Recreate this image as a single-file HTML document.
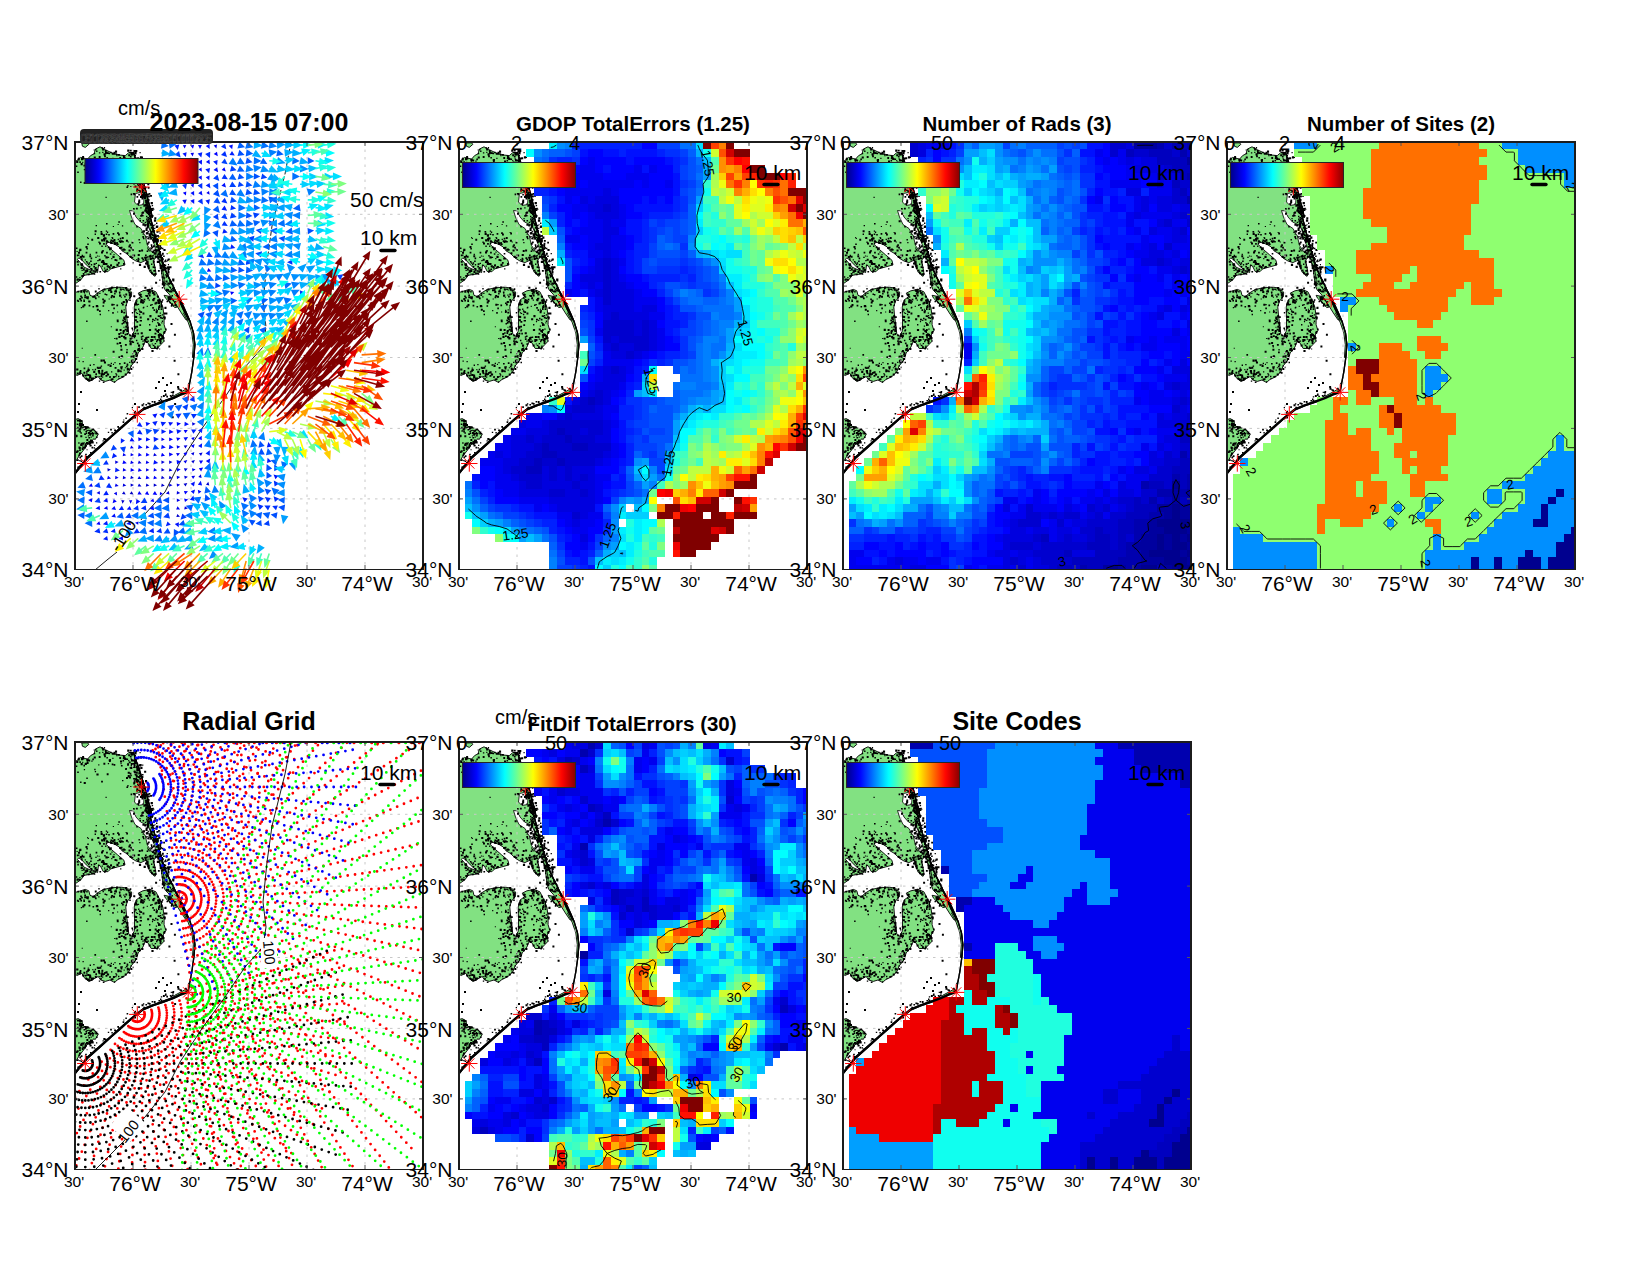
<!DOCTYPE html><html><head><meta charset="utf-8"><title>Totals diagnostics 2023-08-15 07:00</title>
<style>html,body{margin:0;padding:0;background:#fff}svg{display:block}text{font-family:'Liberation Sans',sans-serif;fill:#000}</style></head><body>
<svg width="1650" height="1275" viewBox="0 0 1650 1275">
<rect width="1650" height="1275" fill="#fff"/>
<defs>
<linearGradient id="jetg" x1="0" x2="1" y1="0" y2="0"><stop offset="0.0000" stop-color="#000088"/><stop offset="0.0312" stop-color="#0000a7"/><stop offset="0.0625" stop-color="#0000c6"/><stop offset="0.0938" stop-color="#0000e6"/><stop offset="0.1250" stop-color="#0006ff"/><stop offset="0.1562" stop-color="#0025ff"/><stop offset="0.1875" stop-color="#0045ff"/><stop offset="0.2188" stop-color="#0064ff"/><stop offset="0.2500" stop-color="#0084ff"/><stop offset="0.2812" stop-color="#00a3ff"/><stop offset="0.3125" stop-color="#00c2ff"/><stop offset="0.3438" stop-color="#00e2ff"/><stop offset="0.3750" stop-color="#02fffd"/><stop offset="0.4062" stop-color="#21ffde"/><stop offset="0.4375" stop-color="#41ffbe"/><stop offset="0.4688" stop-color="#60ff9f"/><stop offset="0.5000" stop-color="#80ff80"/><stop offset="0.5312" stop-color="#9fff60"/><stop offset="0.5625" stop-color="#beff41"/><stop offset="0.5938" stop-color="#deff21"/><stop offset="0.6250" stop-color="#fdff02"/><stop offset="0.6562" stop-color="#ffe200"/><stop offset="0.6875" stop-color="#ffc200"/><stop offset="0.7188" stop-color="#ffa300"/><stop offset="0.7500" stop-color="#ff8400"/><stop offset="0.7812" stop-color="#ff6400"/><stop offset="0.8125" stop-color="#ff4500"/><stop offset="0.8438" stop-color="#ff2500"/><stop offset="0.8750" stop-color="#ff0600"/><stop offset="0.9062" stop-color="#e60000"/><stop offset="0.9375" stop-color="#c60000"/><stop offset="0.9688" stop-color="#a70000"/><stop offset="1.0000" stop-color="#880000"/></linearGradient>
<clipPath id="pc"><rect x="0" y="0" width="348" height="427"/></clipPath>
<g id="land"><path d="M-0.3 20.3 L5.6 15.4 L12.6 17.1 L15.6 13.6 L19.1 11.8 L20.3 7.1 L25.0 4.8 L30.3 7.7 L36.2 10.6 L44.4 13.0 L50.3 13.6 L53.8 10.6 L58.5 10.6 L60.4 16.5 L65.6 31.8 L70.3 47.1 L77.4 75.4 L75.3 74.9 L80.0 93.7 L84.7 110.7 L81.8 114.4 L78.6 118.2 L80.0 125.7 L81.1 132.3 L80.0 134.4 L75.3 130.4 L72.4 123.9 L71.0 118.2 L65.9 120.6 L61.1 119.1 L56.4 116.3 L51.7 111.6 L47.0 108.8 L44.2 105.0 L40.5 102.7 L35.7 100.8 L32.5 100.3 L31.0 102.2 L35.7 106.9 L42.3 112.6 L48.9 118.2 L50.0 122.9 L42.3 125.0 L35.7 126.9 L32.9 129.7 L28.2 129.5 L25.4 123.9 L23.5 122.9 L22.6 130.6 L16.9 127.8 L11.3 122.9 L6.6 117.7 L3.8 115.9 L2.4 117.3 L9.4 125.3 L20.7 130.4 L18.8 131.8 L9.4 133.3 L5.6 138.0 L0.0 141.9 L-0.9 141.9Z M84.7 110.7 L89.4 125.7 L94.1 136.1 L98.8 145.5 L103.5 156.8 L108.2 167.1 L113.8 177.9 L111.0 177.9 L106.3 170.9 L101.6 163.4 L97.8 157.7 L94.1 152.1 L90.3 148.3 L88.0 142.7 L87.5 137.0 L85.6 123.9 L83.3 115.4Z M-1.5 150.9 L4.4 149.2 L10.3 147.4 L13.8 148.8 L15.0 153.3 L18.5 154.7 L22.1 151.2 L27.9 147.6 L36.2 145.8 L45.6 145.1 L52.6 146.2 L56.4 149.8 L56.4 154.5 L52.4 159.2 L50.8 165.1 L51.5 173.3 L52.9 183.9 L53.8 192.1 L56.4 194.5 L59.5 188.6 L59.5 176.8 L59.2 165.1 L61.1 158.0 L65.6 154.7 L63.2 151.2 L67.9 148.8 L75.0 147.4 L80.9 149.8 L84.4 156.8 L87.9 165.1 L89.1 174.5 L89.1 182.7 L90.9 188.6 L87.9 193.3 L89.1 199.2 L85.6 202.9 L82.1 206.5 L76.2 206.5 L72.6 200.4 L70.3 199.2 L67.9 205.1 L63.2 210.9 L60.9 218.0 L56.2 223.9 L53.8 229.8 L49.1 234.5 L42.1 238.0 L39.7 240.6 L35.0 238.0 L30.3 239.4 L25.6 238.0 L23.2 234.5 L18.5 237.1 L13.8 239.4 L9.1 235.6 L6.8 231.2 L2.1 233.5 L-1.5 231.2Z M89.1 153.3 L95.0 154.5 L99.1 159.4 L102.1 165.1 L99.7 165.6 L95.0 160.6 L90.5 156.2Z M-1.5 278.0 L3.2 276.6 L6.8 278.6 L8.2 284.1 L12.6 285.3 L18.5 287.4 L23.2 292.4 L20.3 297.4 L18.5 296.8 L15.0 302.7 L12.6 301.8 L9.1 307.4 L4.4 313.3 L0.9 319.2 L-1.5 321.5Z M6.8 1.0 L12.6 0.8 L13.8 2.4 L10.3 5.4 L7.4 4.2Z M85.6 118.0 L92.6 133.3 L100.9 149.8 L97.4 148.6 L93.2 143.3 L89.1 140.4 L89.1 135.6 L87.9 129.8 L84.4 120.4Z M110.9 169.8 L115.0 179.2 L118.5 190.9 L119.9 202.7 L118.8 215.6 L117.4 215.6 L118.3 202.7 L116.8 190.9 L113.2 180.4 L108.5 170.9Z M113.2 249.8 L106.8 252.1 L98.5 255.9 L99.7 253.3 L106.8 249.5 L111.5 246.8Z" fill="#82e182" stroke="#000" stroke-width="0.9" stroke-linejoin="round"/>
<path d="M60.5 51.5 L65.5 50.5 L69.0 56.5 L68.5 62.5 L63.0 63.5 L59.5 60.0Z M54.5 68.5 L58.5 69.0 L61.0 75.0 L65.5 80.0 L72.0 83.0 L75.0 87.0 L76.0 97.0 L72.5 97.0 L69.0 92.0 L66.0 86.5 L60.0 82.5 L56.5 75.0Z M70.3 94.2 L76.2 95.4 L79.7 103.6 L80.9 110.6 L77.4 110.6 L72.6 103.6Z" fill="#fff" stroke="#000" stroke-width="0.8"/>
<path d="M54.4 10.6 L58.5 10.6 L60.4 16.5 L65.6 31.8 L70.3 47.1 L77.4 75.4 L70.6 58.0 L75.3 74.9 L80.0 93.7 L84.7 110.7 L89.4 125.7 L94.1 136.1 L98.8 145.5 L103.5 156.8 L108.2 167.1 L113.8 177.9 L100.9 149.8 L105.6 158.0 L110.9 169.8 L115.0 179.2 L118.5 190.9 L119.9 202.7 L118.8 215.6 L116.8 229.8 L114.4 242.7 L113.2 249.8" fill="none" stroke="#000" stroke-width="1.3"/>
<path d="M113.2 249.8 L106.8 252.1 L98.5 255.9 L89.1 259.4 L77.4 263.5 L67.9 267.4 L56.2 276.8 L46.8 285.1 L36.2 294.5 L24.4 305.1 L12.6 315.6 L-0.3 331.5" fill="none" stroke="#000" stroke-width="2.2"/>
<path d="M50.6 90.0h1.1v1.1h-1.1zM78.6 124.7h1.2v1.2h-1.2zM6.9 113.9h1.3v1.3h-1.3zM59.9 36.3h2.2v2.2h-2.2zM43.3 79.2h1.6v1.6h-1.6zM51.2 90.6h1.8v1.8h-1.8zM38.5 97.0h1.9v1.9h-1.9zM31.1 109.8h1.7v1.7h-1.7zM61.3 46.3h2.0v2.0h-2.0zM58.4 18.0h1.5v1.5h-1.5zM74.3 66.0h1.2v1.2h-1.2zM67.6 51.4h1.4v1.4h-1.4zM66.4 41.2h1.6v1.6h-1.6zM79.1 124.7h1.6v1.6h-1.6zM79.5 131.0h1.9v1.9h-1.9zM75.4 127.6h1.1v1.1h-1.1zM62.2 27.4h1.8v1.8h-1.8zM67.3 116.8h1.8v1.8h-1.8zM9.7 20.8h2.2v2.2h-2.2zM31.4 15.0h1.5v1.5h-1.5zM34.9 99.3h1.4v1.4h-1.4zM44.6 99.3h1.6v1.6h-1.6zM2.7 16.3h2.1v2.1h-2.1zM59.5 18.3h2.1v2.1h-2.1zM34.0 106.3h1.9v1.9h-1.9zM11.6 16.9h2.1v2.1h-2.1zM24.0 100.5h2.0v2.0h-2.0zM69.8 116.6h1.6v1.6h-1.6zM33.1 104.6h1.6v1.6h-1.6zM60.7 15.5h2.0v2.0h-2.0zM22.2 95.0h2.1v2.1h-2.1zM74.3 93.6h2.1v2.1h-2.1zM45.3 105.5h1.4v1.4h-1.4zM31.6 123.6h1.7v1.7h-1.7zM71.9 70.2h1.9v1.9h-1.9zM66.3 89.5h1.5v1.5h-1.5zM18.7 14.4h2.1v2.1h-2.1zM26.7 123.5h1.2v1.2h-1.2zM72.1 63.9h1.6v1.6h-1.6zM41.3 99.9h1.6v1.6h-1.6zM63.1 58.8h2.1v2.1h-2.1zM1.7 136.6h1.2v1.2h-1.2zM28.4 20.8h1.9v1.9h-1.9zM12.2 101.4h1.6v1.6h-1.6zM63.5 97.0h1.4v1.4h-1.4zM6.1 117.4h1.1v1.1h-1.1zM79.5 127.8h1.6v1.6h-1.6zM43.0 91.5h1.9v1.9h-1.9zM29.7 120.9h1.6v1.6h-1.6zM74.4 114.8h1.4v1.4h-1.4zM2.2 29.4h1.6v1.6h-1.6zM67.3 61.5h1.1v1.1h-1.1zM76.6 115.0h1.2v1.2h-1.2zM69.7 79.8h1.3v1.3h-1.3zM77.8 115.6h1.6v1.6h-1.6zM37.4 113.8h2.2v2.2h-2.2zM78.0 87.9h1.7v1.7h-1.7zM11.1 127.9h2.2v2.2h-2.2zM4.0 108.3h1.3v1.3h-1.3zM68.6 123.7h2.2v2.2h-2.2zM23.2 22.2h1.2v1.2h-1.2zM29.2 129.6h1.3v1.3h-1.3zM40.5 100.7h1.1v1.1h-1.1zM21.4 31.4h2.2v2.2h-2.2zM34.1 123.9h1.1v1.1h-1.1zM78.6 122.3h1.4v1.4h-1.4zM27.8 92.2h2.2v2.2h-2.2zM30.8 88.5h1.2v1.2h-1.2zM44.2 104.9h2.0v2.0h-2.0zM82.1 98.8h1.6v1.6h-1.6zM69.1 49.4h1.7v1.7h-1.7zM47.8 15.7h1.6v1.6h-1.6zM71.5 77.6h2.2v2.2h-2.2zM72.0 105.4h1.2v1.2h-1.2zM9.5 129.4h1.3v1.3h-1.3zM61.2 83.9h1.7v1.7h-1.7zM71.0 69.3h2.0v2.0h-2.0zM26.3 103.4h1.5v1.5h-1.5zM13.1 17.5h2.1v2.1h-2.1zM72.9 74.9h1.2v1.2h-1.2zM26.7 108.4h1.8v1.8h-1.8zM32.0 10.3h1.8v1.8h-1.8zM30.6 9.8h1.9v1.9h-1.9zM50.2 26.0h1.8v1.8h-1.8zM7.6 113.8h2.0v2.0h-2.0zM37.0 95.6h1.3v1.3h-1.3zM37.6 113.8h1.4v1.4h-1.4zM34.3 17.1h1.7v1.7h-1.7zM66.2 72.3h2.1v2.1h-2.1zM3.1 136.4h1.2v1.2h-1.2zM42.1 90.3h1.8v1.8h-1.8zM19.8 29.0h1.3v1.3h-1.3zM30.1 103.6h1.3v1.3h-1.3zM53.4 103.6h1.9v1.9h-1.9zM15.5 126.0h1.9v1.9h-1.9zM69.5 61.9h1.6v1.6h-1.6zM0.8 134.2h1.5v1.5h-1.5zM6.6 125.8h1.3v1.3h-1.3zM63.1 116.5h1.4v1.4h-1.4zM76.0 129.5h1.2v1.2h-1.2zM16.1 130.4h1.8v1.8h-1.8zM8.3 127.2h1.5v1.5h-1.5zM36.4 109.5h1.2v1.2h-1.2zM13.7 120.3h1.5v1.5h-1.5zM42.9 120.1h1.5v1.5h-1.5zM66.5 39.6h1.7v1.7h-1.7zM73.1 78.9h2.1v2.1h-2.1zM7.0 15.8h1.4v1.4h-1.4zM64.2 99.9h1.3v1.3h-1.3zM70.8 64.9h1.8v1.8h-1.8zM59.6 31.9h1.2v1.2h-1.2zM46.9 83.2h1.3v1.3h-1.3zM3.1 112.4h1.4v1.4h-1.4zM72.2 75.3h1.2v1.2h-1.2zM28.8 5.1h1.3v1.3h-1.3zM4.2 106.7h2.2v2.2h-2.2zM72.4 116.4h1.3v1.3h-1.3zM35.2 100.0h2.1v2.1h-2.1zM14.3 113.3h1.9v1.9h-1.9zM57.5 120.0h1.4v1.4h-1.4zM62.6 115.8h1.5v1.5h-1.5zM72.8 125.0h2.0v2.0h-2.0zM63.4 57.6h1.8v1.8h-1.8zM68.9 52.6h2.1v2.1h-2.1zM74.3 108.2h1.3v1.3h-1.3zM61.2 116.9h1.3v1.3h-1.3zM1.8 112.6h1.7v1.7h-1.7zM25.5 88.9h1.7v1.7h-1.7zM63.7 108.0h2.0v2.0h-2.0zM29.5 127.2h1.2v1.2h-1.2zM20.6 109.7h1.7v1.7h-1.7zM71.8 84.7h1.9v1.9h-1.9zM29.0 125.5h1.3v1.3h-1.3zM29.1 13.4h1.8v1.8h-1.8zM1.2 18.8h2.1v2.1h-2.1zM71.5 118.6h2.1v2.1h-2.1zM74.5 113.4h1.8v1.8h-1.8zM1.5 136.8h2.0v2.0h-2.0zM38.8 99.6h2.0v2.0h-2.0zM8.6 125.4h1.2v1.2h-1.2zM5.1 39.6h1.4v1.4h-1.4zM66.4 115.2h1.9v1.9h-1.9zM30.8 100.8h1.5v1.5h-1.5zM65.3 24.8h2.2v2.2h-2.2zM33.9 18.2h1.9v1.9h-1.9zM6.4 116.3h1.2v1.2h-1.2zM7.1 13.9h2.0v2.0h-2.0zM73.3 64.8h1.3v1.3h-1.3zM18.3 123.8h1.7v1.7h-1.7zM74.9 81.1h2.1v2.1h-2.1zM69.3 82.2h2.2v2.2h-2.2zM66.1 107.4h2.0v2.0h-2.0zM71.8 100.8h1.9v1.9h-1.9zM42.6 96.8h1.3v1.3h-1.3zM27.1 118.0h2.1v2.1h-2.1zM36.7 21.6h1.7v1.7h-1.7zM8.4 22.8h1.6v1.6h-1.6zM23.6 113.7h1.1v1.1h-1.1zM55.5 16.2h1.3v1.3h-1.3zM21.0 128.2h1.3v1.3h-1.3zM5.6 21.1h2.1v2.1h-2.1zM81.1 109.0h1.5v1.5h-1.5zM50.9 97.7h2.0v2.0h-2.0zM63.3 52.0h1.6v1.6h-1.6zM37.3 15.8h1.2v1.2h-1.2zM54.5 25.3h1.3v1.3h-1.3zM30.7 91.5h1.6v1.6h-1.6zM37.6 91.0h1.7v1.7h-1.7zM69.1 52.0h1.4v1.4h-1.4zM50.1 16.3h1.4v1.4h-1.4zM57.9 51.1h2.1v2.1h-2.1zM72.0 120.3h1.7v1.7h-1.7zM10.1 128.0h1.4v1.4h-1.4zM26.0 109.4h2.0v2.0h-2.0zM23.9 10.2h1.4v1.4h-1.4zM76.7 62.9h1.4v1.4h-1.4zM77.6 124.2h1.9v1.9h-1.9zM31.7 31.3h1.9v1.9h-1.9zM61.1 30.0h1.7v1.7h-1.7zM28.7 121.2h1.7v1.7h-1.7zM79.9 107.0h1.6v1.6h-1.6zM51.4 44.4h1.7v1.7h-1.7zM83.9 109.6h1.3v1.3h-1.3zM77.1 92.1h1.3v1.3h-1.3zM69.1 114.7h1.9v1.9h-1.9zM45.0 18.5h2.1v2.1h-2.1zM57.2 112.4h1.7v1.7h-1.7zM53.2 18.1h1.1v1.1h-1.1zM26.9 119.1h1.7v1.7h-1.7zM6.0 16.0h2.2v2.2h-2.2zM65.8 45.5h1.7v1.7h-1.7zM70.4 51.9h1.5v1.5h-1.5zM52.1 22.0h1.8v1.8h-1.8zM78.0 131.6h1.9v1.9h-1.9zM28.8 95.2h2.0v2.0h-2.0zM41.3 101.4h1.8v1.8h-1.8zM63.9 121.8h2.2v2.2h-2.2zM68.7 44.1h1.7v1.7h-1.7zM4.3 134.9h1.2v1.2h-1.2zM77.1 104.5h1.4v1.4h-1.4zM67.3 94.1h1.7v1.7h-1.7zM49.2 16.0h2.0v2.0h-2.0zM64.7 21.9h2.0v2.0h-2.0zM68.8 63.7h1.1v1.1h-1.1zM56.4 114.6h1.9v1.9h-1.9zM33.5 10.8h1.5v1.5h-1.5zM26.1 97.2h2.1v2.1h-2.1zM5.3 121.6h1.6v1.6h-1.6zM55.6 78.2h2.1v2.1h-2.1zM59.3 20.2h1.9v1.9h-1.9zM74.2 78.5h1.5v1.5h-1.5zM72.7 106.8h1.6v1.6h-1.6zM70.5 53.0h1.3v1.3h-1.3zM68.8 49.5h2.0v2.0h-2.0zM77.3 113.0h1.5v1.5h-1.5zM1.5 108.9h1.2v1.2h-1.2zM44.3 15.1h1.8v1.8h-1.8zM47.2 98.9h1.6v1.6h-1.6zM68.3 45.2h2.2v2.2h-2.2zM11.4 127.2h1.9v1.9h-1.9zM19.6 88.2h2.0v2.0h-2.0zM36.2 116.1h1.2v1.2h-1.2zM9.2 130.0h1.2v1.2h-1.2zM64.4 35.7h2.1v2.1h-2.1zM72.5 122.8h2.2v2.2h-2.2zM10.5 129.5h1.3v1.3h-1.3zM34.8 111.2h1.6v1.6h-1.6zM58.5 28.8h2.2v2.2h-2.2zM23.7 14.0h1.9v1.9h-1.9zM5.4 121.9h1.7v1.7h-1.7zM70.5 117.4h1.6v1.6h-1.6zM72.4 60.1h1.7v1.7h-1.7zM74.9 112.7h1.6v1.6h-1.6zM18.9 131.4h1.4v1.4h-1.4zM39.0 101.6h1.2v1.2h-1.2zM9.7 117.2h1.2v1.2h-1.2zM15.1 118.5h1.6v1.6h-1.6zM45.1 126.3h1.3v1.3h-1.3zM33.2 92.0h1.6v1.6h-1.6zM47.6 13.1h1.2v1.2h-1.2zM64.3 44.1h1.9v1.9h-1.9zM20.3 114.7h1.4v1.4h-1.4zM43.0 11.9h1.9v1.9h-1.9zM11.6 20.1h2.0v2.0h-2.0zM11.8 120.4h1.4v1.4h-1.4zM26.1 38.8h1.8v1.8h-1.8zM58.0 70.8h1.9v1.9h-1.9zM3.0 109.8h2.0v2.0h-2.0zM74.6 115.9h2.1v2.1h-2.1zM31.2 127.2h1.2v1.2h-1.2zM18.6 121.2h1.9v1.9h-1.9zM52.7 99.5h1.1v1.1h-1.1zM5.6 124.9h2.2v2.2h-2.2zM71.0 62.7h1.5v1.5h-1.5zM19.4 128.2h1.6v1.6h-1.6zM62.3 61.0h1.9v1.9h-1.9zM8.2 132.6h1.5v1.5h-1.5zM7.2 19.8h1.1v1.1h-1.1zM74.8 127.8h1.7v1.7h-1.7zM58.9 28.5h1.6v1.6h-1.6zM45.5 21.1h1.1v1.1h-1.1zM72.1 114.3h1.5v1.5h-1.5zM1.7 118.8h2.0v2.0h-2.0zM75.5 89.1h1.6v1.6h-1.6zM18.6 7.4h1.1v1.1h-1.1zM10.6 109.8h1.8v1.8h-1.8zM23.4 99.6h1.4v1.4h-1.4zM53.1 32.9h1.6v1.6h-1.6zM48.4 122.0h1.2v1.2h-1.2zM72.6 88.7h1.3v1.3h-1.3zM46.8 95.0h1.9v1.9h-1.9zM76.1 90.5h1.3v1.3h-1.3zM6.1 122.4h2.1v2.1h-2.1zM21.9 113.4h1.2v1.2h-1.2zM30.4 114.3h2.1v2.1h-2.1zM51.4 110.3h2.0v2.0h-2.0zM70.8 90.5h2.1v2.1h-2.1zM20.1 6.9h1.4v1.4h-1.4zM42.6 81.9h1.1v1.1h-1.1zM46.7 107.2h1.2v1.2h-1.2zM45.4 115.9h1.5v1.5h-1.5zM42.2 101.6h1.5v1.5h-1.5zM76.1 130.2h2.0v2.0h-2.0zM28.5 11.3h2.1v2.1h-2.1zM44.2 115.5h2.0v2.0h-2.0zM24.4 128.9h1.7v1.7h-1.7zM27.8 120.9h2.0v2.0h-2.0zM59.8 32.0h1.4v1.4h-1.4zM11.3 16.8h1.9v1.9h-1.9zM38.1 124.1h1.8v1.8h-1.8zM66.8 47.8h1.7v1.7h-1.7zM17.3 16.6h1.6v1.6h-1.6zM10.5 103.9h2.0v2.0h-2.0zM51.0 34.9h2.0v2.0h-2.0zM69.3 54.4h1.4v1.4h-1.4zM41.4 121.8h2.2v2.2h-2.2zM5.9 123.3h1.3v1.3h-1.3zM78.5 103.4h1.4v1.4h-1.4zM58.3 112.5h1.9v1.9h-1.9zM12.1 95.1h1.1v1.1h-1.1zM73.5 62.7h1.4v1.4h-1.4zM40.0 8.6h2.1v2.1h-2.1zM25.6 90.8h2.1v2.1h-2.1zM61.0 23.8h1.9v1.9h-1.9zM33.7 17.3h1.8v1.8h-1.8zM20.7 120.8h1.3v1.3h-1.3zM66.5 55.3h2.1v2.1h-2.1zM54.2 102.3h1.7v1.7h-1.7zM70.0 53.7h1.3v1.3h-1.3zM35.1 9.7h1.6v1.6h-1.6zM21.1 8.5h1.4v1.4h-1.4zM12.9 131.4h1.9v1.9h-1.9zM19.2 26.8h1.4v1.4h-1.4zM62.8 48.0h1.1v1.1h-1.1zM31.1 114.8h1.7v1.7h-1.7zM15.8 122.0h1.4v1.4h-1.4zM55.6 51.6h1.6v1.6h-1.6zM72.2 57.1h2.1v2.1h-2.1zM44.7 110.9h1.6v1.6h-1.6zM56.2 12.2h1.6v1.6h-1.6zM13.0 121.8h1.5v1.5h-1.5zM23.1 122.7h1.5v1.5h-1.5zM37.8 83.9h1.2v1.2h-1.2zM54.7 30.8h1.6v1.6h-1.6zM75.3 95.7h1.7v1.7h-1.7zM34.0 125.1h1.7v1.7h-1.7zM32.7 104.8h1.5v1.5h-1.5zM32.7 124.9h1.1v1.1h-1.1zM14.6 111.7h1.3v1.3h-1.3zM36.8 10.9h1.8v1.8h-1.8zM58.8 40.8h1.2v1.2h-1.2zM66.3 44.1h2.2v2.2h-2.2zM78.6 93.9h1.2v1.2h-1.2zM56.5 99.7h1.9v1.9h-1.9zM32.8 20.9h1.3v1.3h-1.3zM78.3 128.0h1.8v1.8h-1.8zM76.5 113.7h1.2v1.2h-1.2zM78.8 94.9h2.0v2.0h-2.0zM10.9 119.0h1.6v1.6h-1.6zM75.7 102.2h1.6v1.6h-1.6zM38.2 11.0h1.2v1.2h-1.2zM47.8 106.6h2.1v2.1h-2.1zM44.7 95.8h1.6v1.6h-1.6zM52.3 43.1h1.3v1.3h-1.3zM4.3 19.3h1.6v1.6h-1.6zM55.3 32.7h1.5v1.5h-1.5zM81.0 100.2h1.2v1.2h-1.2zM58.1 20.9h1.5v1.5h-1.5zM28.1 96.1h2.2v2.2h-2.2zM38.5 9.7h1.9v1.9h-1.9zM38.0 11.1h1.7v1.7h-1.7zM8.8 26.9h1.3v1.3h-1.3zM10.5 127.5h1.6v1.6h-1.6zM30.0 9.7h1.8v1.8h-1.8zM47.6 18.1h1.5v1.5h-1.5zM17.8 130.5h1.8v1.8h-1.8zM67.0 72.7h1.6v1.6h-1.6zM18.8 10.9h1.4v1.4h-1.4zM27.7 119.7h2.2v2.2h-2.2zM27.2 9.7h1.2v1.2h-1.2zM11.7 18.8h1.1v1.1h-1.1zM77.8 118.5h1.9v1.9h-1.9zM60.9 33.6h2.0v2.0h-2.0zM3.7 136.7h2.1v2.1h-2.1zM35.1 105.2h1.7v1.7h-1.7zM70.1 65.9h1.9v1.9h-1.9zM67.9 88.2h2.2v2.2h-2.2zM28.1 92.9h1.8v1.8h-1.8zM35.4 97.6h1.9v1.9h-1.9zM64.1 39.2h2.1v2.1h-2.1zM73.3 70.5h1.2v1.2h-1.2zM32.8 114.7h1.3v1.3h-1.3zM43.7 98.3h1.7v1.7h-1.7zM31.5 126.6h1.5v1.5h-1.5zM4.8 113.9h2.1v2.1h-2.1zM72.6 95.3h1.7v1.7h-1.7zM71.8 121.3h1.9v1.9h-1.9zM27.1 6.5h2.1v2.1h-2.1zM20.1 125.1h1.6v1.6h-1.6zM45.5 98.3h2.1v2.1h-2.1zM79.6 110.4h2.0v2.0h-2.0zM26.5 97.3h2.1v2.1h-2.1zM67.5 77.9h1.6v1.6h-1.6zM31.9 89.6h1.3v1.3h-1.3zM45.9 22.9h1.7v1.7h-1.7zM30.8 98.3h2.1v2.1h-2.1zM72.9 99.5h1.8v1.8h-1.8zM38.5 112.0h1.1v1.1h-1.1zM80.1 115.1h1.2v1.2h-1.2zM37.4 124.2h1.5v1.5h-1.5zM68.1 50.3h2.0v2.0h-2.0zM80.7 113.7h1.6v1.6h-1.6zM38.6 22.1h1.7v1.7h-1.7zM66.6 53.4h1.8v1.8h-1.8zM79.8 113.6h1.6v1.6h-1.6zM78.0 95.2h2.2v2.2h-2.2zM30.1 10.8h1.5v1.5h-1.5zM66.6 49.4h1.7v1.7h-1.7zM52.1 21.3h1.9v1.9h-1.9zM44.5 15.0h1.1v1.1h-1.1zM29.5 128.0h1.9v1.9h-1.9zM74.5 92.4h1.4v1.4h-1.4zM80.6 103.7h2.0v2.0h-2.0zM58.1 17.7h1.2v1.2h-1.2zM73.8 92.5h1.6v1.6h-1.6zM11.3 106.0h1.6v1.6h-1.6zM5.9 116.3h1.7v1.7h-1.7zM45.7 104.8h1.8v1.8h-1.8zM48.9 14.7h1.7v1.7h-1.7zM70.0 112.4h1.7v1.7h-1.7zM63.5 47.7h1.2v1.2h-1.2zM31.9 123.2h2.0v2.0h-2.0zM60.6 32.3h1.9v1.9h-1.9zM72.0 82.1h1.6v1.6h-1.6zM40.9 117.6h1.6v1.6h-1.6zM39.5 117.1h1.8v1.8h-1.8zM70.6 85.5h2.0v2.0h-2.0zM55.2 104.7h1.7v1.7h-1.7zM23.7 116.8h2.0v2.0h-2.0zM59.3 15.6h1.2v1.2h-1.2zM49.6 107.2h1.2v1.2h-1.2zM78.6 110.8h2.0v2.0h-2.0zM32.4 99.2h1.4v1.4h-1.4zM3.3 15.5h1.2v1.2h-1.2zM27.4 108.1h1.4v1.4h-1.4zM6.0 121.2h2.1v2.1h-2.1zM14.4 128.8h2.1v2.1h-2.1zM42.9 119.9h1.8v1.8h-1.8zM38.5 11.1h1.6v1.6h-1.6zM36.9 125.2h1.2v1.2h-1.2zM7.5 15.8h1.8v1.8h-1.8zM8.7 39.9h2.1v2.1h-2.1zM28.9 98.3h1.2v1.2h-1.2zM76.2 82.5h1.5v1.5h-1.5zM6.6 112.7h1.4v1.4h-1.4zM31.0 81.0h1.6v1.6h-1.6zM19.4 125.8h2.0v2.0h-2.0zM6.3 133.0h2.0v2.0h-2.0zM62.1 41.7h1.9v1.9h-1.9zM56.6 106.4h1.3v1.3h-1.3zM29.2 113.0h1.5v1.5h-1.5zM53.8 19.4h1.9v1.9h-1.9zM48.0 121.0h1.8v1.8h-1.8zM74.3 86.7h1.3v1.3h-1.3zM15.6 115.6h1.6v1.6h-1.6zM0.8 105.4h1.7v1.7h-1.7zM30.5 121.0h2.0v2.0h-2.0zM26.7 118.1h2.0v2.0h-2.0zM41.3 13.0h1.3v1.3h-1.3zM29.8 7.9h1.9v1.9h-1.9zM70.0 62.7h2.1v2.1h-2.1zM73.9 73.4h1.7v1.7h-1.7zM76.0 121.6h1.4v1.4h-1.4zM40.5 11.4h1.7v1.7h-1.7zM30.5 54.7h1.2v1.2h-1.2zM47.0 37.9h1.4v1.4h-1.4zM70.5 86.8h2.1v2.1h-2.1zM51.5 16.5h1.6v1.6h-1.6zM8.0 126.4h1.6v1.6h-1.6zM60.5 24.7h1.3v1.3h-1.3zM11.5 131.5h1.1v1.1h-1.1zM28.1 101.0h1.7v1.7h-1.7zM71.0 73.8h1.4v1.4h-1.4zM58.0 66.0h1.7v1.7h-1.7zM7.7 131.0h1.6v1.6h-1.6zM11.3 35.6h1.5v1.5h-1.5zM48.0 14.1h1.9v1.9h-1.9zM16.3 18.5h1.3v1.3h-1.3zM25.9 119.3h1.8v1.8h-1.8zM53.5 107.5h2.1v2.1h-2.1zM76.8 95.1h1.2v1.2h-1.2zM78.8 95.0h2.1v2.1h-2.1zM6.5 117.3h1.1v1.1h-1.1zM70.0 120.6h1.8v1.8h-1.8zM70.0 114.4h2.1v2.1h-2.1zM13.8 123.9h1.6v1.6h-1.6zM57.2 107.0h1.8v1.8h-1.8zM61.6 36.9h2.0v2.0h-2.0zM2.3 121.8h1.6v1.6h-1.6zM53.2 12.2h2.0v2.0h-2.0zM62.7 111.9h2.1v2.1h-2.1zM62.3 118.0h1.9v1.9h-1.9zM16.3 96.8h1.9v1.9h-1.9zM67.4 81.8h2.0v2.0h-2.0zM12.8 95.9h1.1v1.1h-1.1zM6.5 127.7h1.3v1.3h-1.3zM55.0 113.8h1.6v1.6h-1.6zM63.7 35.1h1.1v1.1h-1.1zM62.2 15.2h2.0v2.0h-2.0zM58.2 40.9h1.7v1.7h-1.7zM67.1 51.6h2.0v2.0h-2.0zM65.2 65.2h1.4v1.4h-1.4zM78.9 98.8h1.8v1.8h-1.8zM67.9 95.7h1.6v1.6h-1.6zM75.2 81.5h1.7v1.7h-1.7zM54.7 114.0h1.9v1.9h-1.9zM67.5 54.0h1.4v1.4h-1.4zM70.4 60.0h1.8v1.8h-1.8zM19.6 91.6h1.4v1.4h-1.4zM29.6 95.4h2.0v2.0h-2.0zM35.0 122.5h2.0v2.0h-2.0zM37.1 98.3h2.2v2.2h-2.2zM77.0 86.8h1.6v1.6h-1.6zM26.5 5.2h1.5v1.5h-1.5zM36.5 94.9h1.3v1.3h-1.3zM65.2 72.9h1.8v1.8h-1.8zM22.3 117.9h1.3v1.3h-1.3zM0.9 23.5h1.4v1.4h-1.4zM6.5 15.9h1.5v1.5h-1.5zM20.6 82.9h1.4v1.4h-1.4zM78.1 97.6h1.9v1.9h-1.9zM39.7 101.6h1.3v1.3h-1.3zM67.2 54.5h1.4v1.4h-1.4zM73.8 113.3h1.7v1.7h-1.7zM35.6 122.3h1.2v1.2h-1.2zM70.7 57.8h1.5v1.5h-1.5zM21.1 126.9h1.9v1.9h-1.9zM51.8 191.0h1.3v1.3h-1.3zM61.3 188.0h1.5v1.5h-1.5zM31.8 232.3h1.1v1.1h-1.1zM54.2 198.2h1.7v1.7h-1.7zM84.7 170.5h1.2v1.2h-1.2zM60.2 211.8h1.6v1.6h-1.6zM24.3 231.0h1.2v1.2h-1.2zM81.7 176.7h1.8v1.8h-1.8zM71.7 147.2h2.1v2.1h-2.1zM21.9 152.4h1.3v1.3h-1.3zM45.6 225.6h1.8v1.8h-1.8zM36.3 161.7h2.1v2.1h-2.1zM39.0 239.3h1.1v1.1h-1.1zM78.1 202.8h1.4v1.4h-1.4zM90.0 186.5h1.7v1.7h-1.7zM77.2 165.0h1.7v1.7h-1.7zM47.3 177.7h1.6v1.6h-1.6zM68.8 198.0h1.6v1.6h-1.6zM14.5 232.4h1.6v1.6h-1.6zM51.3 180.1h2.1v2.1h-2.1zM47.8 180.3h1.4v1.4h-1.4zM83.4 156.9h1.9v1.9h-1.9zM73.3 149.5h2.1v2.1h-2.1zM87.5 195.1h2.0v2.0h-2.0zM73.9 186.9h2.2v2.2h-2.2zM8.7 147.7h2.1v2.1h-2.1zM50.9 223.5h1.7v1.7h-1.7zM83.0 166.5h1.6v1.6h-1.6zM37.4 145.5h1.1v1.1h-1.1zM54.2 150.2h2.1v2.1h-2.1zM64.4 207.5h1.6v1.6h-1.6zM14.6 222.6h1.4v1.4h-1.4zM55.5 213.8h1.8v1.8h-1.8zM76.3 148.3h1.7v1.7h-1.7zM10.7 154.2h1.1v1.1h-1.1zM64.6 178.1h1.5v1.5h-1.5zM59.8 184.2h1.3v1.3h-1.3zM76.1 145.5h1.8v1.8h-1.8zM21.8 166.7h2.0v2.0h-2.0zM76.6 197.1h1.9v1.9h-1.9zM65.5 177.9h1.5v1.5h-1.5zM67.0 158.0h1.7v1.7h-1.7zM49.3 195.0h2.2v2.2h-2.2zM32.5 222.3h1.5v1.5h-1.5zM34.2 222.2h1.1v1.1h-1.1zM11.1 230.2h1.5v1.5h-1.5zM48.6 167.3h1.2v1.2h-1.2zM50.4 162.7h1.3v1.3h-1.3zM8.8 162.0h1.7v1.7h-1.7zM68.8 196.9h2.1v2.1h-2.1zM82.9 158.9h2.0v2.0h-2.0zM57.5 193.2h1.6v1.6h-1.6zM86.8 172.2h1.2v1.2h-1.2zM55.1 154.0h1.2v1.2h-1.2zM60.1 212.1h1.5v1.5h-1.5zM82.1 157.6h1.9v1.9h-1.9zM70.8 198.9h2.0v2.0h-2.0zM54.2 154.8h1.8v1.8h-1.8zM64.3 182.2h1.8v1.8h-1.8zM86.1 192.9h1.5v1.5h-1.5zM61.1 161.7h1.8v1.8h-1.8zM37.9 234.1h2.0v2.0h-2.0zM56.6 194.8h1.5v1.5h-1.5zM49.7 231.4h2.1v2.1h-2.1zM58.0 209.4h1.4v1.4h-1.4zM83.2 192.1h1.7v1.7h-1.7zM5.2 153.6h1.7v1.7h-1.7zM35.0 147.3h1.6v1.6h-1.6zM59.8 159.9h1.6v1.6h-1.6zM83.8 162.7h1.2v1.2h-1.2zM6.7 205.7h1.1v1.1h-1.1zM19.8 233.9h2.0v2.0h-2.0zM27.1 147.7h1.1v1.1h-1.1zM60.9 210.4h1.5v1.5h-1.5zM60.0 215.8h2.2v2.2h-2.2zM9.8 232.7h1.7v1.7h-1.7zM88.8 189.1h1.6v1.6h-1.6zM60.3 209.7h1.9v1.9h-1.9zM65.8 154.3h1.5v1.5h-1.5zM73.7 157.6h1.2v1.2h-1.2zM61.7 187.3h1.5v1.5h-1.5zM64.1 208.0h1.5v1.5h-1.5zM52.1 174.3h1.7v1.7h-1.7zM56.0 218.8h1.4v1.4h-1.4zM20.8 163.0h2.2v2.2h-2.2zM13.6 162.7h1.7v1.7h-1.7zM23.0 225.5h1.5v1.5h-1.5zM79.5 160.5h2.1v2.1h-2.1zM18.2 228.8h2.1v2.1h-2.1zM48.8 220.3h1.7v1.7h-1.7zM58.8 183.7h1.8v1.8h-1.8zM85.2 198.2h1.2v1.2h-1.2zM84.8 192.0h2.2v2.2h-2.2zM30.9 152.1h1.5v1.5h-1.5zM55.9 218.1h2.2v2.2h-2.2zM41.7 177.4h1.9v1.9h-1.9zM49.1 153.9h1.6v1.6h-1.6zM11.8 236.4h1.2v1.2h-1.2zM62.0 170.9h1.2v1.2h-1.2zM50.3 151.5h1.9v1.9h-1.9zM74.5 148.5h1.4v1.4h-1.4zM64.7 174.6h2.0v2.0h-2.0zM67.7 165.3h1.3v1.3h-1.3zM74.4 173.1h2.1v2.1h-2.1zM48.6 227.6h1.1v1.1h-1.1zM8.3 158.3h1.7v1.7h-1.7zM64.7 152.9h1.8v1.8h-1.8zM88.4 198.4h1.1v1.1h-1.1zM82.7 173.2h1.9v1.9h-1.9zM59.1 161.5h2.0v2.0h-2.0zM52.1 222.5h1.3v1.3h-1.3zM50.6 159.6h1.1v1.1h-1.1zM79.7 160.7h1.9v1.9h-1.9zM59.7 185.2h1.6v1.6h-1.6zM51.1 158.6h1.8v1.8h-1.8zM65.5 157.0h2.1v2.1h-2.1zM34.4 234.0h1.4v1.4h-1.4zM58.2 213.1h1.4v1.4h-1.4zM36.0 229.2h1.3v1.3h-1.3zM82.8 159.9h2.2v2.2h-2.2zM29.5 151.4h1.5v1.5h-1.5zM83.0 165.4h1.5v1.5h-1.5zM40.8 232.2h1.5v1.5h-1.5zM21.6 163.5h1.8v1.8h-1.8zM13.4 158.4h2.1v2.1h-2.1zM56.4 185.5h1.7v1.7h-1.7zM80.9 159.8h1.2v1.2h-1.2zM23.6 233.9h1.2v1.2h-1.2zM63.1 166.6h1.3v1.3h-1.3zM45.8 154.7h1.1v1.1h-1.1zM64.5 169.4h1.3v1.3h-1.3zM27.1 234.6h1.2v1.2h-1.2zM74.9 150.2h1.3v1.3h-1.3zM25.4 233.4h1.8v1.8h-1.8zM73.7 146.8h1.8v1.8h-1.8zM63.0 202.6h2.1v2.1h-2.1zM68.6 156.7h1.8v1.8h-1.8zM83.8 173.5h1.5v1.5h-1.5zM11.4 232.3h1.5v1.5h-1.5zM85.6 166.2h1.7v1.7h-1.7zM86.9 157.2h1.5v1.5h-1.5zM39.4 220.1h1.2v1.2h-1.2zM27.5 148.8h1.4v1.4h-1.4zM11.9 237.1h1.5v1.5h-1.5zM73.7 152.5h1.9v1.9h-1.9zM53.8 152.0h2.1v2.1h-2.1zM57.3 191.2h2.0v2.0h-2.0zM70.2 152.9h1.7v1.7h-1.7zM14.1 233.7h2.2v2.2h-2.2zM33.8 145.8h1.3v1.3h-1.3zM23.8 238.4h1.4v1.4h-1.4zM65.2 159.0h2.2v2.2h-2.2zM35.6 236.5h2.0v2.0h-2.0zM34.2 234.4h1.6v1.6h-1.6zM81.5 197.1h2.0v2.0h-2.0zM58.5 153.4h1.8v1.8h-1.8zM62.3 190.8h1.6v1.6h-1.6zM50.8 146.8h2.0v2.0h-2.0zM35.5 145.2h1.8v1.8h-1.8zM45.9 168.8h2.0v2.0h-2.0zM81.3 188.1h1.8v1.8h-1.8zM59.9 160.4h2.1v2.1h-2.1zM12.5 226.8h2.0v2.0h-2.0zM48.6 147.4h1.2v1.2h-1.2zM57.5 199.5h1.6v1.6h-1.6zM69.9 198.9h1.4v1.4h-1.4zM28.9 219.5h2.1v2.1h-2.1zM79.4 194.4h1.2v1.2h-1.2zM35.2 149.0h2.1v2.1h-2.1zM4.1 230.8h1.7v1.7h-1.7zM27.8 239.4h1.7v1.7h-1.7zM71.1 152.9h2.0v2.0h-2.0zM48.4 184.7h1.1v1.1h-1.1zM84.1 156.7h1.5v1.5h-1.5zM61.4 212.5h1.6v1.6h-1.6zM68.5 159.1h1.3v1.3h-1.3zM48.2 175.4h1.7v1.7h-1.7zM62.7 205.9h2.1v2.1h-2.1zM11.1 236.2h1.6v1.6h-1.6zM39.2 148.6h1.9v1.9h-1.9zM46.3 234.1h1.6v1.6h-1.6zM60.7 213.8h1.7v1.7h-1.7zM75.9 194.0h2.0v2.0h-2.0zM3.5 218.5h1.3v1.3h-1.3zM30.5 232.9h1.9v1.9h-1.9zM45.2 228.6h1.6v1.6h-1.6zM78.3 193.9h2.2v2.2h-2.2zM21.4 152.5h1.6v1.6h-1.6zM74.0 182.1h1.4v1.4h-1.4zM52.1 188.2h1.2v1.2h-1.2zM17.1 235.6h1.9v1.9h-1.9zM43.3 191.0h1.9v1.9h-1.9zM81.0 166.7h1.1v1.1h-1.1zM51.5 191.3h1.6v1.6h-1.6zM56.1 198.7h2.0v2.0h-2.0zM54.9 201.1h1.5v1.5h-1.5zM44.0 152.6h2.2v2.2h-2.2zM8.4 162.3h1.9v1.9h-1.9zM61.4 178.9h1.9v1.9h-1.9zM52.8 226.4h1.9v1.9h-1.9zM60.2 166.9h1.5v1.5h-1.5zM47.8 188.1h2.0v2.0h-2.0zM47.7 158.9h2.2v2.2h-2.2zM11.1 178.4h1.5v1.5h-1.5zM51.6 186.5h1.7v1.7h-1.7zM23.2 228.9h1.8v1.8h-1.8zM35.6 154.6h1.7v1.7h-1.7zM5.3 157.7h1.7v1.7h-1.7zM24.2 150.8h1.3v1.3h-1.3zM1.9 157.8h1.6v1.6h-1.6zM4.3 156.0h1.9v1.9h-1.9zM28.5 146.6h2.0v2.0h-2.0zM73.9 187.5h1.5v1.5h-1.5zM86.2 194.0h1.8v1.8h-1.8zM82.9 187.1h1.8v1.8h-1.8zM12.2 227.9h1.8v1.8h-1.8zM71.7 163.8h1.1v1.1h-1.1zM71.6 197.3h1.1v1.1h-1.1zM58.9 193.1h2.0v2.0h-2.0zM44.5 145.1h1.2v1.2h-1.2zM24.0 168.3h1.7v1.7h-1.7zM49.8 145.0h2.2v2.2h-2.2zM19.9 155.4h1.8v1.8h-1.8zM26.4 227.8h1.9v1.9h-1.9zM86.8 178.6h1.3v1.3h-1.3zM40.2 234.0h1.3v1.3h-1.3zM88.7 174.4h2.1v2.1h-2.1zM49.4 195.3h2.1v2.1h-2.1zM18.6 153.6h2.1v2.1h-2.1zM50.3 183.7h2.0v2.0h-2.0zM22.8 228.1h2.2v2.2h-2.2zM59.6 190.8h1.8v1.8h-1.8zM55.5 223.2h1.3v1.3h-1.3zM41.6 200.7h1.9v1.9h-1.9zM47.5 188.8h1.9v1.9h-1.9zM83.2 194.3h1.7v1.7h-1.7zM54.6 195.8h2.0v2.0h-2.0zM58.9 207.9h2.0v2.0h-2.0zM57.5 224.7h1.4v1.4h-1.4zM80.6 168.9h1.5v1.5h-1.5zM58.9 169.1h1.5v1.5h-1.5zM7.9 148.3h2.1v2.1h-2.1zM12.9 236.4h1.4v1.4h-1.4zM10.7 236.1h1.6v1.6h-1.6zM49.9 201.9h1.9v1.9h-1.9zM56.8 170.1h1.4v1.4h-1.4zM88.8 170.4h2.0v2.0h-2.0zM11.2 149.0h1.5v1.5h-1.5zM56.6 213.4h1.3v1.3h-1.3zM51.5 182.3h1.7v1.7h-1.7zM34.5 222.8h2.1v2.1h-2.1zM84.9 191.5h1.4v1.4h-1.4zM48.3 174.4h2.0v2.0h-2.0zM33.0 147.3h1.9v1.9h-1.9zM76.9 179.0h1.2v1.2h-1.2zM23.3 146.0h1.4v1.4h-1.4zM42.1 169.4h1.1v1.1h-1.1zM56.4 219.6h1.8v1.8h-1.8zM70.9 194.7h1.9v1.9h-1.9zM83.2 164.0h1.9v1.9h-1.9zM54.6 146.2h1.7v1.7h-1.7zM26.5 228.9h1.1v1.1h-1.1zM54.1 219.7h1.3v1.3h-1.3zM46.6 224.2h1.3v1.3h-1.3zM82.2 180.1h1.4v1.4h-1.4zM80.0 175.7h1.5v1.5h-1.5zM57.0 210.9h1.4v1.4h-1.4zM4.9 228.0h1.1v1.1h-1.1zM84.6 195.9h2.1v2.1h-2.1zM77.6 157.4h1.9v1.9h-1.9zM46.5 181.0h1.5v1.5h-1.5zM85.6 160.8h1.4v1.4h-1.4zM2.4 148.7h1.7v1.7h-1.7zM57.5 193.8h1.8v1.8h-1.8zM85.5 162.1h1.6v1.6h-1.6zM61.0 170.2h1.2v1.2h-1.2zM60.2 173.9h2.0v2.0h-2.0zM39.1 151.0h1.5v1.5h-1.5zM86.6 194.8h2.1v2.1h-2.1zM82.1 188.6h1.9v1.9h-1.9zM44.3 228.2h1.6v1.6h-1.6zM86.3 180.3h1.1v1.1h-1.1zM63.9 205.6h1.3v1.3h-1.3zM21.8 224.8h1.9v1.9h-1.9zM38.3 165.6h1.6v1.6h-1.6zM79.7 196.5h1.2v1.2h-1.2zM53.9 230.0h1.7v1.7h-1.7zM12.6 237.8h1.1v1.1h-1.1zM65.7 190.2h2.1v2.1h-2.1zM67.5 170.5h1.9v1.9h-1.9zM79.7 186.5h2.0v2.0h-2.0zM37.9 221.8h1.1v1.1h-1.1zM76.4 161.9h1.4v1.4h-1.4zM37.6 208.7h2.0v2.0h-2.0zM17.5 163.9h1.6v1.6h-1.6zM80.5 159.7h2.0v2.0h-2.0zM79.0 204.2h1.9v1.9h-1.9zM10.3 235.6h1.7v1.7h-1.7zM43.4 193.7h2.2v2.2h-2.2zM13.8 237.8h1.7v1.7h-1.7zM53.4 149.9h1.5v1.5h-1.5zM66.3 190.4h1.2v1.2h-1.2zM18.4 153.4h1.5v1.5h-1.5zM23.2 154.2h1.3v1.3h-1.3zM54.4 153.6h1.6v1.6h-1.6zM11.1 228.7h1.4v1.4h-1.4zM86.1 196.2h1.6v1.6h-1.6zM87.2 193.3h1.7v1.7h-1.7zM5.8 165.0h1.3v1.3h-1.3zM7.5 218.9h1.3v1.3h-1.3zM86.8 175.6h1.3v1.3h-1.3zM47.8 180.0h1.7v1.7h-1.7zM47.5 190.5h1.6v1.6h-1.6zM51.8 226.9h1.6v1.6h-1.6zM63.7 151.6h1.9v1.9h-1.9zM4.1 229.4h2.1v2.1h-2.1zM78.7 155.7h1.6v1.6h-1.6zM60.9 197.8h1.5v1.5h-1.5zM18.2 221.9h1.4v1.4h-1.4zM50.3 173.0h1.9v1.9h-1.9zM72.9 198.6h1.2v1.2h-1.2zM7.2 232.4h2.2v2.2h-2.2zM82.9 189.8h1.2v1.2h-1.2zM41.4 162.6h1.7v1.7h-1.7zM1.2 226.4h2.2v2.2h-2.2zM67.3 198.5h1.3v1.3h-1.3zM48.6 179.0h1.4v1.4h-1.4zM83.0 182.4h1.5v1.5h-1.5zM49.6 186.8h1.8v1.8h-1.8zM27.5 163.2h1.6v1.6h-1.6zM77.2 156.9h1.9v1.9h-1.9zM55.3 152.2h1.1v1.1h-1.1zM45.9 169.8h1.1v1.1h-1.1zM51.7 225.7h1.9v1.9h-1.9zM61.1 183.7h1.9v1.9h-1.9zM48.3 174.5h1.2v1.2h-1.2zM49.6 191.7h1.7v1.7h-1.7zM23.3 229.8h1.9v1.9h-1.9zM75.3 198.3h1.8v1.8h-1.8zM85.0 172.9h1.2v1.2h-1.2zM64.6 151.5h1.6v1.6h-1.6zM79.5 190.7h1.9v1.9h-1.9zM73.5 147.7h2.0v2.0h-2.0zM77.1 150.1h1.9v1.9h-1.9zM48.3 169.7h1.9v1.9h-1.9zM4.7 228.1h1.7v1.7h-1.7zM15.6 235.4h2.0v2.0h-2.0zM33.6 156.4h1.2v1.2h-1.2zM20.3 231.6h1.7v1.7h-1.7zM66.3 205.9h2.1v2.1h-2.1zM79.1 177.8h1.3v1.3h-1.3zM24.6 171.8h1.4v1.4h-1.4zM9.3 152.4h1.7v1.7h-1.7zM46.9 161.5h1.9v1.9h-1.9zM49.7 177.3h1.2v1.2h-1.2zM61.5 219.8h1.5v1.5h-1.5zM8.4 229.8h1.9v1.9h-1.9zM26.1 232.8h1.1v1.1h-1.1zM8.6 225.5h1.7v1.7h-1.7zM72.1 176.2h2.1v2.1h-2.1zM82.0 153.7h2.0v2.0h-2.0zM81.0 198.7h1.5v1.5h-1.5zM59.7 214.7h1.1v1.1h-1.1zM47.6 177.4h1.5v1.5h-1.5zM85.3 186.4h1.3v1.3h-1.3zM80.8 183.5h1.3v1.3h-1.3zM62.7 161.7h1.4v1.4h-1.4zM42.3 227.3h2.1v2.1h-2.1zM77.0 176.7h1.9v1.9h-1.9zM52.3 229.4h1.8v1.8h-1.8zM51.6 221.4h1.6v1.6h-1.6zM40.7 186.8h2.1v2.1h-2.1zM5.3 148.7h2.0v2.0h-2.0zM48.3 152.4h1.3v1.3h-1.3zM84.6 198.3h2.0v2.0h-2.0zM60.3 174.3h1.1v1.1h-1.1zM25.5 217.6h2.1v2.1h-2.1zM56.9 192.8h2.0v2.0h-2.0zM1.8 230.4h2.0v2.0h-2.0zM17.2 154.1h1.6v1.6h-1.6zM51.8 184.6h1.9v1.9h-1.9zM28.5 157.8h2.1v2.1h-2.1zM25.7 223.4h1.4v1.4h-1.4zM44.8 147.0h1.4v1.4h-1.4zM61.1 157.7h1.2v1.2h-1.2zM25.2 236.1h1.6v1.6h-1.6zM43.5 235.9h1.2v1.2h-1.2zM67.2 160.0h1.7v1.7h-1.7zM51.7 174.6h1.2v1.2h-1.2zM84.6 200.2h1.8v1.8h-1.8zM65.1 158.5h2.0v2.0h-2.0zM75.6 198.3h1.7v1.7h-1.7zM39.1 195.9h1.2v1.2h-1.2zM39.6 224.9h1.9v1.9h-1.9zM83.3 196.5h1.3v1.3h-1.3zM40.3 147.6h1.4v1.4h-1.4zM51.3 187.7h2.2v2.2h-2.2zM56.6 217.2h2.1v2.1h-2.1zM36.2 144.6h2.0v2.0h-2.0zM59.9 177.2h2.0v2.0h-2.0zM63.9 171.8h1.4v1.4h-1.4zM84.8 174.7h1.9v1.9h-1.9zM11.8 154.3h2.1v2.1h-2.1zM62.2 207.1h1.9v1.9h-1.9zM34.3 145.9h1.1v1.1h-1.1zM76.4 207.9h2.2v2.2h-2.2zM83.0 181.2h2.0v2.0h-2.0zM35.8 184.2h1.1v1.1h-1.1zM43.4 214.2h1.9v1.9h-1.9zM44.1 150.5h1.2v1.2h-1.2zM60.8 161.8h1.4v1.4h-1.4zM42.3 228.3h2.0v2.0h-2.0zM34.8 147.2h1.7v1.7h-1.7zM43.9 149.6h1.6v1.6h-1.6zM72.3 148.0h1.9v1.9h-1.9zM31.9 231.4h2.2v2.2h-2.2zM45.7 204.5h1.1v1.1h-1.1zM88.2 174.3h1.8v1.8h-1.8zM80.7 169.4h1.9v1.9h-1.9zM58.3 218.7h2.0v2.0h-2.0zM61.9 200.5h1.7v1.7h-1.7zM22.0 150.8h1.5v1.5h-1.5zM33.1 168.0h1.2v1.2h-1.2zM36.6 236.2h1.9v1.9h-1.9zM81.8 153.6h1.3v1.3h-1.3zM44.0 220.9h1.7v1.7h-1.7zM59.7 161.3h1.2v1.2h-1.2zM89.6 164.8h1.9v1.9h-1.9zM65.9 196.3h1.7v1.7h-1.7zM47.7 233.7h1.5v1.5h-1.5zM65.8 194.3h1.5v1.5h-1.5zM29.1 230.0h1.7v1.7h-1.7zM66.9 193.4h1.7v1.7h-1.7zM51.4 207.1h1.3v1.3h-1.3zM84.1 206.4h1.1v1.1h-1.1zM63.9 168.2h1.5v1.5h-1.5zM72.2 155.3h1.9v1.9h-1.9zM40.2 148.7h1.8v1.8h-1.8zM47.2 146.4h1.7v1.7h-1.7zM8.5 157.3h1.1v1.1h-1.1zM45.3 224.3h1.9v1.9h-1.9zM15.7 237.1h1.9v1.9h-1.9zM54.2 192.4h1.9v1.9h-1.9zM37.9 153.7h2.1v2.1h-2.1zM81.2 168.1h1.7v1.7h-1.7zM27.7 159.4h2.0v2.0h-2.0zM78.3 151.3h2.2v2.2h-2.2zM78.7 149.6h1.2v1.2h-1.2zM11.3 155.3h1.7v1.7h-1.7zM82.3 203.6h1.3v1.3h-1.3zM24.3 224.7h2.0v2.0h-2.0zM82.8 192.2h2.0v2.0h-2.0zM26.2 230.2h2.0v2.0h-2.0zM19.4 212.1h1.7v1.7h-1.7zM40.4 231.1h1.2v1.2h-1.2zM28.1 231.3h1.8v1.8h-1.8zM62.3 206.7h2.1v2.1h-2.1zM41.0 144.9h1.8v1.8h-1.8zM36.2 152.9h1.9v1.9h-1.9zM59.7 215.8h1.7v1.7h-1.7zM72.8 150.9h1.7v1.7h-1.7zM50.7 180.5h1.2v1.2h-1.2zM81.7 204.8h1.9v1.9h-1.9zM55.4 152.4h1.2v1.2h-1.2zM9.2 154.2h2.0v2.0h-2.0zM84.0 198.0h1.2v1.2h-1.2zM41.2 145.1h1.5v1.5h-1.5zM49.1 176.2h1.7v1.7h-1.7zM35.7 220.7h1.3v1.3h-1.3zM88.2 189.8h2.0v2.0h-2.0zM45.4 206.7h2.0v2.0h-2.0zM46.0 167.8h1.4v1.4h-1.4zM41.0 144.6h2.2v2.2h-2.2zM61.2 159.1h1.2v1.2h-1.2zM46.0 193.3h1.8v1.8h-1.8zM69.3 144.7h2.1v2.1h-2.1zM19.8 148.5h1.9v1.9h-1.9zM46.0 160.5h1.6v1.6h-1.6zM7.2 163.5h2.1v2.1h-2.1zM78.5 167.3h1.7v1.7h-1.7zM54.2 157.5h1.6v1.6h-1.6zM41.8 178.4h1.9v1.9h-1.9zM57.7 214.2h1.5v1.5h-1.5zM85.4 163.6h2.2v2.2h-2.2zM83.9 157.5h1.8v1.8h-1.8zM37.2 170.1h1.6v1.6h-1.6zM72.8 194.5h1.4v1.4h-1.4zM75.0 162.4h1.5v1.5h-1.5zM49.8 225.2h1.1v1.1h-1.1zM59.0 195.0h1.2v1.2h-1.2zM44.6 186.9h2.0v2.0h-2.0zM58.2 153.2h1.9v1.9h-1.9zM10.6 154.3h1.2v1.2h-1.2zM13.0 227.3h1.8v1.8h-1.8zM65.4 169.3h1.7v1.7h-1.7zM45.8 213.2h2.1v2.1h-2.1zM64.2 155.5h1.5v1.5h-1.5zM50.3 156.9h1.8v1.8h-1.8zM79.7 200.9h1.4v1.4h-1.4zM65.7 151.9h1.1v1.1h-1.1zM55.4 226.0h2.0v2.0h-2.0zM89.0 175.8h1.6v1.6h-1.6zM48.1 194.1h2.1v2.1h-2.1zM12.7 225.5h1.1v1.1h-1.1zM40.7 195.7h1.9v1.9h-1.9zM25.8 231.4h1.8v1.8h-1.8zM17.7 153.6h2.1v2.1h-2.1zM27.8 217.5h2.1v2.1h-2.1zM84.7 197.2h1.6v1.6h-1.6zM14.0 236.2h1.2v1.2h-1.2zM17.3 227.1h1.1v1.1h-1.1zM34.9 146.7h1.6v1.6h-1.6zM49.5 178.7h1.8v1.8h-1.8zM27.1 231.8h1.7v1.7h-1.7zM50.1 173.8h1.9v1.9h-1.9zM2.7 158.4h1.5v1.5h-1.5zM44.8 146.5h2.1v2.1h-2.1zM47.0 214.2h1.2v1.2h-1.2zM19.7 226.8h1.4v1.4h-1.4zM83.9 191.2h1.6v1.6h-1.6zM69.9 195.3h2.1v2.1h-2.1zM30.5 229.3h2.1v2.1h-2.1zM75.3 197.0h1.9v1.9h-1.9zM73.6 202.5h2.0v2.0h-2.0zM76.7 201.4h1.2v1.2h-1.2zM12.5 156.5h1.1v1.1h-1.1zM86.5 175.8h1.2v1.2h-1.2zM59.3 166.8h2.0v2.0h-2.0zM59.2 173.7h2.1v2.1h-2.1zM44.1 200.1h2.0v2.0h-2.0zM69.8 197.5h1.4v1.4h-1.4zM57.0 187.3h1.4v1.4h-1.4zM20.7 231.3h1.3v1.3h-1.3zM12.7 232.1h1.8v1.8h-1.8zM45.4 215.4h1.2v1.2h-1.2zM67.5 201.3h1.7v1.7h-1.7zM81.4 205.9h1.5v1.5h-1.5zM54.7 199.7h1.2v1.2h-1.2zM77.9 156.0h1.8v1.8h-1.8zM9.0 150.4h1.2v1.2h-1.2zM27.2 156.5h1.7v1.7h-1.7zM56.8 195.4h1.5v1.5h-1.5zM6.1 154.7h1.7v1.7h-1.7zM43.0 233.8h1.4v1.4h-1.4zM77.7 202.9h1.1v1.1h-1.1zM41.1 146.2h1.1v1.1h-1.1zM54.5 201.1h2.2v2.2h-2.2zM51.0 209.5h1.8v1.8h-1.8zM84.4 182.3h1.4v1.4h-1.4zM22.5 167.4h1.2v1.2h-1.2zM38.5 162.0h1.2v1.2h-1.2zM67.9 164.8h1.5v1.5h-1.5zM45.2 190.3h1.4v1.4h-1.4zM52.7 147.8h2.0v2.0h-2.0zM45.2 202.9h1.7v1.7h-1.7zM13.2 158.6h1.5v1.5h-1.5zM11.4 297.0h1.9v1.9h-1.9zM15.6 288.0h1.3v1.3h-1.3zM10.6 285.9h1.2v1.2h-1.2zM3.5 304.6h1.8v1.8h-1.8zM7.3 285.1h1.9v1.9h-1.9zM17.2 286.5h1.9v1.9h-1.9zM5.4 290.2h1.5v1.5h-1.5zM5.6 300.7h1.7v1.7h-1.7zM5.2 301.9h2.2v2.2h-2.2zM15.2 302.7h1.5v1.5h-1.5zM5.2 283.6h2.1v2.1h-2.1zM3.8 282.5h2.1v2.1h-2.1zM4.6 305.2h1.6v1.6h-1.6zM7.3 304.9h1.7v1.7h-1.7zM16.5 290.7h2.0v2.0h-2.0zM14.9 297.4h2.0v2.0h-2.0zM7.0 300.5h2.2v2.2h-2.2zM10.8 290.6h1.5v1.5h-1.5zM15.8 288.4h1.3v1.3h-1.3zM17.1 292.9h1.6v1.6h-1.6zM6.9 306.8h1.2v1.2h-1.2zM13.0 290.1h2.1v2.1h-2.1zM2.2 284.7h1.4v1.4h-1.4zM9.8 301.3h1.4v1.4h-1.4zM14.2 291.8h2.0v2.0h-2.0zM3.3 312.5h1.6v1.6h-1.6zM4.4 285.5h2.1v2.1h-2.1zM11.9 284.6h1.9v1.9h-1.9zM5.3 293.3h2.0v2.0h-2.0zM19.3 290.4h1.2v1.2h-1.2zM11.5 307.2h1.1v1.1h-1.1zM3.5 277.5h1.5v1.5h-1.5zM9.0 304.4h2.1v2.1h-2.1zM17.5 286.9h1.2v1.2h-1.2zM17.4 291.0h1.7v1.7h-1.7zM19.5 288.6h1.2v1.2h-1.2zM11.5 287.9h1.4v1.4h-1.4zM12.0 301.0h1.2v1.2h-1.2zM16.7 287.1h1.3v1.3h-1.3zM6.1 278.2h1.6v1.6h-1.6zM21.6 290.9h1.7v1.7h-1.7zM14.1 300.8h1.7v1.7h-1.7zM0.5 292.8h2.1v2.1h-2.1zM8.5 287.2h1.4v1.4h-1.4zM4.0 280.6h2.1v2.1h-2.1zM1.6 308.2h2.1v2.1h-2.1zM11.3 284.3h2.1v2.1h-2.1zM14.4 288.3h1.6v1.6h-1.6zM18.0 287.0h1.4v1.4h-1.4zM4.3 281.7h1.7v1.7h-1.7zM6.8 306.1h1.8v1.8h-1.8zM12.8 293.2h1.2v1.2h-1.2zM6.1 284.3h1.4v1.4h-1.4zM6.0 280.9h1.1v1.1h-1.1zM9.9 284.3h1.5v1.5h-1.5zM15.2 299.4h2.1v2.1h-2.1zM3.8 278.3h1.4v1.4h-1.4zM13.2 300.6h1.3v1.3h-1.3zM13.2 287.7h1.2v1.2h-1.2zM10.4 288.7h1.6v1.6h-1.6zM9.5 302.7h2.2v2.2h-2.2zM5.4 282.0h1.7v1.7h-1.7zM6.3 282.4h1.3v1.3h-1.3zM16.5 299.3h2.2v2.2h-2.2zM3.2 300.3h1.4v1.4h-1.4zM2.4 288.3h1.5v1.5h-1.5zM8.6 285.8h1.9v1.9h-1.9zM3.6 286.4h2.2v2.2h-2.2zM20.6 289.6h1.7v1.7h-1.7zM8.7 300.2h1.1v1.1h-1.1zM21.0 294.5h1.6v1.6h-1.6zM7.3 303.4h1.3v1.3h-1.3zM11.8 301.6h1.1v1.1h-1.1zM13.4 299.0h1.8v1.8h-1.8zM20.4 290.5h2.0v2.0h-2.0zM10.2 285.1h2.1v2.1h-2.1zM15.6 294.5h1.2v1.2h-1.2zM4.1 278.0h1.5v1.5h-1.5zM17.0 289.9h1.2v1.2h-1.2zM0.6 293.5h1.7v1.7h-1.7zM4.1 307.3h1.8v1.8h-1.8zM4.5 277.8h1.6v1.6h-1.6zM5.4 283.7h1.8v1.8h-1.8zM4.9 285.7h1.3v1.3h-1.3zM4.0 310.5h2.0v2.0h-2.0zM4.4 278.3h1.8v1.8h-1.8zM9.2 291.2h1.9v1.9h-1.9zM13.4 294.9h1.7v1.7h-1.7zM10.0 286.3h1.4v1.4h-1.4zM9.4 284.1h1.4v1.4h-1.4zM13.6 298.9h1.6v1.6h-1.6zM5.3 278.9h1.4v1.4h-1.4zM16.0 298.3h1.9v1.9h-1.9zM0.8 309.2h1.9v1.9h-1.9zM10.4 294.7h1.3v1.3h-1.3zM11.0 300.0h2.1v2.1h-2.1zM3.8 305.5h1.4v1.4h-1.4zM1.7 281.4h1.7v1.7h-1.7zM1.9 277.8h1.8v1.8h-1.8zM15.5 287.7h1.6v1.6h-1.6zM4.2 288.8h1.7v1.7h-1.7zM15.1 290.5h1.4v1.4h-1.4zM99.5 159.1h1.4v1.4h-1.4zM93.9 159.0h1.3v1.3h-1.3zM93.4 154.2h1.7v1.7h-1.7zM99.6 162.1h1.6v1.6h-1.6zM95.8 163.1h1.7v1.7h-1.7zM93.0 156.6h1.7v1.7h-1.7zM96.8 153.1h1.2v1.2h-1.2zM94.8 155.5h1.9v1.9h-1.9zM98.2 162.7h1.2v1.2h-1.2zM92.8 157.8h1.2v1.2h-1.2zM94.1 155.6h1.4v1.4h-1.4zM96.2 153.4h1.4v1.4h-1.4zM96.1 161.3h1.9v1.9h-1.9zM97.7 157.5h1.4v1.4h-1.4zM96.0 161.2h1.7v1.7h-1.7zM99.8 162.5h1.8v1.8h-1.8zM92.5 154.5h1.7v1.7h-1.7zM94.5 160.0h1.6v1.6h-1.6zM93.9 156.7h1.7v1.7h-1.7zM94.2 154.3h1.1v1.1h-1.1zM95.2 156.0h2.0v2.0h-2.0zM91.6 158.9h1.4v1.4h-1.4zM92.4 155.2h1.6v1.6h-1.6zM94.0 154.7h1.8v1.8h-1.8zM91.5 158.7h1.6v1.6h-1.6zM72.6 53.6h1.9v1.9h-1.9zM85.6 116.3h2.2v2.2h-2.2zM92.8 140.5h2.2v2.2h-2.2zM83.1 87.9h1.8v1.8h-1.8zM66.3 37.9h1.9v1.9h-1.9zM89.0 124.4h2.3v2.3h-2.3zM79.5 82.2h1.1v1.1h-1.1zM58.1 36.0h1.8v1.8h-1.8zM60.9 15.8h1.3v1.3h-1.3zM68.3 63.3h1.4v1.4h-1.4zM83.2 110.6h2.2v2.2h-2.2zM58.6 38.0h1.2v1.2h-1.2zM84.4 103.3h1.8v1.8h-1.8zM86.8 140.9h2.3v2.3h-2.3zM83.6 119.1h1.2v1.2h-1.2zM68.4 53.6h2.0v2.0h-2.0zM71.5 79.2h1.2v1.2h-1.2zM86.8 145.0h1.5v1.5h-1.5zM56.8 11.2h1.8v1.8h-1.8zM95.1 139.1h1.8v1.8h-1.8zM60.4 8.0h1.9v1.9h-1.9zM73.2 63.8h1.3v1.3h-1.3zM72.0 51.5h1.8v1.8h-1.8zM89.8 132.2h1.4v1.4h-1.4zM92.4 128.4h2.0v2.0h-2.0zM64.9 14.2h2.3v2.3h-2.3zM92.3 140.8h1.6v1.6h-1.6zM58.1 21.9h2.3v2.3h-2.3zM97.5 137.7h1.8v1.8h-1.8zM87.5 139.4h2.0v2.0h-2.0zM59.5 10.5h2.0v2.0h-2.0zM91.6 110.9h1.3v1.3h-1.3zM59.6 9.3h2.1v2.1h-2.1zM61.5 54.0h1.7v1.7h-1.7zM83.3 94.6h2.1v2.1h-2.1zM86.1 130.8h1.1v1.1h-1.1zM80.7 114.1h1.6v1.6h-1.6zM80.9 96.8h1.3v1.3h-1.3zM64.7 78.1h1.3v1.3h-1.3zM86.9 127.4h1.9v1.9h-1.9zM84.2 109.1h1.8v1.8h-1.8zM80.2 97.7h2.2v2.2h-2.2zM69.3 67.6h2.2v2.2h-2.2zM72.1 80.8h1.5v1.5h-1.5zM76.4 89.2h1.2v1.2h-1.2zM67.0 44.0h1.4v1.4h-1.4zM78.4 107.4h1.9v1.9h-1.9zM84.4 90.5h1.2v1.2h-1.2zM62.9 34.4h1.4v1.4h-1.4zM86.8 118.3h1.5v1.5h-1.5zM81.4 88.9h1.8v1.8h-1.8zM75.3 105.3h2.2v2.2h-2.2zM92.0 124.6h1.1v1.1h-1.1zM84.4 102.5h1.8v1.8h-1.8zM64.2 41.6h1.8v1.8h-1.8zM79.7 98.0h1.5v1.5h-1.5zM61.3 27.7h1.9v1.9h-1.9zM90.6 125.6h1.8v1.8h-1.8zM93.4 148.6h1.5v1.5h-1.5zM81.1 83.6h2.2v2.2h-2.2zM52.6 33.2h2.2v2.2h-2.2zM88.2 99.8h1.8v1.8h-1.8zM84.7 124.8h2.1v2.1h-2.1zM64.4 75.9h1.3v1.3h-1.3zM59.4 29.5h1.9v1.9h-1.9zM78.3 83.0h1.2v1.2h-1.2zM80.2 92.4h1.5v1.5h-1.5zM84.2 137.4h1.3v1.3h-1.3zM62.0 37.9h2.3v2.3h-2.3zM58.9 19.5h1.2v1.2h-1.2zM58.5 17.6h1.9v1.9h-1.9zM94.6 140.9h1.3v1.3h-1.3zM74.8 82.4h1.4v1.4h-1.4zM83.2 104.7h1.5v1.5h-1.5zM75.9 84.4h2.0v2.0h-2.0zM54.9 13.9h1.7v1.7h-1.7zM66.6 32.2h1.2v1.2h-1.2zM52.2 7.5h2.3v2.3h-2.3zM88.6 135.2h1.6v1.6h-1.6zM63.1 34.0h1.9v1.9h-1.9zM88.4 106.9h2.2v2.2h-2.2zM67.6 46.9h1.6v1.6h-1.6zM86.0 127.7h1.8v1.8h-1.8zM79.3 75.3h2.0v2.0h-2.0zM67.2 69.6h1.9v1.9h-1.9zM73.7 65.0h1.7v1.7h-1.7zM90.9 132.9h1.5v1.5h-1.5zM71.9 63.9h1.7v1.7h-1.7zM69.0 54.6h2.3v2.3h-2.3zM69.9 45.0h1.6v1.6h-1.6zM95.5 148.7h1.9v1.9h-1.9zM86.8 110.7h2.0v2.0h-2.0zM77.9 120.3h1.2v1.2h-1.2zM78.3 66.7h1.1v1.1h-1.1zM79.8 107.5h2.1v2.1h-2.1zM83.4 111.9h1.3v1.3h-1.3zM60.9 65.7h1.9v1.9h-1.9zM70.6 68.4h2.2v2.2h-2.2zM84.6 100.7h1.8v1.8h-1.8zM67.6 48.1h1.3v1.3h-1.3zM61.3 25.8h1.9v1.9h-1.9zM59.2 16.1h1.8v1.8h-1.8zM90.9 146.8h2.2v2.2h-2.2zM59.1 21.6h1.3v1.3h-1.3zM79.8 92.5h2.0v2.0h-2.0zM76.6 115.4h1.9v1.9h-1.9zM81.0 101.1h2.0v2.0h-2.0zM77.4 97.1h2.0v2.0h-2.0zM92.9 122.1h1.1v1.1h-1.1zM81.7 114.0h1.7v1.7h-1.7zM84.4 122.4h2.1v2.1h-2.1zM54.0 34.6h2.0v2.0h-2.0zM50.1 26.6h1.4v1.4h-1.4zM85.9 125.2h1.7v1.7h-1.7zM67.4 41.4h2.1v2.1h-2.1zM71.3 90.0h2.2v2.2h-2.2zM74.0 74.0h1.3v1.3h-1.3zM67.5 44.9h1.9v1.9h-1.9zM61.7 15.4h1.5v1.5h-1.5zM72.0 83.0h2.2v2.2h-2.2zM87.8 122.1h2.2v2.2h-2.2zM61.1 38.9h2.1v2.1h-2.1zM72.9 72.0h1.3v1.3h-1.3zM56.8 21.2h1.6v1.6h-1.6zM64.8 22.7h1.4v1.4h-1.4zM67.6 91.6h1.2v1.2h-1.2zM83.7 113.4h2.1v2.1h-2.1zM84.2 118.2h1.2v1.2h-1.2zM75.0 64.5h1.2v1.2h-1.2zM70.0 65.3h1.3v1.3h-1.3zM82.1 92.9h1.8v1.8h-1.8zM69.6 55.3h1.6v1.6h-1.6zM79.1 85.8h1.3v1.3h-1.3zM85.8 122.8h1.9v1.9h-1.9zM86.7 134.3h1.9v1.9h-1.9zM68.1 50.5h2.2v2.2h-2.2zM89.7 122.5h1.5v1.5h-1.5zM81.8 118.7h2.2v2.2h-2.2zM73.2 68.8h2.0v2.0h-2.0zM76.7 67.3h1.7v1.7h-1.7zM68.3 52.4h1.8v1.8h-1.8zM55.8 21.1h2.0v2.0h-2.0zM92.1 147.1h2.0v2.0h-2.0zM60.9 23.6h1.9v1.9h-1.9zM94.5 148.7h1.5v1.5h-1.5zM55.3 25.0h2.0v2.0h-2.0zM59.3 18.0h1.5v1.5h-1.5zM86.9 105.8h1.5v1.5h-1.5zM58.0 8.2h2.1v2.1h-2.1zM80.8 107.3h2.0v2.0h-2.0zM91.3 118.9h1.1v1.1h-1.1zM88.2 135.4h1.4v1.4h-1.4zM79.2 97.6h1.1v1.1h-1.1zM63.5 22.2h2.3v2.3h-2.3zM97.4 147.3h1.9v1.9h-1.9zM87.0 126.6h1.5v1.5h-1.5zM60.7 37.6h2.2v2.2h-2.2zM84.0 106.4h1.5v1.5h-1.5zM59.8 9.9h1.1v1.1h-1.1zM71.8 59.0h2.1v2.1h-2.1zM82.7 106.9h2.1v2.1h-2.1zM81.8 97.7h2.1v2.1h-2.1zM94.3 149.1h1.5v1.5h-1.5zM63.2 59.8h1.8v1.8h-1.8zM89.2 118.6h1.7v1.7h-1.7zM72.3 41.3h2.0v2.0h-2.0zM87.1 116.3h1.7v1.7h-1.7zM71.7 66.3h1.3v1.3h-1.3zM87.1 139.2h1.2v1.2h-1.2zM82.1 89.1h1.5v1.5h-1.5zM94.2 138.1h2.1v2.1h-2.1zM90.5 138.5h2.1v2.1h-2.1zM67.1 46.3h1.4v1.4h-1.4zM71.4 79.4h1.1v1.1h-1.1zM61.3 47.5h1.9v1.9h-1.9zM81.0 80.5h1.4v1.4h-1.4zM65.0 33.4h1.8v1.8h-1.8zM52.7 29.7h2.1v2.1h-2.1zM95.4 147.6h1.2v1.2h-1.2zM67.1 22.4h1.3v1.3h-1.3zM75.1 52.9h1.9v1.9h-1.9zM63.2 26.7h2.1v2.1h-2.1zM75.1 68.5h1.9v1.9h-1.9zM78.9 77.4h2.3v2.3h-2.3zM75.3 94.0h1.2v1.2h-1.2zM96.9 145.5h1.8v1.8h-1.8zM88.1 113.5h1.6v1.6h-1.6zM73.7 63.4h2.1v2.1h-2.1zM58.1 23.9h2.1v2.1h-2.1zM54.9 7.7h1.8v1.8h-1.8zM78.8 97.2h2.0v2.0h-2.0zM94.6 144.7h1.4v1.4h-1.4zM78.3 92.9h1.9v1.9h-1.9zM55.2 43.9h1.2v1.2h-1.2zM74.6 72.0h1.8v1.8h-1.8zM91.5 132.8h1.7v1.7h-1.7zM79.8 111.1h1.7v1.7h-1.7zM84.2 117.2h1.1v1.1h-1.1zM90.0 117.5h1.4v1.4h-1.4zM77.5 88.9h1.6v1.6h-1.6zM86.6 123.5h1.5v1.5h-1.5zM86.0 112.4h1.5v1.5h-1.5zM86.4 115.0h1.6v1.6h-1.6zM91.7 147.6h2.0v2.0h-2.0zM73.9 53.4h1.3v1.3h-1.3zM71.0 61.4h1.6v1.6h-1.6zM84.9 97.9h1.9v1.9h-1.9zM64.1 27.0h1.2v1.2h-1.2zM58.3 39.2h2.2v2.2h-2.2zM87.5 124.8h1.3v1.3h-1.3zM59.9 13.1h1.1v1.1h-1.1zM70.2 56.2h1.2v1.2h-1.2zM88.4 142.1h2.1v2.1h-2.1zM70.0 38.0h2.1v2.1h-2.1zM64.1 33.0h1.2v1.2h-1.2zM89.1 125.0h1.6v1.6h-1.6zM88.3 125.6h1.4v1.4h-1.4zM77.5 65.8h1.3v1.3h-1.3zM55.5 11.1h2.3v2.3h-2.3zM60.6 35.8h1.6v1.6h-1.6zM63.1 42.1h2.1v2.1h-2.1zM97.6 142.4h1.3v1.3h-1.3zM59.0 22.4h1.5v1.5h-1.5zM80.8 84.2h1.8v1.8h-1.8zM80.1 139.7h2.0v2.0h-2.0zM77.2 87.3h1.9v1.9h-1.9zM82.3 115.4h2.0v2.0h-2.0zM66.0 43.4h1.7v1.7h-1.7zM59.5 43.4h2.0v2.0h-2.0zM64.3 48.2h1.7v1.7h-1.7zM71.6 108.4h1.7v1.7h-1.7zM94.5 140.6h1.5v1.5h-1.5zM63.3 30.2h2.2v2.2h-2.2zM77.9 103.2h1.7v1.7h-1.7zM55.5 24.7h1.4v1.4h-1.4zM78.0 82.8h1.2v1.2h-1.2zM92.6 129.4h1.9v1.9h-1.9zM94.4 124.2h2.1v2.1h-2.1zM77.0 109.3h1.7v1.7h-1.7zM61.8 20.9h1.4v1.4h-1.4zM82.3 102.2h2.0v2.0h-2.0zM72.9 76.7h1.8v1.8h-1.8zM84.4 105.6h1.4v1.4h-1.4zM66.2 38.4h2.3v2.3h-2.3zM92.6 125.8h2.2v2.2h-2.2zM65.8 52.5h2.0v2.0h-2.0zM66.3 14.4h1.7v1.7h-1.7zM64.5 10.0h1.2v1.2h-1.2zM55.7 23.0h1.2v1.2h-1.2zM73.5 75.7h1.5v1.5h-1.5zM82.2 114.6h1.9v1.9h-1.9zM66.4 33.9h2.0v2.0h-2.0zM93.2 131.7h1.1v1.1h-1.1zM56.0 17.1h2.3v2.3h-2.3zM86.8 117.9h1.5v1.5h-1.5zM64.6 40.1h1.4v1.4h-1.4zM69.1 28.7h2.1v2.1h-2.1zM70.9 68.8h2.1v2.1h-2.1zM92.6 127.1h1.3v1.3h-1.3zM84.7 122.6h1.1v1.1h-1.1zM66.5 70.1h2.2v2.2h-2.2zM78.0 99.2h1.7v1.7h-1.7zM70.9 68.1h1.8v1.8h-1.8zM71.3 65.5h2.0v2.0h-2.0zM72.8 82.4h1.4v1.4h-1.4zM82.3 111.4h1.8v1.8h-1.8zM75.8 85.0h1.8v1.8h-1.8zM87.9 123.3h1.6v1.6h-1.6zM65.5 54.2h1.4v1.4h-1.4zM92.4 124.3h2.3v2.3h-2.3zM74.0 80.2h1.5v1.5h-1.5zM85.5 113.0h1.3v1.3h-1.3zM68.6 62.6h1.8v1.8h-1.8zM82.9 127.9h1.9v1.9h-1.9zM67.1 32.1h1.4v1.4h-1.4zM93.0 130.2h1.2v1.2h-1.2zM64.1 44.0h1.6v1.6h-1.6zM65.0 53.9h2.1v2.1h-2.1zM88.8 135.5h1.3v1.3h-1.3zM73.6 91.3h2.2v2.2h-2.2zM84.4 114.1h2.0v2.0h-2.0zM73.7 51.0h1.7v1.7h-1.7zM77.0 92.4h1.9v1.9h-1.9zM82.0 96.7h1.8v1.8h-1.8zM72.5 56.9h2.0v2.0h-2.0zM97.1 136.4h2.3v2.3h-2.3zM75.6 91.2h2.1v2.1h-2.1zM81.5 95.9h2.1v2.1h-2.1zM76.0 103.6h1.3v1.3h-1.3zM76.9 73.1h1.6v1.6h-1.6zM74.8 88.0h1.4v1.4h-1.4zM87.0 122.5h2.1v2.1h-2.1zM60.2 37.2h1.3v1.3h-1.3zM75.2 71.6h1.9v1.9h-1.9zM72.7 45.0h1.8v1.8h-1.8zM88.0 126.7h2.1v2.1h-2.1zM58.2 8.1h2.3v2.3h-2.3zM75.6 59.9h2.3v2.3h-2.3zM90.8 134.2h1.5v1.5h-1.5zM83.3 119.2h1.1v1.1h-1.1zM63.5 58.9h1.5v1.5h-1.5zM88.8 141.2h1.6v1.6h-1.6zM91.0 133.4h1.7v1.7h-1.7zM84.2 109.3h1.4v1.4h-1.4zM65.2 43.7h1.6v1.6h-1.6zM80.1 99.0h1.4v1.4h-1.4zM85.2 105.1h1.7v1.7h-1.7zM87.3 120.4h1.6v1.6h-1.6zM92.1 117.5h1.4v1.4h-1.4zM71.9 80.6h2.3v2.3h-2.3zM77.4 108.5h2.0v2.0h-2.0zM80.6 93.7h1.7v1.7h-1.7zM75.4 66.1h2.3v2.3h-2.3zM84.5 105.9h1.7v1.7h-1.7zM63.1 25.3h1.8v1.8h-1.8zM71.0 76.4h1.4v1.4h-1.4zM75.8 73.6h1.6v1.6h-1.6zM92.7 116.4h2.1v2.1h-2.1zM93.4 203.5h2.0v2.0h-2.0zM98.6 217.8h2.0v2.0h-2.0zM102.4 231.3h2.0v2.0h-2.0zM102.5 245.7h2.0v2.0h-2.0zM99.1 261.0h2.0v2.0h-2.0zM96.7 274.3h2.0v2.0h-2.0zM90.4 170.6h2.0v2.0h-2.0zM95.5 180.9h2.0v2.0h-2.0zM89.4 165.1h2.0v2.0h-2.0zM85.7 158.8h2.0v2.0h-2.0zM98.9 191.7h2.0v2.0h-2.0zM16.5 304.8h1.7v1.7h-1.7zM83.4 257.9h1.6v1.6h-1.6zM1.9 317.2h1.8v1.8h-1.8zM67.9 261.2h1.4v1.4h-1.4zM90.2 252.7h1.3v1.3h-1.3zM96.9 252.6h1.9v1.9h-1.9zM56.7 264.9h1.3v1.3h-1.3zM85.8 254.2h1.4v1.4h-1.4zM5.7 313.3h1.8v1.8h-1.8zM91.3 253.7h1.7v1.7h-1.7zM110.1 245.8h1.5v1.5h-1.5zM66.5 262.3h2.0v2.0h-2.0zM85.0 256.6h1.4v1.4h-1.4zM19.8 306.5h1.8v1.8h-1.8zM35.1 286.7h1.8v1.8h-1.8zM4.4 314.4h1.8v1.8h-1.8zM97.0 249.5h2.0v2.0h-2.0zM110.6 247.4h1.8v1.8h-1.8zM28.3 296.0h1.8v1.8h-1.8zM51.6 271.0h1.6v1.6h-1.6zM76.6 258.9h1.6v1.6h-1.6zM94.8 252.9h1.4v1.4h-1.4zM104.4 247.2h1.6v1.6h-1.6zM47.6 279.3h1.7v1.7h-1.7zM78.8 259.1h1.8v1.8h-1.8zM14.5 302.9h1.7v1.7h-1.7zM5.6 318.6h1.4v1.4h-1.4zM10.3 311.7h1.5v1.5h-1.5zM32.8 289.7h1.4v1.4h-1.4zM113.2 240.7h1.3v1.3h-1.3zM59.0 274.5h2.0v2.0h-2.0zM90.0 251.4h1.6v1.6h-1.6zM95.3 253.5h1.8v1.8h-1.8zM58.7 270.0h1.8v1.8h-1.8zM72.4 260.4h1.8v1.8h-1.8zM48.2 277.4h1.2v1.2h-1.2zM19.1 302.7h1.2v1.2h-1.2zM97.8 249.0h1.4v1.4h-1.4zM43.4 285.5h1.7v1.7h-1.7zM3.0 324.2h1.3v1.3h-1.3zM73.3 260.6h1.2v1.2h-1.2zM78.0 261.9h1.6v1.6h-1.6zM74.0 261.0h1.7v1.7h-1.7zM10.6 313.9h1.8v1.8h-1.8zM29.5 296.6h1.9v1.9h-1.9zM2.3 324.4h1.9v1.9h-1.9zM68.3 264.8h1.9v1.9h-1.9zM95.7 249.8h1.2v1.2h-1.2zM59.6 268.8h1.4v1.4h-1.4zM18.6 305.2h1.4v1.4h-1.4zM10.1 312.2h1.3v1.3h-1.3zM63.2 264.3h1.7v1.7h-1.7zM60.0 270.0h1.5v1.5h-1.5zM21.0 300.3h1.3v1.3h-1.3zM27.5 298.3h1.3v1.3h-1.3zM39.1 287.4h1.9v1.9h-1.9zM70.4 261.9h1.6v1.6h-1.6zM4.2 318.0h1.3v1.3h-1.3zM4.1 323.4h1.7v1.7h-1.7zM105.2 247.4h1.8v1.8h-1.8zM102.1 244.1h2.0v2.0h-2.0zM85.5 257.7h1.9v1.9h-1.9zM42.3 284.1h1.7v1.7h-1.7zM87.9 253.1h1.9v1.9h-1.9zM50.3 275.5h1.6v1.6h-1.6zM89.9 251.9h1.5v1.5h-1.5zM111.3 247.6h1.4v1.4h-1.4zM15.0 309.9h1.6v1.6h-1.6zM28.4 296.5h1.5v1.5h-1.5zM36.4 290.0h1.4v1.4h-1.4zM83.0 239.0h2.0v2.0h-2.0zM87.0 235.0h2.0v2.0h-2.0zM91.0 242.0h2.0v2.0h-2.0zM80.0 245.0h2.0v2.0h-2.0zM95.0 240.0h2.0v2.0h-2.0zM89.0 248.0h2.0v2.0h-2.0zM59.0 261.0h2.0v2.0h-2.0zM21.0 267.0h2.0v2.0h-2.0zM5.0 249.0h2.0v2.0h-2.0zM3.0 261.0h2.0v2.0h-2.0zM2.0 269.0h2.0v2.0h-2.0zM7.0 282.0h2.0v2.0h-2.0z" fill="#000"/></g>
<g id="coastl"><path d="M54.4 10.6 L58.5 10.6 L60.4 16.5 L65.6 31.8 L70.3 47.1 L77.4 75.4 L70.6 58.0 L75.3 74.9 L80.0 93.7 L84.7 110.7 L89.4 125.7 L94.1 136.1 L98.8 145.5 L103.5 156.8 L108.2 167.1 L113.8 177.9 L100.9 149.8 L105.6 158.0 L110.9 169.8 L115.0 179.2 L118.5 190.9 L119.9 202.7 L118.8 215.6 L116.8 229.8 L114.4 242.7 L113.2 249.8" fill="none" stroke="#000" stroke-width="1.3"/><path d="M113.2 249.8 L106.8 252.1 L98.5 255.9 L89.1 259.4 L77.4 263.5 L67.9 267.4 L56.2 276.8 L46.8 285.1 L36.2 294.5 L24.4 305.1 L12.6 315.6 L-0.3 331.5" fill="none" stroke="#000" stroke-width="2.2"/></g>
<g id="grid"><path d="M58.0 0V427M116.0 0V427M174.0 0V427M232.0 0V427M290.0 0V427M0 72.3H348M0 144.1H348M0 215.5H348M0 286.4H348M0 356.9H348" stroke="#c8c8c8" stroke-width="1" stroke-dasharray="2.5 5" fill="none"/></g>
<g id="frame"><path d="M58.0 0v4M58.0 427v-4M116.0 0v4M116.0 427v-4M174.0 0v4M174.0 427v-4M232.0 0v4M232.0 427v-4M290.0 0v4M290.0 427v-4M0 72.3h4M348 72.3h-4M0 144.1h4M348 144.1h-4M0 215.5h4M348 215.5h-4M0 286.4h4M348 286.4h-4M0 356.9h4M348 356.9h-4" stroke="#555" stroke-width="1" fill="none"/><rect x="0" y="0" width="348" height="427.5" fill="none" stroke="#1c1c1c" stroke-width="1.2" shape-rendering="crispEdges"/></g>
<g id="stars"><path d="M66.3 36.8L66.3 53.2M71.4 39.9L61.2 50.1M74.5 45.0L58.1 45.0M71.4 50.1L61.2 39.9" stroke="#f00" stroke-width="1" fill="none"/><path d="M104.2 149.0L104.2 165.4M109.3 152.1L99.1 162.3M112.4 157.2L96.0 157.2M109.3 162.3L99.1 152.1" stroke="#f00" stroke-width="1" fill="none"/><path d="M113.2 242.2L113.2 258.6M118.3 245.3L108.1 255.5M121.4 250.4L105.0 250.4M118.3 255.5L108.1 245.3" stroke="#f00" stroke-width="1" fill="none"/><path d="M62.3 264.2L62.3 280.6M67.4 267.3L57.2 277.5M70.5 272.4L54.1 272.4M67.4 277.5L57.2 267.3" stroke="#f00" stroke-width="1" fill="none"/><path d="M10.3 313.3L10.3 329.7M15.4 316.4L5.2 326.6M18.5 321.5L2.1 321.5M15.4 326.6L5.2 316.4" stroke="#f00" stroke-width="1" fill="none"/></g>
</defs>
<g transform="translate(75,142)">
<g clip-path="url(#pc)">
<use href="#land"/>
<use href="#grid"/>
<use href="#coastl"/>
</g>
<g clip-path="url(#pc)"><path d="M216 0 L210 32 L203 60 L197 84 L192 120 L188 160 L191 185 L188 205" stroke="#000" stroke-width="0.9" fill="none" stroke-dasharray="5 2"/><path d="M188 205 L170 225 L150 255 L128 285 L105 320 L90 350 L70 372 L66 378 M42 410 L32 418 L20 428" stroke="#000" stroke-width="0.9" fill="none"/></g><path fill="#0000bf" d="M56.6 349.3L58.5 352.5L54.7 352.1z"/><path fill="#0000cf" d="M78.8 341.4L82.1 343.2L78.7 344.8zM55.6 341.4L59.0 343.0L55.7 344.8zM71.3 341.4L74.4 343.6L70.8 344.8zM131.0 342.8L133.3 339.7L134.3 343.4zM32.4 326.2L35.9 327.6L32.7 329.5zM86.8 341.4L89.8 343.8L86.1 344.7zM102.4 371.9L105.0 374.7L101.3 375.1zM116.2 318.9L119.9 318.1L118.3 321.5zM86.8 333.8L89.8 336.2L86.1 337.1zM86.5 326.1L89.8 328.0L86.4 329.5zM56.0 333.8L59.0 336.1L55.3 337.1zM48.9 349.3L50.7 352.6L47.0 352.1zM108.5 341.7L112.3 341.1L110.6 344.5zM49.6 358.6L47.5 361.7L46.3 358.1z"/><path fill="#0000df" d="M86.4 318.5L89.8 320.1L86.5 321.9zM64.1 333.9L66.4 337.0L62.6 337.0zM48.1 333.8L51.3 335.9L47.8 337.2zM102.0 349.0L105.2 351.1L101.7 352.4zM79.2 311.0L82.0 313.5L78.3 314.2zM117.1 280.3L120.6 281.7L117.4 283.7zM94.5 333.8L97.5 336.3L93.8 337.1zM63.9 318.6L66.6 321.2L62.8 321.8zM94.2 341.4L97.5 343.3L94.1 344.8zM123.3 335.0L125.9 332.2L126.6 335.9zM40.2 318.5L43.6 320.1L40.3 321.9zM108.7 303.5L112.5 303.2L110.4 306.4zM109.2 333.8L112.9 334.8L109.9 337.1zM94.1 318.5L97.5 320.1L94.2 321.9zM48.2 341.4L51.3 343.6L47.7 344.8zM94.5 352.4L90.8 351.4L93.8 349.0zM123.9 311.3L127.6 310.5L126.0 313.9zM108.9 326.3L112.7 326.6L110.2 329.4zM109.9 364.2L112.9 366.5L109.2 367.6zM94.5 326.2L97.5 328.5L93.8 329.5zM115.9 311.6L119.3 309.9L118.6 313.6zM64.0 341.5L66.5 344.4L62.7 344.6z"/><path fill="#0000ef" d="M116.4 334.0L120.2 333.7L118.1 336.9zM101.7 341.4L105.2 342.8L102.0 344.8zM56.0 318.6L59.0 321.0L55.3 321.9zM55.8 310.9L59.0 313.0L55.5 314.3zM116.9 326.2L120.6 327.2L117.6 329.5zM25.0 352.4L21.5 351.0L24.7 349.0zM101.7 333.8L105.2 335.1L102.0 337.2zM87.9 351.5L84.8 353.6L85.0 349.9zM116.1 296.1L119.7 294.9L118.4 298.5zM71.3 318.5L74.4 320.7L70.8 321.9zM71.2 326.2L74.4 328.1L70.9 329.5zM40.4 333.8L43.6 335.8L40.1 337.2zM48.2 310.9L51.3 313.2L47.7 314.3zM134.0 49.0L134.7 52.7L131.3 51.1zM86.5 295.6L89.8 297.5L86.4 299.0zM57.3 358.3L55.6 361.7L54.0 358.3zM56.3 303.4L58.8 306.3L55.0 306.5zM63.2 382.8L60.0 380.8L63.5 379.4zM41.7 349.7L42.1 353.5L38.8 351.6zM142.0 2.6L141.4 6.4L138.7 3.6zM101.7 303.2L105.3 304.7L102.0 306.7zM71.3 303.2L74.5 305.4L70.8 306.7zM119.0 10.8L117.6 14.4L115.5 11.1zM101.1 311.0L105.0 311.2L102.6 314.2zM108.5 318.9L112.3 318.0L110.6 321.6zM101.8 356.6L105.3 358.2L101.9 360.1zM79.0 326.1L82.2 328.3L78.5 329.6zM111.3 3.0L109.7 6.6L107.8 3.2zM40.7 341.4L43.7 343.9L39.8 344.8zM48.1 326.1L51.5 328.2L47.8 329.6zM102.6 364.3L105.1 367.4L101.1 367.5z"/><path fill="#0000ff" d="M123.5 351.8L122.8 347.8L126.4 349.6zM119.0 41.7L118.4 45.7L115.5 42.8zM79.1 333.7L82.3 336.2L78.4 337.3zM33.0 333.7L36.1 336.4L32.1 337.2zM71.3 310.8L74.7 313.0L70.8 314.4zM126.5 25.6L126.9 29.7L123.4 27.6zM108.4 311.1L112.5 310.3L110.7 314.1zM63.8 326.0L67.0 328.7L62.9 329.7zM119.1 18.3L118.1 22.4L115.4 19.2zM119.1 2.7L118.0 6.7L115.4 3.4zM108.7 288.0L112.8 287.9L110.4 291.3zM155.1 149.4L159.3 149.9L156.4 152.9zM108.9 349.0L113.0 349.3L110.2 352.4zM17.8 344.8L13.6 344.4L16.5 341.3zM111.3 49.4L110.9 53.5L107.8 50.7zM87.0 310.8L90.0 313.7L85.9 314.4zM63.7 310.7L67.0 313.2L63.0 314.4zM124.0 318.6L128.2 318.4L125.9 321.9zM109.1 356.5L113.2 357.4L110.0 360.1zM115.8 303.8L119.6 302.0L118.7 306.1zM94.1 295.4L98.0 297.2L94.2 299.2zM126.9 3.0L125.0 6.9L123.0 3.1zM71.4 333.6L74.8 336.2L70.7 337.3zM79.2 360.1L75.1 359.3L78.3 356.5zM101.2 295.5L105.5 296.0L102.5 299.1zM72.2 349.1L74.2 353.0L69.9 352.3zM64.2 349.0L66.8 352.4L62.5 352.4zM25.4 382.9L21.2 382.2L24.3 379.2zM101.6 325.9L105.7 327.3L102.1 329.8zM149.4 25.2L150.8 29.4L146.7 28.0zM32.9 367.8L28.7 366.6L32.2 364.0zM40.7 398.2L36.4 397.2L39.8 394.3zM133.4 126.1L136.3 129.5L131.9 129.7zM126.7 33.5L126.8 37.9L123.2 35.3zM55.8 325.9L59.6 328.2L55.5 329.8zM48.5 318.3L51.8 321.3L47.4 322.1zM63.2 295.3L67.4 297.0L63.5 299.3zM123.8 326.2L128.2 325.5L126.1 329.5zM94.0 310.6L98.2 312.3L94.3 314.6zM41.8 359.6L37.6 361.3L38.7 357.0zM123.1 296.5L126.7 293.7L126.8 298.2zM79.9 349.0L82.2 352.9L77.6 352.4zM142.0 9.7L142.8 14.2L138.7 12.1zM16.9 360.3L13.1 357.9L17.4 356.3zM101.7 280.0L106.0 281.6L102.0 284.1z"/><path fill="#0010ff" d="M134.6 33.6L134.3 38.2L130.7 35.2zM108.5 295.6L113.1 295.1L110.6 299.1zM119.3 34.0L118.1 38.5L115.2 34.8zM41.0 367.9L36.3 367.3L39.5 363.9zM119.1 49.1L119.2 53.8L115.4 51.0zM40.9 375.5L36.3 374.8L39.6 371.5zM126.6 48.8L127.5 53.4L123.3 51.3zM134.4 17.6L134.9 22.3L130.9 19.9zM56.5 367.9L51.7 367.6L54.8 363.9zM115.7 349.3L120.1 347.5L118.8 352.1zM71.2 295.2L75.3 297.6L70.9 299.5zM123.1 303.9L127.1 301.2L126.8 306.0zM111.6 10.2L110.9 15.1L107.5 11.6zM63.7 302.8L67.6 305.7L63.0 307.1zM93.3 280.0L98.2 280.4L95.0 284.0zM70.7 279.9L75.3 281.2L71.4 284.2zM122.8 342.7L125.8 338.8L127.1 343.5zM86.8 302.8L90.8 305.6L86.1 307.1zM115.5 341.8L119.9 339.6L119.0 344.4zM149.7 40.7L151.0 45.5L146.4 43.7zM134.6 2.1L134.7 7.0L130.7 4.1zM33.0 360.5L28.2 359.2L32.1 356.1zM157.8 2.4L157.2 7.3L153.7 3.8zM111.7 34.2L110.1 38.8L107.4 34.7zM111.8 57.6L110.0 62.3L107.3 58.1zM127.0 17.8L126.9 22.8L122.9 19.7zM130.8 319.0L135.2 316.6L134.5 321.5zM56.7 295.3L59.6 299.4L54.6 299.3zM109.7 279.8L114.0 282.3L109.4 284.2zM48.1 398.5L43.5 396.6L47.8 394.0zM25.1 368.1L20.4 366.4L24.6 363.7zM94.3 287.4L98.7 289.9L94.0 291.9zM56.1 383.3L51.2 382.0L55.2 378.9zM119.3 56.9L119.2 61.9L115.2 58.8zM101.6 318.0L106.4 319.6L102.1 322.5zM79.2 318.0L83.2 321.1L78.3 322.5zM103.9 380.2L103.7 385.3L99.8 382.0zM142.2 25.2L143.1 30.3L138.5 27.9zM94.5 302.7L98.7 305.6L93.8 307.2zM200.5 337.2L198.5 332.5L203.4 333.7zM65.3 359.6L60.9 362.2L61.4 357.1zM77.3 272.5L82.4 271.5L80.2 276.2zM79.1 368.2L74.2 366.7L78.4 363.6z"/><path fill="#0020ff" d="M33.0 398.5L28.0 397.3L32.1 394.0zM95.8 382.8L90.8 384.3L92.5 379.4zM40.5 325.5L44.9 328.4L40.0 330.2zM123.0 288.4L127.6 285.8L126.9 291.0zM40.7 391.0L35.6 389.7L39.8 386.4zM49.0 368.0L43.7 368.0L46.9 363.8zM50.0 298.4L45.8 301.5L45.9 296.2zM156.4 102.3L160.3 105.9L155.1 106.9zM192.0 321.1L192.6 315.8L196.5 319.4zM86.4 287.3L91.2 289.5L86.5 292.0zM134.9 57.2L133.9 62.5L130.4 58.5zM33.1 383.4L27.9 382.2L32.0 378.8zM127.3 10.3L126.3 15.5L122.6 11.6zM134.6 40.9L135.4 46.2L130.7 43.6zM130.5 311.5L134.8 308.3L134.8 313.7zM157.0 8.9L159.8 13.5L154.5 12.9zM142.6 17.9L142.1 23.2L138.1 19.6zM116.1 287.5L121.5 287.4L118.4 291.8zM148.8 86.7L152.7 90.5L147.3 91.4zM87.5 32.2L90.9 36.5L85.4 36.6zM169.6 360.2L167.3 355.3L172.7 356.4zM77.2 280.1L82.6 279.0L80.3 284.0zM114.9 357.7L118.4 353.5L119.6 358.9zM191.8 305.5L193.3 300.1L196.7 304.5zM101.4 287.2L106.7 288.8L102.3 292.1zM135.0 25.9L134.1 31.3L130.3 27.3zM85.6 279.7L91.2 280.3L87.3 284.4zM112.1 18.8L109.5 23.8L107.0 18.7zM64.8 279.9L67.5 284.9L61.9 284.1zM149.6 63.6L152.1 68.7L146.5 67.7zM33.8 352.9L28.2 353.3L31.3 348.5zM104.3 2.6L102.8 8.1L99.4 3.6zM64.8 287.6L67.6 292.5L61.9 291.8zM78.6 294.8L83.9 297.0L78.9 299.9zM42.2 314.3L36.8 316.4L38.3 310.9zM79.0 391.2L73.6 389.2L78.5 386.1z"/><path fill="#0030ff" d="M201.0 368.3L197.2 364.0L202.9 363.5zM112.0 41.5L110.9 47.2L107.1 42.9zM33.3 391.2L27.6 390.2L31.8 386.2zM71.4 368.5L65.9 366.6L70.7 363.3zM127.3 41.1L127.3 46.9L122.6 43.4zM33.8 322.5L28.0 322.8L31.3 317.9zM119.5 25.2L120.0 31.1L115.0 28.0zM87.0 391.3L81.3 389.7L85.9 386.1zM150.1 1.4L151.3 7.2L146.0 4.7zM63.8 368.5L58.1 366.9L62.9 363.3zM199.9 360.0L198.6 354.2L204.0 356.6zM26.0 333.1L29.7 337.8L23.7 337.9zM116.0 272.0L122.1 271.9L118.5 276.8zM217.4 122.8L212.0 120.3L217.3 117.4zM156.2 63.0L161.1 66.6L155.3 68.3zM192.7 360.5L189.8 355.1L195.8 356.1zM149.4 78.9L152.8 84.0L146.7 83.6zM127.3 56.4L127.9 62.5L122.6 59.3zM193.0 368.4L189.3 363.4L195.5 363.4zM100.4 272.0L106.6 271.5L103.3 276.7zM114.6 258.1L119.2 253.8L119.9 260.0zM135.2 9.8L135.0 16.0L130.1 12.1zM34.1 340.8L37.2 346.2L31.0 345.4zM184.6 367.9L182.6 362.0L188.5 363.9zM25.4 391.4L19.3 389.7L24.3 385.9zM149.8 55.7L152.4 61.4L146.3 60.0zM126.8 110.3L129.1 116.2L123.1 114.5zM199.6 344.6L198.8 338.4L204.3 341.5zM64.8 391.1L58.5 391.5L61.9 386.2zM224.8 148.3L230.7 150.7L225.3 154.0zM150.1 9.0L152.0 15.0L146.0 12.9zM149.5 32.0L152.9 37.3L146.6 36.8z"/><path fill="#0040ff" d="M25.7 361.0L19.4 359.9L24.0 355.6zM164.1 39.5L169.0 43.6L162.8 45.0zM112.3 26.0L110.7 32.2L106.8 27.1zM149.8 16.5L152.6 22.2L146.3 21.0zM140.6 140.6L146.0 143.9L140.1 146.3zM134.0 109.8L137.7 115.0L131.3 114.9zM42.1 307.2L35.7 308.6L38.4 302.7zM171.5 117.3L176.9 120.9L170.8 123.0zM149.9 71.2L152.5 77.2L146.2 75.7zM111.7 375.5L105.5 377.7L107.4 371.5zM84.3 272.4L90.3 270.0L88.6 276.3zM104.1 9.1L105.6 15.4L99.6 12.8zM79.8 302.2L84.2 307.1L77.7 307.7zM194.8 384.0L188.5 382.2L193.7 378.2zM25.5 345.9L19.1 344.3L24.2 340.2zM142.8 71.8L143.7 78.3L137.9 75.1zM184.2 360.1L183.0 353.7L188.9 356.5zM194.1 78.3L200.1 80.9L194.4 84.2zM186.0 91.9L180.7 88.0L187.1 86.1zM187.2 31.5L192.3 35.7L185.9 37.3zM142.6 32.4L144.3 38.9L138.1 36.4zM261.8 133.2L268.4 132.2L265.3 138.1zM107.2 264.8L113.3 262.0L111.9 268.5zM72.4 361.0L65.6 361.0L69.7 355.6zM77.8 286.8L84.5 287.7L79.7 292.5zM56.8 376.3L50.1 375.8L54.5 370.7zM104.9 18.8L101.8 24.8L98.8 18.7zM178.3 99.8L172.8 95.8L179.4 93.8zM156.6 23.6L161.6 28.2L154.9 29.5zM95.0 376.5L88.2 375.2L93.3 370.5zM51.0 304.4L49.1 311.0L44.9 305.5zM178.0 70.5L184.8 71.8L179.7 76.4zM156.6 70.5L161.7 75.1L154.9 76.4zM157.2 39.5L161.2 45.1L154.3 45.0z"/><path fill="#0050ff" d="M164.3 31.4L169.4 36.0L162.6 37.4zM143.1 40.8L143.3 47.7L137.6 43.7zM209.2 99.9L203.5 95.9L210.1 93.8zM168.5 188.1L174.5 184.6L173.8 191.5zM199.2 329.2L199.2 322.3L204.7 326.5zM95.6 391.4L88.6 391.6L92.7 385.9zM186.9 384.2L180.4 381.7L186.2 378.0zM110.6 384.0L103.6 383.1L108.5 378.1zM79.2 376.6L72.5 374.3L78.3 370.4zM177.1 383.7L173.6 377.6L180.6 378.4zM191.4 336.8L191.6 329.7L197.1 334.1zM87.3 361.4L80.3 359.9L85.6 355.2zM192.1 353.1L189.5 346.5L196.4 348.3zM171.4 70.3L177.5 74.0L170.9 76.6zM70.4 286.6L77.3 288.3L71.7 292.8zM163.7 124.7L169.8 128.5L163.2 131.1zM157.3 47.3L161.3 53.2L154.2 52.8zM232.5 85.9L239.1 88.6L233.0 92.2zM183.4 305.8L184.9 298.7L189.7 304.1zM179.0 31.2L185.3 34.6L178.7 37.6zM201.4 376.7L195.6 372.4L202.5 370.3zM186.0 115.6L180.2 111.2L187.1 109.2zM156.6 54.7L162.0 59.6L154.9 61.0zM142.3 55.3L145.5 61.8L138.4 60.4zM92.2 264.1L99.3 262.8L96.1 269.3zM164.4 7.8L169.6 12.9L162.5 14.0zM171.7 39.0L177.5 43.4L170.6 45.4zM143.4 87.9L142.6 95.2L137.3 90.2zM183.3 312.7L186.3 306.1L189.8 312.5zM129.6 359.5L130.3 352.2L135.7 357.1zM94.1 361.6L87.6 358.2L94.2 355.0zM191.3 329.2L191.6 321.9L197.2 326.5zM171.9 46.8L177.6 51.5L170.4 53.3zM209.2 369.2L203.1 365.1L210.1 362.6zM104.8 390.3L98.7 394.5L98.9 387.1zM142.8 47.8L144.9 54.9L137.9 52.3zM171.9 15.5L177.6 20.3L170.4 22.0zM17.0 354.0L10.5 350.3L17.3 347.4zM179.5 46.8L185.4 51.4L178.2 53.3zM122.6 172.0L129.7 169.6L127.3 176.7z"/><path fill="#0060ff" d="M129.4 351.6L130.8 344.3L135.9 349.8zM58.7 288.3L58.5 295.8L52.6 291.1zM155.5 155.5L162.5 158.4L156.0 162.2zM48.8 376.7L41.5 375.3L47.1 370.3zM156.7 93.6L162.2 98.7L154.8 100.1zM188.2 15.8L192.4 22.1L184.9 21.7zM179.0 62.3L185.6 65.9L178.7 69.0zM201.0 323.5L195.5 318.3L202.9 317.0zM184.0 187.5L191.1 184.7L189.1 192.1zM157.6 31.5L161.5 38.0L153.9 37.3zM130.2 172.0L137.4 169.5L135.1 176.7zM178.1 77.9L185.5 79.8L179.6 84.6zM78.6 384.5L71.9 380.7L78.9 377.7zM194.5 108.0L187.4 105.1L194.0 101.2zM190.9 313.3L192.8 305.9L197.6 311.9zM232.8 15.3L239.6 18.9L232.7 22.2zM209.4 361.7L202.8 357.8L209.9 354.9zM116.2 369.2L110.7 363.8L118.3 362.6zM143.0 63.5L144.8 71.0L137.7 67.9zM156.1 124.5L162.6 128.6L155.4 131.3zM87.4 15.4L93.1 20.6L85.5 22.1zM164.9 23.5L169.7 29.6L162.0 29.7zM202.7 7.5L208.7 12.4L201.2 14.3zM186.0 376.9L179.7 372.3L187.1 370.1zM99.8 263.9L107.4 262.6L103.9 269.5zM164.5 -0.3L170.1 5.2L162.4 6.4zM87.6 23.3L93.1 28.8L85.3 29.9zM185.7 155.5L193.4 157.2L187.4 162.3zM107.7 271.3L115.6 270.6L111.4 277.4zM171.4 124.4L178.2 128.4L170.9 131.4zM148.5 132.1L155.1 136.5L147.6 139.2zM193.4 54.4L201.1 56.1L195.1 61.3zM193.2 376.9L187.5 371.3L195.3 370.1zM9.2 377.1L2.3 373.0L9.7 369.9zM157.0 77.9L162.5 83.7L154.5 84.6zM106.9 256.6L114.3 253.7L112.2 261.4zM164.7 116.8L170.2 122.7L162.2 123.5zM201.6 92.6L194.8 88.3L202.3 85.5zM217.9 92.6L210.2 90.1L216.8 85.5zM110.6 392.1L102.7 390.7L108.5 385.2zM171.6 7.3L178.3 11.7L170.7 14.5zM225.6 69.2L217.9 66.7L224.5 62.1z"/><path fill="#0070ff" d="M17.9 339.0L10.1 337.0L16.4 331.9zM191.7 130.4L189.2 122.7L196.8 125.4zM187.0 54.2L193.8 58.7L186.1 61.5zM201.9 61.5L194.7 57.8L202.0 54.2zM150.7 47.5L153.1 55.3L145.4 52.6zM213.2 321.2L207.8 327.3L206.1 319.3zM165.2 15.6L169.9 22.3L161.7 22.0zM63.4 377.2L56.0 373.7L63.3 369.8zM160.8 171.8L168.6 169.1L166.1 176.9zM168.3 195.2L175.8 191.8L174.0 199.8zM140.9 132.0L147.6 136.7L139.8 139.3zM114.7 264.1L122.5 261.6L119.8 269.3zM168.1 375.7L166.8 367.5L174.2 371.3zM208.8 139.8L216.8 141.6L210.5 147.0zM141.7 108.9L147.2 115.2L139.0 115.8zM86.9 -0.6L93.8 3.9L86.0 6.8zM117.3 377.2L109.8 373.6L117.2 369.8zM184.5 163.5L192.8 162.6L188.6 169.8zM9.3 362.0L2.0 358.1L9.6 354.6zM160.7 179.5L168.5 176.6L166.2 184.6zM162.8 139.7L170.8 142.1L164.1 147.1zM146.9 147.6L155.2 148.9L149.2 154.7zM134.2 132.3L139.4 138.8L131.1 139.1zM164.8 77.8L170.4 83.9L162.1 84.7zM123.6 361.8L118.0 355.5L126.3 354.8zM125.7 132.0L132.3 137.1L124.2 139.3zM210.0 85.0L202.2 82.0L209.3 77.5zM133.6 116.5L140.0 122.0L131.7 123.8zM217.5 15.0L224.9 19.1L217.2 22.5zM168.4 368.5L165.9 360.5L173.9 363.3zM17.3 384.9L9.6 381.3L17.0 377.3zM126.3 116.6L132.0 122.9L123.6 123.6zM10.8 346.6L2.4 345.7L8.1 339.5zM208.5 155.3L216.9 156.7L210.8 162.5zM93.6 -0.7L101.6 2.0L94.7 6.8zM171.5 77.5L178.7 82.0L170.8 85.0zM175.1 305.6L177.6 297.5L182.6 304.3zM172.2 -0.6L178.5 5.2L170.1 6.7zM86.6 369.7L78.8 366.3L86.3 362.1zM163.6 61.9L171.1 66.0L163.3 69.5zM199.3 353.5L196.4 345.4L204.6 347.9zM72.1 392.3L63.7 390.8L70.0 385.0zM217.4 30.6L225.0 34.5L217.3 38.2zM135.8 91.2L128.4 95.4L129.5 86.9zM187.2 -0.7L194.2 4.4L185.9 6.8zM129.1 326.6L135.3 320.6L136.2 329.1zM179.0 15.0L186.6 19.1L178.7 22.6zM86.0 377.3L78.8 372.5L86.9 369.7zM94.5 369.7L86.5 366.6L93.8 362.1z"/><path fill="#0080ff" d="M200.0 132.4L208.6 131.7L203.9 138.9zM194.2 69.7L202.0 73.3L194.3 77.3zM169.6 155.4L178.2 155.8L172.7 162.4zM140.7 147.4L148.1 151.8L140.0 154.9zM180.0 38.6L186.2 44.6L177.7 45.9zM91.3 271.9L99.2 268.5L97.0 276.8zM175.9 375.9L173.9 367.5L181.8 371.1zM186.2 46.3L194.3 49.3L186.9 53.8zM26.6 331.2L17.9 331.3L23.1 324.5zM128.9 304.2L134.3 297.3L136.4 305.8zM192.9 147.6L201.6 148.5L195.6 154.7zM86.9 384.9L78.7 382.0L86.0 377.3zM182.9 296.2L188.8 289.8L190.2 298.4zM104.2 37.4L95.7 39.3L99.5 31.4zM178.0 123.8L171.2 118.3L179.7 116.4zM70.8 384.9L63.2 380.6L71.3 377.3zM143.0 78.6L145.9 86.8L137.7 83.9zM136.6 351.1L139.5 342.9L144.1 350.3zM121.9 279.7L129.7 275.7L128.0 284.3zM96.3 15.6L100.6 23.3L92.0 21.9zM202.0 108.4L194.0 104.7L201.9 100.8zM131.0 163.2L139.8 163.1L134.3 170.0zM217.9 85.0L209.5 82.5L216.8 77.5zM193.2 139.8L201.9 141.2L195.3 147.1zM171.8 22.8L179.0 27.9L170.5 30.3zM87.8 399.8L79.0 399.1L85.1 392.7zM141.3 116.5L148.1 122.2L139.4 123.8zM231.7 46.4L240.5 47.9L233.8 53.7zM224.9 77.3L217.0 73.2L225.2 69.7zM140.8 392.5L132.4 389.7L139.9 384.9zM136.8 180.7L143.4 174.6L143.9 183.5zM202.6 100.6L194.0 98.2L201.3 93.1zM171.9 116.1L163.2 113.9L170.4 108.6zM168.6 171.6L177.1 168.9L173.7 177.2zM217.8 116.1L209.3 113.4L216.9 108.6zM178.2 22.8L186.8 25.3L179.5 30.3zM193.0 170.8L201.9 171.8L195.5 178.0zM128.9 212.8L133.0 204.8L136.4 213.1zM194.9 -0.7L202.2 4.5L193.6 6.8zM183.1 352.4L183.0 343.4L190.0 349.0zM171.3 30.6L179.3 34.8L171.0 38.2zM191.3 345.5L189.0 336.9L197.2 340.6zM215.8 147.7L224.8 147.8L218.9 154.6zM171.9 108.3L163.2 106.3L170.4 100.9zM150.0 109.1L155.0 116.6L146.1 115.6zM17.3 377.3L9.0 373.8L17.0 369.7zM216.1 139.8L225.0 140.7L218.6 147.0zM121.3 211.8L127.5 205.2L128.6 214.1zM138.6 163.3L147.6 162.9L142.1 170.0zM175.8 360.6L173.9 351.8L181.9 356.0zM121.6 264.8L129.0 259.6L128.3 268.6zM178.9 54.1L187.0 58.0L178.8 61.7zM157.9 15.6L162.5 23.4L153.6 21.9zM237.1 149.3L244.4 144.0L243.8 153.0zM163.6 69.7L171.7 73.7L163.3 77.3zM193.7 7.2L202.4 9.8L194.8 14.7zM165.6 46.9L170.2 54.8L161.3 53.2z"/><path fill="#008fff" d="M140.7 400.0L132.1 396.9L140.0 392.5zM134.1 139.9L140.3 146.5L131.2 146.9zM168.1 391.0L166.1 382.1L174.2 386.4zM155.7 139.6L164.0 143.4L155.8 147.2zM185.4 77.6L194.5 78.7L187.7 84.9zM177.6 170.8L186.7 171.6L180.1 177.9zM103.3 399.8L94.1 399.3L100.4 392.7zM178.0 92.8L170.7 87.2L179.7 85.3zM224.1 108.3L217.0 102.5L226.0 100.9zM185.7 123.8L178.4 118.2L187.4 116.4zM34.4 315.9L25.2 316.6L30.7 309.3zM95.1 7.2L102.3 12.9L93.2 14.6zM144.7 367.7L144.0 358.6L151.4 364.1zM8.9 354.5L1.1 349.5L10.0 346.9zM58.4 391.3L49.8 394.7L52.9 386.0zM202.2 53.8L193.5 50.6L201.7 46.3zM178.4 147.4L187.3 150.1L179.3 154.9zM97.3 36.6L89.3 41.4L91.0 32.2zM10.0 369.7L1.1 367.2L8.9 362.1zM185.2 170.8L194.5 171.3L187.9 177.9zM170.7 131.9L179.6 134.6L171.6 139.4zM214.5 130.5L211.6 121.6L220.2 125.3zM205.7 313.0L201.1 321.1L198.2 312.2zM178.5 139.6L187.4 142.6L179.2 147.2zM142.9 414.3L133.9 417.1L137.8 408.6zM83.1 265.0L90.4 259.1L89.8 268.4zM208.8 346.8L201.3 341.2L210.5 339.4zM171.8 54.1L179.6 59.3L170.5 61.6zM149.0 100.9L156.4 106.9L147.1 108.3zM187.9 23.0L194.6 29.6L185.2 30.2zM194.5 46.3L202.9 50.5L194.0 53.8zM215.9 132.1L225.4 132.4L218.8 139.2zM225.2 22.8L233.7 26.9L224.9 30.4zM136.1 67.2L129.2 73.6L129.2 64.2zM157.0 85.5L163.9 92.0L154.5 92.6zM175.8 368.1L173.8 358.8L181.9 363.7zM209.7 354.5L201.0 350.9L209.6 346.9zM193.8 155.1L202.9 157.8L194.7 162.7zM200.1 155.6L209.6 154.7L203.8 162.2zM208.8 339.2L201.1 333.5L210.5 331.8zM216.7 77.2L208.7 72.0L218.0 69.7zM201.6 116.2L193.2 111.5L202.3 108.6z"/><path fill="#009fff" d="M184.8 132.3L194.3 131.5L188.3 139.0zM178.7 116.2L170.1 111.9L179.0 108.6zM205.7 304.6L202.8 313.7L198.2 305.3zM201.6 -0.7L210.7 2.2L202.3 6.9zM155.4 131.9L164.5 134.9L156.1 139.4zM139.4 155.2L148.9 156.8L141.3 162.6zM213.4 374.2L208.0 382.2L205.9 372.8zM78.9 400.1L69.9 396.5L78.6 392.5zM183.4 345.2L181.5 335.8L189.7 340.9zM177.3 178.6L187.0 178.5L180.4 185.6zM129.0 181.2L134.7 173.4L136.3 183.0zM246.5 132.2L256.1 131.7L249.8 139.1zM179.1 108.4L170.0 105.2L178.6 100.8zM105.3 28.2L98.1 34.7L98.4 25.0zM216.5 108.3L208.7 102.6L218.2 100.9zM171.3 85.2L180.1 89.4L171.0 92.8zM118.8 407.3L109.1 407.5L115.7 400.4zM152.4 180.3L159.9 174.1L159.1 183.8zM196.4 31.3L201.6 39.6L192.1 37.5zM149.5 116.6L156.3 123.6L146.6 123.6zM200.6 170.8L210.4 171.2L203.3 177.9zM240.2 131.9L249.5 135.0L240.7 139.4zM164.0 407.6L154.5 405.1L162.9 400.1zM201.9 85.1L192.9 81.2L202.0 77.5zM169.5 163.2L179.3 162.8L172.8 170.1zM220.9 318.9L220.4 328.7L213.8 321.5zM192.7 123.6L186.0 116.4L195.8 116.7zM157.7 109.1L163.5 117.1L153.8 115.6zM252.4 145.1L251.8 135.3L259.3 141.7zM145.0 172.1L153.4 167.0L151.1 176.6zM225.2 92.8L216.0 89.4L224.9 85.2zM17.9 331.6L8.2 329.6L16.4 324.1zM217.3 100.6L208.2 96.7L217.4 93.0zM225.1 116.2L215.9 112.6L225.0 108.6zM230.8 124.6L240.7 123.3L234.7 131.2zM121.7 249.4L129.7 243.5L128.2 253.3zM163.9 85.3L172.6 90.1L163.0 92.8zM161.3 399.4L155.9 391.0L165.6 393.1zM187.2 38.5L195.6 43.9L185.9 46.0zM186.7 100.6L177.3 97.2L186.4 93.0zM209.7 69.5L200.4 65.8L209.6 61.9zM34.1 377.0L24.1 377.2L31.0 370.0zM185.1 139.9L195.1 140.0L188.0 146.9zM128.9 335.1L133.5 326.3L136.4 335.8zM207.1 132.8L216.5 129.4L212.2 138.5zM203.0 15.1L210.9 21.3L200.9 22.4zM136.2 82.5L129.5 90.0L129.1 80.0zM130.1 368.8L125.7 359.8L135.2 363.0zM185.4 147.5L195.4 148.4L187.7 154.8zM193.1 132.0L203.1 132.8L195.4 139.3zM222.4 125.2L231.7 121.4L227.7 130.6z"/><path fill="#00afff" d="M180.8 7.7L186.7 15.8L176.9 14.2zM169.8 147.6L179.8 147.8L172.5 154.7zM152.2 188.4L159.1 181.1L159.3 191.2zM209.3 7.1L218.9 10.1L210.0 14.7zM72.4 399.8L62.3 399.5L69.7 392.7zM179.0 -0.7L188.1 3.5L178.7 6.9zM118.0 400.0L108.1 398.0L116.5 392.5zM49.4 384.6L39.3 384.6L46.5 377.6zM173.6 93.9L178.3 102.9L168.7 99.7zM121.4 273.1L128.1 265.5L128.5 275.6zM223.8 132.1L233.9 132.5L226.3 139.2zM102.5 53.8L92.6 51.7L101.2 46.3zM140.6 124.1L149.7 128.6L140.1 131.7zM225.9 15.1L234.2 20.9L224.2 22.5zM163.5 131.9L172.8 135.9L163.4 139.5zM121.2 189.1L126.8 180.6L128.7 190.5zM128.9 189.5L133.3 180.4L136.4 190.1zM121.2 197.5L124.9 188.1L128.7 197.5zM165.3 101.3L171.7 109.1L161.6 107.9zM148.7 124.2L157.3 129.6L147.4 131.6zM241.4 100.9L249.6 106.9L239.5 108.3zM224.1 139.7L234.2 141.2L226.0 147.1zM213.4 305.1L209.2 314.4L205.9 304.8zM155.5 392.5L146.3 388.0L156.0 384.9zM175.1 312.1L180.0 303.2L182.6 313.1zM183.9 130.6L179.8 121.2L189.2 125.2zM201.4 162.9L211.3 165.2L202.5 170.4zM144.1 104.0L141.8 114.0L136.6 105.2zM103.1 45.8L92.9 45.4L100.6 38.7zM144.6 180.5L151.9 173.4L151.5 183.6zM167.5 351.7L168.7 341.5L174.8 349.7zM136.6 189.0L142.3 180.5L144.1 190.6zM215.1 163.6L225.0 160.9L219.6 169.7zM177.1 132.3L187.3 131.2L180.6 139.0zM199.6 186.8L209.5 183.9L204.3 192.8zM207.2 179.2L217.0 176.0L212.1 185.0zM136.2 74.9L129.1 82.4L129.1 72.1zM193.4 162.9L203.6 164.4L195.1 170.3zM209.4 61.7L200.1 57.2L209.9 54.1zM183.2 180.3L191.1 173.7L189.9 183.9zM125.8 147.4L134.3 153.2L124.1 154.9zM156.5 116.4L165.1 122.1L155.0 123.9zM202.6 69.4L192.5 67.3L201.3 61.9zM125.4 139.6L134.5 144.4L124.5 147.2zM72.1 377.2L61.8 376.1L70.0 369.8zM147.8 155.1L157.6 158.2L148.3 162.7zM164.7 54.3L172.6 60.9L162.2 61.5zM111.3 399.6L101.0 400.6L107.8 392.9zM204.8 37.0L195.4 41.5L199.1 31.8zM149.1 93.2L157.4 99.4L147.0 100.5zM217.6 7.1L227.0 11.6L217.1 14.7zM232.0 131.9L242.3 133.9L233.5 139.4zM189.8 405.8L181.5 412.1L183.3 401.9zM125.3 127.2L125.8 127.4L127.2 124.8L133.5 132.6L123.6 131.5L125.0 128.8L124.6 128.6zM87.2 50.0L87.3 50.5L90.3 50.3L87.1 59.7L82.7 50.8L85.7 50.6L85.7 50.1zM209.7 2.3L210.2 2.3L210.2 -0.7L219.4 3.1L210.2 6.9L210.2 3.9L209.6 3.9zM125.0 158.1L125.5 158.1L125.7 155.1L134.7 159.5L125.3 162.7L125.4 159.7L124.9 159.7zM217.2 66.4L216.6 66.3L216.0 69.2L207.8 63.5L217.7 61.8L217.0 64.8L217.5 64.9zM86.6 10.1L87.1 10.2L87.5 7.2L96.1 12.3L86.5 14.8L86.9 11.8L86.3 11.7z"/><path fill="#00bfff" d="M194.6 25.9L195.1 26.1L196.3 23.3L203.3 30.4L193.3 30.3L194.5 27.6L193.9 27.3zM124.6 366.6L124.0 366.3L122.6 368.9L116.3 361.1L126.2 362.3L124.8 364.9L125.3 365.2zM185.8 320.5L185.6 319.8L182.7 320.7L183.7 310.8L190.0 318.5L187.1 319.4L187.3 320.0zM25.1 321.0L24.5 321.2L25.4 324.0L15.5 323.3L23.0 316.8L24.0 319.7L24.6 319.5zM124.2 181.7L124.6 181.1L121.9 179.7L129.6 173.4L128.6 183.3L126.0 181.9L125.7 182.5zM185.8 335.6L185.6 335.0L182.7 335.5L184.8 325.8L190.2 334.1L187.2 334.7L187.3 335.3zM131.9 297.0L132.1 296.4L129.3 295.4L136.0 288.1L136.4 298.0L133.6 297.0L133.4 297.6zM202.1 25.8L202.7 25.9L203.1 22.9L211.7 27.9L202.1 30.4L202.5 27.5L201.8 27.4zM209.4 105.4L208.8 105.2L208.0 108.1L200.1 102.0L210.0 100.8L209.2 103.7L209.9 103.8zM117.5 389.4L116.9 389.7L117.8 392.5L107.9 391.8L115.4 385.3L116.4 388.1L117.0 387.9zM139.8 173.8L140.3 173.3L138.2 171.2L147.4 167.4L143.5 176.6L141.4 174.5L140.9 174.9zM102.2 404.5L101.6 404.9L103.0 407.5L93.1 408.4L99.5 400.8L100.9 403.4L101.5 403.1zM147.3 189.6L147.5 188.9L144.6 188.1L150.6 180.2L151.9 190.1L149.0 189.3L148.8 190.0zM170.6 181.5L171.2 181.0L169.2 178.7L178.7 175.6L174.2 184.5L172.2 182.2L171.7 182.7zM232.5 142.6L233.2 142.4L232.4 139.6L242.3 140.6L234.5 146.9L233.7 144.0L233.0 144.2zM240.5 119.3L241.2 119.4L241.2 116.4L250.4 120.3L241.1 124.0L241.2 121.0L240.4 120.9zM170.5 381.5L170.1 380.9L167.6 382.6L165.6 372.8L173.9 378.4L171.4 380.0L171.8 380.6zM232.9 96.0L233.7 96.2L234.2 93.2L242.5 98.7L232.8 100.7L233.4 97.8L232.6 97.6zM209.7 120.9L208.9 121.0L209.2 124.0L199.7 121.1L208.5 116.4L208.8 119.4L209.6 119.3zM148.2 142.6L148.9 142.7L149.4 139.8L157.9 144.9L148.3 147.3L148.7 144.3L147.9 144.2zM124.2 235.8L124.4 235.0L121.5 234.1L127.8 226.4L128.8 236.3L126.0 235.4L125.7 236.2zM124.2 258.7L124.5 257.9L121.8 256.8L128.8 249.8L128.8 259.7L126.0 258.6L125.7 259.3zM178.4 166.0L179.1 165.5L177.5 163.0L187.3 161.1L181.6 169.3L180.0 166.8L179.3 167.3zM155.6 165.8L156.4 165.6L155.7 162.7L165.5 164.3L157.5 170.1L156.8 167.2L155.9 167.4zM232.7 25.8L233.6 25.7L233.4 22.7L242.8 25.9L233.9 30.3L233.7 27.3L232.8 27.4zM155.2 173.8L155.8 173.1L153.6 171.1L162.8 167.1L159.1 176.3L157.0 174.3L156.3 174.9zM148.2 397.0L147.3 397.2L147.9 400.2L138.1 398.3L146.4 392.7L147.0 395.7L147.9 395.5zM94.5 397.0L93.7 397.4L95.2 400.0L85.3 401.3L91.5 393.4L92.9 396.0L93.8 395.6zM132.2 374.2L131.4 373.6L129.7 376.1L124.2 367.8L134.0 369.8L132.3 372.3L133.1 372.8zM110.1 66.2L109.4 66.9L111.5 69.1L102.2 72.6L106.2 63.6L108.3 65.7L109.0 65.1zM163.5 96.0L164.5 96.1L164.7 93.1L173.6 97.5L164.2 100.7L164.4 97.7L163.4 97.6zM94.5 42.9L93.7 43.4L95.1 46.1L85.1 47.0L91.5 39.3L92.9 42.0L93.8 41.5zM178.1 128.2L177.8 127.2L174.9 128.3L175.3 118.3L182.1 125.7L179.3 126.7L179.6 127.6zM194.1 64.9L195.1 64.7L194.5 61.7L204.2 63.6L196.0 69.2L195.4 66.2L194.4 66.4zM209.1 166.0L209.9 165.4L208.0 163.0L217.6 160.2L212.8 168.9L210.9 166.6L210.2 167.2zM132.6 158.1L133.7 158.1L133.7 155.1L142.9 158.8L133.7 162.7L133.7 159.7L132.7 159.7zM133.1 404.5L132.2 405.1L133.7 407.6L123.9 409.2L129.8 401.1L131.3 403.7L132.2 403.2zM171.4 64.9L172.4 65.2L173.1 62.3L181.1 68.2L171.2 69.6L172.0 66.7L170.9 66.4zM124.3 243.3L124.8 242.3L122.2 240.8L130.1 234.8L128.8 244.6L126.2 243.1L125.6 244.1zM139.6 327.9L139.5 326.8L136.5 326.8L140.2 317.6L144.1 326.7L141.1 326.8L141.1 327.8zM225.1 97.6L224.0 97.7L224.1 100.7L214.8 97.2L223.8 93.1L223.9 96.1L225.0 96.0z"/><path fill="#00cfff" d="M94.4 82.0L93.3 82.4L94.2 85.2L84.3 84.3L92.0 78.0L92.8 80.8L93.9 80.5zM217.4 2.3L218.5 2.3L218.5 -0.7L227.7 3.1L218.5 6.9L218.5 3.9L217.3 3.9zM186.5 105.4L185.4 105.4L185.4 108.4L176.2 104.6L185.4 100.8L185.4 103.8L186.6 103.8zM209.7 25.8L210.9 25.9L211.2 22.9L220.0 27.7L210.4 30.5L210.7 27.5L209.6 27.4zM139.7 358.8L139.0 357.9L136.7 359.8L133.8 350.3L142.6 355.0L140.2 356.9L141.0 357.8zM209.2 150.5L210.1 149.8L208.3 147.4L217.8 144.7L213.0 153.4L211.1 151.0L210.1 151.8zM139.6 197.3L139.9 196.1L137.0 195.3L143.2 187.5L144.3 197.4L141.5 196.6L141.1 197.7zM124.8 374.3L123.6 374.1L123.1 377.0L114.7 371.7L124.4 369.5L123.9 372.5L125.1 372.7zM240.4 88.2L241.6 88.1L241.3 85.1L250.8 87.9L242.1 92.7L241.8 89.7L240.5 89.8zM194.6 41.5L195.7 42.1L197.0 39.3L203.7 46.7L193.8 46.2L195.1 43.5L193.9 43.0zM248.2 33.6L249.5 33.7L249.7 30.7L258.6 35.1L249.2 38.3L249.4 35.3L248.1 35.2zM263.0 143.9L262.1 143.0L259.9 145.0L256.5 135.6L265.5 139.9L263.3 141.9L264.1 142.9zM186.5 64.9L187.8 64.8L187.8 61.8L197.0 65.5L187.9 69.4L187.9 66.4L186.6 66.5zM171.3 142.6L172.6 142.8L173.0 139.9L181.5 145.1L171.8 147.4L172.3 144.4L171.0 144.2zM124.7 165.9L125.9 165.4L124.8 162.6L134.8 162.9L127.5 169.7L126.5 166.9L125.2 167.4zM94.5 58.6L93.3 59.1L94.6 61.9L84.7 62.4L91.3 55.0L92.6 57.7L93.8 57.1zM147.6 166.0L148.6 165.2L146.8 162.8L156.4 160.2L151.4 168.8L149.6 166.5L148.5 167.3zM240.4 41.4L241.7 41.3L241.4 38.3L250.9 41.2L242.1 45.9L241.8 42.9L240.5 43.0zM232.4 119.4L233.6 118.8L232.2 116.2L242.1 115.3L235.7 122.9L234.3 120.2L233.1 120.8zM132.8 389.5L131.6 389.8L132.3 392.7L122.4 391.3L130.4 385.3L131.2 388.2L132.5 387.9zM117.5 381.9L116.2 382.3L117.2 385.1L107.2 384.4L114.8 377.9L115.7 380.7L117.0 380.3zM178.1 297.3L178.0 296.0L175.0 296.1L178.5 286.7L182.6 295.8L179.6 295.9L179.6 297.3zM209.8 74.3L208.4 74.5L208.8 77.4L199.2 75.0L207.7 69.9L208.1 72.9L209.5 72.7zM163.4 150.4L164.8 150.3L164.8 147.3L174.1 150.8L165.0 154.9L164.9 151.9L163.5 152.0zM240.5 111.6L241.9 111.6L242.0 108.6L251.1 112.7L241.7 116.2L241.8 113.2L240.4 113.2zM202.6 296.9L203.4 298.1L205.9 296.6L207.5 306.4L199.4 300.5L202.0 298.9L201.3 297.7zM193.8 181.4L195.0 180.6L193.4 178.1L203.2 176.3L197.5 184.5L195.9 182.0L194.7 182.7zM193.9 189.1L195.1 188.4L193.7 185.8L203.6 184.8L197.3 192.5L195.9 189.8L194.6 190.5zM232.8 33.6L234.2 33.7L234.3 30.7L243.4 34.8L234.1 38.3L234.2 35.3L232.7 35.2zM124.2 228.3L124.3 226.8L121.3 226.5L125.7 217.6L128.9 227.1L125.9 226.9L125.7 228.4zM209.5 18.0L211.0 17.7L210.5 14.8L220.2 17.0L211.7 22.3L211.3 19.3L209.8 19.5zM201.9 74.3L200.4 74.2L200.3 77.2L191.2 73.0L200.6 69.6L200.5 72.6L202.0 72.7zM201.6 128.6L200.2 128.0L199.1 130.8L192.0 123.8L202.0 123.8L200.8 126.6L202.3 127.2zM124.2 205.1L124.4 203.6L121.4 203.1L126.5 194.6L128.9 204.2L126.0 203.8L125.7 205.3zM233.1 103.9L234.5 104.6L235.9 101.9L242.4 109.4L232.4 108.7L233.8 106.0L232.4 105.3zM225.1 41.4L226.6 41.5L226.7 38.5L235.8 42.4L226.6 46.1L226.6 43.1L225.0 43.0zM202.1 43.0L200.5 43.3L201.1 46.3L191.3 44.2L199.7 38.8L200.2 41.7L201.8 41.4zM209.5 328.6L207.9 328.3L207.2 331.2L199.1 325.5L208.9 323.8L208.3 326.7L209.8 327.1z"/><path fill="#00dfff" d="M155.0 220.3L155.7 218.8L153.0 217.5L160.4 210.8L159.9 220.8L157.2 219.5L156.5 221.0zM248.1 18.0L249.8 17.9L249.7 14.9L259.0 18.4L249.9 22.5L249.8 19.5L248.2 19.6zM117.8 113.0L116.5 114.0L118.5 116.3L109.0 119.4L113.5 110.5L115.5 112.8L116.7 111.8zM209.8 43.0L208.1 43.3L208.6 46.2L198.9 43.9L207.4 38.7L207.9 41.7L209.5 41.4zM94.4 66.4L92.8 66.9L93.8 69.8L83.8 69.0L91.4 62.6L92.3 65.4L93.9 64.9zM201.5 181.4L202.9 180.5L201.3 178.0L211.1 176.3L205.4 184.4L203.8 181.9L202.4 182.8zM209.1 173.8L210.3 172.6L208.3 170.4L217.6 167.0L213.4 176.0L211.4 173.8L210.2 174.9zM194.2 89.8L192.6 89.8L192.4 92.8L183.4 88.5L192.8 85.2L192.6 88.2L194.3 88.2zM240.4 127.1L242.0 126.9L241.7 123.9L251.2 126.7L242.5 131.5L242.2 128.5L240.5 128.7zM178.3 189.2L179.4 188.0L177.3 186.0L186.4 181.9L182.8 191.2L180.6 189.1L179.4 190.3zM178.1 327.9L177.8 326.3L174.9 326.6L177.5 317.0L182.4 325.7L179.4 326.0L179.6 327.7zM225.5 289.0L226.9 290.1L228.8 287.8L233.6 296.5L224.0 293.7L225.9 291.4L224.6 290.3zM186.9 10.2L188.5 10.8L189.6 8.1L196.7 15.0L186.7 15.1L187.9 12.3L186.2 11.7zM201.9 120.9L200.1 120.8L199.9 123.8L191.1 119.2L200.5 116.2L200.3 119.2L202.0 119.3zM131.9 197.3L132.3 195.6L129.4 194.9L135.4 186.9L136.8 196.8L133.9 196.0L133.4 197.7zM240.6 80.5L242.3 80.7L242.7 77.8L251.3 82.9L241.6 85.3L242.1 82.3L240.3 82.0zM139.6 205.0L140.1 203.3L137.2 202.5L143.4 194.7L144.5 204.6L141.6 203.8L141.1 205.4zM248.0 64.9L249.7 64.5L249.0 61.6L258.8 63.1L250.7 69.0L250.0 66.0L248.3 66.4zM171.3 404.6L169.6 405.0L170.2 407.9L160.4 406.0L168.7 400.5L169.3 403.4L171.0 403.1zM125.4 74.1L123.9 75.1L125.6 77.6L115.8 79.6L121.4 71.3L123.0 73.8L124.5 72.8zM232.6 41.4L234.4 41.2L234.0 38.2L243.6 40.7L235.0 45.8L234.6 42.8L232.9 43.0zM87.0 41.7L88.3 43.0L90.4 40.9L94.2 50.1L85.0 46.2L87.2 44.1L85.9 42.8zM217.4 50.8L215.5 50.9L215.6 53.9L206.3 50.4L215.4 46.3L215.5 49.3L217.3 49.3zM217.4 25.8L219.2 25.9L219.4 22.9L228.4 27.1L219.0 30.5L219.2 27.5L217.3 27.4zM179.6 404.2L178.8 405.9L181.5 407.2L174.2 413.9L174.6 404.0L177.3 405.2L178.1 403.5zM209.3 128.6L207.6 127.7L206.2 130.4L199.8 122.8L209.7 123.6L208.3 126.3L210.0 127.2zM209.6 113.2L207.7 113.0L207.4 116.0L198.6 111.5L208.0 108.4L207.8 111.4L209.7 111.6zM186.5 72.7L188.4 72.5L188.1 69.5L197.6 72.5L188.8 77.1L188.5 74.1L186.6 74.3zM148.2 389.5L146.2 389.7L146.6 392.7L137.0 390.1L145.6 385.2L146.0 388.1L147.9 387.9zM201.7 150.4L203.5 149.7L202.5 146.9L212.4 147.3L205.1 154.0L204.1 151.2L202.2 151.9zM162.9 197.0L164.2 195.5L161.9 193.5L170.9 189.2L167.6 198.6L165.4 196.6L164.0 198.0zM210.4 312.4L210.9 314.3L213.8 313.5L212.5 323.4L206.5 315.5L209.4 314.7L208.9 312.8zM248.2 72.7L250.3 72.9L250.6 69.9L259.3 74.8L249.7 77.5L250.1 74.5L248.1 74.3zM248.1 127.1L250.1 126.9L249.8 123.9L259.3 126.9L250.5 131.5L250.2 128.5L248.2 128.7zM255.9 33.6L257.9 33.6L258.0 30.6L267.1 34.5L257.9 38.2L257.9 35.2L255.8 35.2z"/><path fill="#00efff" d="M256.2 273.6L258.2 274.6L259.5 271.9L266.1 279.3L256.2 278.7L257.5 276.0L255.5 275.1zM209.6 89.8L207.5 89.8L207.5 92.8L198.3 89.0L207.5 85.2L207.5 88.2L209.7 88.2zM248.2 88.2L250.4 88.3L250.4 85.3L259.6 89.3L250.3 92.9L250.3 89.9L248.1 89.8zM194.3 113.2L192.1 113.4L192.3 116.3L182.9 113.3L191.7 108.8L192.0 111.8L194.2 111.6zM225.2 82.0L222.9 82.3L223.3 85.3L213.7 82.8L222.3 77.8L222.7 80.8L224.9 80.5zM164.0 111.8L165.7 113.2L167.6 110.9L172.3 119.6L162.8 116.7L164.7 114.4L162.9 113.0zM240.4 2.3L242.7 2.2L242.5 -0.8L251.9 2.5L242.9 6.8L242.7 3.8L240.5 3.9zM224.8 10.2L227.0 9.5L226.1 6.6L236.0 7.6L228.3 13.9L227.5 11.0L225.3 11.7zM178.4 196.9L180.2 195.5L178.4 193.1L188.1 190.7L182.9 199.2L181.2 196.8L179.3 198.2zM94.5 50.8L92.5 51.9L93.9 54.5L84.0 55.6L90.3 47.8L91.7 50.5L93.8 49.3zM40.6 381.8L38.5 382.8L39.8 385.5L29.8 386.0L36.5 378.7L37.8 381.4L39.9 380.4zM232.5 64.9L234.8 64.2L233.9 61.3L243.8 62.2L236.2 68.6L235.3 65.7L233.0 66.4zM224.8 120.9L222.5 120.3L221.7 123.1L213.9 117.0L223.8 115.8L223.0 118.7L225.3 119.4zM255.9 127.1L258.3 127.2L258.4 124.2L267.4 128.4L258.1 131.8L258.2 128.8L255.8 128.7zM194.2 97.6L191.8 97.5L191.7 100.5L182.7 96.4L192.0 92.9L191.9 95.9L194.3 96.0zM139.6 366.2L138.8 363.9L136.0 364.9L136.4 355.0L143.1 362.4L140.3 363.4L141.1 365.6zM86.9 404.5L84.9 405.8L86.5 408.3L76.7 410.2L82.4 402.0L84.0 404.5L86.0 403.2zM247.4 143.5L246.9 141.2L244.0 141.7L246.1 132.0L251.5 140.4L248.5 140.9L248.9 143.3zM178.1 320.3L177.9 317.8L174.9 317.9L178.3 308.6L182.5 317.6L179.5 317.7L179.6 320.2zM163.0 166.0L164.9 164.5L163.1 162.1L172.7 159.5L167.7 168.1L165.9 165.7L163.9 167.3zM131.9 205.2L131.9 202.7L128.9 202.6L133.0 193.6L136.5 202.9L133.5 202.8L133.4 205.2zM162.7 373.8L161.8 371.5L159.0 372.6L159.0 362.7L166.0 369.8L163.3 370.9L164.2 373.2zM178.1 351.0L177.2 348.6L174.4 349.7L174.8 339.7L181.6 347.0L178.7 348.1L179.6 350.4zM225.8 304.7L226.5 307.2L229.4 306.3L228.3 316.2L222.1 308.4L225.0 307.6L224.3 305.2zM240.5 64.9L243.1 65.1L243.4 62.1L252.2 66.9L242.6 69.7L242.9 66.7L240.4 66.5zM255.4 135.0L257.5 133.5L255.7 131.1L265.4 128.7L260.2 137.2L258.4 134.8L256.3 136.3zM155.8 404.6L153.3 404.9L153.6 407.9L144.0 405.2L152.7 400.4L153.1 403.3L155.7 403.0zM141.1 96.5L142.1 98.9L144.9 97.8L145.0 107.7L137.9 100.8L140.7 99.6L139.6 97.1z"/><path fill="#00ffff" d="M225.1 33.6L227.8 33.8L227.9 30.8L236.9 35.1L227.5 38.4L227.7 35.4L225.0 35.2zM163.3 158.1L165.9 157.5L165.2 154.6L175.1 156.1L167.0 162.0L166.3 159.0L163.6 159.7zM131.9 289.5L132.3 286.8L129.3 286.3L134.6 277.9L136.8 287.5L133.9 287.1L133.4 289.8zM194.6 296.6L197.1 297.8L198.4 295.1L205.1 302.5L195.1 301.9L196.4 299.2L193.9 298.0zM125.4 89.7L123.3 91.4L125.1 93.8L115.6 96.5L120.4 87.8L122.3 90.2L124.5 88.4zM162.8 389.2L161.1 386.9L158.7 388.8L156.0 379.2L164.7 384.1L162.3 385.9L164.1 388.2zM162.8 189.3L164.4 187.0L161.9 185.3L170.3 179.9L168.2 189.6L165.7 187.9L164.1 190.2zM248.2 10.1L251.0 10.1L251.0 7.1L260.2 11.0L251.0 14.7L251.0 11.7L248.1 11.7zM132.9 397.0L130.3 398.1L131.4 400.9L121.4 400.8L128.6 393.8L129.7 396.6L132.4 395.5zM117.8 66.3L115.6 68.2L117.6 70.4L108.1 73.6L112.6 64.7L114.5 67.0L116.7 65.1zM233.0 111.6L235.8 112.6L236.7 109.7L244.2 116.3L234.3 116.9L235.2 114.1L232.5 113.1zM217.0 158.2L219.6 156.9L218.2 154.2L228.2 153.5L221.7 161.0L220.3 158.3L217.7 159.6zM139.7 374.0L137.9 371.7L135.5 373.6L132.6 364.1L141.4 368.8L139.1 370.7L141.0 373.0zM217.2 58.6L214.3 57.9L213.5 60.8L205.5 54.8L215.4 53.4L214.7 56.3L217.5 57.1zM148.4 404.6L145.7 405.9L147.1 408.6L137.1 409.4L143.6 401.8L145.0 404.5L147.7 403.1zM248.2 119.3L251.2 119.6L251.5 116.6L260.4 121.0L250.9 124.1L251.1 121.2L248.1 120.9zM131.9 274.3L132.2 271.2L129.2 270.9L134.1 262.2L136.8 271.8L133.8 271.4L133.4 274.5zM224.3 158.6L225.6 155.8L222.8 154.5L230.1 147.7L229.8 157.6L227.0 156.4L225.8 159.2zM225.0 2.3L228.1 2.2L228.0 -0.8L237.3 2.8L228.2 6.8L228.1 3.8L225.1 3.9zM170.4 335.5L170.1 332.4L167.1 332.7L170.0 323.2L174.6 332.0L171.7 332.3L171.9 335.4zM131.9 228.2L132.2 225.1L129.2 224.8L133.8 216.0L136.7 225.6L133.7 225.3L133.4 228.4zM240.2 57.1L243.2 56.1L242.3 53.3L252.2 54.0L244.6 60.5L243.7 57.6L240.7 58.6zM132.7 150.4L135.9 150.6L136.1 147.6L145.0 152.0L135.5 155.2L135.7 152.2L132.6 151.9zM155.8 397.1L152.7 397.4L153.1 400.4L143.5 397.7L152.2 392.9L152.5 395.8L155.7 395.5zM178.6 158.1L181.5 157.0L180.4 154.2L190.3 154.3L183.2 161.2L182.1 158.5L179.1 159.6z"/><path fill="#10ffef" d="M124.2 220.6L124.1 217.4L121.1 217.4L124.9 208.2L128.7 217.4L125.7 217.4L125.7 220.6zM94.9 26.6L94.7 29.9L97.7 30.1L93.3 39.0L90.1 29.6L93.1 29.8L93.4 26.5zM94.5 404.6L91.5 405.9L92.8 408.7L82.8 409.1L89.6 401.8L90.9 404.5L93.8 403.1zM194.3 18.0L197.6 18.2L197.9 15.3L206.7 19.8L197.2 22.8L197.5 19.8L194.2 19.6zM217.2 43.0L213.9 42.6L213.5 45.5L204.9 40.5L214.5 38.0L214.1 41.0L217.5 41.4zM147.7 381.8L144.6 380.3L143.3 383.0L136.8 375.4L146.7 376.2L145.4 378.9L148.4 380.4zM155.0 373.8L153.6 370.7L150.8 372.0L150.4 362.1L157.7 368.8L155.0 370.1L156.5 373.2zM147.3 205.0L148.0 201.7L145.1 201.0L150.9 192.9L152.5 202.7L149.6 202.0L148.8 205.4zM193.7 196.9L196.2 194.6L194.1 192.4L203.4 188.8L199.4 197.9L197.3 195.7L194.8 198.1zM201.7 142.7L204.9 141.4L203.9 138.6L213.8 138.9L206.6 145.7L205.5 142.9L202.2 144.2zM162.7 212.6L164.3 209.3L161.7 208.0L169.1 201.4L168.5 211.4L165.8 210.0L164.2 213.3zM224.9 50.8L221.3 50.1L220.8 53.1L212.5 47.5L222.2 45.6L221.7 48.6L225.2 49.3zM131.9 251.3L132.3 247.6L129.4 247.3L134.3 238.6L136.9 248.2L133.9 247.8L133.4 251.5zM155.0 343.2L154.6 339.5L151.6 339.8L154.6 330.3L159.2 339.1L156.2 339.4L156.5 343.0zM248.1 80.5L251.8 80.4L251.7 77.4L261.0 80.9L251.9 85.0L251.8 82.0L248.2 82.1zM239.8 143.0L241.8 139.9L239.4 138.2L247.7 132.7L245.7 142.5L243.2 140.8L241.1 143.9zM240.6 18.0L244.2 18.6L244.8 15.7L253.1 21.1L243.4 23.2L243.9 20.2L240.3 19.5zM117.9 136.1L116.1 139.3L118.7 140.7L110.9 146.9L112.1 137.0L114.7 138.5L116.6 135.3z"/><path fill="#20ffdf" d="M102.3 58.5L99.2 60.6L100.9 63.1L91.2 65.1L96.7 56.8L98.3 59.3L101.4 57.2zM248.4 111.6L251.9 112.7L252.8 109.8L260.5 116.0L250.7 117.1L251.5 114.2L247.9 113.1zM131.9 282.0L131.9 278.3L128.9 278.3L132.7 269.1L136.5 278.3L133.5 278.3L133.4 282.0zM241.2 296.9L242.9 300.3L245.6 298.9L246.4 308.8L238.8 302.4L241.5 301.0L239.7 297.7zM248.1 49.3L251.9 49.0L251.8 46.0L261.2 49.3L252.2 53.6L252.0 50.6L248.2 50.8zM133.2 97.4L130.6 100.2L132.8 102.2L123.7 106.3L127.2 97.0L129.4 99.1L132.1 96.3zM225.0 58.7L221.1 58.3L220.8 61.3L212.0 56.6L221.6 53.7L221.3 56.7L225.1 57.1zM232.6 10.1L236.5 9.6L236.1 6.6L245.7 9.1L237.1 14.1L236.7 11.2L232.9 11.7zM164.2 419.3L162.8 422.9L165.6 424.0L158.7 431.2L158.5 421.3L161.3 422.4L162.7 418.7zM248.3 96.0L252.2 96.7L252.7 93.7L261.1 99.0L251.4 101.2L251.9 98.3L248.0 97.6zM248.1 25.8L252.0 25.4L251.7 22.4L261.2 25.3L252.5 30.0L252.1 27.0L248.2 27.4zM232.8 57.1L236.7 57.1L236.8 54.1L245.9 58.0L236.7 61.7L236.7 58.7L232.7 58.7zM162.8 381.5L160.6 378.2L158.1 379.8L156.3 370.0L164.5 375.7L162.0 377.3L164.1 380.7zM139.9 381.8L136.5 379.7L135.0 382.3L129.1 374.3L138.9 375.8L137.4 378.3L140.8 380.4zM117.8 128.4L115.1 131.4L117.3 133.4L108.3 137.6L111.7 128.3L113.9 130.3L116.7 127.4zM240.3 25.8L244.3 25.0L243.6 22.1L253.4 23.9L245.2 29.5L244.6 26.6L240.6 27.4zM209.9 288.9L213.8 290.4L214.8 287.6L222.1 294.4L212.1 294.7L213.2 291.9L209.4 290.4zM210.3 34.9L207.7 38.1L210.0 40.0L201.3 44.8L204.1 35.2L206.4 37.1L209.0 33.9zM248.1 2.3L252.2 1.9L251.9 -1.1L261.4 1.7L252.7 6.4L252.4 3.5L248.2 3.9zM117.8 105.2L114.7 108.0L116.7 110.2L107.3 113.5L111.6 104.6L113.6 106.8L116.7 104.0z"/><path fill="#30ffcf" d="M147.3 220.5L147.8 216.3L144.9 215.9L149.9 207.3L152.4 216.9L149.4 216.5L148.8 220.7zM131.9 259.0L132.1 254.7L129.1 254.5L133.5 245.6L136.7 255.0L133.7 254.8L133.4 259.1zM147.3 212.8L148.0 208.6L145.1 208.0L150.5 199.7L152.6 209.4L149.6 208.9L148.8 213.1zM185.8 328.0L185.1 323.7L182.1 324.2L184.5 314.5L189.6 323.0L186.7 323.5L187.3 327.7zM247.5 150.8L249.6 147.0L247.0 145.5L254.8 139.4L253.6 149.2L251.0 147.8L248.8 151.5zM248.2 57.1L252.5 57.4L252.8 54.4L261.6 59.0L252.2 62.0L252.4 59.0L248.1 58.7zM147.4 374.0L144.9 370.3L142.4 372.0L140.4 362.3L148.7 367.7L146.3 369.4L148.7 373.1zM201.3 197.1L203.8 193.4L201.3 191.7L209.6 186.2L207.6 195.9L205.1 194.2L202.6 198.0zM162.7 366.2L161.0 362.0L158.2 363.2L158.3 353.2L165.3 360.3L162.5 361.4L164.2 365.6zM178.2 204.7L181.1 201.2L178.8 199.3L187.6 194.7L184.6 204.2L182.3 202.3L179.5 205.7zM117.8 120.8L114.3 123.6L116.2 125.9L106.7 128.9L111.4 120.1L113.3 122.4L116.7 119.5zM131.9 220.6L131.9 216.1L128.9 216.0L132.9 206.9L136.5 216.2L133.5 216.1L133.4 220.6zM140.7 404.6L136.6 406.6L137.9 409.3L128.0 409.9L134.6 402.4L135.9 405.1L140.0 403.1zM240.5 72.7L245.1 73.2L245.4 70.2L254.1 75.1L244.5 77.8L244.9 74.8L240.4 74.3zM147.3 197.3L148.3 192.9L145.4 192.2L151.1 184.1L152.8 193.9L149.8 193.2L148.8 197.7zM240.7 96.1L245.1 97.4L246.0 94.6L253.6 100.9L243.7 101.8L244.6 99.0L240.2 97.6zM186.0 197.0L189.1 193.6L186.9 191.5L195.9 187.3L192.5 196.7L190.3 194.7L187.1 198.1zM155.0 212.7L156.4 208.3L153.6 207.3L160.0 199.8L160.8 209.7L157.9 208.7L156.5 213.2z"/><path fill="#40ffbf" d="M162.7 358.4L161.9 353.7L158.9 354.2L161.1 344.5L166.4 353.0L163.4 353.5L164.2 358.2zM94.4 74.2L90.0 75.9L91.1 78.7L81.1 78.5L88.3 71.6L89.4 74.4L93.9 72.7zM147.3 358.4L146.4 353.7L143.5 354.2L145.6 344.5L151.0 352.9L148.0 353.4L148.8 358.2zM109.9 404.6L105.5 406.5L106.7 409.3L96.7 409.6L103.6 402.3L104.8 405.1L109.2 403.1zM262.9 158.4L265.7 154.5L263.2 152.7L271.6 147.4L269.4 157.1L267.0 155.4L264.2 159.3zM162.7 220.3L164.5 215.8L161.7 214.7L168.6 207.5L168.8 217.5L166.0 216.4L164.2 220.9zM193.7 204.6L197.2 201.2L195.1 199.0L204.3 195.3L200.4 204.4L198.3 202.3L194.8 205.8zM209.7 50.8L204.7 51.1L204.9 54.1L195.5 50.7L204.5 46.5L204.7 49.5L209.6 49.3zM218.1 304.6L220.3 309.1L223.0 307.8L223.6 317.7L216.1 311.1L218.8 309.8L216.6 305.3zM170.4 204.8L172.8 200.4L170.1 199.0L177.7 192.6L176.8 202.6L174.2 201.2L171.9 205.6zM155.0 350.8L154.4 345.8L151.4 346.1L154.2 336.6L159.0 345.3L156.0 345.6L156.5 350.6zM170.4 320.4L169.4 315.4L166.5 316.0L168.5 306.2L173.9 314.6L171.0 315.1L171.9 320.1zM133.2 105.2L129.6 108.7L131.7 110.8L122.5 114.6L126.4 105.4L128.5 107.6L132.1 104.0zM248.2 41.4L253.3 41.8L253.5 38.8L262.4 43.2L252.9 46.4L253.1 43.4L248.1 43.0zM132.4 381.9L127.5 380.3L126.6 383.2L119.0 376.7L128.9 375.9L128.0 378.8L132.9 380.3zM139.6 335.5L139.3 330.4L136.3 330.5L139.6 321.1L143.9 330.1L140.9 330.3L141.1 335.4zM187.3 411.7L185.5 416.5L188.3 417.6L181.5 424.8L181.2 414.9L184.0 416.0L185.8 411.1zM218.1 312.3L219.8 317.2L222.6 316.3L222.0 326.2L215.4 318.7L218.2 317.7L216.6 312.8zM178.1 289.5L179.4 284.5L176.5 283.7L182.6 275.8L183.9 285.7L181.0 284.9L179.6 289.9z"/><path fill="#50ffaf" d="M270.9 150.4L275.7 148.2L274.5 145.5L284.4 145.1L277.6 152.4L276.4 149.7L271.6 151.9zM179.6 411.7L177.4 416.5L180.1 417.8L172.8 424.6L173.2 414.6L175.9 415.9L178.1 411.1zM240.3 10.1L245.5 9.1L244.9 6.2L254.7 8.1L246.4 13.6L245.8 10.7L240.6 11.7zM170.4 304.9L170.6 299.6L167.6 299.5L171.9 290.5L175.2 299.8L172.2 299.7L171.9 305.0zM264.1 273.8L267.8 277.7L270.0 275.6L273.5 284.9L264.4 280.8L266.6 278.8L263.0 274.9zM17.2 366.7L11.9 367.3L12.3 370.3L2.7 367.6L11.4 362.8L11.7 365.7L17.1 365.1zM178.1 343.3L176.9 337.9L173.9 338.6L175.6 328.8L181.3 336.9L178.4 337.6L179.6 342.9zM139.6 212.8L140.4 207.3L137.5 206.8L142.7 198.3L145.0 208.0L142.0 207.5L141.1 213.0zM25.2 374.2L20.0 376.4L21.2 379.2L11.2 379.3L18.2 372.2L19.4 375.0L24.5 372.8zM133.2 412.0L129.0 415.8L131.0 418.0L121.6 421.4L125.9 412.4L127.9 414.6L132.1 410.8zM162.7 335.5L162.3 329.8L159.3 330.0L162.4 320.6L166.8 329.5L163.8 329.7L164.2 335.4zM156.3 412.0L152.4 416.1L154.6 418.2L145.6 422.3L149.1 413.0L151.3 415.0L155.2 410.9zM170.5 212.5L173.6 207.6L171.0 206.0L179.2 200.3L177.4 210.1L174.9 208.5L171.8 213.3z"/><path fill="#60ff9f" d="M178.1 335.6L177.1 329.9L174.1 330.4L176.2 320.7L181.6 329.1L178.6 329.6L179.6 335.3zM125.1 389.5L119.4 390.6L120.0 393.6L110.2 391.7L118.5 386.1L119.1 389.1L124.8 387.9zM263.9 151.8L258.8 154.7L260.3 157.3L250.5 158.6L256.6 150.7L258.1 153.3L263.2 150.5zM232.8 80.5L238.6 80.6L238.7 77.6L247.8 81.6L238.5 85.2L238.6 82.2L232.7 82.1zM102.4 412.0L98.2 416.1L100.3 418.2L91.1 421.9L95.0 412.8L97.1 414.9L101.3 410.8zM125.0 381.9L119.1 382.0L119.2 385.0L109.9 381.5L119.0 377.4L119.0 380.4L124.9 380.3zM155.0 197.2L157.5 191.8L154.7 190.6L162.0 183.8L161.6 193.7L158.9 192.5L156.5 197.8zM248.4 103.8L254.1 105.4L254.9 102.5L262.8 108.5L252.9 109.8L253.7 106.9L247.9 105.4zM139.6 343.2L139.0 337.2L136.0 337.4L139.0 327.9L143.6 336.8L140.6 337.0L141.1 343.0zM148.5 412.0L143.8 415.8L145.7 418.1L136.1 420.9L141.0 412.2L142.8 414.5L147.6 410.8zM170.4 343.2L169.2 337.3L166.3 337.9L168.2 328.1L173.7 336.4L170.8 337.0L171.9 342.9zM232.7 72.7L238.7 72.1L238.4 69.1L248.0 72.0L239.2 76.7L238.9 73.7L232.8 74.3zM255.6 151.9L249.8 150.3L249.0 153.2L241.1 147.1L251.0 145.9L250.2 148.8L256.1 150.4zM131.9 266.6L132.6 260.5L129.7 260.2L134.6 251.5L137.2 261.1L134.2 260.7L133.4 266.8zM195.0 411.7L193.1 417.5L195.9 418.4L189.4 425.9L188.7 416.0L191.5 417.0L193.5 411.2zM71.5 404.5L66.7 408.3L68.6 410.7L59.0 413.4L63.9 404.7L65.7 407.0L70.6 403.2zM87.0 419.6L82.5 423.9L84.5 426.0L75.2 429.6L79.3 420.5L81.4 422.7L85.9 418.4zM139.6 220.4L141.1 214.4L138.2 213.6L144.0 205.6L145.5 215.5L142.6 214.7L141.1 220.8zM147.3 335.5L147.3 329.2L144.3 329.2L148.1 320.0L151.9 329.2L148.9 329.2L148.8 335.5z"/><path fill="#70ff8f" d="M102.1 66.4L96.1 68.4L97.0 71.3L87.1 70.6L94.6 64.1L95.6 66.9L101.6 64.9zM48.4 389.3L43.5 393.3L45.3 395.6L35.8 398.4L40.6 389.7L42.5 392.0L47.5 388.1zM240.6 33.6L246.9 34.5L247.3 31.6L255.8 36.7L246.2 39.1L246.6 36.1L240.3 35.2zM155.0 335.6L154.0 329.2L151.1 329.6L153.5 320.0L158.6 328.5L155.6 329.0L156.5 335.4zM279.5 273.8L283.9 278.7L286.1 276.7L289.4 286.1L280.4 281.7L282.7 279.7L278.4 274.9zM125.4 396.9L120.2 400.9L122.1 403.3L112.5 405.9L117.4 397.3L119.3 399.6L124.5 395.6zM131.9 236.0L131.6 229.4L128.6 229.5L132.1 220.2L136.2 229.3L133.2 229.4L133.4 236.0zM255.8 49.3L262.4 49.0L262.3 46.0L271.6 49.4L262.6 53.6L262.5 50.6L255.9 50.8zM233.4 296.9L236.9 302.5L239.5 300.9L241.0 310.8L233.0 304.9L235.5 303.4L232.1 297.7zM164.1 411.9L159.8 417.0L162.1 418.9L153.3 423.6L156.3 414.1L158.6 416.0L162.8 410.9zM217.7 288.9L223.7 291.7L225.0 288.9L231.8 296.2L221.8 295.9L223.1 293.1L217.0 290.4zM162.8 204.8L166.1 199.0L163.5 197.5L171.4 191.4L170.1 201.3L167.5 199.8L164.1 205.6zM162.8 235.6L166.1 229.7L163.5 228.2L171.3 222.1L170.1 232.0L167.5 230.5L164.1 236.4z"/><path fill="#80ff80" d="M125.4 81.9L120.0 86.1L121.9 88.4L112.3 91.0L117.2 82.4L119.1 84.8L124.5 80.6zM186.0 212.4L190.7 207.4L188.5 205.3L197.6 201.2L194.0 210.5L191.8 208.5L187.1 213.5zM255.8 41.4L262.6 41.1L262.5 38.1L271.9 41.4L262.9 45.7L262.7 42.7L255.9 43.0zM232.7 2.3L239.5 1.8L239.3 -1.2L248.8 1.9L239.9 6.3L239.7 3.4L232.8 3.9zM79.2 404.5L73.3 408.1L74.9 410.7L65.0 412.2L70.9 404.2L72.5 406.7L78.3 403.2zM125.6 66.2L121.2 71.5L123.5 73.4L114.7 78.0L117.6 68.5L119.9 70.4L124.3 65.2zM287.2 250.7L292.5 255.1L294.4 252.8L299.1 261.5L289.6 258.7L291.5 256.3L286.1 252.0zM216.6 174.0L219.9 167.9L217.2 166.5L224.9 160.1L223.9 170.0L221.3 168.6L218.1 174.7zM139.6 320.2L139.7 313.2L136.7 313.1L140.6 304.0L144.3 313.3L141.3 313.2L141.1 320.2zM162.7 305.0L162.2 298.0L159.2 298.2L162.5 288.7L166.8 297.7L163.8 297.9L164.2 304.9zM156.4 419.4L152.7 425.6L155.3 427.1L147.3 433.0L148.8 423.2L151.4 424.7L155.1 418.6zM147.3 343.0L147.8 335.8L144.8 335.6L149.4 326.7L152.4 336.2L149.4 336.0L148.8 343.1zM79.3 412.0L73.8 416.7L75.7 419.0L66.2 422.1L70.8 413.2L72.7 415.5L78.2 410.8zM139.6 297.3L139.9 290.0L136.9 289.9L141.1 280.9L144.5 290.2L141.5 290.1L141.1 297.3zM162.7 350.9L160.8 343.9L157.9 344.6L159.2 334.8L165.2 342.7L162.3 343.5L164.2 350.5z"/><path fill="#8fff70" d="M232.0 150.8L235.0 144.0L232.2 142.8L239.4 135.9L239.2 145.8L236.5 144.6L233.5 151.5zM147.3 350.8L146.6 343.3L143.6 343.6L146.5 334.1L151.2 342.9L148.2 343.2L148.8 350.6zM109.9 97.6L102.9 100.4L104.1 103.2L94.1 103.2L101.2 96.2L102.3 98.9L109.2 96.1zM125.4 404.5L119.1 408.6L120.7 411.1L110.9 412.8L116.6 404.7L118.2 407.2L124.5 403.2zM240.6 49.3L248.0 50.5L248.5 47.5L257.0 52.8L247.3 55.0L247.8 52.1L240.3 50.8zM256.5 296.9L260.7 303.1L263.2 301.4L265.2 311.2L256.9 305.7L259.4 304.0L255.2 297.8zM170.4 297.3L170.1 289.8L167.1 289.9L170.6 280.6L174.7 289.6L171.7 289.7L171.9 297.3zM185.8 227.9L189.5 221.2L186.9 219.8L194.6 213.5L193.5 223.4L190.9 222.0L187.3 228.7zM63.9 396.9L58.1 402.0L60.1 404.2L50.7 407.5L55.1 398.6L57.1 400.8L62.8 395.7z"/><path fill="#9fff60" d="M109.9 74.2L102.8 77.5L104.1 80.2L94.1 80.7L100.8 73.4L102.1 76.1L109.2 72.7zM117.6 89.8L110.4 92.9L111.6 95.7L101.6 95.8L108.5 88.7L109.7 91.4L116.9 88.3zM117.6 74.2L110.6 77.8L112.0 80.5L102.1 81.4L108.5 73.7L109.9 76.4L116.9 72.8zM155.2 381.7L149.6 376.1L147.5 378.3L143.6 369.1L152.8 372.9L150.7 375.0L156.3 380.5zM162.7 327.9L162.2 319.9L159.2 320.1L162.5 310.7L166.8 319.7L163.8 319.8L164.2 327.8zM178.1 281.7L181.7 274.4L179.0 273.1L186.5 266.6L185.8 276.5L183.1 275.2L179.6 282.4zM155.0 358.4L153.9 350.3L150.9 350.7L153.5 341.1L158.5 349.7L155.5 350.1L156.5 358.2zM193.5 212.5L197.5 205.3L194.9 203.9L202.7 197.6L201.5 207.5L198.9 206.1L195.0 213.3zM155.0 366.1L153.4 357.9L150.5 358.5L152.5 348.7L158.0 357.1L155.0 357.6L156.5 365.8zM185.9 289.3L190.0 282.1L187.3 280.6L195.2 274.5L194.0 284.3L191.3 282.9L187.2 290.1zM162.7 297.2L163.7 289.0L160.7 288.6L165.7 279.9L168.3 289.6L165.3 289.2L164.2 297.4z"/><path fill="#afff50" d="M178.2 220.1L183.6 213.7L181.3 211.8L190.1 207.1L187.1 216.6L184.8 214.7L179.5 221.1zM139.6 228.3L139.9 219.9L136.9 219.8L141.1 210.7L144.5 220.1L141.5 220.0L141.1 228.3zM162.7 312.7L161.6 304.3L158.6 304.7L161.3 295.1L166.2 303.8L163.2 304.1L164.2 312.5zM131.9 243.7L132.1 235.2L129.1 235.1L133.2 226.0L136.7 235.3L133.7 235.2L133.4 243.7zM109.9 113.1L102.1 116.6L103.4 119.3L93.4 119.7L100.2 112.4L101.5 115.1L109.2 111.6zM147.3 228.2L148.6 219.8L145.6 219.3L150.8 210.8L153.1 220.5L150.2 220.0L148.8 228.4zM240.6 258.2L249.0 259.7L249.5 256.8L257.9 262.2L248.1 264.3L248.7 261.3L240.3 259.8zM224.4 166.2L228.5 158.8L225.9 157.3L233.8 151.2L232.6 161.1L229.9 159.6L225.7 167.0zM117.6 97.5L110.1 101.6L111.5 104.2L101.6 105.2L107.9 97.5L109.3 100.2L116.9 96.1zM139.6 312.6L139.2 304.1L136.2 304.2L139.7 294.8L143.8 303.9L140.8 304.0L141.1 312.6zM117.6 82.0L109.7 85.3L110.8 88.1L100.9 88.1L107.9 81.1L109.0 83.8L116.9 80.5zM218.1 297.0L221.5 304.8L224.3 303.6L224.5 313.6L217.3 306.7L220.1 305.5L216.6 297.6zM162.7 343.3L160.5 335.0L157.6 335.7L159.0 325.9L165.0 333.8L162.1 334.6L164.2 342.9zM225.2 281.2L233.6 283.3L234.4 280.4L242.4 286.2L232.6 287.7L233.3 284.8L224.9 282.8zM170.5 220.2L174.8 212.6L172.2 211.1L180.0 205.0L178.8 214.9L176.2 213.4L171.8 221.0z"/><path fill="#bfff40" d="M248.9 289.3L252.4 297.5L255.2 296.3L255.4 306.3L248.2 299.4L251.0 298.2L247.4 290.0zM202.3 289.0L210.3 293.0L211.6 290.3L218.2 297.8L208.2 297.1L209.6 294.4L201.6 290.4zM170.5 227.8L176.3 221.0L174.0 219.0L182.9 214.5L179.8 223.9L177.5 222.0L171.8 228.8zM148.6 419.5L142.5 426.2L144.7 428.2L135.7 432.4L139.1 423.1L141.3 425.1L147.5 418.4zM155.0 204.9L159.1 196.7L156.4 195.4L163.9 188.8L163.2 198.8L160.5 197.4L156.5 205.6zM263.8 250.6L272.4 253.5L273.4 250.7L280.9 257.3L271.0 257.9L271.9 255.1L263.3 252.1zM147.3 282.1L146.7 272.9L143.7 273.1L147.0 263.7L151.3 272.7L148.3 272.8L148.8 282.0zM170.4 327.9L169.3 318.8L166.3 319.1L169.0 309.6L173.8 318.2L170.9 318.6L171.9 327.8zM195.0 419.2L191.9 428.0L194.7 429.0L188.1 436.4L187.6 426.4L190.4 427.4L193.5 418.7zM170.4 281.7L173.7 273.0L170.9 271.9L177.7 264.7L178.0 274.6L175.2 273.6L171.9 282.3zM139.6 274.2L141.1 265.0L138.1 264.5L143.4 256.1L145.6 265.8L142.7 265.3L141.1 274.5z"/><path fill="#cfff30" d="M147.3 266.7L147.0 257.3L144.0 257.4L147.5 248.1L151.6 257.2L148.6 257.3L148.8 266.7zM162.7 320.4L161.1 311.1L158.2 311.5L160.4 301.8L165.6 310.3L162.7 310.8L164.2 320.1zM278.4 212.3L285.3 205.8L283.3 203.6L292.6 200.1L288.5 209.2L286.4 207.0L279.5 213.5zM94.7 412.0L87.5 418.3L89.5 420.6L80.1 423.8L84.5 414.9L86.5 417.1L93.6 410.8zM178.2 227.8L184.4 220.5L182.1 218.6L191.0 214.0L187.9 223.5L185.6 221.5L179.5 228.8zM125.4 97.5L117.0 102.4L118.6 105.0L108.7 106.3L114.7 98.4L116.2 101.0L124.5 96.1zM210.4 297.0L214.7 305.6L217.4 304.3L218.1 314.2L210.6 307.7L213.3 306.3L208.9 297.7zM287.0 258.3L295.5 263.0L297.0 260.3L303.2 268.1L293.3 267.0L294.8 264.4L286.3 259.7zM109.9 105.3L100.9 109.1L102.0 111.8L92.0 111.8L99.1 104.8L100.2 107.6L109.2 103.9zM185.9 281.6L191.3 273.4L188.8 271.7L197.0 266.2L195.1 275.9L192.6 274.3L187.2 282.5z"/><path fill="#dfff20" d="M139.6 258.9L140.5 249.1L137.6 248.8L142.3 240.0L145.1 249.6L142.1 249.3L141.1 259.1zM140.9 419.6L133.1 425.8L135.0 428.2L125.4 430.9L130.2 422.2L132.1 424.6L139.8 418.4zM194.2 288.9L204.0 287.8L203.7 284.8L213.3 287.5L204.5 292.3L204.2 289.4L194.3 290.5zM139.6 282.1L138.8 272.1L135.9 272.3L139.0 262.9L143.4 271.8L140.4 272.0L141.1 282.0zM147.3 327.9L146.8 317.8L143.8 318.0L147.2 308.6L151.4 317.6L148.4 317.8L148.8 327.8zM170.5 235.5L176.3 227.2L173.8 225.5L182.2 220.1L180.0 229.9L177.6 228.2L171.8 236.5zM185.9 204.7L192.6 197.0L190.3 195.1L199.2 190.6L196.1 200.1L193.8 198.1L187.2 205.7zM208.9 189.5L213.1 180.2L210.4 179.0L217.7 172.2L217.3 182.1L214.6 180.9L210.4 190.1zM271.8 266.1L278.9 273.5L281.0 271.4L284.6 280.7L275.5 276.7L277.7 274.6L270.7 267.2zM187.3 419.2L184.1 428.9L187.0 429.9L180.5 437.4L179.7 427.5L182.6 428.4L185.8 418.7zM109.9 89.8L100.6 94.2L101.9 96.9L91.9 97.4L98.6 90.0L99.9 92.7L109.2 88.3zM147.3 251.2L149.1 241.0L146.1 240.5L151.4 232.1L153.6 241.8L150.6 241.3L148.8 251.5zM139.6 289.6L140.5 279.3L137.5 279.0L142.1 270.2L145.1 279.7L142.1 279.4L141.1 289.7zM155.0 235.7L158.4 225.9L155.6 224.9L162.2 217.5L162.8 227.5L159.9 226.5L156.5 236.3z"/><path fill="#efff10" d="M256.1 242.9L266.1 245.8L266.9 242.9L274.7 249.1L264.8 250.2L265.6 247.3L255.6 244.4zM155.0 312.6L154.4 302.1L151.4 302.2L154.7 292.8L159.0 301.8L156.0 302.0L156.5 312.5zM102.1 97.6L92.0 100.9L92.9 103.7L83.0 102.9L90.5 96.5L91.5 99.3L101.6 96.1zM147.3 236.0L147.2 225.2L144.2 225.2L148.0 216.0L151.8 225.1L148.8 225.2L148.8 236.0z"/><path fill="#ffff00" d="M279.4 258.4L288.4 264.8L290.2 262.4L295.4 270.8L285.7 268.6L287.5 266.1L278.5 259.7zM224.5 273.8L231.9 265.5L229.7 263.5L238.7 259.2L235.3 268.6L233.1 266.6L225.6 274.9zM147.3 297.3L147.2 286.1L144.2 286.1L148.0 276.9L151.8 286.1L148.8 286.1L148.8 297.3zM271.5 235.2L282.2 238.2L283.0 235.3L290.9 241.4L281.0 242.6L281.8 239.8L271.0 236.8zM225.8 297.1L229.1 307.8L231.9 307.0L231.0 316.9L224.7 309.2L227.5 308.3L224.3 297.5zM195.0 426.7L193.0 437.8L195.9 438.4L190.5 446.7L188.4 437.0L191.4 437.5L193.5 426.4z"/><path fill="#ffef00" d="M94.7 419.6L86.0 427.1L88.0 429.4L78.6 432.6L83.0 423.6L85.0 425.9L93.6 418.4zM139.6 251.3L140.9 239.8L137.9 239.5L142.7 230.8L145.4 240.4L142.4 240.0L141.1 251.4zM125.3 105.3L115.0 110.4L116.3 113.1L106.3 113.8L112.9 106.3L114.2 109.0L124.6 103.9zM216.6 181.8L221.3 171.2L218.6 170.0L225.8 163.1L225.5 173.0L222.8 171.8L218.1 182.4zM270.9 158.2L281.6 153.7L280.5 150.9L290.5 150.9L283.4 158.0L282.3 155.2L271.6 159.6zM248.2 250.6L259.8 251.9L260.1 248.9L268.8 253.8L259.2 256.5L259.6 253.5L248.1 252.2zM256.6 289.4L260.8 300.3L263.6 299.2L263.4 309.1L256.5 301.9L259.3 300.8L255.1 290.0zM187.3 426.9L181.9 437.3L184.5 438.7L176.9 445.1L177.8 435.2L180.5 436.6L185.8 426.2zM170.5 243.2L177.0 233.5L174.5 231.8L182.8 226.3L180.8 236.0L178.3 234.4L171.8 244.1zM264.2 289.2L271.5 298.4L273.9 296.5L276.6 306.1L267.9 301.3L270.3 299.4L262.9 290.2zM56.2 396.9L47.2 404.5L49.1 406.8L39.7 409.9L44.2 401.0L46.2 403.3L55.1 395.7zM248.7 281.5L256.7 290.3L258.9 288.3L262.3 297.6L253.3 293.4L255.5 291.4L247.6 282.6zM155.0 228.0L158.9 216.8L156.1 215.8L162.7 208.4L163.2 218.3L160.4 217.3L156.5 228.6z"/><path fill="#ffdf00" d="M271.8 273.8L279.9 282.6L282.1 280.6L285.6 289.9L276.6 285.7L278.8 283.7L270.7 274.9zM102.2 89.8L91.1 94.3L92.2 97.1L82.3 97.1L89.3 90.1L90.5 92.8L101.5 88.3zM139.6 304.9L140.0 292.9L137.0 292.8L141.1 283.7L144.6 293.0L141.6 292.9L141.1 305.0zM170.5 251.0L176.4 240.3L173.8 238.9L181.6 232.7L180.4 242.6L177.8 241.1L171.8 251.7zM232.1 158.4L239.0 148.2L236.5 146.6L244.8 141.0L242.8 150.8L240.3 149.1L233.4 159.3zM170.4 289.5L173.3 277.5L170.4 276.8L176.2 268.7L177.7 278.5L174.8 277.8L171.9 289.9zM271.6 250.6L282.9 255.7L284.1 252.9L291.0 260.1L281.0 259.9L282.2 257.1L270.9 252.1zM233.3 289.1L241.9 298.1L244.0 296.0L247.6 305.3L238.5 301.3L240.7 299.2L232.2 290.2zM102.1 74.2L90.2 77.8L91.0 80.6L81.1 79.6L88.9 73.3L89.7 76.2L101.6 72.7zM162.8 227.9L169.6 217.4L167.1 215.8L175.3 210.2L173.4 220.0L170.9 218.3L164.1 228.7z"/><path fill="#ffcf00" d="M139.6 243.5L141.7 231.2L138.7 230.7L144.0 222.2L146.2 231.9L143.2 231.4L141.1 243.8zM170.4 312.8L167.6 300.5L164.6 301.1L166.3 291.3L172.1 299.5L169.1 300.1L171.9 312.4zM171.7 412.0L163.0 421.3L165.2 423.4L156.2 427.5L159.7 418.2L161.9 420.2L170.6 410.9zM155.0 327.9L154.8 315.1L151.8 315.1L155.5 305.9L159.4 315.0L156.4 315.1L156.5 327.8zM263.8 258.3L276.0 262.2L276.9 259.4L284.5 265.8L274.6 266.6L275.5 263.8L263.3 259.8zM193.5 220.2L199.7 208.9L197.1 207.5L204.8 201.2L203.7 211.1L201.1 209.7L195.0 221.0zM248.9 297.1L253.1 309.3L255.9 308.3L255.3 318.2L248.7 310.7L251.6 309.8L247.4 297.6z"/><path fill="#ffbf00" d="M109.9 82.0L98.1 87.6L99.4 90.3L89.5 90.9L96.1 83.5L97.5 86.2L109.2 80.5zM178.2 212.4L186.0 201.9L183.6 200.1L192.1 195.0L189.7 204.6L187.3 202.8L179.5 213.4zM248.4 258.3L260.9 262.6L261.9 259.8L269.3 266.4L259.4 267.0L260.4 264.1L247.9 259.8zM279.1 242.9L292.1 245.6L292.7 242.6L300.9 248.2L291.2 250.1L291.8 247.1L278.8 244.5zM185.9 220.1L193.9 209.6L191.5 207.8L200.1 202.7L197.6 212.4L195.2 210.5L187.2 221.1zM271.4 227.5L284.6 229.7L285.1 226.7L293.5 231.9L283.9 234.2L284.3 231.2L271.1 229.1zM256.4 281.5L265.8 291.1L267.9 289.0L271.6 298.3L262.5 294.3L264.6 292.2L255.3 282.6zM139.6 235.9L141.3 222.5L138.3 222.2L143.2 213.5L145.8 223.1L142.8 222.7L141.1 236.1zM201.3 204.8L208.4 193.3L205.8 191.8L213.9 185.9L212.3 195.8L209.7 194.2L202.6 205.6z"/><path fill="#ffaf00" d="M263.9 266.0L276.0 271.9L277.4 269.2L284.0 276.7L274.0 276.0L275.3 273.3L263.2 267.4zM148.6 427.1L139.4 437.1L141.6 439.2L132.5 443.3L136.0 434.0L138.2 436.0L147.5 426.0zM125.5 419.5L115.9 429.3L118.0 431.4L108.8 435.2L112.6 426.0L114.8 428.1L124.4 418.4zM232.7 265.9L246.4 265.1L246.2 262.1L255.6 265.3L246.7 269.7L246.5 266.7L232.8 267.5zM233.1 281.3L245.5 287.2L246.8 284.5L253.4 291.9L243.5 291.4L244.8 288.7L232.4 282.7zM147.3 289.6L147.8 275.9L144.8 275.8L149.0 266.7L152.4 276.1L149.4 276.0L148.8 289.7zM156.4 427.0L148.8 438.6L151.3 440.2L143.1 445.8L145.0 436.1L147.5 437.7L155.1 426.1zM179.6 426.8L174.5 439.8L177.3 440.9L170.4 448.1L170.2 438.1L173.0 439.2L178.1 426.3z"/><path fill="#ff9f00" d="M102.1 82.0L88.9 86.9L90.0 89.7L80.0 89.3L87.3 82.5L88.4 85.4L101.6 80.5zM125.5 412.0L115.5 421.9L117.6 424.0L108.4 427.8L112.2 418.6L114.4 420.7L124.4 410.8zM216.8 281.4L227.1 271.8L225.0 269.6L234.3 266.1L230.2 275.1L228.2 272.9L217.9 282.6zM162.7 243.4L168.2 230.4L165.4 229.2L172.5 222.2L172.4 232.1L169.7 231.0L164.2 244.0zM241.2 289.3L247.9 301.7L250.6 300.3L251.6 310.2L243.9 303.9L246.5 302.5L239.7 290.0zM224.4 173.9L232.7 162.1L230.2 160.3L238.6 155.0L236.4 164.7L234.0 163.0L225.7 174.8zM147.3 243.6L148.3 229.2L145.3 229.0L149.7 220.1L152.9 229.5L149.9 229.3L148.8 243.7z"/><path fill="#ff8f00" d="M171.9 419.2L168.1 433.2L171.0 434.0L164.9 441.9L163.7 432.0L166.6 432.8L170.4 418.8zM147.3 312.8L144.1 298.2L141.2 298.9L142.9 289.1L148.6 297.3L145.7 297.9L148.8 312.4zM147.3 320.2L147.0 305.4L144.0 305.4L147.6 296.2L151.6 305.3L148.6 305.3L148.8 320.2zM240.6 265.9L255.4 268.4L255.9 265.5L264.3 270.7L254.6 272.9L255.1 270.0L240.3 267.5zM248.5 273.6L261.9 280.3L263.3 277.6L269.8 285.1L259.9 284.4L261.2 281.7L247.8 275.1z"/><path fill="#ff8000" d="M286.5 219.8L301.5 217.6L301.0 214.7L310.7 217.1L302.1 222.2L301.7 219.2L286.8 221.4zM264.2 281.5L273.6 293.3L275.9 291.5L278.7 301.0L270.0 296.2L272.3 294.3L262.9 282.5zM263.8 242.9L278.3 246.9L279.1 244.0L287.0 250.0L277.1 251.3L277.9 248.4L263.3 244.5zM162.7 274.1L167.6 259.6L164.7 258.7L171.3 251.2L171.9 261.1L169.1 260.1L164.2 274.6zM170.4 274.0L177.4 260.3L174.7 259.0L182.2 252.5L181.5 262.4L178.8 261.1L171.9 274.7zM117.7 412.1L104.8 420.4L106.4 422.9L96.6 424.6L102.3 416.5L103.9 419.0L116.8 410.7zM139.6 266.7L140.2 251.3L137.2 251.2L141.3 242.1L144.8 251.5L141.8 251.3L141.1 266.7zM155.0 274.2L157.8 259.1L154.9 258.5L160.4 250.2L162.4 259.9L159.4 259.4L156.5 274.5zM155.0 281.8L158.5 266.8L155.6 266.1L161.4 258.1L163.0 267.9L160.0 267.2L156.5 282.2zM232.0 166.2L239.5 152.7L236.8 151.3L244.6 145.0L243.5 154.9L240.9 153.5L233.5 167.0zM270.6 166.1L279.9 153.7L277.5 151.9L286.0 146.8L283.6 156.4L281.2 154.6L271.9 167.1z"/><path fill="#ff7000" d="M87.0 412.0L76.2 423.1L78.3 425.2L69.2 429.2L72.9 419.9L75.0 422.0L85.9 410.9zM286.6 212.1L302.3 211.1L302.1 208.1L311.5 211.4L302.5 215.7L302.4 212.7L286.7 213.7zM178.1 274.0L185.9 259.9L183.2 258.5L191.0 252.3L189.9 262.2L187.3 260.7L179.6 274.7zM279.6 266.2L289.9 278.5L292.2 276.5L295.2 286.0L286.4 281.4L288.7 279.5L278.3 267.2z"/><path fill="#ff6000" d="M263.7 235.2L279.6 237.4L280.0 234.4L288.6 239.4L279.0 241.9L279.4 238.9L263.4 236.8zM248.3 265.9L264.1 269.8L264.8 266.9L272.8 272.8L263.0 274.2L263.7 271.3L248.0 267.5zM208.9 197.2L215.4 182.3L212.7 181.1L219.8 174.2L219.6 184.2L216.9 183.0L210.4 197.8zM209.1 281.5L220.0 269.4L217.8 267.4L226.8 263.2L223.4 272.5L221.2 270.5L210.2 282.6zM233.0 273.6L248.3 279.4L249.4 276.6L256.7 283.4L246.7 283.7L247.8 280.9L232.5 275.1zM271.6 258.3L286.3 265.4L287.6 262.7L294.3 270.2L284.3 269.6L285.6 266.9L270.9 259.7z"/><path fill="#ff5000" d="M240.9 281.4L254.2 291.4L256.0 289.0L261.0 297.5L251.4 295.0L253.2 292.6L240.0 282.7zM178.2 243.3L186.4 228.8L183.8 227.3L191.7 221.2L190.4 231.1L187.8 229.6L179.5 244.1zM171.9 426.8L166.7 442.7L169.5 443.6L163.1 451.1L162.3 441.2L165.2 442.2L170.4 426.3zM155.0 289.6L156.6 272.9L153.6 272.6L158.2 263.8L161.1 273.3L158.2 273.0L156.5 289.7zM287.1 243.0L301.0 252.4L302.7 250.0L308.2 258.3L298.4 256.2L300.1 253.8L286.2 244.3zM256.1 258.3L272.0 263.8L273.0 260.9L280.4 267.6L270.5 268.1L271.5 265.3L255.6 259.8zM270.7 220.1L282.4 207.8L280.2 205.7L289.3 201.7L285.7 210.9L283.6 208.9L271.8 221.2zM162.7 281.8L167.9 265.5L165.1 264.6L171.5 257.0L172.3 267.0L169.5 266.0L164.2 282.3zM155.0 251.2L157.2 234.3L154.3 233.9L159.3 225.3L161.8 235.0L158.8 234.5L156.5 251.5z"/><path fill="#ff4000" d="M193.7 273.8L205.4 261.3L203.2 259.3L212.2 255.2L208.7 264.5L206.5 262.4L194.8 274.9zM239.8 166.1L250.4 152.5L248.1 150.7L256.7 145.8L254.1 155.4L251.7 153.5L241.1 167.1zM155.0 304.9L156.7 287.7L153.7 287.4L158.4 278.6L161.2 288.1L158.3 287.8L156.5 305.0zM110.1 412.0L96.9 423.2L98.8 425.5L89.3 428.5L93.9 419.7L95.8 422.0L109.0 410.8zM279.6 281.5L290.2 295.4L292.6 293.6L295.1 303.2L286.5 298.2L288.9 296.4L278.3 282.5z"/><path fill="#ff3000" d="M256.2 266.0L272.0 274.2L273.4 271.5L279.8 279.1L269.9 278.3L271.3 275.6L255.5 267.4zM147.3 274.3L148.3 256.6L145.3 256.4L149.6 247.4L152.9 256.8L149.9 256.7L148.8 274.4zM279.1 219.8L296.7 222.3L297.2 219.4L305.7 224.4L296.1 226.9L296.5 223.9L278.8 221.4zM193.9 281.3L209.9 273.2L208.6 270.6L218.5 269.8L212.0 277.4L210.6 274.7L194.6 282.7zM271.4 242.9L288.9 246.8L289.6 243.9L297.7 249.6L287.9 251.3L288.6 248.4L271.1 244.5zM162.7 289.5L165.8 271.8L162.9 271.3L168.2 262.9L170.3 272.6L167.4 272.1L164.2 289.8zM179.6 419.4L170.9 435.1L173.5 436.6L165.8 442.8L166.9 432.9L169.5 434.4L178.1 418.6zM164.1 427.0L152.9 441.2L155.2 443.0L146.5 447.9L149.3 438.3L151.6 440.2L162.8 426.0z"/><path fill="#ff2000" d="M209.0 212.4L220.2 198.0L217.8 196.2L226.4 191.3L223.8 200.9L221.4 199.0L210.3 213.4zM155.0 320.3L154.1 301.9L151.1 302.0L154.5 292.6L158.7 301.7L155.7 301.8L156.5 320.2zM178.2 266.2L188.7 251.1L186.3 249.4L194.7 244.0L192.5 253.7L190.1 252.0L179.5 267.2zM271.9 281.6L282.6 296.7L285.1 295.0L287.3 304.7L278.9 299.4L281.3 297.7L270.6 282.5z"/><path fill="#ff1000" d="M162.7 251.0L171.5 234.5L168.9 233.1L176.5 226.7L175.6 236.6L172.9 235.2L164.2 251.7zM178.2 250.9L190.0 236.3L187.6 234.4L196.4 229.6L193.6 239.2L191.2 237.3L179.5 251.9zM186.0 273.8L198.7 259.9L196.5 257.9L205.5 253.7L202.1 263.0L199.9 261.0L187.1 274.9zM147.3 304.9L149.3 286.1L146.3 285.8L151.1 277.1L153.9 286.6L150.9 286.3L148.8 305.0zM287.1 266.1L302.2 277.4L304.0 275.0L309.1 283.6L299.4 281.1L301.2 278.7L286.2 267.3zM155.0 266.6L157.5 247.8L154.5 247.4L159.5 238.8L162.1 248.4L159.1 248.0L156.5 266.8zM286.8 235.2L305.7 237.9L306.1 234.9L314.7 239.9L305.1 242.4L305.5 239.4L286.5 236.8z"/><path fill="#ff0000" d="M162.7 258.9L166.8 240.0L163.9 239.3L169.5 231.2L171.3 241.0L168.4 240.3L164.2 259.2zM155.0 297.3L156.0 277.9L153.0 277.8L157.3 268.8L160.6 278.2L157.6 278.0L156.5 297.4zM178.2 258.5L190.2 243.1L187.8 241.3L196.4 236.3L193.8 245.9L191.4 244.1L179.5 259.5zM147.3 258.9L151.0 239.7L148.1 239.1L153.6 230.8L155.5 240.6L152.6 240.0L148.8 259.2zM286.7 227.5L306.2 228.9L306.4 225.9L315.3 230.4L305.9 233.5L306.1 230.5L286.6 229.1zM255.3 235.4L269.9 222.3L267.9 220.1L277.3 216.8L273.0 225.8L271.0 223.5L256.4 236.6zM155.0 243.4L161.8 225.0L159.0 224.0L165.8 216.7L166.2 226.6L163.3 225.6L156.5 244.0zM255.2 158.5L265.5 141.8L262.9 140.2L271.0 134.4L269.4 144.2L266.8 142.6L256.5 159.3z"/><path fill="#ef0000" d="M185.9 235.6L195.6 218.4L193.0 217.0L200.8 210.8L199.6 220.7L197.0 219.2L187.2 236.4zM110.1 419.5L95.9 433.5L98.0 435.6L88.8 439.4L92.7 430.2L94.8 432.4L109.0 418.4zM208.9 204.9L217.0 186.6L214.3 185.3L221.5 178.5L221.2 188.4L218.5 187.2L210.4 205.5z"/><path fill="#df0000" d="M256.2 250.6L274.9 258.4L276.0 255.6L283.1 262.6L273.1 262.6L274.3 259.8L255.5 252.1zM162.7 266.5L168.4 247.0L165.5 246.2L171.8 238.4L172.8 248.3L169.9 247.5L164.2 266.9zM170.5 258.6L181.2 241.4L178.7 239.8L186.8 234.0L185.1 243.8L182.6 242.2L171.8 259.5zM262.9 227.8L276.4 212.4L274.1 210.5L283.0 206.0L279.8 215.5L277.6 213.5L264.2 228.8zM247.4 158.5L256.8 140.2L254.2 138.9L261.8 132.4L260.9 142.3L258.3 141.0L248.9 159.3z"/><path fill="#cf0000" d="M278.3 204.7L291.4 188.6L289.1 186.7L297.8 182.0L295.0 191.5L292.7 189.6L279.6 205.7zM178.2 235.5L191.4 218.9L189.1 217.1L197.8 212.3L195.0 221.8L192.7 219.9L179.5 236.5z"/><path fill="#bf0000" d="M102.5 434.6L89.0 451.4L91.3 453.3L82.6 458.0L85.4 448.5L87.7 450.4L101.2 433.6zM141.0 427.1L126.9 443.5L129.2 445.5L120.3 450.0L123.4 440.5L125.7 442.5L139.7 426.0z"/><path fill="#af0000" d="M94.7 427.1L79.3 442.5L81.4 444.6L72.2 448.5L76.0 439.3L78.2 441.4L93.6 426.0zM216.6 189.4L226.9 170.0L224.3 168.6L231.9 162.2L231.0 172.1L228.3 170.7L218.1 190.2zM133.2 419.6L116.3 433.7L118.3 436.0L108.8 439.1L113.4 430.2L115.3 432.5L132.1 418.4zM279.1 227.5L301.0 230.4L301.4 227.4L310.0 232.4L300.4 235.0L300.8 232.0L278.8 229.1z"/><path fill="#9f0000" d="M255.2 227.8L269.5 210.3L267.1 208.4L275.9 203.7L273.0 213.2L270.7 211.3L256.5 228.8zM201.3 212.4L215.7 195.0L213.4 193.1L222.2 188.4L219.3 197.9L216.9 196.0L202.6 213.4z"/><path fill="#8f0000" d="M279.3 250.7L299.2 261.8L300.7 259.1L306.9 266.9L297.0 265.8L298.5 263.1L278.6 252.1zM278.3 173.9L292.6 156.1L290.2 154.2L299.0 149.4L296.2 158.9L293.8 157.1L279.6 174.9zM240.7 273.6L262.6 280.5L263.5 277.7L271.2 284.1L261.2 284.9L262.1 282.1L240.2 275.1zM279.2 235.2L301.4 241.5L302.3 238.6L310.1 244.7L300.2 245.9L301.0 243.0L278.7 236.8zM155.0 258.8L161.4 236.5L158.5 235.7L164.7 227.9L165.8 237.8L162.9 236.9L156.5 259.2z"/><path fill="#800000" d="M170.4 266.3L180.9 245.2L178.2 243.9L185.7 237.3L185.0 247.3L182.3 245.9L171.9 267.1zM224.3 181.7L234.6 160.5L231.9 159.2L239.3 152.5L238.7 162.5L236.0 161.2L225.8 182.4zM270.6 173.8L285.7 155.6L283.3 153.7L292.1 149.0L289.2 158.5L286.9 156.6L271.9 174.9zM232.2 258.4L250.5 242.4L248.5 240.1L257.9 236.9L253.5 245.8L251.5 243.6L233.3 259.6zM125.5 427.1L107.7 444.2L109.7 446.4L100.5 450.0L104.5 440.9L106.6 443.1L124.4 426.0zM125.5 434.7L109.0 453.2L111.2 455.2L102.2 459.5L105.5 450.1L107.8 452.1L124.4 433.6zM201.4 281.4L220.3 264.7L218.4 262.5L227.8 259.2L223.4 268.2L221.4 265.9L202.5 282.6zM239.8 243.2L254.8 221.8L252.4 220.1L260.8 214.7L258.6 224.4L256.1 222.7L241.1 244.1zM216.7 273.8L234.3 253.7L232.0 251.8L240.9 247.3L237.7 256.8L235.5 254.8L218.0 274.9zM247.6 243.1L265.7 223.5L263.5 221.5L272.5 217.3L269.0 226.7L266.8 224.6L248.7 244.2zM133.3 427.1L116.0 447.6L118.3 449.5L109.5 454.1L112.5 444.7L114.8 446.6L132.0 426.0zM247.5 235.5L263.9 213.8L261.5 212.0L270.0 207.0L267.5 216.6L265.1 214.8L248.8 236.5zM262.9 166.1L279.2 144.1L276.8 142.3L285.3 137.1L282.9 146.8L280.5 145.0L264.2 167.1zM239.7 158.5L253.0 134.2L250.4 132.8L258.1 126.5L257.0 136.4L254.4 135.0L241.2 159.3zM224.4 250.9L241.5 228.5L239.1 226.7L247.7 221.7L245.1 231.3L242.7 229.5L225.7 251.8zM270.6 204.7L289.1 183.2L286.8 181.2L295.6 176.7L292.5 186.2L290.3 184.2L271.9 205.7zM216.7 197.1L232.6 173.6L230.1 171.9L238.5 166.4L236.4 176.2L234.0 174.5L218.0 198.0zM117.8 419.5L98.1 440.2L100.2 442.3L91.1 446.3L94.7 437.0L96.9 439.1L116.7 418.4zM102.4 419.6L80.7 438.5L82.7 440.8L73.2 443.9L77.7 435.0L79.7 437.3L101.3 418.4zM232.0 174.0L245.1 147.6L242.4 146.3L249.9 139.7L249.2 149.7L246.5 148.3L233.5 174.7zM209.1 273.8L228.9 251.8L226.7 249.8L235.7 245.5L232.3 254.9L230.1 252.9L210.2 274.9zM240.0 250.7L263.3 232.4L261.5 230.1L271.1 227.4L266.2 236.1L264.3 233.7L240.9 252.0zM102.4 427.1L82.5 449.2L84.7 451.2L75.8 455.5L79.1 446.1L81.3 448.1L101.3 426.0zM262.9 212.4L281.8 189.4L279.5 187.5L288.3 182.8L285.4 192.3L283.1 190.4L264.2 213.4zM224.4 189.3L242.5 165.0L240.0 163.2L248.6 158.1L246.1 167.7L243.7 165.9L225.7 190.3zM193.5 228.0L206.5 200.2L203.8 198.9L211.1 192.2L210.7 202.2L208.0 200.9L195.0 228.6zM110.1 427.1L89.4 450.3L91.7 452.3L82.7 456.6L86.0 447.2L88.2 449.2L109.0 426.0zM224.5 266.1L245.8 243.3L243.6 241.2L252.6 237.1L249.1 246.4L247.0 244.4L225.6 267.2zM239.7 174.0L254.6 146.1L251.9 144.7L259.6 138.4L258.7 148.3L256.0 146.9L241.2 174.7zM133.2 434.7L110.0 456.5L112.1 458.7L102.8 462.2L106.9 453.1L108.9 455.3L132.1 433.6zM270.7 212.4L292.4 188.5L290.2 186.5L299.2 182.2L295.8 191.6L293.6 189.6L271.8 213.5zM255.2 166.1L274.6 140.3L272.2 138.5L280.8 133.4L278.3 143.0L275.9 141.2L256.5 167.1zM201.2 220.3L216.0 190.2L213.3 188.9L220.8 182.3L220.2 192.3L217.5 190.9L202.7 221.0zM247.5 166.1L267.9 138.9L265.5 137.1L274.0 132.0L271.6 141.7L269.2 139.9L248.8 167.1zM278.4 181.5L302.9 157.6L300.8 155.4L310.0 151.7L306.1 160.8L304.0 158.7L279.5 182.6zM209.0 227.8L229.9 199.5L227.5 197.7L236.0 192.5L233.6 202.2L231.2 200.4L210.3 228.8zM185.8 243.3L202.2 211.9L199.6 210.5L207.2 204.1L206.3 214.0L203.7 212.7L187.3 244.1zM140.9 434.7L117.4 461.2L119.7 463.2L110.7 467.5L114.0 458.1L116.2 460.1L139.8 433.6zM216.7 212.5L236.5 182.4L234.0 180.8L242.3 175.2L240.4 185.0L237.9 183.3L218.0 213.4zM117.9 434.7L94.6 462.4L96.9 464.3L88.0 468.9L91.1 459.4L93.4 461.3L116.6 433.6zM216.8 266.2L241.7 238.6L239.4 236.6L248.4 232.3L245.1 241.7L242.8 239.7L217.9 267.2zM232.0 181.7L249.2 148.7L246.5 147.3L254.2 140.9L253.3 150.8L250.6 149.4L233.5 182.4zM117.8 427.1L92.7 455.1L95.0 457.1L86.0 461.4L89.3 452.0L91.5 454.0L116.7 426.0zM110.1 434.7L84.3 462.7L86.5 464.8L77.4 469.0L80.9 459.6L83.1 461.7L109.0 433.6zM201.4 273.8L228.8 246.5L226.7 244.4L235.9 240.6L232.0 249.8L229.9 247.7L202.5 274.9zM263.0 220.0L291.2 193.3L289.1 191.1L298.4 187.6L294.4 196.7L292.3 194.5L264.1 221.2zM193.6 235.6L214.3 202.6L211.8 201.0L219.9 195.2L218.2 205.0L215.7 203.4L194.9 236.4zM239.9 227.8L266.9 198.8L264.7 196.8L273.8 192.6L270.3 201.9L268.1 199.9L241.0 228.9zM216.6 204.9L234.7 168.1L232.0 166.7L239.5 160.2L238.8 170.1L236.2 168.8L218.1 205.6zM255.2 212.5L279.3 178.8L276.9 177.1L285.3 171.8L283.1 181.5L280.6 179.8L256.5 213.4zM185.9 266.2L212.4 232.8L210.1 231.0L218.8 226.1L216.0 235.7L213.7 233.8L187.2 267.2zM216.7 250.9L243.3 215.3L240.9 213.5L249.4 208.4L247.0 218.1L244.6 216.3L218.0 251.8zM232.2 250.8L264.1 219.6L262.1 217.5L271.3 213.8L267.4 222.9L265.3 220.8L233.3 251.9zM247.5 174.0L269.8 134.5L267.2 133.0L275.0 126.9L273.8 136.7L271.2 135.3L248.8 174.7zM201.3 227.9L225.2 188.3L222.7 186.8L230.7 180.9L229.2 190.7L226.6 189.1L202.6 228.7zM239.8 220.1L268.7 183.1L266.3 181.2L275.0 176.3L272.3 185.9L270.0 184.1L241.1 221.1zM185.9 258.5L215.5 221.8L213.2 219.9L221.9 215.2L219.1 224.7L216.8 222.8L187.2 259.5zM216.8 258.4L253.1 227.2L251.1 225.0L260.6 221.8L256.1 230.7L254.1 228.5L217.9 259.6zM239.8 235.5L271.7 198.9L269.5 196.9L278.4 192.4L275.2 201.9L272.9 199.9L241.1 236.5zM262.9 173.9L290.0 133.2L287.5 131.6L295.8 126.0L293.8 135.8L291.3 134.1L264.2 174.8zM209.0 220.2L236.0 178.8L233.5 177.1L241.7 171.5L239.9 181.3L237.3 179.7L210.3 221.1zM247.6 227.8L281.4 191.3L279.2 189.3L288.2 185.1L284.7 194.5L282.5 192.4L248.7 228.9zM278.4 196.9L317.4 165.2L315.5 162.9L325.1 160.0L320.3 168.8L318.4 166.5L279.5 198.1zM232.1 235.5L261.1 194.3L258.7 192.6L267.1 187.3L264.9 197.0L262.4 195.3L233.4 236.5zM224.4 204.8L252.6 162.8L250.1 161.1L258.4 155.6L256.4 165.4L253.9 163.7L225.7 205.7zM193.6 243.2L223.7 202.3L221.2 200.5L229.7 195.4L227.4 205.0L224.9 203.3L194.9 244.2zM270.6 197.0L300.6 155.8L298.2 154.0L306.7 148.8L304.3 158.5L301.9 156.7L271.9 198.0zM209.0 235.6L236.5 192.2L234.0 190.6L242.1 184.8L240.4 194.6L237.9 193.0L210.3 236.4zM239.8 204.8L267.3 160.8L264.8 159.2L272.9 153.5L271.2 163.3L268.7 161.7L241.1 205.6zM224.5 258.5L260.0 220.1L257.8 218.1L266.8 213.9L263.4 223.2L261.2 221.2L225.6 259.6zM270.7 189.2L307.6 151.2L305.4 149.1L314.6 145.1L310.9 154.4L308.8 152.3L271.8 190.4zM255.2 189.3L285.2 145.3L282.8 143.6L291.1 138.1L289.0 147.8L286.6 146.2L256.5 190.2zM270.7 181.5L306.0 141.5L303.8 139.5L312.7 135.1L309.5 144.5L307.2 142.5L271.8 182.6zM224.4 197.1L252.2 151.2L249.7 149.6L257.7 143.7L256.2 153.6L253.6 152.0L225.7 197.9zM201.2 235.6L226.9 188.3L224.3 186.9L232.0 180.6L231.0 190.5L228.3 189.1L202.7 236.4zM232.1 243.2L265.8 200.5L263.4 198.6L272.1 193.8L269.4 203.3L267.0 201.5L233.4 244.2zM255.2 220.1L288.5 176.7L286.1 174.9L294.7 169.9L292.1 179.5L289.8 177.7L256.5 221.1zM278.3 189.3L312.3 145.7L309.9 143.8L318.6 138.9L315.9 148.5L313.5 146.6L279.6 190.3zM232.2 189.3L269.7 148.6L267.5 146.6L276.6 142.4L273.1 151.7L270.9 149.7L233.3 190.3zM232.1 227.8L265.9 184.0L263.5 182.2L272.2 177.2L269.6 186.8L267.2 185.0L233.4 228.8zM201.3 243.3L230.0 195.6L227.4 194.1L235.4 188.2L233.9 198.0L231.4 196.5L202.6 244.1zM232.1 212.4L265.5 167.8L263.1 166.0L271.7 160.9L269.2 170.6L266.8 168.8L233.4 213.4zM201.3 266.2L235.2 220.9L232.8 219.1L241.3 214.0L238.9 223.7L236.5 221.9L202.6 267.2zM193.6 258.5L230.5 215.4L228.2 213.5L237.1 208.9L234.0 218.4L231.7 216.4L194.9 259.5zM185.9 250.9L220.6 205.8L218.2 203.9L226.8 199.0L224.2 208.6L221.9 206.7L187.2 251.8zM224.4 235.5L257.5 188.5L255.0 186.8L263.4 181.4L261.2 191.1L258.8 189.4L225.7 236.5zM255.3 204.7L296.3 163.0L294.2 160.9L303.3 157.0L299.6 166.2L297.4 164.1L256.4 205.8zM232.1 204.7L268.7 158.1L266.4 156.3L275.0 151.4L272.3 161.0L270.0 159.1L233.4 205.7zM263.0 204.6L307.3 163.6L305.3 161.4L314.6 157.9L310.4 166.9L308.4 164.7L264.1 205.8zM263.0 196.9L306.1 154.2L304.0 152.1L313.2 148.3L309.4 157.5L307.3 155.4L264.1 198.1zM232.1 197.0L269.2 147.1L266.8 145.4L275.3 140.2L272.9 149.9L270.5 148.1L233.4 198.0zM247.5 220.1L287.5 172.3L285.2 170.4L294.0 165.7L291.0 175.2L288.7 173.3L248.8 221.1zM239.8 197.1L274.7 144.8L272.2 143.1L280.5 137.6L278.5 147.4L276.0 145.7L241.1 198.0zM247.5 181.7L278.3 126.8L275.7 125.4L283.5 119.2L282.3 129.1L279.7 127.6L248.8 182.5zM239.7 181.8L262.5 122.6L259.7 121.5L266.5 114.3L266.8 124.2L264.0 123.1L241.2 182.4zM239.8 189.4L272.0 134.6L269.4 133.1L277.4 127.1L276.0 137.0L273.4 135.5L241.1 190.2zM224.4 220.1L264.3 168.5L262.0 166.6L270.6 161.7L268.0 171.3L265.6 169.4L225.7 221.1zM216.7 243.2L255.6 190.2L253.1 188.4L261.6 183.3L259.3 192.9L256.8 191.2L218.0 244.2zM247.5 197.0L287.9 145.1L285.5 143.3L294.2 138.4L291.5 147.9L289.1 146.1L248.8 198.0zM193.7 266.1L239.3 217.8L237.1 215.7L246.2 211.7L242.6 221.0L240.4 218.9L194.8 267.2zM255.3 181.5L300.5 131.9L298.2 129.9L307.2 125.6L303.9 135.0L301.6 133.0L256.4 182.6zM193.6 250.9L235.2 198.1L232.9 196.2L241.6 191.4L238.9 201.0L236.5 199.1L194.9 251.9zM255.2 173.9L290.0 116.1L287.4 114.6L295.4 108.7L293.9 118.5L291.4 117.0L256.5 174.8zM216.7 220.1L258.6 166.8L256.2 164.9L264.9 160.0L262.2 169.6L259.9 167.8L218.0 221.1zM247.5 189.3L291.9 137.4L289.6 135.5L298.4 131.0L295.4 140.4L293.1 138.5L248.8 190.3zM216.7 235.5L262.0 183.5L259.7 181.5L268.7 177.1L265.5 186.5L263.2 184.5L218.0 236.5zM201.3 258.6L241.9 202.0L239.5 200.2L248.0 195.0L245.7 204.7L243.2 202.9L202.6 259.5zM247.5 204.7L293.3 150.6L291.0 148.7L299.8 144.1L296.8 153.6L294.5 151.7L248.8 205.7zM201.3 250.9L239.7 189.3L237.2 187.7L245.3 181.9L243.6 191.7L241.1 190.1L202.6 251.8zM232.2 220.1L281.6 166.6L279.4 164.5L288.5 160.3L285.0 169.7L282.8 167.6L233.3 221.2zM216.8 227.8L266.1 173.8L263.8 171.8L272.9 167.6L269.5 176.9L267.2 174.9L217.9 228.8zM255.2 197.0L301.4 139.5L299.0 137.7L307.7 132.9L304.9 142.4L302.6 140.5L256.5 198.0zM262.9 181.6L306.9 120.2L304.4 118.5L312.9 113.2L310.6 122.9L308.2 121.2L264.2 182.5zM224.4 212.5L267.3 149.9L264.9 148.2L273.2 142.8L271.1 152.5L268.6 150.8L225.7 213.4zM224.4 243.2L271.4 181.2L269.0 179.4L277.6 174.3L275.1 183.9L272.7 182.1L225.7 244.2zM262.9 189.3L311.6 128.5L309.3 126.6L318.0 121.8L315.2 131.4L312.9 129.5L264.2 190.3zM209.0 266.2L263.1 199.3L260.8 197.4L269.5 192.6L266.7 202.2L264.4 200.3L210.3 267.2zM209.0 258.5L264.1 190.3L261.8 188.4L270.5 183.6L267.7 193.2L265.3 191.3L210.3 259.5zM209.0 243.2L262.0 172.4L259.6 170.6L268.2 165.5L265.7 175.2L263.3 173.4L210.3 244.2zM247.5 212.4L304.5 143.8L302.2 141.9L311.0 137.2L308.0 146.7L305.7 144.8L248.8 213.4zM209.0 250.9L262.9 179.8L260.5 178.0L269.1 172.9L266.5 182.5L264.1 180.7L210.3 251.8zM224.5 227.7L294.3 165.3L292.3 163.1L301.7 159.8L297.4 168.8L295.4 166.5L225.6 228.9zM239.8 212.4L301.6 133.4L299.3 131.6L307.9 126.7L305.3 136.3L302.9 134.4L241.1 213.4z"/><text transform="translate(44,411) rotate(-58)" font-size="17">-100</text>
<use href="#stars"/>
<use href="#frame"/>
<rect x="10.0" y="16.5" width="113.0" height="25.0" fill="url(#jetg)" stroke="#262626" stroke-width="1"/><rect x="5" y="-13" width="133" height="15" rx="4" fill="#222"/><g opacity="0.4" fill="#fff"><text x="5.0" y="0.5" font-size="13.5" fill="#ddd" stroke="#999" stroke-width="0.5">0</text><text x="9.4" y="0.5" font-size="13.5" fill="#ddd" stroke="#999" stroke-width="0.5">5</text><text x="13.8" y="0.5" font-size="13.5" fill="#ddd" stroke="#999" stroke-width="0.5">10</text><text x="18.2" y="0.5" font-size="13.5" fill="#ddd" stroke="#999" stroke-width="0.5">15</text><text x="22.6" y="0.5" font-size="13.5" fill="#ddd" stroke="#999" stroke-width="0.5">20</text><text x="27.0" y="0.5" font-size="13.5" fill="#ddd" stroke="#999" stroke-width="0.5">25</text><text x="31.4" y="0.5" font-size="13.5" fill="#ddd" stroke="#999" stroke-width="0.5">30</text><text x="35.8" y="0.5" font-size="13.5" fill="#ddd" stroke="#999" stroke-width="0.5">35</text><text x="40.2" y="0.5" font-size="13.5" fill="#ddd" stroke="#999" stroke-width="0.5">40</text><text x="44.6" y="0.5" font-size="13.5" fill="#ddd" stroke="#999" stroke-width="0.5">45</text><text x="49.0" y="0.5" font-size="13.5" fill="#ddd" stroke="#999" stroke-width="0.5">50</text><text x="53.4" y="0.5" font-size="13.5" fill="#ddd" stroke="#999" stroke-width="0.5">55</text><text x="57.8" y="0.5" font-size="13.5" fill="#ddd" stroke="#999" stroke-width="0.5">60</text><text x="62.2" y="0.5" font-size="13.5" fill="#ddd" stroke="#999" stroke-width="0.5">65</text><text x="66.6" y="0.5" font-size="13.5" fill="#ddd" stroke="#999" stroke-width="0.5">70</text><text x="71.0" y="0.5" font-size="13.5" fill="#ddd" stroke="#999" stroke-width="0.5">75</text><text x="75.4" y="0.5" font-size="13.5" fill="#ddd" stroke="#999" stroke-width="0.5">80</text><text x="79.8" y="0.5" font-size="13.5" fill="#ddd" stroke="#999" stroke-width="0.5">85</text><text x="84.2" y="0.5" font-size="13.5" fill="#ddd" stroke="#999" stroke-width="0.5">90</text><text x="88.6" y="0.5" font-size="13.5" fill="#ddd" stroke="#999" stroke-width="0.5">95</text><text x="93.0" y="0.5" font-size="13.5" fill="#ddd" stroke="#999" stroke-width="0.5">100</text><text x="97.4" y="0.5" font-size="13.5" fill="#ddd" stroke="#999" stroke-width="0.5">105</text><text x="101.8" y="0.5" font-size="13.5" fill="#ddd" stroke="#999" stroke-width="0.5">110</text><text x="106.2" y="0.5" font-size="13.5" fill="#ddd" stroke="#999" stroke-width="0.5">115</text><text x="110.6" y="0.5" font-size="13.5" fill="#ddd" stroke="#999" stroke-width="0.5">120</text><text x="115.0" y="0.5" font-size="13.5" fill="#ddd" stroke="#999" stroke-width="0.5">125</text></g><text x="43" y="-27" font-size="20" fill="#262626">cm/s</text><text x="174" y="-11.5" text-anchor="middle" font-size="25" font-weight="bold">2023-08-15 07:00</text><text x="275" y="64.5" font-size="21">50 cm/s</text><text x="285" y="102.5" font-size="21">10 km</text><path d="M306 108.5h14" stroke="#000" stroke-width="3.4" stroke-linecap="round"/>
</g>
<text x="68.5" y="150.3" text-anchor="end" font-size="21">37°N</text>
<text x="68.5" y="294.4" text-anchor="end" font-size="21">36°N</text>
<text x="68.5" y="436.7" text-anchor="end" font-size="21">35°N</text>
<text x="68.5" y="577.3" text-anchor="end" font-size="21">34°N</text>
<text x="68.5" y="219.8" text-anchor="end" font-size="15.5">30'</text>
<text x="68.5" y="363.0" text-anchor="end" font-size="15.5">30'</text>
<text x="68.5" y="504.4" text-anchor="end" font-size="15.5">30'</text>
<text x="135.0" y="590.5" text-anchor="middle" font-size="21">76°W</text>
<text x="251.0" y="590.5" text-anchor="middle" font-size="21">75°W</text>
<text x="367.0" y="590.5" text-anchor="middle" font-size="21">74°W</text>
<text x="74.0" y="586.5" text-anchor="middle" font-size="15.5">30'</text>
<text x="190.0" y="586.5" text-anchor="middle" font-size="15.5">30'</text>
<text x="306.0" y="586.5" text-anchor="middle" font-size="15.5">30'</text>
<text x="422.0" y="586.5" text-anchor="middle" font-size="15.5">30'</text>
<g transform="translate(459,142)">
<g clip-path="url(#pc)">
<use href="#land"/>
<use href="#grid"/>
<g shape-rendering="crispEdges"><path fill="#00efff" d="M90 -1H98V7H90zM83 77H90V85H83zM237 77H244V85H237zM267 101H275V108H267zM260 108H267V116H260zM98 116H106V124H98zM267 132H283V140H267zM275 140H283V147H275zM283 147H291V155H283zM283 194H291V201H283zM275 209H298V217H275zM275 217H283V224H275zM275 224H283V232H275zM267 240H275V248H267zM190 248H198V255H190zM275 255H283V263H275zM237 271H244V278H237zM252 271H260V278H252zM229 278H237V286H229zM160 370H167V377H160zM175 377H183V385H175zM160 385H167V392H160zM175 385H183V392H175zM175 392H183V400H175zM167 400H175V408H167zM167 408H175V415H167zM144 415H152V423H144zM160 415H167V423H160z"/><path fill="#008fff" d="M98 -1H106V7H98zM75 7H83V15H75zM229 101H237V108H229zM252 116H260V124H252zM260 209H267V217H260zM252 224H260V232H252zM252 232H260V240H252zM237 255H252V263H237zM90 263H98V271H90zM175 316H183V324H175zM175 355H183V362H175zM13 362H21V370H13zM152 362H160V370H152zM152 377H160V385H152zM144 400H152V408H144z"/><path fill="#0080ff" d="M106 -1H113V7H106zM83 70H90V77H83zM229 93H237V101H229zM98 101H106V108H98zM260 132H267V140H260zM221 147H229V155H221zM267 147H275V155H267zM267 155H275V163H267zM252 170H260V178H252zM275 170H283V178H275zM260 178H275V186H260zM260 186H267V194H260zM244 194H260V201H244zM244 201H252V209H244zM244 209H252V217H244zM244 217H252V224H244zM244 224H252V232H244zM244 232H252V240H244zM221 240H237V248H221zM252 240H260V248H252zM244 248H252V255H244zM229 255H237V263H229zM83 263H90V271H83zM221 263H229V271H221zM214 271H221V278H214zM190 324H198V332H190zM190 339H198V347H190zM6 347H13V355H6zM160 355H167V362H160zM152 370H160V377H152zM44 377H52V385H44zM60 385H67V392H60zM152 392H160V400H152zM90 415H98V423H90zM90 423H98V430H90z"/><path fill="#0020ff" d="M113 -1H183V7H113zM160 7H167V15H160zM198 7H206V15H198zM98 15H113V23H98zM214 15H221V23H214zM214 23H221V31H214zM90 31H98V38H90zM75 46H90V54H75zM214 54H221V62H214zM90 62H98V70H90zM214 62H221V70H214zM98 70H106V77H98zM190 70H214V77H190zM98 77H106V85H98zM183 77H190V85H183zM183 85H190V93H183zM183 93H190V101H183zM175 101H190V108H175zM106 108H113V116H106zM175 108H190V116H175zM113 116H121V124H113zM175 116H183V124H175zM175 124H183V132H175zM221 124H229V132H221zM190 132H221V140H190zM229 132H237V140H229zM106 140H113V147H106zM190 140H198V147H190zM198 147H206V155H198zM206 155H214V163H206zM121 163H129V170H121zM214 163H221V170H214zM129 170H136V178H129zM214 170H229V178H214zM221 178H229V186H221zM214 186H221V194H214zM136 201H144V209H136zM206 209H221V217H206zM136 217H144V224H136zM198 217H206V224H198zM183 224H190V232H183zM175 240H183V248H175zM167 248H175V255H167zM160 263H175V271H160zM160 271H175V278H160zM167 286H175V293H167zM167 301H175V309H167zM167 309H175V316H167zM167 316H175V324H167zM160 324H167V332H160zM152 332H160V339H152zM13 339H21V347H13zM21 347H29V355H21zM152 347H160V355H152zM29 355H36V362H29zM52 362H60V370H52zM67 370H75V377H67zM83 377H98V385H83zM144 377H152V385H144zM90 385H98V392H90zM98 392H106V400H98zM129 408H136V415H129zM106 415H121V423H106zM121 423H129V430H121z"/><path fill="#0000ff" d="M183 -1H198V7H183zM129 7H144V15H129zM121 15H129V23H121zM136 15H167V23H136zM175 15H206V23H175zM113 23H121V31H113zM136 23H144V31H136zM152 23H175V31H152zM198 23H214V31H198zM98 31H113V38H98zM144 31H167V38H144zM190 31H214V38H190zM98 38H106V46H98zM121 38H129V46H121zM175 38H183V46H175zM190 38H206V46H190zM98 46H106V54H98zM160 46H214V54H160zM113 54H121V62H113zM160 54H183V62H160zM190 54H198V62H190zM206 54H214V62H206zM98 62H113V70H98zM167 62H175V70H167zM106 70H113V77H106zM121 70H129V77H121zM167 70H183V77H167zM106 77H113V85H106zM121 77H129V85H121zM113 85H121V93H113zM160 85H167V93H160zM121 93H129V101H121zM167 93H175V101H167zM113 101H129V108H113zM167 101H175V108H167zM160 108H167V116H160zM129 116H136V124H129zM121 124H129V132H121zM160 124H167V132H160zM113 132H121V140H113zM167 132H183V140H167zM113 140H121V147H113zM175 140H190V147H175zM113 147H121V155H113zM183 147H198V155H183zM198 155H206V163H198zM198 163H206V170H198zM136 170H144V178H136zM136 178H144V186H136zM198 178H206V186H198zM206 194H214V201H206zM206 201H221V209H206zM190 209H198V217H190zM175 217H183V224H175zM129 232H136V240H129zM167 232H175V240H167zM121 240H129V248H121zM160 248H167V255H160zM152 255H160V263H152zM83 271H98V278H83zM152 271H160V278H152zM152 286H160V293H152zM152 293H160V301H152zM160 301H167V309H160zM160 309H167V316H160zM152 316H160V324H152zM21 324H36V332H21zM136 324H160V332H136zM21 332H36V339H21zM21 339H29V347H21zM144 339H152V347H144zM36 347H44V355H36zM36 355H60V362H36zM144 355H152V362H144zM83 362H90V370H83zM98 377H106V385H98zM136 377H144V385H136zM106 385H113V392H106zM129 385H144V392H129zM113 392H121V400H113zM129 392H136V400H129zM106 400H121V408H106zM113 408H121V415H113z"/><path fill="#0040ff" d="M198 -1H221V7H198zM113 7H121V15H113zM221 7H229V15H221zM221 23H229V31H221zM221 31H229V38H221zM75 38H83V46H75zM229 38H237V46H229zM221 46H229V54H221zM83 54H90V62H83zM90 70H98V77H90zM221 70H229V77H221zM190 77H198V85H190zM206 77H221V85H206zM198 85H206V93H198zM214 85H221V93H214zM214 93H229V101H214zM190 101H198V108H190zM190 108H198V116H190zM221 108H229V116H221zM183 116H190V124H183zM198 116H221V124H198zM229 116H237V124H229zM183 124H198V132H183zM237 124H244V132H237zM237 132H244V140H237zM221 140H229V147H221zM237 140H252V147H237zM206 147H214V155H206zM252 147H260V155H252zM214 155H221V163H214zM121 178H129V186H121zM229 178H237V186H229zM221 186H237V194H221zM129 194H136V201H129zM229 209H237V217H229zM129 217H136V224H129zM183 255H198V263H183zM183 263H190V271H183zM183 271H190V278H183zM175 278H190V286H175zM190 286H206V293H190zM175 293H183V301H175zM175 301H198V309H175zM183 309H190V316H183zM190 316H206V324H190zM198 324H206V332H198zM167 339H175V347H167zM167 347H175V355H167zM21 355H29V362H21zM152 355H160V362H152zM29 362H36V370H29zM44 370H60V377H44zM144 370H152V377H144zM67 377H75V385H67zM136 400H144V408H136zM98 408H106V415H98zM98 423H113V430H98z"/><path fill="#0070ff" d="M221 -1H237V7H221zM83 7H90V15H83zM75 15H83V23H75zM237 15H244V23H237zM237 31H244V38H237zM237 46H244V54H237zM206 101H214V108H206zM244 116H252V124H244zM260 140H267V147H260zM229 147H237V155H229zM229 155H244V163H229zM260 155H267V163H260zM244 163H275V170H244zM260 170H275V178H260zM252 178H260V186H252zM252 186H260V194H252zM260 194H267V201H260zM237 201H244V209H237zM252 201H267V209H252zM237 209H244V217H237zM252 209H260V217H252zM237 217H244V224H237zM221 224H229V232H221zM237 224H244V232H237zM221 232H244V240H221zM214 240H221V248H214zM237 240H252V248H237zM221 248H244V255H221zM221 255H229V263H221zM206 301H214V309H206zM198 332H206V339H198zM6 339H13V347H6zM183 347H190V355H183zM13 355H21V362H13zM29 370H36V377H29zM67 385H75V392H67zM83 392H90V400H83zM90 408H98V415H90z"/><path fill="#00dfff" d="M237 -1H244V7H237zM252 108H260V116H252zM267 108H283V116H267zM260 116H267V124H260zM275 147H283V155H275zM283 163H291V170H283zM283 170H291V178H283zM283 186H291V194H283zM275 201H283V209H275zM267 217H275V224H267zM121 224H129V232H121zM267 232H275V240H267zM252 263H267V271H252zM229 271H237V278H229zM214 301H221V309H214zM206 324H214V332H206zM183 332H190V339H183zM44 385H52V392H44zM160 392H167V400H160zM152 415H160V423H152z"/><path fill="#800000" d="M244 -1H252V7H244zM267 -1H275V7H267zM275 7H291V15H275zM291 23H306V31H291zM298 31H321V38H298zM329 46H352V54H329zM344 54H352V62H344zM337 62H344V70H337zM344 70H352V77H344zM344 293H352V301H344zM337 301H352V309H337zM291 332H298V339H291zM275 339H298V347H275zM267 347H275V355H267zM252 355H260V362H252zM275 355H283V362H275zM206 362H221V370H206zM237 362H260V370H237zM198 370H214V377H198zM221 370H244V377H221zM252 370H267V377H252zM275 370H298V377H275zM214 377H275V385H214zM221 385H252V392H221zM267 385H275V392H267zM214 392H260V400H214zM221 400H252V408H221zM221 408H237V415H221z"/><path fill="#ff4000" d="M252 -1H260V7H252zM267 31H275V38H267zM283 31H291V38H283zM344 232H352V240H344zM337 271H344V278H337zM267 332H275V339H267z"/><path fill="#ff8000" d="M260 -1H267V7H260zM275 23H283V31H275zM283 38H291V46H283zM275 46H283V54H275zM306 46H314V54H306zM314 62H321V70H314zM321 293H329V301H321zM298 309H306V316H298zM298 316H306V324H298zM229 347H237V355H229zM198 362H206V370H198z"/><path fill="#00ffff" d="M67 7H75V15H67zM237 70H244V77H237zM260 93H267V101H260zM252 101H260V108H252zM291 147H298V155H291zM283 155H291V163H283zM291 170H298V178H291zM298 186H306V194H298zM275 194H283V201H275zM283 201H306V209H283zM298 209H306V217H298zM283 217H291V224H283zM190 224H198V232H190zM275 232H291V240H275zM267 248H275V255H267zM283 248H291V255H283zM267 255H275V263H267zM98 263H106V271H98zM267 263H275V271H267zM283 263H291V271H283zM244 271H252V278H244zM221 286H237V293H221zM221 293H229V301H221zM183 324H190V332H183zM183 362H190V370H183zM13 377H21V385H13zM183 377H198V385H183zM36 385H44V392H36zM183 385H190V392H183zM52 392H60V400H52zM160 400H167V408H160zM136 423H144V430H136zM160 423H167V430H160z"/><path fill="#0060ff" d="M90 7H106V15H90zM229 7H237V15H229zM83 15H90V23H83zM75 23H83V31H75zM237 23H244V31H237zM237 38H244V46H237zM229 62H237V70H229zM229 70H237V77H229zM229 77H237V85H229zM229 85H237V93H229zM98 93H106V101H98zM198 93H206V101H198zM198 101H206V108H198zM214 101H221V108H214zM229 108H237V116H229zM252 124H260V132H252zM252 132H260V140H252zM214 147H221V155H214zM237 147H244V155H237zM260 147H267V155H260zM221 155H229V163H221zM244 155H260V163H244zM237 163H244V170H237zM244 178H252V186H244zM244 186H252V194H244zM237 194H244V201H237zM129 201H136V209H129zM229 217H237V224H229zM229 224H237V232H229zM214 248H221V255H214zM206 255H221V263H206zM190 263H198V271H190zM214 263H221V271H214zM175 309H183V316H175zM167 324H175V332H167zM175 339H183V347H175zM21 362H29V370H21zM144 362H152V370H144zM36 370H44V377H36zM52 377H60V385H52zM75 385H83V392H75zM144 392H152V400H144zM90 400H98V408H90zM136 408H144V415H136z"/><path fill="#0050ff" d="M106 7H113V15H106zM229 15H237V23H229zM83 23H90V31H83zM229 23H237V31H229zM75 31H83V38H75zM229 31H237V38H229zM229 46H237V54H229zM229 54H237V62H229zM83 62H90V70H83zM221 77H229V85H221zM98 85H106V93H98zM206 85H214V93H206zM221 85H229V93H221zM206 93H214V101H206zM198 108H221V116H198zM106 116H113V124H106zM190 116H198V124H190zM237 116H244V124H237zM106 124H113V132H106zM244 124H252V132H244zM106 132H113V140H106zM244 132H252V140H244zM206 140H221V147H206zM252 140H260V147H252zM221 163H237V170H221zM237 170H252V178H237zM237 178H244V186H237zM121 186H129V194H121zM237 186H244V194H237zM229 194H237V201H229zM229 201H237V209H229zM129 209H136V217H129zM214 217H229V224H214zM214 224H221V232H214zM121 232H129V240H121zM198 255H206V263H198zM198 263H214V271H198zM190 271H214V278H190zM190 278H214V286H190zM183 286H190V293H183zM206 286H214V293H206zM190 293H214V301H190zM198 301H206V309H198zM198 309H206V316H198zM167 332H175V339H167zM13 347H21V355H13zM175 347H183V355H175zM60 377H67V385H60zM83 385H90V392H83zM90 392H98V400H90zM98 415H106V423H98zM129 415H136V423H129z"/><path fill="#0010ff" d="M121 7H129V15H121zM144 7H160V15H144zM167 7H198V15H167zM167 15H175V23H167zM206 15H214V23H206zM98 23H113V31H98zM144 23H152V31H144zM183 23H190V31H183zM214 31H221V38H214zM83 38H98V46H83zM214 38H221V46H214zM90 46H98V54H90zM214 46H221V54H214zM98 54H106V62H98zM183 54H190V62H183zM198 54H206V62H198zM175 62H214V70H175zM183 70H190V77H183zM113 77H121V85H113zM167 77H183V85H167zM106 85H113V93H106zM167 85H183V93H167zM175 93H183V101H175zM106 101H113V108H106zM113 108H129V116H113zM167 108H175V116H167zM121 116H129V124H121zM167 116H175V124H167zM113 124H121V132H113zM167 124H175V132H167zM183 132H190V140H183zM121 147H129V155H121zM129 155H136V163H129zM129 163H136V170H129zM206 163H214V170H206zM206 170H214V178H206zM206 178H221V186H206zM206 186H214V194H206zM136 194H144V201H136zM214 194H221V201H214zM198 209H206V217H198zM183 217H190V224H183zM129 224H136V232H129zM175 224H183V232H175zM175 232H183V240H175zM167 240H175V248H167zM106 255H113V263H106zM160 255H167V263H160zM160 278H167V286H160zM160 286H167V293H160zM160 293H167V301H160zM160 316H167V324H160zM13 332H21V339H13zM160 332H167V339H160zM29 339H36V347H29zM152 339H167V347H152zM29 347H36V355H29zM144 347H152V355H144zM60 362H75V370H60zM136 362H144V370H136zM75 370H98V377H75zM98 385H106V392H98zM106 392H113V400H106zM129 400H136V408H129zM106 408H113V415H106zM121 408H129V415H121zM121 415H129V423H121zM129 423H136V430H129z"/><path fill="#0030ff" d="M206 7H221V15H206zM90 15H98V23H90zM113 15H121V23H113zM221 15H229V23H221zM90 23H98V31H90zM83 31H90V38H83zM221 38H229V46H221zM90 54H98V62H90zM221 54H229V62H221zM221 62H229V70H221zM214 70H221V77H214zM198 77H206V85H198zM190 85H198V93H190zM190 93H198V101H190zM221 101H229V108H221zM221 116H229V124H221zM198 124H221V132H198zM229 124H237V132H229zM221 132H229V140H221zM198 140H206V147H198zM229 140H237V147H229zM244 147H252V155H244zM121 170H129V178H121zM229 170H237V178H229zM129 178H136V186H129zM129 186H136V194H129zM221 194H229V201H221zM221 201H229V209H221zM136 209H144V217H136zM221 209H229V217H221zM190 217H198V224H190zM206 217H214V224H206zM167 255H183V263H167zM175 263H183V271H175zM175 271H183V278H175zM167 278H175V286H167zM175 286H183V293H175zM167 293H175V301H167zM183 293H190V301H183zM190 309H198V316H190zM160 347H167V355H160zM36 362H52V370H36zM60 370H67V377H60zM75 377H83V385H75zM144 385H152V392H144zM136 392H144V400H136zM98 400H106V408H98zM113 423H121V430H113z"/><path fill="#00afff" d="M237 7H244V15H237zM244 23H252V31H244zM98 108H106V116H98zM237 108H244V116H237zM275 178H283V186H275zM267 201H275V209H267zM252 217H260V224H252zM183 232H190V240H183zM260 248H267V255H260zM229 263H237V271H229zM244 263H252V271H244zM221 271H229V278H221zM206 309H214V316H206zM183 355H190V362H183zM29 377H36V385H29zM144 408H152V415H144z"/><path fill="#10ffef" d="M244 7H252V15H244zM244 46H252V54H244zM244 85H252V93H244zM252 93H260V101H252zM237 101H244V108H237zM260 101H267V108H260zM267 116H275V124H267zM267 124H283V132H267zM283 132H291V140H283zM291 155H298V163H291zM291 163H298V170H291zM298 170H306V178H298zM291 178H298V186H291zM291 186H298V194H291zM291 194H298V201H291zM306 194H314V201H306zM291 217H306V224H291zM267 224H275V232H267zM275 248H283V255H275zM291 248H298V255H291zM275 263H283V271H275zM237 278H244V286H237zM221 301H229V309H221zM206 332H214V339H206zM6 370H13V377H6zM29 385H36V392H29zM167 385H175V392H167zM44 392H52V400H44zM175 400H183V408H175zM167 415H175V423H167z"/><path fill="#cfff30" d="M252 7H260V15H252zM267 46H275V54H267zM298 70H314V77H298zM291 77H298V85H291zM306 85H314V93H306zM314 108H321V116H314zM329 108H337V116H329zM344 124H352V132H344zM337 132H344V140H337zM337 140H344V147H337zM337 170H344V178H337zM337 186H344V194H337zM306 286H314V293H306zM275 293H283V301H275zM267 324H275V332H267z"/><path fill="#ff5000" d="M260 7H267V15H260zM314 46H321V54H314zM321 54H329V62H321zM344 85H352V93H344zM344 278H352V286H344zM329 286H337V293H329zM329 293H337V301H329zM214 355H221V362H214z"/><path fill="#cf0000" d="M267 7H275V15H267zM329 62H337V70H329zM337 286H344V293H337zM329 301H337V309H329zM298 324H306V332H298zM260 347H267V355H260zM237 355H252V362H237zM283 362H291V370H283zM260 385H267V392H260z"/><path fill="#0000ef" d="M129 15H136V23H129zM121 23H136V31H121zM175 23H183V31H175zM190 23H198V31H190zM113 31H144V38H113zM167 31H190V38H167zM106 38H121V46H106zM129 38H175V46H129zM183 38H190V46H183zM206 38H214V46H206zM106 46H144V54H106zM152 46H160V54H152zM106 54H113V62H106zM129 54H136V62H129zM113 62H129V70H113zM160 62H167V70H160zM113 70H121V77H113zM129 70H136V77H129zM160 70H167V77H160zM129 77H144V85H129zM152 77H167V85H152zM121 85H144V93H121zM106 93H121V101H106zM129 93H144V101H129zM152 93H167V101H152zM129 101H136V108H129zM152 101H167V108H152zM129 108H144V116H129zM152 108H160V116H152zM160 116H167V124H160zM129 124H136V132H129zM160 132H167V140H160zM121 140H129V147H121zM136 140H144V147H136zM167 140H175V147H167zM106 147H113V155H106zM129 147H136V155H129zM175 147H183V155H175zM136 155H144V163H136zM175 155H198V163H175zM136 163H144V170H136zM175 163H183V170H175zM190 170H206V178H190zM136 186H144V194H136zM198 186H206V194H198zM198 194H206V201H198zM198 201H206V209H198zM144 209H152V217H144zM183 209H190V217H183zM144 217H175V224H144zM136 224H144V232H136zM167 224H175V232H167zM136 232H144V240H136zM129 240H136V248H129zM160 240H167V248H160zM121 248H129V255H121zM152 248H160V255H152zM144 263H160V271H144zM67 271H83V278H67zM144 271H152V278H144zM67 278H83V286H67zM152 278H160V286H152zM52 286H67V293H52zM44 293H52V301H44zM36 301H52V309H36zM152 301H160V309H152zM29 309H36V316H29zM44 309H52V316H44zM152 309H160V316H152zM21 316H44V324H21zM144 316H152V324H144zM36 324H44V332H36zM36 332H52V339H36zM136 332H152V339H136zM36 339H60V347H36zM136 339H144V347H136zM44 347H60V355H44zM136 347H144V355H136zM60 355H90V362H60zM136 355H144V362H136zM75 362H83V370H75zM90 362H98V370H90zM98 370H113V377H98zM129 370H144V377H129zM106 377H113V385H106zM121 377H136V385H121zM113 385H129V392H113zM121 400H129V408H121z"/><path fill="#00bfff" d="M244 15H252V23H244zM244 108H252V116H244zM267 140H275V147H267zM267 209H275V217H267zM260 240H267V248H260zM183 248H190V255H183zM260 255H267V263H260zM214 293H221V301H214zM206 316H214V324H206zM175 324H183V332H175zM6 362H13V370H6zM175 362H183V370H175zM13 370H21V377H13zM67 392H75V400H67zM160 408H167V415H160zM136 415H144V423H136z"/><path fill="#50ffaf" d="M252 15H260V23H252zM252 62H260V70H252zM283 85H291V93H283zM314 132H321V140H314zM306 147H321V155H306zM314 155H329V163H314zM321 163H337V170H321zM321 170H329V178H321zM321 178H329V186H321zM321 201H329V209H321zM321 209H329V217H321zM321 217H329V224H321zM291 240H298V248H291zM291 255H298V263H291zM298 263H306V271H298zM275 271H283V278H275zM267 278H275V286H267zM229 293H244V301H229zM221 316H229V324H221zM190 408H206V415H190zM183 415H190V423H183zM167 423H175V430H167zM190 423H198V430H190z"/><path fill="#ff8f00" d="M260 15H267V23H260zM260 23H267V31H260zM321 62H329V70H321zM344 224H352V232H344zM344 248H352V255H344zM314 293H321V301H314zM298 301H306V309H298zM229 339H237V347H229zM267 339H275V347H267z"/><path fill="#ff3000" d="M267 15H275V23H267zM275 38H283V46H275zM298 38H306V46H298zM314 38H321V46H314zM314 54H321V62H314zM344 263H352V271H344zM337 278H344V286H337zM321 301H329V309H321zM291 355H298V362H291z"/><path fill="#ff0000" d="M275 15H283V23H275zM283 23H291V31H283zM321 31H329V38H321zM314 301H321V309H314zM198 347H206V355H198zM229 362H237V370H229z"/><path fill="#ff1000" d="M283 15H291V23H283zM306 309H314V316H306zM275 332H291V339H275zM283 355H291V362H283zM214 408H221V415H214z"/><path fill="#70ff8f" d="M252 23H260V31H252zM260 62H267V70H260zM291 93H298V101H291zM314 101H321V108H314zM291 108H298V116H291zM291 116H298V124H291zM306 124H314V132H306zM329 155H337V163H329zM314 170H321V178H314zM329 178H337V186H329zM314 209H321V217H314zM121 217H129V224H121zM306 224H321V232H306zM306 255H314V263H306zM283 271H291V278H283zM275 278H291V286H275zM244 286H252V293H244zM283 286H291V293H283zM260 301H267V309H260zM229 316H237V324H229zM221 324H229V332H221zM190 347H198V355H190zM198 385H206V392H198z"/><path fill="#ff9f00" d="M267 23H275V31H267zM275 31H283V38H275zM321 70H329V77H321zM306 293H314V301H306zM283 324H291V332H283zM260 332H267V339H260zM260 339H267V347H260zM291 362H298V370H291z"/><path fill="#009fff" d="M244 31H252V38H244zM237 54H244V62H237zM90 77H98V85H90zM275 155H283V163H275zM275 163H283V170H275zM267 186H275V194H267zM121 194H129V201H121zM267 194H275V201H267zM175 248H183V255H175zM252 248H260V255H252zM252 255H260V263H252zM214 278H221V286H214zM214 286H221V293H214zM183 316H190V324H183zM175 332H183V339H175zM190 332H198V339H190zM183 339H190V347H183zM6 355H13V362H6zM167 355H175V362H167zM21 370H29V377H21zM36 377H44V385H36zM52 385H60V392H52zM152 385H160V392H152zM60 392H67V400H60zM75 392H83V400H75zM152 400H160V408H152z"/><path fill="#9fff60" d="M252 31H260V38H252zM283 77H291V85H283zM298 77H306V85H298zM275 85H283V93H275zM298 93H306V101H298zM298 101H306V108H298zM321 147H329V155H321zM337 155H344V163H337zM329 170H337V178H329zM337 178H344V186H337zM337 201H344V209H337zM329 217H337V224H329zM314 248H321V255H314zM252 309H260V316H252zM260 316H267V324H260zM221 339H229V347H221z"/><path fill="#ffcf00" d="M260 31H267V38H260zM314 70H321V77H314zM314 85H321V93H314zM329 85H337V93H329zM344 93H352V101H344zM214 347H221V355H214z"/><path fill="#ff2000" d="M291 31H298V38H291zM329 31H337V38H329zM306 38H314V46H306zM329 38H337V46H329zM214 370H221V377H214zM267 370H275V377H267z"/><path fill="#30ffcf" d="M244 38H252V46H244zM252 77H267V85H252zM275 93H283V101H275zM275 116H283V124H275zM291 132H298V140H291zM298 147H306V155H298zM306 170H314V178H306zM306 201H314V209H306zM275 240H283V248H275zM298 240H306V248H298zM298 248H306V255H298zM90 255H98V263H90zM291 263H298V271H291zM260 271H275V278H260zM252 293H260V301H252zM214 309H221V316H214zM21 385H29V392H21zM190 392H198V400H190zM175 415H183V423H175zM175 423H183V430H175z"/><path fill="#afff50" d="M252 38H260V46H252zM260 46H267V54H260zM291 70H298V77H291zM344 101H352V108H344zM306 108H314V116H306zM337 116H352V124H337zM344 155H352V163H344zM344 163H352V170H344zM344 170H352V178H344zM337 217H344V224H337zM321 232H329V240H321zM321 248H329V255H321zM321 263H329V271H321zM306 271H314V278H306zM291 278H306V286H291zM298 293H306V301H298zM244 301H252V309H244zM283 301H291V309H283zM267 309H275V316H267zM252 316H260V324H252zM206 339H214V347H206zM198 377H206V385H198z"/><path fill="#efff10" d="M260 38H267V46H260zM267 54H275V62H267zM291 54H298V62H291zM306 54H314V62H306zM298 85H306V93H298zM321 108H329V116H321zM344 108H352V116H344zM306 116H314V124H306zM314 124H321V132H314zM337 124H344V132H337zM329 132H337V140H329zM344 140H352V147H344zM337 248H344V255H337zM321 255H337V263H321zM321 271H329V278H321zM260 324H267V332H260zM244 339H252V347H244z"/><path fill="#ff7000" d="M267 38H275V46H267zM321 38H329V46H321zM321 46H329V54H321zM329 54H337V62H329zM329 70H337V77H329zM329 77H344V85H329zM291 324H298V332H291z"/><path fill="#ffff00" d="M291 38H298V46H291zM298 46H306V54H298zM283 70H291V77H283zM306 77H314V85H306zM329 116H337V124H329zM321 124H329V132H321zM337 224H344V232H337zM337 255H344V263H337zM314 271H321V278H314zM221 332H229V339H221zM190 355H198V362H190z"/><path fill="#0000df" d="M144 46H152V54H144zM121 54H129V62H121zM136 54H160V62H136zM129 62H144V70H129zM152 62H160V70H152zM136 70H160V77H136zM144 77H152V85H144zM144 85H160V93H144zM144 93H152V101H144zM136 101H152V108H136zM144 108H152V116H144zM136 116H144V124H136zM152 116H160V124H152zM136 124H144V132H136zM152 124H160V132H152zM121 132H144V140H121zM152 132H160V140H152zM129 140H136V147H129zM152 140H167V147H152zM136 147H144V155H136zM152 147H175V155H152zM152 155H175V163H152zM144 163H175V170H144zM183 163H198V170H183zM144 170H152V178H144zM160 170H190V178H160zM175 178H183V186H175zM190 178H198V186H190zM175 186H183V194H175zM190 186H198V194H190zM152 194H160V201H152zM190 194H198V201H190zM144 201H152V209H144zM160 201H175V209H160zM190 201H198V209H190zM152 209H167V217H152zM175 209H183V217H175zM144 224H152V232H144zM160 224H167V232H160zM144 232H167V240H144zM136 240H160V248H136zM129 248H136V255H129zM144 248H152V255H144zM113 255H121V263H113zM144 255H152V263H144zM106 263H113V271H106zM136 263H144V271H136zM98 271H106V278H98zM113 271H144V278H113zM60 278H67V286H60zM83 278H90V286H83zM144 278H152V286H144zM67 286H90V293H67zM121 286H129V293H121zM144 286H152V293H144zM52 293H67V301H52zM75 293H83V301H75zM136 293H152V301H136zM52 301H75V309H52zM36 309H44V316H36zM52 309H67V316H52zM144 309H152V316H144zM44 316H60V324H44zM136 316H144V324H136zM44 324H52V332H44zM83 324H90V332H83zM98 324H106V332H98zM113 324H136V332H113zM52 332H60V339H52zM83 332H90V339H83zM98 332H106V339H98zM113 332H121V339H113zM129 332H136V339H129zM60 339H67V347H60zM83 339H113V347H83zM121 339H136V347H121zM60 347H90V355H60zM106 347H121V355H106zM129 347H136V355H129zM90 355H136V362H90zM98 362H136V370H98zM121 370H129V377H121zM113 377H121V385H113zM121 392H129V400H121z"/><path fill="#bfff40" d="M252 46H260V54H252zM260 54H267V62H260zM275 54H283V62H275zM83 85H90V93H83zM291 85H298V93H291zM314 93H321V101H314zM337 93H344V101H337zM329 101H337V108H329zM337 108H344V116H337zM344 194H352V201H344zM337 209H352V217H337zM190 240H198V248H190zM314 240H321V248H314zM329 240H337V248H329zM314 278H321V286H314zM291 293H298V301H291zM244 309H252V316H244zM275 309H283V316H275zM244 316H252V324H244zM229 324H252V332H229zM229 332H237V339H229z"/><path fill="#ffaf00" d="M283 46H291V54H283zM344 77H352V85H344zM337 240H344V248H337zM337 263H344V271H337zM329 271H337V278H329zM329 278H337V286H329zM306 301H314V309H306zM252 324H260V332H252zM252 332H260V339H252zM221 347H229V355H221z"/><path fill="#ffdf00" d="M291 46H298V54H291zM283 54H291V62H283zM321 85H329V93H321zM321 93H329V101H321zM337 101H344V108H337zM314 116H329V124H314zM329 124H337V132H329zM190 232H198V240H190zM337 232H344V240H337zM329 263H337V271H329zM314 286H321V293H314zM291 316H298V324H291zM244 332H252V339H244zM221 355H229V362H221z"/><path fill="#40ffbf" d="M244 54H260V62H244zM244 70H252V77H244zM244 77H252V85H244zM267 85H275V93H267zM244 101H252V108H244zM283 101H291V108H283zM283 108H291V116H283zM283 116H291V124H283zM306 140H314V147H306zM314 163H321V170H314zM298 178H321V186H298zM314 194H321V201H314zM314 201H321V209H314zM121 209H129V217H121zM306 217H321V224H306zM291 232H306V240H291zM298 255H306V263H298zM260 278H267V286H260zM237 286H244V293H237zM252 286H260V293H252zM267 286H275V293H267zM221 309H229V316H221zM237 316H244V324H237zM198 339H206V347H198zM183 392H190V400H183zM198 392H206V400H198zM183 408H190V415H183z"/><path fill="#dfff20" d="M298 54H306V62H298zM275 62H283V70H275zM291 62H306V70H291zM275 70H283V77H275zM314 77H321V85H314zM344 132H352V140H344zM337 147H344V155H337zM344 186H352V194H344zM337 194H344V201H337zM329 224H337V232H329zM344 240H352V248H344zM98 255H106V263H98zM314 263H321V271H314zM306 278H314V286H306zM291 301H298V309H291zM283 316H291V324H283z"/><path fill="#df0000" d="M337 54H344V62H337zM344 62H352V70H344zM344 271H352V278H344zM314 309H321V316H314zM252 385H260V392H252z"/><path fill="#0000cf" d="M144 62H152V70H144zM144 116H152V124H144zM144 124H152V132H144zM144 132H152V140H144zM144 140H152V147H144zM144 147H152V155H144zM144 155H152V163H144zM152 170H160V178H152zM144 178H175V186H144zM183 178H190V186H183zM144 186H175V194H144zM183 186H190V194H183zM144 194H152V201H144zM160 194H190V201H160zM152 201H160V209H152zM175 201H190V209H175zM167 209H175V217H167zM152 224H160V232H152zM136 248H144V255H136zM121 255H129V263H121zM136 255H144V263H136zM113 263H136V271H113zM106 271H113V278H106zM90 278H144V286H90zM90 286H98V293H90zM106 286H121V293H106zM129 286H144V293H129zM67 293H75V301H67zM83 293H106V301H83zM113 293H136V301H113zM75 301H83V309H75zM90 301H113V309H90zM129 301H152V309H129zM67 309H83V316H67zM98 309H144V316H98zM60 316H75V324H60zM83 316H98V324H83zM106 316H136V324H106zM52 324H67V332H52zM90 324H98V332H90zM106 324H113V332H106zM60 332H83V339H60zM90 332H98V339H90zM106 332H113V339H106zM121 332H129V339H121zM67 339H83V347H67zM113 339H121V347H113zM90 347H106V355H90zM121 347H129V355H121zM113 370H121V377H113z"/><path fill="#00cfff" d="M237 62H244V70H237zM90 85H98V93H90zM237 85H244V93H237zM260 124H267V132H260zM283 178H291V186H283zM275 186H283V194H275zM260 217H267V224H260zM260 224H267V232H260zM260 232H267V240H260zM183 240H190V248H183zM237 263H244V271H237zM221 278H229V286H221zM160 362H167V370H160zM167 370H190V377H167zM21 377H29V385H21zM152 408H160V415H152zM144 423H152V430H144z"/><path fill="#20ffdf" d="M244 62H252V70H244zM252 70H260V77H252zM252 85H260V93H252zM237 93H252V101H237zM267 93H275V101H267zM283 93H291V101H283zM283 124H298V132H283zM283 140H306V147H283zM298 155H314V163H298zM298 163H314V170H298zM306 186H321V194H306zM298 194H306V201H298zM329 201H337V209H329zM306 209H314V217H306zM283 224H306V232H283zM283 240H291V248H283zM283 255H291V263H283zM244 278H260V286H244zM214 316H221V324H214zM167 377H175V385H167zM167 392H175V400H167zM190 400H198V408H190zM175 408H183V415H175zM190 415H198V423H190zM152 423H160V430H152z"/><path fill="#60ff9f" d="M267 62H275V70H267zM267 70H275V77H267zM267 77H283V85H267zM260 85H267V93H260zM275 101H283V108H275zM306 101H314V108H306zM298 108H306V116H298zM298 116H306V124H298zM298 124H306V132H298zM321 186H329V194H321zM306 232H314V240H306zM306 248H314V255H306zM291 271H298V278H291zM275 286H283V293H275zM291 286H298V293H291zM237 301H244V309H237zM214 324H221V332H214zM190 385H198V392H190zM183 400H190V408H183z"/><path fill="#ffef00" d="M283 62H291V70H283zM306 62H314V70H306zM321 77H329V85H321zM321 278H329V286H321zM298 286H306V293H298zM283 293H291V301H283zM260 309H267V316H260zM283 309H291V316H283zM267 316H283V324H267zM237 332H244V339H237zM237 347H244V355H237z"/><path fill="#8fff70" d="M260 70H267V77H260zM306 93H314V101H306zM306 132H314V140H306zM329 147H337V155H329zM344 178H352V186H344zM329 186H337V194H329zM321 194H337V201H321zM344 201H352V209H344zM329 209H337V217H329zM344 217H352V224H344zM321 224H329V232H321zM329 232H337V240H329zM306 240H314V248H306zM329 248H337V255H329zM314 255H321V263H314zM267 293H275V301H267zM252 301H260V309H252zM237 309H244V316H237zM214 332H221V339H214zM36 392H44V400H36zM183 423H190V430H183z"/><path fill="#ef0000" d="M337 70H344V77H337zM344 286H352V293H344zM337 293H344V301H337zM206 347H214V355H206zM221 362H229V370H221zM214 400H221V408H214z"/><path fill="#ffbf00" d="M337 85H344V93H337zM329 93H337V101H329zM344 255H352V263H344zM321 286H329V293H321zM291 309H298V316H291zM237 339H244V347H237zM252 339H260V347H252zM229 355H237V362H229z"/><path fill="#80ff80" d="M291 101H298V108H291zM321 101H329V108H321zM298 132H306V140H298zM321 132H329V140H321zM314 140H337V147H314zM344 147H352V155H344zM337 163H344V170H337zM314 232H321V240H314zM321 240H329V248H321zM306 263H314V271H306zM298 271H306V278H298zM260 286H267V293H260zM244 293H252V301H244zM260 293H267V301H260zM229 301H237V309H229zM267 301H283V309H267zM229 309H237V316H229zM214 339H221V347H214zM190 362H198V370H190zM13 385H21V392H13zM198 400H206V408H198z"/><path fill="#0000bf" d="M129 255H136V263H129zM98 286H106V293H98zM106 293H113V301H106zM83 301H90V309H83zM113 301H129V309H113zM83 309H98V316H83zM75 316H83V324H75zM98 316H106V324H98zM67 324H83V332H67z"/><path fill="#bf0000" d="M306 316H314V324H306zM275 362H283V370H275zM214 385H221V392H214z"/><path fill="#ff6000" d="M275 324H283V332H275zM244 347H260V355H244z"/></g>
<use href="#coastl"/>
<path d="M97.4 3.1L94.2 5.0L91.8 5.4M86.4 78.3L90.3 81.3L94.2 87.6L94.8 89.0L94.9 89.8M101.8 115.3L103.9 120.1L103.8 122.1M129.2 208.7L129.0 212.9L129.3 220.6L125.7 228.3L124.9 229.5M196.1 253.2L194.2 253.0L188.8 251.4L186.6 244.2L186.5 243.7L186.6 243.3L187.1 236.0L192.4 228.3L194.2 226.3L196.2 226.4M106.5 259.0L103.4 266.7L101.8 268.3L97.9 266.7L94.2 264.0L89.4 263.7M179.3 327.8L186.6 323.4L189.8 327.8L190.0 335.5L186.6 338.8L183.5 335.5L179.3 327.8M9.4 367.0L16.6 373.5L17.1 374.1L24.9 379.1L27.5 381.1L32.5 382.9L40.2 384.5L48.0 386.9L50.5 388.7L55.7 392.4L60.2 396.3M176.3 368.4L178.9 369.1L179.8 365.9L186.6 361.1L187.2 358.3L189.3 350.7L194.2 345.2L197.0 343.1L201.9 338.7L206.3 335.5L208.6 327.8L209.7 323.3L210.7 320.2L211.5 312.6L215.3 305.0L217.3 299.2L218.4 297.3L220.6 289.7L224.6 282.0L225.1 281.3L229.4 274.4L232.8 270.9L238.5 266.7L240.4 265.7L242.8 266.7L248.2 268.8L251.5 266.7L255.9 263.4L263.6 260.0L264.1 259.0L265.6 251.4L264.4 243.7L263.6 240.5L262.5 236.0L263.2 228.3L262.3 220.6L263.6 219.9L271.2 214.9L272.5 212.9L275.7 205.2L274.6 197.5L276.7 189.8L279.0 186.3L284.6 182.1L285.0 174.4L283.5 166.6L282.0 158.9L279.0 154.3L277.2 151.2L272.1 143.4L271.2 142.4L268.5 135.7L263.6 128.4L263.2 127.9L260.9 120.1L255.8 114.6L249.5 112.4L248.2 112.1L240.4 110.8L236.1 104.6L236.3 96.8L240.2 89.0L238.2 81.3L237.9 73.5L239.8 65.7L240.4 64.1L242.3 57.9L244.8 50.1L244.1 42.2L248.2 36.4L249.3 34.4L249.2 26.6L248.5 18.8L248.2 18.0L242.7 10.9L240.4 6.9L238.8 3.1M160.5 376.4L160.7 373.5L162.5 365.9L163.4 365.2L164.5 364.8M163.4 411.0L161.4 411.4L163.4 411.9L164.1 411.4L163.4 411.0M138.4 426.5L140.3 419.8L141.4 419.0L148.1 414.5L154.1 411.4L155.8 410.2L159.1 403.8L161.9 396.3L159.1 388.7L160.2 385.5" fill="none" stroke="#000" stroke-width="0.9" stroke-linejoin="round"/><text transform="translate(244.0,22.0) rotate(80)" font-size="13.5" text-anchor="middle" fill="#111">1.25</text><text transform="translate(282.0,192.0) rotate(75)" font-size="13.5" text-anchor="middle" fill="#111">1.25</text><text transform="translate(214.0,322.0) rotate(-80)" font-size="13.5" text-anchor="middle" fill="#111">1.25</text><text transform="translate(57.0,397.0) rotate(-8)" font-size="13.5" text-anchor="middle" fill="#111">1.25</text><text transform="translate(188.0,240.0) rotate(75)" font-size="13.5" text-anchor="middle" fill="#111">1.25</text><text transform="translate(153.0,395.0) rotate(-70)" font-size="13.5" text-anchor="middle" fill="#111">1.25</text>
</g>
<use href="#stars"/>
<use href="#frame"/>
<rect x="3.5" y="20.5" width="113.0" height="25.0" fill="url(#jetg)" stroke="#262626" stroke-width="1"/><text x="285.0" y="38.0" font-size="21">10 km</text><path d="M305.0 42.5h14" stroke="#000" stroke-width="3.4" stroke-linecap="round"/><text x="174" y="-11" text-anchor="middle" font-size="20.5" font-weight="bold">GDOP TotalErrors (1.25)</text><text x="-3" y="8" font-size="20" fill="#262626">0</text><text x="52" y="8" font-size="20" fill="#262626">2</text><text x="110" y="8" font-size="20" fill="#262626">4</text>
</g>
<text x="452.5" y="150.3" text-anchor="end" font-size="21">37°N</text>
<text x="452.5" y="294.4" text-anchor="end" font-size="21">36°N</text>
<text x="452.5" y="436.7" text-anchor="end" font-size="21">35°N</text>
<text x="452.5" y="577.3" text-anchor="end" font-size="21">34°N</text>
<text x="452.5" y="219.8" text-anchor="end" font-size="15.5">30'</text>
<text x="452.5" y="363.0" text-anchor="end" font-size="15.5">30'</text>
<text x="452.5" y="504.4" text-anchor="end" font-size="15.5">30'</text>
<text x="519.0" y="590.5" text-anchor="middle" font-size="21">76°W</text>
<text x="635.0" y="590.5" text-anchor="middle" font-size="21">75°W</text>
<text x="751.0" y="590.5" text-anchor="middle" font-size="21">74°W</text>
<text x="458.0" y="586.5" text-anchor="middle" font-size="15.5">30'</text>
<text x="574.0" y="586.5" text-anchor="middle" font-size="15.5">30'</text>
<text x="690.0" y="586.5" text-anchor="middle" font-size="15.5">30'</text>
<text x="806.0" y="586.5" text-anchor="middle" font-size="15.5">30'</text>
<g transform="translate(843,142)">
<g clip-path="url(#pc)">
<use href="#land"/>
<use href="#grid"/>
<g shape-rendering="crispEdges"><path fill="#0000cf" d="M67 -1H75V7H67zM267 -1H283V7H267zM321 -1H329V7H321zM67 7H75V15H67zM267 7H275V15H267zM291 7H306V15H291zM329 7H337V15H329zM344 7H352V15H344zM321 23H329V31H321zM337 38H352V46H337zM329 46H337V54H329zM329 54H344V62H329zM337 70H344V77H337zM321 77H329V85H321zM344 77H352V85H344zM337 85H344V93H337zM321 101H329V108H321zM314 116H321V124H314zM337 124H344V132H337zM329 240H337V248H329zM337 255H344V263H337zM329 263H337V271H329zM344 271H352V278H344zM337 278H352V286H337zM344 286H352V293H344zM337 301H352V309H337zM321 309H329V316H321zM344 309H352V316H344zM321 316H337V324H321zM314 324H329V332H314zM306 332H329V339H306zM321 339H329V347H321zM298 347H314V355H298zM275 355H291V362H275zM298 355H306V362H298zM314 355H321V362H314zM183 362H190V370H183zM244 362H252V370H244zM260 362H267V370H260zM283 362H291V370H283zM183 370H198V377H183zM206 370H214V377H206zM221 370H237V377H221zM252 370H260V377H252zM267 370H283V377H267zM175 377H198V385H175zM214 377H221V385H214zM244 377H275V385H244zM237 385H252V392H237zM260 385H275V392H260zM190 392H198V400H190zM221 392H229V400H221zM244 392H252V400H244zM267 392H275V400H267zM283 392H291V400H283zM167 400H190V408H167zM198 400H244V408H198zM267 400H275V408H267zM190 408H221V415H190zM167 415H175V423H167zM198 415H229V423H198zM175 423H183V430H175zM206 423H214V430H206zM229 423H237V430H229z"/><path fill="#0000df" d="M75 -1H83V7H75zM98 -1H106V7H98zM283 -1H291V7H283zM75 7H83V15H75zM283 15H291V23H283zM298 15H314V23H298zM291 23H321V31H291zM321 31H337V38H321zM314 38H321V46H314zM283 46H298V54H283zM344 46H352V54H344zM298 54H306V62H298zM314 54H329V62H314zM298 62H306V70H298zM314 62H329V70H314zM337 62H352V70H337zM291 70H298V77H291zM329 70H337V77H329zM344 70H352V77H344zM314 77H321V85H314zM306 85H314V93H306zM329 85H337V93H329zM329 93H344V101H329zM306 101H314V108H306zM306 108H321V116H306zM329 108H337V116H329zM298 116H314V124H298zM321 116H329V124H321zM337 116H352V124H337zM329 124H337V132H329zM344 124H352V132H344zM344 155H352V163H344zM321 163H329V170H321zM337 163H344V170H337zM314 170H321V178H314zM344 178H352V186H344zM329 186H337V194H329zM337 217H344V224H337zM329 224H352V232H329zM344 232H352V240H344zM321 240H329V248H321zM337 240H352V248H337zM337 248H344V255H337zM329 255H337V263H329zM344 255H352V263H344zM337 263H344V271H337zM314 271H321V278H314zM329 271H344V278H329zM314 278H337V286H314zM321 293H337V301H321zM314 301H321V309H314zM329 301H337V309H329zM306 309H314V316H306zM329 309H337V316H329zM306 316H321V324H306zM291 324H306V332H291zM275 339H283V347H275zM260 347H267V355H260zM275 347H291V355H275zM252 355H260V362H252zM267 355H275V362H267zM160 362H167V370H160zM221 362H229V370H221zM252 362H260V370H252zM275 362H283V370H275zM198 370H206V377H198zM214 370H221V377H214zM244 370H252V377H244zM167 377H175V385H167zM229 377H244V385H229zM167 385H183V392H167zM190 385H206V392H190zM214 385H229V392H214zM160 392H190V400H160zM214 392H221V400H214zM229 392H244V400H229zM160 400H167V408H160zM190 400H198V408H190zM152 408H167V415H152zM175 408H190V415H175zM229 408H252V415H229zM52 415H60V423H52zM160 415H167V423H160zM175 415H183V423H175zM190 415H198V423H190zM67 423H83V430H67zM160 423H167V430H160zM190 423H206V430H190z"/><path fill="#0000ef" d="M83 -1H98V7H83zM252 7H260V15H252zM275 7H283V15H275zM260 15H267V23H260zM275 15H283V23H275zM291 15H298V23H291zM283 23H291V31H283zM283 31H298V38H283zM306 31H314V38H306zM267 38H298V46H267zM321 38H329V46H321zM306 46H329V54H306zM252 54H260V62H252zM291 54H298V62H291zM306 54H314V62H306zM291 62H298V70H291zM329 62H337V70H329zM283 70H291V77H283zM298 70H329V77H298zM283 77H291V85H283zM329 77H344V85H329zM291 85H298V93H291zM314 85H329V93H314zM298 93H306V101H298zM321 93H329V101H321zM344 93H352V101H344zM283 101H291V108H283zM298 101H306V108H298zM329 101H352V108H329zM291 108H306V116H291zM321 108H329V116H321zM344 108H352V116H344zM329 116H337V124H329zM314 124H329V132H314zM291 132H298V140H291zM314 132H321V140H314zM329 132H337V140H329zM344 132H352V140H344zM329 140H352V147H329zM321 147H329V155H321zM337 147H344V155H337zM314 163H321V170H314zM344 163H352V170H344zM306 170H314V178H306zM337 170H344V178H337zM344 186H352V194H344zM283 194H291V201H283zM306 194H314V201H306zM321 194H344V201H321zM121 201H129V209H121zM298 201H314V209H298zM337 201H344V209H337zM121 209H129V217H121zM337 209H352V217H337zM321 217H329V224H321zM314 224H321V232H314zM321 232H344V240H321zM298 240H306V248H298zM306 248H321V255H306zM329 248H337V255H329zM344 248H352V255H344zM291 255H298V263H291zM306 255H329V263H306zM344 263H352V271H344zM321 271H329V278H321zM291 286H298V293H291zM314 286H337V293H314zM314 293H321V301H314zM298 301H306V309H298zM321 301H329V309H321zM314 309H321V316H314zM275 324H283V332H275zM306 324H314V332H306zM283 332H306V339H283zM252 339H260V347H252zM283 339H298V347H283zM190 347H198V355H190zM244 347H252V355H244zM291 347H298V355H291zM160 355H175V362H160zM190 355H198V362H190zM221 355H229V362H221zM237 355H252V362H237zM260 355H267V362H260zM175 362H183V370H175zM190 362H214V370H190zM229 362H237V370H229zM267 362H275V370H267zM167 370H183V377H167zM237 370H244V377H237zM260 370H267V377H260zM160 377H167V385H160zM206 377H214V385H206zM221 377H229V385H221zM183 385H190V392H183zM206 385H214V392H206zM229 385H237V392H229zM152 392H160V400H152zM206 392H214V400H206zM6 408H21V415H6zM144 408H152V415H144zM167 408H175V415H167zM6 415H13V423H6zM44 415H52V423H44zM60 415H75V423H60zM83 415H98V423H83zM183 415H190V423H183zM6 423H67V430H6zM121 423H129V430H121zM144 423H160V430H144zM167 423H175V430H167zM183 423H190V430H183z"/><path fill="#0010ff" d="M106 -1H113V7H106zM244 -1H260V7H244zM98 7H106V15H98zM237 7H252V15H237zM252 23H260V31H252zM260 31H267V38H260zM252 38H267V46H252zM260 46H275V54H260zM275 54H291V62H275zM244 62H260V70H244zM283 62H291V70H283zM260 70H275V77H260zM260 77H283V85H260zM291 77H306V85H291zM252 85H260V93H252zM267 85H275V93H267zM298 85H306V93H298zM260 93H298V101H260zM252 101H260V108H252zM267 101H283V108H267zM275 108H283V116H275zM267 116H275V124H267zM283 124H291V132H283zM306 124H314V132H306zM321 132H329V140H321zM260 140H267V147H260zM321 140H329V147H321zM275 147H283V155H275zM275 155H291V163H275zM306 155H321V163H306zM337 155H344V163H337zM260 163H267V170H260zM283 163H291V170H283zM298 163H314V170H298zM252 170H260V178H252zM275 170H283V178H275zM291 170H298V178H291zM321 170H337V178H321zM260 178H275V186H260zM283 178H298V186H283zM314 178H329V186H314zM337 178H344V186H337zM260 186H267V194H260zM283 186H298V194H283zM244 194H252V201H244zM267 194H275V201H267zM260 201H267V209H260zM275 201H283V209H275zM291 201H298V209H291zM260 209H267V217H260zM298 209H306V217H298zM321 209H329V217H321zM314 217H321V224H314zM321 224H329V232H321zM283 232H291V240H283zM298 232H314V240H298zM260 240H267V248H260zM275 240H291V248H275zM314 240H321V248H314zM90 255H98V263H90zM275 263H306V271H275zM275 271H283V278H275zM306 271H314V278H306zM260 278H267V286H260zM283 278H314V286H283zM252 286H267V293H252zM298 286H306V293H298zM275 293H283V301H275zM244 301H252V309H244zM267 301H275V309H267zM306 301H314V309H306zM252 309H267V316H252zM275 309H291V316H275zM252 316H267V324H252zM283 316H291V324H283zM237 324H260V332H237zM267 324H275V332H267zM183 332H190V339H183zM206 332H221V339H206zM252 332H260V339H252zM275 332H283V339H275zM183 339H198V347H183zM229 339H252V347H229zM267 339H275V347H267zM152 347H160V355H152zM175 347H183V355H175zM175 355H183V362H175zM206 355H214V362H206zM229 355H237V362H229zM167 362H175V370H167zM144 370H152V377H144zM144 377H152V385H144zM144 385H160V392H144zM44 392H52V400H44zM75 392H83V400H75zM90 392H98V400H90zM129 392H144V400H129zM36 400H52V408H36zM67 400H75V408H67zM83 400H98V408H83zM136 400H144V408H136zM21 408H36V415H21zM44 408H52V415H44zM90 408H98V415H90zM106 408H113V415H106zM129 408H144V415H129zM36 415H44V423H36zM98 415H106V423H98zM121 415H129V423H121zM136 423H144V430H136z"/><path fill="#0030ff" d="M113 -1H121V7H113zM221 7H229V15H221zM83 15H90V23H83zM98 15H113V23H98zM237 15H244V23H237zM237 31H252V38H237zM237 38H252V46H237zM237 54H244V62H237zM260 54H267V62H260zM237 70H244V77H237zM237 77H244V85H237zM244 85H252V93H244zM244 93H252V101H244zM244 101H252V108H244zM244 108H252V116H244zM260 116H267V124H260zM252 132H267V140H252zM275 132H283V140H275zM267 147H275V155H267zM229 155H237V163H229zM252 155H267V163H252zM267 170H275V178H267zM283 170H291V178H283zM244 186H260V194H244zM121 194H129V201H121zM252 194H260V201H252zM252 201H260V209H252zM267 201H275V209H267zM267 209H275V217H267zM267 217H283V224H267zM260 224H275V232H260zM283 224H291V232H283zM214 232H229V240H214zM244 232H252V240H244zM291 232H298V240H291zM214 240H244V248H214zM206 248H214V255H206zM283 248H291V255H283zM98 255H106V263H98zM221 255H229V263H221zM244 255H260V263H244zM83 263H90V271H83zM237 263H244V271H237zM267 263H275V271H267zM237 271H260V278H237zM267 271H275V278H267zM252 278H260V286H252zM275 286H283V293H275zM252 293H267V301H252zM283 293H291V301H283zM260 301H267V309H260zM275 301H283V309H275zM237 309H252V316H237zM167 324H175V332H167zM206 324H229V332H206zM167 332H175V339H167zM260 332H267V339H260zM160 339H167V347H160zM175 339H183V347H175zM206 339H214V347H206zM144 362H152V370H144zM6 377H13V385H6zM75 377H83V385H75zM129 377H136V385H129zM21 385H29V392H21zM52 385H60V392H52zM75 385H83V392H75zM129 385H136V392H129zM6 392H21V400H6zM67 392H75V400H67zM98 392H113V400H98zM106 400H121V408H106zM106 415H113V423H106zM106 423H113V430H106z"/><path fill="#0080ff" d="M121 -1H129V7H121zM175 -1H183V7H175zM190 15H198V23H190zM206 15H214V23H206zM83 23H98V31H83zM175 23H183V31H175zM198 38H214V46H198zM190 46H198V54H190zM206 46H214V54H206zM206 70H214V77H206zM221 70H229V77H221zM206 77H214V85H206zM206 85H214V93H206zM214 108H229V116H214zM183 124H190V132H183zM237 124H244V132H237zM237 140H244V147H237zM198 147H206V155H198zM221 155H229V163H221zM121 186H129V194H121zM214 194H221V201H214zM198 201H206V209H198zM198 217H221V224H198zM183 263H190V271H183zM198 263H206V271H198zM214 278H221V286H214zM175 293H183V301H175zM160 309H167V316H160zM198 324H206V332H198zM144 332H152V339H144zM90 362H98V370H90zM90 370H106V377H90zM113 370H129V377H113zM21 377H29V385H21zM106 377H113V385H106z"/><path fill="#0060ff" d="M129 -1H136V7H129zM183 -1H214V7H183zM167 7H175V15H167zM229 7H237V15H229zM75 23H83V31H75zM214 31H221V38H214zM229 31H237V38H229zM221 38H229V46H221zM221 46H229V54H221zM206 54H214V62H206zM229 54H237V62H229zM221 62H229V70H221zM214 70H221V77H214zM221 77H237V85H221zM198 85H206V93H198zM214 85H221V93H214zM221 93H229V101H221zM214 101H229V108H214zM237 108H244V116H237zM237 116H244V124H237zM237 147H244V155H237zM214 155H221V163H214zM229 163H237V170H229zM237 170H244V178H237zM237 178H244V186H237zM221 194H229V201H221zM237 194H244V201H237zM206 201H214V209H206zM229 201H237V209H229zM206 209H214V217H206zM237 209H244V217H237zM221 217H237V224H221zM198 224H206V232H198zM221 224H229V232H221zM198 232H206V240H198zM229 232H237V240H229zM190 240H198V248H190zM190 248H198V255H190zM214 263H221V271H214zM214 271H221V278H214zM221 278H229V286H221zM206 286H214V293H206zM167 293H175V301H167zM190 293H198V301H190zM221 293H237V301H221zM167 301H175V309H167zM214 309H221V316H214zM167 316H190V324H167zM206 316H214V324H206zM221 316H229V324H221zM152 324H160V332H152zM190 324H198V332H190zM129 339H136V347H129zM129 347H136V355H129zM136 355H144V362H136zM136 362H144V370H136zM60 370H83V377H60zM60 377H75V385H60zM98 377H106V385H98zM113 377H121V385H113zM6 385H21V392H6zM36 385H52V392H36z"/><path fill="#009fff" d="M136 -1H152V7H136zM121 7H136V15H121zM152 15H160V23H152zM152 23H160V31H152zM183 23H190V31H183zM206 23H214V31H206zM75 31H83V38H75zM175 31H183V38H175zM198 31H206V38H198zM75 38H83V46H75zM175 38H183V46H175zM183 62H190V70H183zM183 70H190V77H183zM83 77H90V85H83zM198 93H214V101H198zM221 124H229V132H221zM198 132H206V140H198zM221 132H229V140H221zM198 140H206V147H198zM206 163H221V170H206zM206 178H214V186H206zM206 186H214V194H206zM190 217H198V224H190zM190 224H198V232H190zM183 248H190V255H183zM190 263H198V271H190zM198 301H206V309H198zM121 332H129V339H121zM67 355H90V362H67zM6 362H13V370H6zM13 370H21V377H13zM36 377H44V385H36z"/><path fill="#008fff" d="M152 -1H160V7H152zM152 7H160V15H152zM190 7H198V15H190zM121 15H129V23H121zM160 15H175V23H160zM183 15H190V23H183zM198 15H206V23H198zM113 23H121V31H113zM190 23H198V31H190zM183 38H190V46H183zM198 46H206V54H198zM198 54H206V62H198zM190 62H198V70H190zM206 62H214V70H206zM198 70H206V77H198zM90 93H98V101H90zM190 108H198V116H190zM206 108H214V116H206zM190 116H214V124H190zM221 116H229V124H221zM190 124H198V132H190zM221 140H229V147H221zM214 147H221V155H214zM206 170H229V178H206zM198 178H206V186H198zM214 178H221V186H214zM198 194H214V201H198zM129 201H136V209H129zM221 201H229V209H221zM198 209H206V217H198zM214 209H221V217H214zM183 232H198V240H183zM190 255H198V263H190zM98 263H106V271H98zM167 263H183V271H167zM175 271H183V278H175zM183 293H190V301H183zM152 301H160V309H152zM206 309H214V316H206zM198 316H206V324H198zM144 324H152V332H144zM129 332H136V339H129zM121 339H129V347H121zM121 347H129V355H121zM129 355H136V362H129zM98 362H106V370H98zM52 377H60V385H52z"/><path fill="#0040ff" d="M160 -1H167V7H160zM214 -1H221V7H214zM229 -1H237V7H229zM113 7H121V15H113zM214 15H221V23H214zM221 23H229V31H221zM244 77H252V85H244zM229 85H237V93H229zM229 108H237V116H229zM244 116H260V124H244zM244 132H252V140H244zM252 140H260V147H252zM252 147H260V155H252zM252 163H260V170H252zM244 170H252V178H244zM260 170H267V178H260zM244 178H252V186H244zM237 201H252V209H237zM244 209H260V217H244zM237 217H244V224H237zM260 217H267V224H260zM206 224H221V232H206zM229 224H244V232H229zM206 232H214V240H206zM260 232H267V240H260zM198 240H206V248H198zM244 240H252V248H244zM267 240H275V248H267zM198 248H206V255H198zM214 248H221V255H214zM237 248H252V255H237zM260 248H267V255H260zM275 248H283V255H275zM206 255H214V263H206zM237 255H244V263H237zM260 255H267V263H260zM260 263H267V271H260zM221 271H229V278H221zM229 278H244V286H229zM229 286H244V293H229zM244 293H252V301H244zM237 301H244V309H237zM252 301H260V309H252zM167 309H190V316H167zM214 316H221V324H214zM229 316H237V324H229zM160 324H167V332H160zM183 324H190V332H183zM152 332H160V339H152zM152 339H160V347H152zM152 355H160V362H152zM83 370H90V377H83zM83 377H90V385H83zM136 377H144V385H136zM29 385H36V392H29zM60 385H75V392H60zM98 385H113V392H98zM121 385H129V392H121zM121 392H129V400H121zM113 423H121V430H113z"/><path fill="#0070ff" d="M167 -1H175V7H167zM160 7H167V15H160zM183 7H190V15H183zM198 7H214V15H198zM113 15H121V23H113zM175 15H183V23H175zM167 23H175V31H167zM198 23H206V31H198zM206 31H214V38H206zM190 38H198V46H190zM214 38H221V46H214zM229 38H237V46H229zM183 46H190V54H183zM229 46H237V54H229zM190 54H198V62H190zM221 54H229V62H221zM198 62H206V70H198zM214 62H221V70H214zM190 70H198V77H190zM198 77H206V85H198zM214 77H221V85H214zM83 85H90V93H83zM221 85H229V93H221zM214 93H221V101H214zM229 93H237V101H229zM206 101H214V108H206zM229 101H237V108H229zM229 116H237V124H229zM229 124H237V132H229zM221 163H229V170H221zM221 178H237V186H221zM214 186H229V194H214zM214 201H221V209H214zM221 209H229V217H221zM244 224H252V232H244zM229 248H237V255H229zM198 255H206V263H198zM221 263H229V271H221zM198 271H214V278H198zM206 278H214V286H206zM221 286H229V293H221zM160 293H167V301H160zM206 293H214V301H206zM160 301H167V309H160zM175 301H183V309H175zM144 309H160V316H144zM198 309H206V316H198zM136 332H144V339H136zM136 339H152V347H136zM136 347H144V355H136zM75 362H83V370H75zM121 362H129V370H121zM13 377H21V385H13zM44 377H52V385H44zM113 385H121V392H113z"/><path fill="#0050ff" d="M221 -1H229V7H221zM237 -1H244V7H237zM175 7H183V15H175zM214 7H221V15H214zM221 15H237V23H221zM98 23H113V31H98zM214 23H221V31H214zM229 23H237V31H229zM221 31H229V38H221zM214 46H221V54H214zM237 46H244V54H237zM214 54H221V62H214zM229 62H244V70H229zM229 70H237V77H229zM237 93H244V101H237zM237 101H244V108H237zM252 108H260V116H252zM244 124H252V132H244zM237 132H244V140H237zM229 140H237V147H229zM244 140H252V147H244zM221 147H229V155H221zM244 147H252V155H244zM260 147H267V155H260zM237 155H252V163H237zM237 163H252V170H237zM229 170H237V178H229zM252 178H260V186H252zM229 186H244V194H229zM229 194H237V201H229zM229 209H237V217H229zM244 217H260V224H244zM237 232H244V240H237zM252 232H260V240H252zM252 240H260V248H252zM221 248H229V255H221zM252 248H260V255H252zM214 255H221V263H214zM229 255H237V263H229zM90 263H98V271H90zM206 263H214V271H206zM229 263H237V271H229zM244 263H252V271H244zM229 271H237V278H229zM214 286H221V293H214zM244 286H252V293H244zM214 293H221V301H214zM237 293H244V301H237zM183 301H198V309H183zM206 301H229V309H206zM190 309H198V316H190zM221 309H229V316H221zM152 316H167V324H152zM190 316H198V324H190zM160 332H167V339H160zM167 339H175V347H167zM144 347H152V355H144zM144 355H152V362H144zM83 362H90V370H83zM129 362H136V370H129zM129 370H144V377H129zM90 377H98V385H90zM121 377H129V385H121zM113 392H121V400H113z"/><path fill="#0000ff" d="M260 -1H267V7H260zM90 7H98V15H90zM260 7H267V15H260zM90 15H98V23H90zM252 15H260V23H252zM267 15H275V23H267zM260 23H283V31H260zM252 31H260V38H252zM267 31H283V38H267zM298 31H306V38H298zM298 38H314V46H298zM252 46H260V54H252zM244 54H252V62H244zM267 54H275V62H267zM267 62H283V70H267zM306 62H314V70H306zM306 77H314V85H306zM283 85H291V93H283zM344 85H352V93H344zM252 93H260V101H252zM306 93H321V101H306zM260 101H267V108H260zM291 101H298V108H291zM314 101H321V108H314zM283 108H291V116H283zM337 108H344V116H337zM275 116H283V124H275zM291 116H298V124H291zM260 124H267V132H260zM291 124H306V132H291zM267 132H275V140H267zM283 132H291V140H283zM298 132H314V140H298zM337 132H344V140H337zM291 140H321V147H291zM291 147H321V155H291zM329 147H337V155H329zM344 147H352V155H344zM291 155H306V163H291zM321 155H337V163H321zM267 163H275V170H267zM329 163H337V170H329zM298 170H306V178H298zM344 170H352V178H344zM298 178H314V186H298zM329 178H337V186H329zM298 186H329V194H298zM337 186H344V194H337zM291 194H306V201H291zM314 194H321V201H314zM344 194H352V201H344zM283 201H291V209H283zM314 201H337V209H314zM344 201H352V209H344zM306 209H321V217H306zM329 209H337V217H329zM298 217H306V224H298zM329 217H337V224H329zM344 217H352V224H344zM291 224H314V232H291zM275 232H283V240H275zM314 232H321V240H314zM291 240H298V248H291zM306 240H314V248H306zM291 248H306V255H291zM321 248H329V255H321zM298 255H306V263H298zM306 263H329V271H306zM298 271H306V278H298zM267 286H275V293H267zM283 286H291V293H283zM306 286H314V293H306zM291 309H306V316H291zM244 316H252V324H244zM298 316H306V324H298zM283 324H291V332H283zM221 332H229V339H221zM267 332H275V339H267zM221 339H229V347H221zM260 339H267V347H260zM198 347H206V355H198zM214 347H244V355H214zM252 347H260V355H252zM267 347H275V355H267zM183 355H190V362H183zM198 355H206V362H198zM214 355H221V362H214zM152 362H160V370H152zM214 362H221V370H214zM237 362H244V370H237zM152 370H167V377H152zM152 377H160V385H152zM198 377H206V385H198zM160 385H167V392H160zM144 392H152V400H144zM21 400H36V408H21zM52 400H60V408H52zM75 400H83V408H75zM98 400H106V408H98zM129 400H136V408H129zM144 400H160V408H144zM36 408H44V415H36zM52 408H83V415H52zM98 408H106V415H98zM13 415H29V423H13zM75 415H83V423H75zM129 415H160V423H129zM83 423H106V430H83zM129 423H136V430H129z"/><path fill="#00009f" d="M291 -1H314V7H291zM344 15H352V23H344zM329 347H337V355H329zM344 347H352V355H344zM329 355H337V362H329zM314 362H329V370H314zM337 362H352V370H337zM321 370H329V377H321zM337 370H352V377H337zM306 377H314V385H306zM306 385H321V392H306zM344 385H352V392H344zM298 392H314V400H298zM321 392H329V400H321zM337 392H344V400H337zM291 400H314V408H291zM321 400H329V408H321zM344 400H352V408H344zM298 408H306V415H298zM337 408H344V415H337zM298 415H321V423H298zM344 415H352V423H344zM260 423H267V430H260zM275 423H283V430H275zM291 423H298V430H291zM321 423H329V430H321z"/><path fill="#0000af" d="M314 -1H321V7H314zM329 -1H337V7H329zM344 -1H352V7H344zM337 7H344V15H337zM344 31H352V38H344zM344 54H352V62H344zM337 309H344V316H337zM329 332H337V339H329zM344 332H352V339H344zM298 339H306V347H298zM344 339H352V347H344zM314 347H329V355H314zM337 347H344V355H337zM306 355H314V362H306zM344 355H352V362H344zM306 370H321V377H306zM291 377H306V385H291zM291 385H306V392H291zM291 392H298V400H291zM283 400H291V408H283zM283 408H298V415H283zM275 415H298V423H275zM237 423H244V430H237zM283 423H291V430H283zM314 423H321V430H314z"/><path fill="#0000bf" d="M337 -1H344V7H337zM283 7H291V15H283zM306 7H329V15H306zM314 15H344V23H314zM329 23H352V31H329zM314 31H321V38H314zM337 31H344V38H337zM329 38H337V46H329zM337 46H344V54H337zM337 286H344V293H337zM337 293H352V301H337zM337 316H352V324H337zM329 324H352V332H329zM337 332H344V339H337zM306 339H321V347H306zM337 339H344V347H337zM291 355H298V362H291zM321 355H329V362H321zM337 355H344V362H337zM291 362H314V370H291zM283 370H306V377H283zM275 377H291V385H275zM252 385H260V392H252zM275 385H291V392H275zM198 392H206V400H198zM252 392H267V400H252zM275 392H283V400H275zM244 400H267V408H244zM275 400H283V408H275zM221 408H229V415H221zM252 408H283V415H252zM229 415H275V423H229zM214 423H229V430H214zM244 423H260V430H244z"/><path fill="#0020ff" d="M83 7H90V15H83zM106 7H113V15H106zM75 15H83V23H75zM244 15H252V23H244zM237 23H252V31H237zM244 46H252V54H244zM275 46H283V54H275zM298 46H306V54H298zM260 62H267V70H260zM244 70H260V77H244zM275 70H283V77H275zM252 77H260V85H252zM237 85H244V93H237zM260 85H267V93H260zM275 85H283V93H275zM260 108H275V116H260zM283 116H291V124H283zM252 124H260V132H252zM267 124H283V132H267zM267 140H291V147H267zM229 147H237V155H229zM283 147H291V155H283zM267 155H275V163H267zM275 163H283V170H275zM291 163H298V170H291zM275 178H283V186H275zM267 186H283V194H267zM260 194H267V201H260zM275 194H283V201H275zM275 209H298V217H275zM121 217H129V224H121zM283 217H298V224H283zM306 217H314V224H306zM252 224H260V232H252zM275 224H283V232H275zM267 232H275V240H267zM206 240H214V248H206zM267 248H275V255H267zM267 255H291V263H267zM252 263H260V271H252zM260 271H267V278H260zM283 271H298V278H283zM244 278H252V286H244zM267 278H283V286H267zM267 293H275V301H267zM291 293H314V301H291zM229 301H237V309H229zM283 301H298V309H283zM229 309H237V316H229zM267 309H275V316H267zM237 316H244V324H237zM267 316H283V324H267zM291 316H298V324H291zM175 324H183V332H175zM229 324H237V332H229zM260 324H267V332H260zM175 332H183V339H175zM190 332H206V339H190zM229 332H252V339H229zM198 339H206V347H198zM214 339H221V347H214zM160 347H175V355H160zM183 347H190V355H183zM206 347H214V355H206zM83 385H98V392H83zM136 385H144V392H136zM21 392H44V400H21zM52 392H67V400H52zM83 392H90V400H83zM6 400H21V408H6zM60 400H67V408H60zM121 400H129V408H121zM83 408H90V415H83zM113 408H129V415H113zM29 415H36V423H29zM113 415H121V423H113z"/><path fill="#00bfff" d="M136 7H144V15H136zM121 23H129V31H121zM98 31H106V38H98zM121 31H129V38H121zM152 31H160V38H152zM144 38H152V46H144zM175 46H183V54H175zM167 54H175V62H167zM83 70H90V77H83zM175 70H183V77H175zM183 77H198V85H183zM190 85H198V93H190zM152 93H160V101H152zM190 93H198V101H190zM198 101H206V108H198zM183 116H190V124H183zM175 124H183V132H175zM206 124H214V132H206zM190 132H198V140H190zM190 140H198V147H190zM214 140H221V147H214zM190 147H198V155H190zM190 178H198V186H190zM183 186H190V194H183zM198 186H206V194H198zM190 209H198V217H190zM183 217H190V224H183zM183 255H190V263H183zM175 286H183V293H175zM144 301H152V309H144zM129 324H144V332H129zM90 355H98V362H90zM106 362H121V370H106zM6 370H13V377H6zM52 370H60V377H52z"/><path fill="#00dfff" d="M144 7H152V15H144zM144 23H152V31H144zM83 31H90V38H83zM113 31H121V38H113zM144 31H152V38H144zM160 31H167V38H160zM152 38H160V46H152zM136 46H144V54H136zM175 54H183V62H175zM144 62H152V70H144zM160 62H167V70H160zM175 62H183V70H175zM90 85H98V93H90zM190 101H198V108H190zM160 124H167V132H160zM183 132H190V140H183zM206 132H214V140H206zM206 140H214V147H206zM167 147H175V155H167zM175 155H183V163H175zM190 155H206V163H190zM190 163H198V170H190zM183 170H190V178H183zM183 201H190V209H183zM121 224H129V232H121zM90 271H98V278H90zM160 271H167V278H160zM175 278H183V286H175zM136 286H144V293H136zM136 316H144V324H136zM90 332H106V339H90zM75 339H90V347H75zM98 339H106V347H98zM75 347H83V355H75zM90 347H98V355H90zM121 355H129V362H121zM13 362H21V370H13zM52 362H60V370H52zM29 370H36V377H29zM44 370H52V377H44z"/><path fill="#10ffef" d="M129 15H136V23H129zM113 46H121V54H113zM160 70H167V77H160zM90 77H98V85H90zM136 77H144V85H136zM98 85H106V93H98zM121 85H129V93H121zM175 85H183V93H175zM98 93H106V101H98zM175 93H183V101H175zM144 101H152V108H144zM160 101H175V108H160zM160 116H175V124H160zM167 124H175V132H167zM106 132H113V140H106zM160 132H167V140H160zM106 140H113V147H106zM160 178H183V186H160zM136 186H144V194H136zM160 186H167V194H160zM175 186H183V194H175zM175 194H183V201H175zM136 201H144V209H136zM175 201H183V209H175zM175 209H183V217H175zM175 232H183V240H175zM160 263H167V271H160zM106 271H113V278H106zM144 278H152V286H144zM160 278H167V286H160zM129 293H136V301H129zM113 324H121V332H113zM83 332H90V339H83zM52 347H60V355H52zM13 355H21V362H13zM113 355H121V362H113z"/><path fill="#00afff" d="M136 15H144V23H136zM160 23H167V31H160zM167 31H175V38H167zM183 31H198V38H183zM152 46H160V54H152zM183 54H190V62H183zM167 77H175V85H167zM90 101H98V108H90zM198 108H206V116H198zM98 116H106V124H98zM175 116H183V124H175zM214 116H221V124H214zM229 132H237V140H229zM183 140H190V147H183zM183 147H190V155H183zM206 147H214V155H206zM206 155H214V163H206zM198 163H206V170H198zM190 170H206V178H190zM190 186H198V194H190zM129 209H136V217H129zM183 224H190V232H183zM183 240H190V248H183zM106 255H113V263H106zM183 271H198V278H183zM198 278H206V286H198zM167 286H175V293H167zM183 286H206V293H183zM152 293H160V301H152zM144 316H152V324H144zM90 339H98V347H90zM83 347H90V355H83zM60 362H75V370H60zM29 377H36V385H29z"/><path fill="#00cfff" d="M144 15H152V23H144zM90 31H98V38H90zM160 38H175V46H160zM121 46H129V54H121zM144 46H152V54H144zM152 54H160V62H152zM136 62H144V70H136zM152 62H160V70H152zM152 85H167V93H152zM144 93H152V101H144zM152 101H160V108H152zM183 108H190V116H183zM198 124H206V132H198zM214 124H221V132H214zM175 132H183V140H175zM121 178H129V186H121zM129 194H136V201H129zM190 194H198V201H190zM190 201H198V209H190zM129 217H136V224H129zM98 271H106V278H98zM167 271H175V278H167zM190 278H198V286H190zM160 286H167V293H160zM144 293H152V301H144zM198 293H206V301H198zM136 309H144V316H136zM90 324H98V332H90zM113 332H121V339H113zM106 355H113V362H106zM106 370H113V377H106z"/><path fill="#00efff" d="M129 23H144V31H129zM106 31H113V38H106zM121 38H136V46H121zM167 46H175V54H167zM144 54H152V62H144zM129 62H136V70H129zM167 62H175V70H167zM121 77H129V85H121zM160 77H167V85H160zM136 85H144V93H136zM167 93H175V101H167zM183 93H190V101H183zM183 101H190V108H183zM98 108H106V116H98zM167 132H175V140H167zM175 140H183V147H175zM175 147H183V155H175zM183 155H190V163H183zM183 209H190V217H183zM175 255H183V263H175zM106 263H113V271H106zM167 278H175V286H167zM183 278H190V286H183zM152 286H160V293H152zM136 301H144V309H136zM90 316H98V324H90zM98 324H106V332H98zM113 339H121V347H113zM67 347H75V355H67zM6 355H13V362H6zM52 355H60V362H52zM98 355H106V362H98zM21 362H29V370H21zM36 362H44V370H36zM36 370H44V377H36z"/><path fill="#00ffff" d="M129 31H136V38H129zM106 38H113V46H106zM136 38H144V46H136zM129 46H136V54H129zM160 46H167V54H160zM136 54H144V62H136zM160 54H167V62H160zM83 62H90V70H83zM167 70H175V77H167zM175 77H183V85H175zM167 85H175V93H167zM183 85H190V93H183zM160 93H167V101H160zM175 108H183V116H175zM98 124H106V132H98zM214 132H221V140H214zM183 163H190V170H183zM183 178H190V186H183zM129 186H136V194H129zM183 194H190V201H183zM175 217H183V224H175zM175 240H183V248H175zM152 271H160V278H152zM152 278H160V286H152zM144 286H152V293H144zM136 293H144V301H136zM13 324H21V332H13zM75 332H83V339H75zM106 332H113V339H106zM106 339H113V347H106zM106 347H121V355H106zM44 362H52V370H44zM21 370H29V377H21z"/><path fill="#20ffdf" d="M136 31H144V38H136zM113 38H121V46H113zM121 54H136V62H121zM106 62H113V70H106zM121 62H129V70H121zM106 70H113V77H106zM129 70H152V77H129zM152 77H160V85H152zM129 93H144V101H129zM98 101H106V108H98zM106 124H113V132H106zM160 140H175V147H160zM152 147H160V155H152zM167 163H175V170H167zM175 170H183V178H175zM136 194H144V201H136zM167 194H175V201H167zM167 217H175V224H167zM167 248H175V255H167zM129 278H136V286H129zM129 286H136V293H129zM98 293H106V301H98zM90 301H98V309H90zM129 301H136V309H129zM90 309H106V316H90zM98 316H106V324H98zM67 332H75V339H67zM29 355H36V362H29zM60 355H67V362H60z"/><path fill="#60ff9f" d="M83 38H90V46H83zM90 70H98V77H90zM113 70H121V77H113zM106 85H121V93H106zM121 108H129V116H121zM144 108H152V116H144zM106 116H113V124H106zM144 124H152V132H144zM113 140H121V147H113zM113 163H121V170H113zM121 170H129V178H121zM144 178H152V186H144zM167 224H175V232H167zM167 232H175V240H167zM106 278H113V286H106zM113 286H121V293H113zM44 293H52V301H44zM106 293H113V301H106zM121 309H129V316H121zM60 324H67V332H60zM75 324H83V332H75zM121 324H129V332H121zM60 332H67V339H60zM6 339H13V347H6zM13 347H21V355H13zM60 347H67V355H60z"/><path fill="#40ffbf" d="M90 38H98V46H90zM106 54H113V62H106zM98 70H106V77H98zM106 77H121V85H106zM129 85H136V93H129zM144 85H152V93H144zM106 93H113V101H106zM121 93H129V101H121zM129 101H136V108H129zM175 101H183V108H175zM160 108H167V116H160zM152 124H160V132H152zM152 132H160V140H152zM152 140H160V147H152zM160 147H167V155H160zM167 155H175V163H167zM175 163H183V170H175zM144 186H152V194H144zM167 186H175V194H167zM144 194H152V201H144zM144 201H152V209H144zM136 209H144V217H136zM136 217H144V224H136zM167 240H175V248H167zM83 271H90V278H83zM121 286H129V293H121zM90 293H98V301H90zM36 301H44V309H36zM106 301H113V309H106zM121 301H129V309H121zM113 316H121V324H113zM106 324H113V332H106zM60 339H67V347H60zM6 347H13V355H6zM21 355H29V362H21zM36 355H44V362H36z"/><path fill="#50ffaf" d="M98 38H106V46H98zM121 70H129V77H121zM98 77H106V85H98zM129 77H136V85H129zM113 93H121V101H113zM106 101H113V108H106zM121 101H129V108H121zM106 108H113V116H106zM136 108H144V116H136zM144 140H152V147H144zM129 178H136V186H129zM152 194H160V201H152zM167 255H175V263H167zM152 263H160V271H152zM113 271H121V278H113zM144 271H152V278H144zM113 278H121V286H113zM136 278H144V286H136zM113 301H121V309H113zM75 309H90V316H75zM75 316H83V324H75zM129 316H136V324H129zM44 347H52V355H44z"/><path fill="#30ffcf" d="M75 46H83V54H75zM113 54H121V62H113zM113 62H121V70H113zM152 70H160V77H152zM144 77H152V85H144zM136 101H144V108H136zM152 108H160V116H152zM167 108H175V116H167zM160 155H167V163H160zM160 170H175V178H160zM160 194H167V201H160zM167 201H175V209H167zM160 217H167V224H160zM175 224H183V232H175zM121 232H129V240H121zM175 248H183V255H175zM160 255H167V263H160zM144 263H152V271H144zM90 278H106V286H90zM121 293H129V301H121zM98 301H106V309H98zM106 309H121V316H106zM129 309H136V316H129zM83 324H90V332H83zM67 339H75V347H67zM98 347H106V355H98zM44 355H52V362H44zM29 362H36V370H29z"/><path fill="#8fff70" d="M83 46H98V54H83zM136 124H144V132H136zM129 170H136V178H129zM144 170H160V178H144zM152 186H160V194H152zM167 209H175V217H167zM144 217H152V224H144zM160 232H167V240H160zM67 324H75V332H67zM21 347H29V355H21z"/><path fill="#afff50" d="M98 46H106V54H98zM113 101H121V108H113zM136 116H144V124H136zM113 155H121V163H113zM136 163H144V170H136zM152 232H160V240H152zM113 263H121V271H113zM136 263H144V271H136zM83 278H90V286H83zM90 286H98V293H90zM83 293H90V301H83zM52 332H60V339H52zM13 339H21V347H13zM36 339H52V347H36z"/><path fill="#70ff8f" d="M106 46H113V54H106zM113 108H121V116H113zM152 178H160V186H152zM160 201H167V209H160zM144 209H167V217H144zM136 271H144V278H136zM98 286H113V293H98zM83 301H90V309H83zM29 309H36V316H29zM21 316H29V324H21zM121 316H129V324H121zM13 332H21V339H13zM52 339H60V347H52z"/><path fill="#80ff80" d="M83 54H90V62H83zM129 108H136V116H129zM144 116H160V124H144zM144 132H152V140H144zM144 155H160V163H144zM152 163H167V170H152zM152 201H160V209H152zM129 224H136V232H129zM152 224H160V232H152zM160 240H167V248H160zM152 248H167V255H152zM152 255H160V263H152zM121 278H129V286H121zM52 286H60V293H52zM113 293H121V301H113zM67 316H75V324H67zM83 316H90V324H83zM106 316H113V324H106z"/><path fill="#bfff40" d="M90 54H98V62H90zM121 116H136V124H121zM113 124H121V132H113zM136 147H152V155H136zM152 217H160V224H152zM67 271H83V278H67z"/><path fill="#cfff30" d="M98 54H106V62H98zM98 62H106V70H98zM121 132H129V140H121zM144 224H152V232H144zM129 271H136V278H129zM83 286H90V293H83zM75 301H83V309H75zM29 339H36V347H29z"/><path fill="#dfff20" d="M90 62H98V70H90zM121 124H129V132H121zM129 132H144V140H129zM136 140H144V147H136zM113 147H121V155H113zM129 147H136V155H129zM136 155H144V163H136zM129 163H136V170H129zM44 301H52V309H44zM36 309H44V316H36zM60 309H67V316H60zM52 324H60V332H52zM44 332H52V339H44z"/><path fill="#ffff00" d="M113 116H121V124H113zM129 124H136V132H129zM129 140H136V147H129zM136 224H144V232H136zM60 278H67V286H60zM52 309H60V316H52zM44 324H52V332H44z"/><path fill="#9fff60" d="M113 132H121V140H113zM144 163H152V170H144zM136 178H144V186H136zM160 224H167V232H160zM152 240H160V248H152zM121 271H129V278H121zM67 309H75V316H67zM29 347H44V355H29z"/><path fill="#efff10" d="M121 140H129V147H121zM121 163H129V170H121zM136 170H144V178H136zM52 316H67V324H52zM21 324H29V332H21zM21 339H29V347H21z"/><path fill="#ffbf00" d="M121 147H129V155H121zM67 293H75V301H67zM52 301H60V309H52zM44 309H52V316H44zM44 316H52V324H44z"/><path fill="#ff7000" d="M121 155H129V163H121z"/><path fill="#ffdf00" d="M129 155H136V163H129zM144 240H152V248H144zM144 255H152V263H144zM75 293H83V301H75z"/><path fill="#ff6000" d="M129 232H136V240H129zM121 263H129V271H121zM67 278H75V286H67zM36 316H44V324H36z"/><path fill="#ff2000" d="M136 232H144V240H136z"/><path fill="#ffef00" d="M144 232H152V240H144zM144 248H152V255H144zM52 293H60V301H52zM67 301H75V309H67z"/><path fill="#ff1000" d="M121 240H129V248H121z"/><path fill="#af0000" d="M129 240H136V248H129zM129 248H136V255H129z"/><path fill="#ff3000" d="M136 240H144V248H136z"/><path fill="#cf0000" d="M121 248H129V255H121zM129 255H136V263H129z"/><path fill="#ff4000" d="M136 248H144V255H136zM75 278H83V286H75z"/><path fill="#ff8000" d="M113 255H121V263H113zM75 286H83V293H75z"/><path fill="#800000" d="M121 255H129V263H121z"/><path fill="#ffaf00" d="M136 255H144V263H136zM60 293H67V301H60zM29 316H36V324H29zM36 324H44V332H36z"/><path fill="#ff8f00" d="M129 263H136V271H129z"/><path fill="#ff9f00" d="M60 286H67V293H60zM21 332H44V339H21z"/><path fill="#df0000" d="M67 286H75V293H67z"/><path fill="#ffcf00" d="M60 301H67V309H60zM29 324H36V332H29z"/><path fill="#00008f" d="M329 339H337V347H329zM329 362H337V370H329zM329 370H337V377H329zM314 377H352V385H314zM321 385H344V392H321zM314 392H321V400H314zM329 392H337V400H329zM344 392H352V400H344zM314 400H321V408H314zM329 400H344V408H329zM306 408H337V415H306zM344 408H352V415H344zM321 415H344V423H321zM267 423H275V430H267zM298 423H314V430H298zM329 423H352V430H329z"/></g>
<use href="#coastl"/>
<path d="M294.1 3.1L294.4 3.4L302.1 3.2L309.8 3.3L310.3 3.1M348.2 18.5L347.9 18.8L348.2 19.1M348.2 347.6L342.9 350.7L348.2 355.8M348.2 361.9L340.6 364.4L333.1 358.3L335.6 350.7L336.3 343.1L332.9 337.6L330.3 343.1L330.0 350.7L332.6 358.3L325.2 364.2L317.5 365.1L316.2 365.9L317.5 370.6L318.9 373.5L317.5 374.6L309.8 376.8L304.8 381.1L305.6 388.7L302.1 390.6L298.7 396.3L294.4 400.4L289.3 403.8L294.4 408.1L296.8 411.4L302.1 418.3L303.8 419.0L302.1 419.4L294.4 421.4L291.1 426.5M282.0 426.5L279.0 423.4L271.2 423.4L263.6 426.2L263.2 426.5M315.6 426.5L317.5 421.3L323.4 426.5" fill="none" stroke="#000" stroke-width="0.9" stroke-linejoin="round"/><text transform="translate(220.0,424.0) rotate(-15)" font-size="13.5" text-anchor="middle" fill="#111">3</text><text transform="translate(338.0,384.0) rotate(80)" font-size="13.5" text-anchor="middle" fill="#111">3</text>
</g>
<use href="#stars"/>
<use href="#frame"/>
<rect x="3.5" y="20.5" width="113.0" height="25.0" fill="url(#jetg)" stroke="#262626" stroke-width="1"/><text x="285.0" y="38.0" font-size="21">10 km</text><path d="M305.0 42.5h14" stroke="#000" stroke-width="3.4" stroke-linecap="round"/><text x="174" y="-11" text-anchor="middle" font-size="20.5" font-weight="bold">Number of Rads (3)</text><text x="-3" y="8" font-size="20" fill="#262626">0</text><text x="88" y="8" font-size="20" fill="#262626">50</text>
</g>
<text x="836.5" y="150.3" text-anchor="end" font-size="21">37°N</text>
<text x="836.5" y="294.4" text-anchor="end" font-size="21">36°N</text>
<text x="836.5" y="436.7" text-anchor="end" font-size="21">35°N</text>
<text x="836.5" y="577.3" text-anchor="end" font-size="21">34°N</text>
<text x="836.5" y="219.8" text-anchor="end" font-size="15.5">30'</text>
<text x="836.5" y="363.0" text-anchor="end" font-size="15.5">30'</text>
<text x="836.5" y="504.4" text-anchor="end" font-size="15.5">30'</text>
<text x="903.0" y="590.5" text-anchor="middle" font-size="21">76°W</text>
<text x="1019.0" y="590.5" text-anchor="middle" font-size="21">75°W</text>
<text x="1135.0" y="590.5" text-anchor="middle" font-size="21">74°W</text>
<text x="842.0" y="586.5" text-anchor="middle" font-size="15.5">30'</text>
<text x="958.0" y="586.5" text-anchor="middle" font-size="15.5">30'</text>
<text x="1074.0" y="586.5" text-anchor="middle" font-size="15.5">30'</text>
<text x="1190.0" y="586.5" text-anchor="middle" font-size="15.5">30'</text>
<g transform="translate(1227,142)">
<g clip-path="url(#pc)">
<use href="#land"/>
<use href="#grid"/>
<g shape-rendering="crispEdges"><path fill="#008fff" d="M67 -1H90V7H67zM275 -1H352V7H275zM291 7H352V15H291zM291 15H352V23H291zM298 23H352V31H298zM337 31H352V38H337zM337 38H352V46H337zM98 124H106V132H98zM113 155H129V163H113zM113 163H121V170H113zM121 201H129V209H121zM198 224H214V232H198zM198 232H221V240H198zM198 240H214V248H198zM198 248H206V255H198zM329 293H337V301H329zM329 301H337V309H329zM321 309H352V316H321zM13 316H21V324H13zM314 316H352V324H314zM306 324H352V332H306zM298 332H352V339H298zM275 339H352V347H275zM260 347H275V355H260zM298 347H329V355H298zM337 347H352V355H337zM198 355H214V362H198zM260 355H275V362H260zM298 355H321V362H298zM329 355H352V362H329zM167 362H175V370H167zM198 362H206V370H198zM291 362H314V370H291zM321 362H352V370H321zM190 370H198V377H190zM244 370H252V377H244zM275 370H314V377H275zM321 370H352V377H321zM160 377H167V385H160zM267 377H306V385H267zM321 377H352V385H321zM6 385H13V392H6zM260 385H344V392H260zM6 392H36V400H6zM206 392H214V400H206zM252 392H337V400H252zM6 400H90V408H6zM206 400H214V408H206zM237 400H329V408H237zM6 408H90V415H6zM198 408H298V415H198zM306 408H329V415H306zM6 415H90V423H6zM198 415H244V423H198zM252 415H267V423H252zM275 415H291V423H275zM314 415H321V423H314zM6 423H90V430H6zM198 423H244V430H198zM252 423H267V430H252zM275 423H291V430H275zM314 423H321V430H314z"/><path fill="#8fff70" d="M90 -1H152V7H90zM252 -1H275V7H252zM67 7H144V15H67zM260 7H291V15H260zM75 15H144V23H75zM252 15H291V23H252zM75 23H144V31H75zM260 23H298V31H260zM75 31H144V38H75zM260 31H337V38H260zM75 38H144V46H75zM252 38H337V46H252zM75 46H136V54H75zM252 46H352V54H252zM83 54H136V62H83zM252 54H352V62H252zM83 62H136V70H83zM244 62H352V70H244zM83 70H136V77H83zM244 70H352V77H244zM83 77H144V85H83zM244 77H352V85H244zM83 85H160V93H83zM244 85H352V93H244zM90 93H160V101H90zM237 93H352V101H237zM90 101H144V108H90zM237 101H352V108H237zM98 108H129V116H98zM252 108H352V116H252zM98 116H129V124H98zM267 116H352V124H267zM106 124H129V132H106zM183 124H190V132H183zM267 124H352V132H267zM106 132H144V140H106zM175 132H190V140H175zM267 132H352V140H267zM106 140H136V147H106zM167 140H183V147H167zM237 140H244V147H237zM267 140H352V147H267zM106 147H129V155H106zM229 147H244V155H229zM275 147H352V155H275zM129 155H152V163H129zM221 155H244V163H221zM267 155H352V163H267zM121 163H160V170H121zM221 163H352V170H221zM121 170H167V178H121zM214 170H352V178H214zM121 178H190V186H121zM206 178H352V186H206zM121 186H352V194H121zM121 194H190V201H121zM214 194H352V201H214zM129 201H152V209H129zM175 201H190V209H175zM221 201H352V209H221zM121 209H152V217H121zM183 209H198V217H183zM214 209H352V217H214zM121 217H129V224H121zM190 217H352V224H190zM190 224H198V232H190zM214 224H352V232H214zM190 232H198V240H190zM221 232H352V240H221zM190 240H198V248H190zM214 240H352V248H214zM121 248H129V255H121zM190 248H198V255H190zM206 248H352V255H206zM90 255H106V263H90zM121 255H129V263H121zM144 255H167V263H144zM190 255H198V263H190zM206 255H352V263H206zM83 263H106V271H83zM113 263H152V271H113zM214 263H352V271H214zM67 271H106V278H67zM121 271H152V278H121zM229 271H352V278H229zM60 278H98V286H60zM121 278H152V286H121zM229 278H352V286H229zM52 286H98V293H52zM121 286H129V293H121zM144 286H160V293H144zM167 286H175V293H167zM229 286H352V293H229zM44 293H98V301H44zM144 293H175V301H144zM221 293H329V301H221zM337 293H352V301H337zM36 301H98V309H36zM144 301H167V309H144zM221 301H329V309H221zM337 301H352V309H337zM29 309H98V316H29zM152 309H167V316H152zM183 309H190V316H183zM221 309H321V316H221zM21 316H98V324H21zM152 316H175V324H152zM221 316H314V324H221zM13 324H98V332H13zM152 324H175V332H152zM183 324H190V332H183zM214 324H306V332H214zM6 332H98V339H6zM144 332H183V339H144zM221 332H298V339H221zM6 339H98V347H6zM129 339H136V347H129zM160 339H183V347H160zM198 339H275V347H198zM6 347H98V355H6zM129 347H136V355H129zM160 347H183V355H160zM198 347H260V355H198zM275 347H298V355H275zM6 355H98V362H6zM160 355H198V362H160zM214 355H260V362H214zM275 355H298V362H275zM6 362H90V370H6zM152 362H167V370H152zM175 362H198V370H175zM206 362H291V370H206zM6 370H90V377H6zM144 370H190V377H144zM198 370H244V377H198zM252 370H275V377H252zM6 377H90V385H6zM98 377H113V385H98zM136 377H160V385H136zM167 377H198V385H167zM214 377H267V385H214zM13 385H90V392H13zM98 385H206V392H98zM214 385H260V392H214zM36 392H206V400H36zM214 392H252V400H214zM90 400H206V408H90zM214 400H237V408H214zM90 408H198V415H90zM90 415H198V423H90zM90 423H198V430H90z"/><path fill="#ff7000" d="M152 -1H252V7H152zM144 7H260V15H144zM144 15H252V23H144zM144 23H260V31H144zM144 31H260V38H144zM144 38H252V46H144zM136 46H252V54H136zM136 54H252V62H136zM136 62H244V70H136zM136 70H244V77H136zM144 77H244V85H144zM160 85H244V93H160zM160 93H237V101H160zM144 101H237V108H144zM129 108H252V116H129zM129 116H267V124H129zM129 124H183V132H129zM190 124H267V132H190zM144 132H175V140H144zM190 132H267V140H190zM136 140H167V147H136zM183 140H237V147H183zM244 140H267V147H244zM129 147H229V155H129zM244 147H275V155H244zM152 155H221V163H152zM244 155H267V163H244zM160 163H221V170H160zM167 170H214V178H167zM190 178H206V186H190zM190 194H214V201H190zM152 201H175V209H152zM190 201H221V209H190zM152 209H183V217H152zM198 209H214V217H198zM152 217H190V224H152zM121 224H129V232H121zM152 224H190V232H152zM121 232H136V240H121zM144 232H190V240H144zM121 240H136V248H121zM152 240H190V248H152zM129 248H144V255H129zM152 248H190V255H152zM106 255H121V263H106zM129 255H144V263H129zM167 255H190V263H167zM198 255H206V263H198zM106 263H113V271H106zM152 263H160V271H152zM167 263H214V271H167zM106 271H121V278H106zM152 271H167V278H152zM175 271H229V278H175zM98 278H121V286H98zM152 278H167V286H152zM175 278H229V286H175zM98 286H121V293H98zM129 286H144V293H129zM160 286H167V293H160zM175 286H229V293H175zM98 293H144V301H98zM175 293H221V301H175zM98 301H144V309H98zM167 301H221V309H167zM98 309H152V316H98zM167 309H183V316H167zM190 309H221V316H190zM98 316H152V324H98zM175 316H221V324H175zM98 324H152V332H98zM175 324H183V332H175zM190 324H214V332H190zM98 332H144V339H98zM183 332H221V339H183zM98 339H129V347H98zM136 339H160V347H136zM183 339H198V347H183zM98 347H129V355H98zM136 347H160V355H136zM183 347H198V355H183zM98 355H160V362H98zM90 362H152V370H90zM90 370H144V377H90zM90 377H98V385H90zM113 377H136V385H113zM198 377H214V385H198zM90 385H98V392H90zM206 385H214V392H206z"/><path fill="#800000" d="M129 217H152V224H129zM129 224H152V232H129zM136 232H144V240H136zM136 240H152V248H136zM144 248H152V255H144zM160 263H167V271H160zM167 271H175V278H167zM167 278H175V286H167z"/><path fill="#00008f" d="M329 347H337V355H329zM321 355H329V362H321zM314 362H321V370H314zM314 370H321V377H314zM306 377H321V385H306zM344 385H352V392H344zM337 392H352V400H337zM329 400H352V408H329zM298 408H306V415H298zM329 408H352V415H329zM244 415H252V423H244zM267 415H275V423H267zM291 415H314V423H291zM321 415H352V423H321zM244 423H252V430H244zM267 423H275V430H267zM291 423H314V430H291zM321 423H352V430H321z"/></g>
<use href="#coastl"/>
<path d="M71.0 10.1L78.8 10.1L86.4 10.1L93.4 3.1M272.0 3.1L279.0 10.1L286.7 10.1L287.4 10.9L287.4 18.8L294.4 25.8L295.1 26.6L302.1 33.6L309.8 33.6L317.5 33.6L325.2 33.6L332.9 33.6L333.6 34.4L333.6 42.2L340.6 49.3L348.2 49.3M108.8 134.9L108.8 127.9L101.8 120.9M124.2 173.6L124.2 166.6L125.0 165.9L131.9 158.9L125.0 151.9L117.2 151.9L110.3 151.9M125.0 212.2L131.9 205.2L125.0 198.3M201.9 221.4L195.0 228.3L195.0 236.0L195.0 243.7L195.0 251.4L201.9 254.8L208.9 251.4L209.6 250.6L216.6 243.7L217.3 242.9L224.3 236.0L217.3 229.1L216.6 228.3L209.6 221.4L201.9 221.4M348.2 305.7L340.6 305.7L339.8 305.0L339.8 297.3L332.9 290.4L325.9 297.3L325.9 305.0L325.2 305.7L318.2 312.6L317.5 313.4L310.5 320.2L309.8 321.0L302.8 327.8L302.1 328.6L295.1 335.5L294.4 336.2L286.7 336.2L279.0 336.2L272.0 343.1L271.2 343.8L263.6 343.8L256.6 350.7L256.6 358.3L263.6 365.1L271.2 365.1L278.2 358.3L278.2 350.7L279.0 349.9L286.7 349.9L294.4 349.9L295.1 350.7L295.1 358.3L294.4 359.1L287.4 365.9L286.7 366.7L279.0 366.7L272.0 373.5L271.2 374.3L264.3 381.1L263.6 381.9L256.6 388.7L255.9 389.4L248.9 396.3L248.2 397.0L240.4 397.0L233.5 403.8L232.8 404.6L225.1 404.6L217.3 404.6L216.6 403.8L216.6 396.3L209.7 392.8L202.7 396.3L202.7 403.8L201.9 404.6L195.0 411.4L195.0 419.0L195.0 426.5M201.9 351.5L195.0 358.3L195.0 365.9L194.2 366.7L187.3 373.5L194.2 380.3L201.2 373.5L201.9 372.7L208.9 365.9L209.6 365.1L216.6 358.3L209.6 351.5L201.9 351.5M171.2 359.1L164.2 365.9L171.2 372.7L178.1 365.9L171.2 359.1M248.2 366.7L241.2 373.5L248.2 380.3L255.1 373.5L248.2 366.7M163.4 374.3L156.5 381.1L163.4 387.9L170.4 381.1L163.4 374.3M93.4 426.5L93.4 419.0L93.4 411.4L93.4 403.8L86.4 397.0L78.8 397.0L71.0 397.0L63.4 397.0L55.7 397.0L48.0 397.0L40.2 397.0L39.5 396.3L32.5 389.4L24.9 389.4L17.1 389.4L16.4 388.7L9.4 381.9" fill="none" stroke="#000" stroke-width="0.9" stroke-linejoin="round"/><text transform="translate(90.0,5.0) rotate(-60)" font-size="13.5" text-anchor="middle" fill="#111">2</text><text transform="translate(110.0,9.0) rotate(-30)" font-size="13.5" text-anchor="middle" fill="#111">2</text><text transform="translate(118.0,159.0) rotate(0)" font-size="13.5" text-anchor="middle" fill="#111">2</text><text transform="translate(98.0,128.0) rotate(80)" font-size="13.5" text-anchor="middle" fill="#111">2</text><text transform="translate(124.0,207.0) rotate(80)" font-size="13.5" text-anchor="middle" fill="#111">2</text><text transform="translate(20.0,332.0) rotate(60)" font-size="13.5" text-anchor="middle" fill="#111">2</text><text transform="translate(190.0,256.0) rotate(70)" font-size="13.5" text-anchor="middle" fill="#111">2</text><text transform="translate(284.0,347.0) rotate(-10)" font-size="13.5" text-anchor="middle" fill="#111">2</text><text transform="translate(148.0,372.0) rotate(-20)" font-size="13.5" text-anchor="middle" fill="#111">2</text><text transform="translate(188.0,381.0) rotate(-30)" font-size="13.5" text-anchor="middle" fill="#111">2</text><text transform="translate(243.0,384.0) rotate(-20)" font-size="13.5" text-anchor="middle" fill="#111">2</text><text transform="translate(14.0,389.0) rotate(60)" font-size="13.5" text-anchor="middle" fill="#111">2</text><text transform="translate(194.0,422.0) rotate(80)" font-size="13.5" text-anchor="middle" fill="#111">2</text><text transform="translate(340.0,47.0) rotate(60)" font-size="13.5" text-anchor="middle" fill="#111">2</text>
</g>
<use href="#stars"/>
<use href="#frame"/>
<rect x="3.5" y="20.5" width="113.0" height="25.0" fill="url(#jetg)" stroke="#262626" stroke-width="1"/><text x="285.0" y="38.0" font-size="21">10 km</text><path d="M305.0 42.5h14" stroke="#000" stroke-width="3.4" stroke-linecap="round"/><text x="174" y="-11" text-anchor="middle" font-size="20.5" font-weight="bold">Number of Sites (2)</text><text x="-3" y="8" font-size="20" fill="#262626">0</text><text x="52" y="8" font-size="20" fill="#262626">2</text><text x="107" y="8" font-size="20" fill="#262626">4</text>
</g>
<text x="1220.5" y="150.3" text-anchor="end" font-size="21">37°N</text>
<text x="1220.5" y="294.4" text-anchor="end" font-size="21">36°N</text>
<text x="1220.5" y="436.7" text-anchor="end" font-size="21">35°N</text>
<text x="1220.5" y="577.3" text-anchor="end" font-size="21">34°N</text>
<text x="1220.5" y="219.8" text-anchor="end" font-size="15.5">30'</text>
<text x="1220.5" y="363.0" text-anchor="end" font-size="15.5">30'</text>
<text x="1220.5" y="504.4" text-anchor="end" font-size="15.5">30'</text>
<text x="1287.0" y="590.5" text-anchor="middle" font-size="21">76°W</text>
<text x="1403.0" y="590.5" text-anchor="middle" font-size="21">75°W</text>
<text x="1519.0" y="590.5" text-anchor="middle" font-size="21">74°W</text>
<text x="1226.0" y="586.5" text-anchor="middle" font-size="15.5">30'</text>
<text x="1342.0" y="586.5" text-anchor="middle" font-size="15.5">30'</text>
<text x="1458.0" y="586.5" text-anchor="middle" font-size="15.5">30'</text>
<text x="1574.0" y="586.5" text-anchor="middle" font-size="15.5">30'</text>
<g transform="translate(75,742)">
<g clip-path="url(#pc)">
<use href="#land"/>
<use href="#grid"/>
<use href="#coastl"/>
<path d="M83.9 -21.1L223.8 3.5M83.4 -19.3L220.7 17.5M82.9 -17.4L216.4 31.2M82.1 -15.6L210.9 44.4M81.2 -13.9L204.3 57.1M80.2 -12.3L196.6 69.2M79.0 -10.7L187.8 80.6M77.7 -9.3L178.2 91.2M76.3 -8.0L167.6 100.8M74.7 -6.8L156.2 109.6M73.1 -5.8L144.1 117.3M71.4 -4.9L131.4 123.9" stroke="#f00" stroke-width="2.8" stroke-linecap="round" stroke-dasharray="0 7.40" fill="none"/><path d="M103.2 149.9L56.6 -181.4M103.8 149.8L86.3 -184.2M104.5 149.8L116.1 -184.5M105.1 149.9L145.9 -182.1M105.7 150.0L175.3 -177.2M106.4 150.1L204.2 -169.7M107.0 150.3L232.3 -159.8M107.6 150.6L259.4 -147.4M108.1 150.9L285.4 -132.7M108.7 151.3L309.9 -115.8M109.2 151.7L333.0 -96.9M109.6 152.2L354.2 -76.0M110.0 152.6L373.6 -53.3M110.4 153.2L390.9 -29.0M110.7 153.7L406.1 -3.3M111.0 154.3L418.9 23.6M111.2 154.9L429.3 51.6M111.4 155.5L437.3 80.3M111.5 156.2L442.8 109.6M111.6 156.8L445.6 139.3M111.6 157.5L445.9 169.1M111.5 158.1L443.5 198.9M111.4 158.7L438.6 228.3M111.3 159.4L431.1 257.2M111.1 160.0L421.2 285.3M110.8 160.6L408.8 312.4M110.5 161.1L394.1 338.4M110.1 161.7L377.2 362.9M109.7 162.2L358.3 386.0M109.2 162.6L337.4 407.2M108.8 163.0L314.7 426.6M108.2 163.4L290.4 443.9M107.7 163.7L264.7 459.1M107.1 164.0L237.8 471.9M106.5 164.2L209.8 482.3M105.9 164.4L181.1 490.3M105.2 164.5L151.8 495.8" stroke="#f00" stroke-width="2.8" stroke-linecap="round" stroke-dasharray="0 7.40" fill="none"/><path d="M69.3 270.1L260.8 207.9M69.5 270.7L265.6 225.5M69.6 271.4L268.9 243.4M69.7 272.0L270.7 261.5M69.7 272.7L270.9 279.7M69.6 273.3L269.4 297.8M69.5 273.9L266.4 315.8M69.4 274.6L261.9 333.4M69.2 275.2L255.8 350.6M68.9 275.8L248.2 367.1M68.6 276.3L239.3 383.0M68.2 276.9L229.0 398.0M67.8 277.4L217.4 412.0M67.3 277.8L204.6 425.0M66.9 278.2L190.8 436.8M66.3 278.6L176.0 447.4M65.8 278.9L160.3 456.7M65.2 279.2L143.8 464.5M64.6 279.4L126.8 470.9M64.0 279.6L109.2 475.7M63.3 279.7L91.3 479.0M62.7 279.8L73.2 480.8M62.0 279.8L55.0 481.0M61.4 279.7L36.9 479.5M60.8 279.6L18.9 476.5M60.1 279.5L1.3 472.0M59.5 279.3L-15.9 465.9M58.9 279.0L-32.4 458.3M58.4 278.7L-48.3 449.4M57.8 278.3L-63.3 439.1" stroke="#f00" stroke-width="2.8" stroke-linecap="round" stroke-dasharray="0 7.40" fill="none"/><path d="M17.0 318.4L253.1 208.3M17.3 319.0L262.0 229.9M17.4 319.6L269.1 252.2M17.6 320.2L274.1 275.0M17.7 320.9L277.2 298.2M17.7 321.5L278.2 321.5M17.7 322.1L277.2 344.8M17.6 322.8L274.1 368.0M17.4 323.4L269.1 390.8M17.3 324.0L262.0 413.1M17.0 324.6L253.1 434.7M16.7 325.2L242.3 455.4M16.4 325.7L229.7 475.1M16.0 326.3L215.5 493.7M15.5 326.7L199.7 510.9M15.1 327.2L182.5 526.7M14.5 327.6L163.9 540.9M14.0 327.9L144.2 553.5M13.4 328.2L123.5 564.3M12.8 328.5L101.9 573.2M12.2 328.6L79.6 580.3M11.6 328.8L56.8 585.3M10.9 328.9L33.6 588.4M10.3 328.9L10.3 589.4M9.7 328.9L-13.0 588.4M9.0 328.8L-36.2 585.3M8.4 328.6L-59.0 580.3M7.8 328.5L-81.3 573.2" stroke="#000" stroke-width="2.8" stroke-linecap="round" stroke-dasharray="0 7.40" fill="none"/><path d="M94.9 37.3L275.0 -10.9M95.5 39.9L279.1 7.5M95.8 42.4L281.6 26.2M95.9 45.0L282.4 45.0M95.8 47.6L281.6 63.8M95.5 50.1L279.1 82.5M94.9 52.7L275.0 100.9M94.1 55.1L269.3 118.9M93.1 57.5L262.1 136.3M91.9 59.8L253.4 153.0M90.5 62.0L243.3 168.9M89.0 64.0L231.8 183.9M87.2 65.9L219.1 197.8M85.3 67.7L205.2 210.5M83.3 69.2L190.2 222.0M81.1 70.6L174.3 232.1M78.8 71.8L157.6 240.8M76.4 72.8L140.2 248.0M74.0 73.6L122.2 253.7" stroke="#00f" stroke-width="2.8" stroke-linecap="round" stroke-dasharray="0 7.40" fill="none"/><path d="M81.1 19.4L155.8 -110.1M83.3 20.8L169.0 -101.7M85.3 22.3L181.4 -92.2M87.2 24.1L192.9 -81.6M89.0 26.0L203.5 -70.1M90.5 28.0L213.0 -57.7M91.9 30.2L221.4 -44.5M93.1 32.5L228.6 -30.7M94.1 34.9L234.6 -16.2" stroke="#00f" stroke-width="2.8" stroke-linecap="round" stroke-dasharray="0 7.40" fill="none"/><path d="M61.2 15.8L48.1 -58.5M63.7 15.5L57.1 -59.7M66.3 15.4L66.3 -60.1M68.9 15.5L75.5 -59.7M71.4 15.8L84.5 -58.5M74.0 16.4L93.5 -56.5M76.4 17.2L102.2 -53.7M78.8 18.2L110.7 -50.2" stroke="#00f" stroke-width="2.8" stroke-linecap="round" stroke-dasharray="0 7.40" fill="none"/><path d="M72.4 40.8L85.7 31.4M72.7 41.3L86.8 33.2M73.0 41.9L87.8 35.0M73.3 42.5L88.6 36.9M73.4 43.1L89.2 38.9M73.6 43.7L89.6 40.9M73.7 44.4L89.9 42.9M73.7 45.0L90.0 45.0M73.7 45.6L89.9 47.1M73.6 46.3L89.6 49.1M73.4 46.9L89.2 51.1M73.3 47.5L88.6 53.1M73.0 48.1L87.8 55.0M72.7 48.7L86.8 56.8M72.4 49.2L85.7 58.6" stroke="#00f" stroke-width="2.8" stroke-linecap="round" stroke-dasharray="0 7.40" fill="none"/><path d="M116.0 243.5L235.7 -52.9M116.6 243.8L261.7 -41.0M117.1 244.1L286.5 -27.0M117.7 244.5L310.0 -10.8M118.2 244.9L332.1 7.3M118.6 245.4L352.4 27.3M119.0 245.8L370.9 49.0M119.4 246.4L387.5 72.3M119.7 246.9L402.0 96.8M120.0 247.5L414.3 122.6M120.2 248.1L424.3 149.3M120.4 248.7L431.9 176.8M120.5 249.4L437.1 204.9M120.6 250.0L439.8 233.3M120.6 250.7L440.1 261.8M120.5 251.3L437.8 290.3M120.4 251.9L433.1 318.4M120.3 252.6L426.0 346.0M120.1 253.2L416.5 372.9M119.8 253.8L404.6 398.9M119.5 254.3L390.6 423.7M119.1 254.9L374.4 447.2M118.7 255.4L356.3 469.3M118.2 255.8L336.3 489.6M117.8 256.2L314.6 508.1M117.2 256.6L291.3 524.7M116.7 256.9L266.8 539.2M116.1 257.2L241.0 551.5M115.5 257.4L214.3 561.5M114.9 257.6L186.8 569.1M114.2 257.7L158.7 574.3M113.6 257.8L130.3 577.0M112.9 257.8L101.8 577.3" stroke="#0f0" stroke-width="2.8" stroke-linecap="round" stroke-dasharray="0 7.40" fill="none"/><path d="M158.7 0.8h0M165.8 0.8h0M173.8 0.8h0M179.3 0.8h0M191.5 0.8h0M201.3 0.8h0M231.7 0.8h0M240.6 0.8h0M279.0 0.8h0M296.7 0.8h0M302.8 0.8h0M308.3 0.8h0M323.9 0.8h0M336.8 0.8h0M344.3 0.8h0" stroke="#f00" stroke-width="3.1" stroke-linecap="round" fill="none"/><path d="M150.0 0.8h0M187.8 0.8h0M197.3 0.8h0M209.3 0.8h0M247.2 0.8h0M252.3 0.8h0M263.9 0.8h0M275.0 0.8h0" stroke="#00f" stroke-width="3.1" stroke-linecap="round" fill="none"/><path d="M205.2 0.8h0M216.3 0.8h0M225.0 0.8h0M258.7 0.8h0M268.0 0.8h0M285.7 0.8h0M290.3 0.8h0M316.1 0.8h0M330.6 0.8h0" stroke="#0f0" stroke-width="3.1" stroke-linecap="round" fill="none"/><path d="M216 0 L210 32 L203 60 L197 84 L192 120 L188 160 L191 185 L188 205 L170 225 L150 255 L128 285 L105 320 L90 350 L70 375 L48 400 L20 428" stroke="#000" stroke-width="0.9" fill="none"/><rect x="186" y="196" width="16" height="30" fill="#fff"/><text transform="translate(188,199) rotate(85)" font-size="14.5">100</text><rect x="40" y="370" width="26" height="26" fill="#fff" transform="rotate(-48 53 383)"/><text transform="translate(50,402) rotate(-52)" font-size="14.5">100</text>
</g>
<use href="#stars"/>
<use href="#frame"/>
<text x="285.0" y="38.0" font-size="21">10 km</text><path d="M305.0 42.5h14" stroke="#000" stroke-width="3.4" stroke-linecap="round"/><text x="174" y="-12.5" text-anchor="middle" font-size="25" font-weight="bold">Radial Grid</text>
</g>
<text x="68.5" y="750.3" text-anchor="end" font-size="21">37°N</text>
<text x="68.5" y="894.4" text-anchor="end" font-size="21">36°N</text>
<text x="68.5" y="1036.7" text-anchor="end" font-size="21">35°N</text>
<text x="68.5" y="1177.3" text-anchor="end" font-size="21">34°N</text>
<text x="68.5" y="819.8" text-anchor="end" font-size="15.5">30'</text>
<text x="68.5" y="963.0" text-anchor="end" font-size="15.5">30'</text>
<text x="68.5" y="1104.4" text-anchor="end" font-size="15.5">30'</text>
<text x="135.0" y="1190.5" text-anchor="middle" font-size="21">76°W</text>
<text x="251.0" y="1190.5" text-anchor="middle" font-size="21">75°W</text>
<text x="367.0" y="1190.5" text-anchor="middle" font-size="21">74°W</text>
<text x="74.0" y="1186.5" text-anchor="middle" font-size="15.5">30'</text>
<text x="190.0" y="1186.5" text-anchor="middle" font-size="15.5">30'</text>
<text x="306.0" y="1186.5" text-anchor="middle" font-size="15.5">30'</text>
<text x="422.0" y="1186.5" text-anchor="middle" font-size="15.5">30'</text>
<g transform="translate(459,742)">
<g clip-path="url(#pc)">
<use href="#land"/>
<use href="#grid"/>
<g shape-rendering="crispEdges"><path fill="#0000ef" d="M106 -1H113V7H106zM190 -1H198V7H190zM252 -1H260V7H252zM83 7H90V15H83zM106 7H121V15H106zM183 7H190V15H183zM121 15H129V23H121zM175 15H183V23H175zM190 15H198V23H190zM175 23H183V31H175zM75 31H83V38H75zM90 31H113V38H90zM121 31H136V38H121zM83 38H98V46H83zM113 38H136V46H113zM75 46H83V54H75zM90 46H98V54H90zM121 46H144V54H121zM275 46H283V54H275zM90 54H98V62H90zM129 54H144V62H129zM152 54H160V62H152zM98 62H106V70H98zM113 62H121V70H113zM144 62H160V70H144zM267 62H275V70H267zM283 62H291V70H283zM260 70H283V77H260zM106 77H113V85H106zM129 77H136V85H129zM106 85H113V93H106zM206 85H214V93H206zM221 93H229V101H221zM113 101H121V108H113zM237 101H244V108H237zM275 101H291V108H275zM106 108H113V116H106zM198 108H206V116H198zM283 108H291V116H283zM113 116H121V124H113zM190 116H206V124H190zM283 116H291V124H283zM121 124H136V132H121zM190 124H198V132H190zM298 124H306V132H298zM136 140H144V147H136zM175 140H183V147H175zM190 147H198V155H190zM221 147H229V155H221zM144 155H152V163H144zM190 155H198V163H190zM221 155H229V163H221zM221 163H229V170H221zM167 170H175V178H167zM183 170H190V178H183zM183 178H190V186H183zM314 255H321V263H314zM90 263H98V271H90zM344 263H352V271H344zM67 278H75V286H67zM337 278H352V286H337zM52 286H60V293H52zM106 286H113V293H106zM344 286H352V293H344zM44 293H52V301H44zM329 293H344V301H329zM60 301H67V309H60zM306 301H314V309H306zM337 301H344V309H337zM36 309H52V316H36zM60 309H67V316H60zM52 316H60V324H52zM83 332H90V339H83zM83 339H90V347H83zM36 355H52V362H36zM29 362H36V370H29zM60 362H67V370H60zM291 362H298V370H291zM67 370H75V377H67zM13 377H21V385H13zM29 377H44V385H29zM60 377H67V385H60zM36 385H44V392H36zM244 392H252V400H244z"/><path fill="#0000df" d="M113 -1H129V7H113zM183 -1H190V7H183zM244 -1H252V7H244zM90 7H98V15H90zM98 15H106V23H98zM98 23H113V31H98zM129 23H136V31H129zM83 31H90V38H83zM106 38H113V46H106zM267 38H275V46H267zM106 46H121V54H106zM267 46H275V54H267zM106 62H113V70H106zM275 62H283V70H275zM121 70H129V77H121zM136 70H144V77H136zM113 77H121V85H113zM121 85H144V93H121zM129 93H136V101H129zM214 93H221V101H214zM198 101H206V108H198zM113 108H121V116H113zM129 116H136V124H129zM291 116H298V124H291zM291 124H298V132H291zM183 132H190V140H183zM298 132H306V140H298zM121 140H129V147H121zM144 140H152V147H144zM183 140H190V147H183zM175 147H183V155H175zM129 155H136V163H129zM167 155H183V163H167zM206 155H221V163H206zM160 163H167V170H160zM175 163H183V170H175zM198 163H214V170H198zM175 170H183V178H175zM198 170H214V178H198zM175 178H183V186H175zM144 248H152V255H144zM329 263H337V271H329zM90 271H98V278H90zM60 278H67V286H60zM98 278H106V286H98zM113 278H121V286H113zM60 286H75V293H60zM98 286H106V293H98zM90 293H98V301H90zM67 301H83V309H67zM344 301H352V309H344zM52 309H60V316H52zM75 309H83V316H75zM21 316H29V324H21zM44 316H52V324H44zM67 316H75V324H67zM75 332H83V339H75zM229 332H237V339H229zM75 339H83V347H75zM60 347H75V355H60zM83 347H90V355H83zM83 355H90V362H83zM67 362H83V370H67zM44 370H52V377H44zM75 370H90V377H75zM21 377H29V385H21zM44 377H52V385H44zM13 385H21V392H13zM29 385H36V392H29zM237 400H252V408H237z"/><path fill="#0000af" d="M129 -1H136V7H129zM121 7H129V15H121zM144 77H152V85H144zM121 101H129V108H121zM291 132H298V140H291zM75 278H83V286H75zM75 286H83V293H75zM321 301H329V309H321z"/><path fill="#0000cf" d="M136 -1H144V7H136zM129 7H136V15H129zM113 15H121V23H113zM267 15H275V23H267zM75 38H83V46H75zM98 46H106V54H98zM121 54H129V62H121zM267 54H275V62H267zM136 62H144V70H136zM136 77H144V85H136zM152 77H160V85H152zM121 108H129V116H121zM121 116H129V124H121zM129 140H136V147H129zM160 147H175V155H160zM183 147H190V155H183zM160 155H167V163H160zM190 163H198V170H190zM214 163H221V170H214zM160 170H167V178H160zM190 170H198V178H190zM167 186H175V194H167zM321 255H329V263H321zM67 271H83V278H67zM90 278H98V286H90zM60 293H75V301H60zM314 301H321V309H314zM67 309H75V316H67zM75 355H83V362H75zM90 355H98V362H90zM83 362H90V370H83zM52 370H60V377H52zM67 392H75V400H67z"/><path fill="#00dfff" d="M144 -1H152V7H144zM152 7H160V15H152zM237 7H244V15H237zM221 15H229V23H221zM144 23H152V31H144zM206 23H214V31H206zM221 23H229V31H221zM152 31H160V38H152zM237 54H244V62H237zM244 62H252V70H244zM237 70H244V77H237zM167 124H175V132H167zM321 124H329V132H321zM337 132H344V140H337zM244 140H252V147H244zM260 140H275V147H260zM275 155H283V163H275zM244 163H252V170H244zM321 170H329V178H321zM337 170H344V178H337zM129 178H136V186H129zM267 178H275V186H267zM306 178H314V186H306zM198 186H206V194H198zM306 186H314V194H306zM175 194H183V201H175zM167 201H175V209H167zM260 201H267V209H260zM283 201H291V209H283zM160 209H167V217H160zM175 209H183V217H175zM214 209H221V217H214zM267 209H275V217H267zM237 217H260V224H237zM275 217H283V224H275zM314 217H321V224H314zM283 224H291V232H283zM306 232H314V240H306zM175 263H183V271H175zM275 263H283V271H275zM198 271H206V278H198zM214 271H221V278H214zM267 271H275V278H267zM221 278H229V286H221zM206 286H214V293H206zM229 286H237V293H229zM260 286H267V293H260zM136 293H144V301H136zM121 301H129V309H121zM152 301H167V309H152zM121 309H129V316H121zM106 316H113V324H106zM298 316H306V324H298zM160 324H167V332H160zM291 324H298V332H291zM121 339H129V347H121zM252 339H267V347H252zM291 339H298V347H291zM129 355H144V362H129zM167 370H175V377H167zM121 377H129V385H121zM175 377H183V385H175zM221 385H229V392H221z"/><path fill="#0060ff" d="M152 -1H160V7H152zM283 23H291V31H283zM206 31H214V38H206zM283 31H306V38H283zM167 38H175V46H167zM283 38H291V46H283zM306 46H314V54H306zM321 46H329V54H321zM175 54H183V62H175zM160 62H167V70H160zM321 70H329V77H321zM175 77H183V85H175zM190 77H198V85H190zM337 77H344V85H337zM90 85H98V93H90zM167 85H183V93H167zM190 85H198V93H190zM244 85H252V93H244zM298 85H306V93H298zM329 85H337V93H329zM344 85H352V93H344zM144 93H152V101H144zM175 93H190V101H175zM321 93H329V101H321zM337 93H344V101H337zM167 101H175V108H167zM344 101H352V108H344zM237 108H244V116H237zM260 108H267V116H260zM237 116H244V124H237zM152 132H160V140H152zM214 132H229V140H214zM275 132H283V140H275zM314 140H321V147H314zM344 140H352V147H344zM321 147H337V155H321zM237 155H244V163H237zM314 155H321V163H314zM144 186H152V194H144zM144 201H152V209H144zM337 201H344V209H337zM337 209H344V217H337zM144 217H152V224H144zM321 224H329V232H321zM98 263H106V271H98zM129 263H136V271H129zM298 271H306V278H298zM314 278H321V286H314zM144 286H152V293H144zM314 286H321V293H314zM298 293H306V301H298zM98 301H106V309H98zM237 301H244V309H237zM252 309H260V316H252zM221 324H229V332H221zM21 332H29V339H21zM167 339H175V347H167zM21 347H29V355H21zM13 355H21V362H13zM13 362H21V370H13zM121 362H129V370H121zM106 370H113V377H106zM90 377H98V385H90zM260 385H267V392H260zM183 423H190V430H183z"/><path fill="#0050ff" d="M160 -1H167V7H160zM198 -1H206V7H198zM214 -1H221V7H214zM175 7H183V15H175zM198 7H206V15H198zM267 23H275V31H267zM198 31H206V38H198zM306 38H321V46H306zM160 46H167V54H160zM283 46H291V54H283zM298 46H306V54H298zM183 54H190V62H183zM260 54H267V62H260zM198 62H206V70H198zM221 62H229V70H221zM337 62H344V70H337zM221 70H229V77H221zM291 77H306V85H291zM160 85H167V93H160zM183 85H190V93H183zM260 85H267V93H260zM321 85H329V93H321zM167 93H175V101H167zM244 93H252V101H244zM267 93H275V101H267zM183 101H190V108H183zM298 101H306V108H298zM136 108H144V116H136zM167 108H175V116H167zM152 116H160V124H152zM221 116H229V124H221zM144 124H160V132H144zM214 124H221V132H214zM275 124H283V132H275zM214 140H221V147H214zM291 147H298V155H291zM129 163H136V170H129zM283 186H291V194H283zM291 194H298V201H291zM344 194H352V201H344zM344 201H352V209H344zM321 209H329V217H321zM344 209H352V217H344zM329 217H344V224H329zM214 224H221V232H214zM329 224H337V232H329zM321 232H329V240H321zM306 271H314V278H306zM152 278H160V286H152zM244 293H252V301H244zM244 332H260V339H244zM44 339H60V347H44zM98 339H106V347H98zM98 347H106V355H98zM260 347H267V355H260zM21 355H29V362H21zM291 355H298V362H291zM36 392H52V400H36zM229 392H237V400H229z"/><path fill="#0000ff" d="M167 -1H175V7H167zM67 7H83V15H67zM98 7H106V15H98zM260 7H267V15H260zM83 15H90V23H83zM129 15H136V23H129zM183 15H190V23H183zM83 23H98V31H83zM113 23H121V31H113zM183 23H190V31H183zM113 31H121V38H113zM98 38H106V46H98zM275 38H283V46H275zM190 46H198V54H190zM344 46H352V54H344zM83 54H90V62H83zM98 54H106V62H98zM113 54H121V62H113zM144 54H152V62H144zM160 54H167V62H160zM275 54H283V62H275zM344 54H352V62H344zM121 62H129V70H121zM83 70H98V77H83zM106 70H121V77H106zM129 70H136V77H129zM121 77H129V85H121zM160 77H167V85H160zM275 77H283V85H275zM329 77H337V85H329zM98 85H106V93H98zM144 85H152V93H144zM214 85H229V93H214zM283 85H291V93H283zM113 93H121V101H113zM206 93H214V101H206zM229 93H237V101H229zM206 101H229V108H206zM190 108H198V116H190zM206 108H214V116H206zM221 108H229V116H221zM275 108H283V116H275zM291 108H298V116H291zM206 116H214V124H206zM298 116H306V124H298zM106 124H113V132H106zM183 124H190V132H183zM283 124H291V132H283zM190 132H198V140H190zM113 140H121V147H113zM152 140H160V147H152zM190 140H198V147H190zM237 140H244V147H237zM298 140H306V147H298zM113 147H121V155H113zM144 147H152V155H144zM214 147H221V155H214zM229 147H237V155H229zM306 147H314V155H306zM198 155H206V163H198zM229 155H237V163H229zM152 163H160V170H152zM214 170H221V178H214zM160 178H175V186H160zM190 178H198V186H190zM121 194H129V201H121zM129 201H136V209H129zM321 201H337V209H321zM344 232H352V240H344zM321 248H329V255H321zM314 263H321V271H314zM337 263H344V271H337zM98 271H106V278H98zM321 271H337V278H321zM321 278H337V286H321zM337 286H344V293H337zM52 293H60V301H52zM314 293H321V301H314zM36 301H60V309H36zM244 301H260V309H244zM29 309H36V316H29zM29 316H44V324H29zM83 316H90V324H83zM60 324H67V332H60zM83 324H90V332H83zM60 332H67V339H60zM237 332H244V339H237zM75 347H83V355H75zM29 355H36V362H29zM67 355H75V362H67zM36 362H44V370H36zM52 362H60V370H52zM90 362H98V370H90zM183 362H198V370H183zM6 370H13V377H6zM29 370H44V377H29zM60 370H67V377H60zM90 370H98V377H90zM291 370H298V377H291zM52 377H60V385H52zM44 385H60V392H44zM67 385H83V392H67zM75 392H83V400H75zM237 392H244V400H237zM252 392H260V400H252z"/><path fill="#0040ff" d="M175 -1H183V7H175zM206 -1H214V7H206zM167 7H175V15H167zM283 7H291V15H283zM198 15H206V23H198zM275 23H283V31H275zM136 31H144V38H136zM175 38H183V46H175zM206 38H221V46H206zM175 46H190V54H175zM206 46H229V54H206zM167 54H175V62H167zM214 54H221V62H214zM283 54H291V62H283zM298 54H306V62H298zM214 62H221V70H214zM298 62H306V70H298zM160 70H175V77H160zM190 70H198V77H190zM214 70H221V77H214zM337 70H344V77H337zM198 77H206V85H198zM229 77H237V85H229zM267 85H275V93H267zM275 93H283V101H275zM329 93H337V101H329zM175 101H183V108H175zM244 101H252V108H244zM175 108H183V116H175zM229 108H237V116H229zM252 108H260V116H252zM136 116H144V124H136zM267 116H275V124H267zM175 124H183V132H175zM221 124H237V132H221zM306 124H314V132H306zM106 132H113V140H106zM144 132H152V140H144zM175 132H183V140H175zM206 132H214V140H206zM206 140H214V147H206zM221 140H229V147H221zM291 140H298V147H291zM314 147H321V155H314zM183 186H190V194H183zM144 194H152V201H144zM237 201H244V209H237zM121 224H129V232H121zM144 224H152V232H144zM136 232H144V240H136zM314 240H329V248H314zM306 255H314V263H306zM136 263H160V271H136zM129 271H136V278H129zM144 271H160V278H144zM144 278H152V286H144zM298 301H306V309H298zM244 316H252V324H244zM44 332H60V339H44zM90 332H98V339H90zM175 362H183V370H175zM252 385H260V392H252zM52 392H60V400H52zM83 392H90V400H83zM175 423H183V430H175z"/><path fill="#00afff" d="M221 -1H229V7H221zM244 7H252V15H244zM252 46H260V54H252zM183 62H190V70H183zM229 62H237V70H229zM314 62H321V70H314zM229 70H237V77H229zM252 85H260V93H252zM306 93H314V101H306zM167 116H175V124H167zM337 116H344V124H337zM260 124H267V132H260zM329 132H337V140H329zM344 132H352V140H344zM244 155H252V163H244zM321 155H329V163H321zM337 155H344V163H337zM298 163H306V170H298zM237 170H244V178H237zM275 170H291V178H275zM198 178H214V186H198zM283 178H291V186H283zM136 186H144V194H136zM244 201H252V209H244zM152 209H160V217H152zM260 209H267V217H260zM283 209H291V217H283zM136 217H144V224H136zM229 217H237V224H229zM129 224H136V232H129zM229 224H237V232H229zM298 224H306V232H298zM221 232H229V240H221zM244 232H252V240H244zM244 240H260V248H244zM136 248H144V255H136zM229 248H237V255H229zM244 248H252V255H244zM121 263H129V271H121zM190 271H198V278H190zM260 278H267V286H260zM152 286H167V293H152zM221 286H229V293H221zM252 286H260V293H252zM113 301H121V309H113zM221 309H229V316H221zM121 316H129V324H121zM221 332H229V339H221zM260 332H267V339H260zM106 339H113V347H106zM121 347H129V355H121zM129 362H136V370H129zM136 370H144V377H136zM152 370H160V377H152zM229 377H237V385H229zM98 385H106V392H98zM144 385H160V392H144zM160 408H167V415H160zM221 408H229V415H221zM121 423H129V430H121z"/><path fill="#0080ff" d="M229 -1H237V7H229zM252 7H260V15H252zM136 15H144V23H136zM167 15H175V23H167zM214 31H221V38H214zM160 38H167V46H160zM252 38H260V46H252zM291 38H306V46H291zM291 46H298V54H291zM314 54H329V62H314zM190 62H198V70H190zM175 70H183V77H175zM314 70H321V77H314zM344 77H352V85H344zM237 85H244V93H237zM152 93H160V101H152zM252 93H260V101H252zM160 101H167V108H160zM306 108H314V116H306zM244 124H252V132H244zM267 124H275V132H267zM237 132H244V140H237zM337 140H344V147H337zM237 163H244V170H237zM136 178H144V186H136zM121 186H129V194H121zM190 186H198V194H190zM298 186H306V194H298zM337 186H352V194H337zM167 194H175V201H167zM152 217H160V224H152zM306 217H314V224H306zM252 232H260V240H252zM152 248H160V255H152zM291 263H298V271H291zM175 271H183V278H175zM198 278H206V286H198zM106 301H113V309H106zM90 309H98V316H90zM229 309H237V316H229zM244 309H252V316H244zM306 309H314V316H306zM252 316H260V324H252zM260 324H267V332H260zM13 332H21V339H13zM106 332H113V339H106zM13 347H21V355H13zM106 347H113V355H106zM175 347H183V355H175zM6 362H13V370H6zM90 385H98V392H90zM167 408H175V415H167z"/><path fill="#60ff9f" d="M237 -1H244V7H237zM267 147H275V155H267zM267 170H275V178H267zM244 186H260V194H244zM229 194H237V201H229zM244 194H252V201H244zM183 209H190V217H183zM275 232H283V240H275zM167 248H175V255H167zM229 278H237V286H229zM198 301H206V309H198zM160 309H167V316H160zM206 316H214V324H206zM283 324H291V332H283zM152 332H160V339H152zM267 332H275V339H267zM267 339H283V347H267zM283 355H291V362H283zM121 400H129V408H121zM175 400H183V408H175zM183 415H190V423H183z"/><path fill="#00efff" d="M260 -1H267V7H260zM229 23H237V31H229zM252 54H260V62H252zM252 62H260V70H252zM321 101H337V108H321zM275 140H283V147H275zM329 170H337V178H329zM344 170H352V178H344zM298 178H306V186H298zM329 178H337V186H329zM183 201H190V209H183zM291 209H298V217H291zM160 224H167V232H160zM244 224H252V232H244zM291 224H298V232H291zM306 240H314V248H306zM237 255H244V263H237zM283 255H291V263H283zM267 278H275V286H267zM214 286H221V293H214zM298 286H306V293H298zM291 293H298V301H291zM144 301H152V309H144zM214 301H221V309H214zM113 316H121V324H113zM160 316H167V324H160zM275 316H283V324H275zM106 324H113V332H106zM121 324H129V332H121zM214 324H221V332H214zM175 332H183V339H175zM129 347H136V355H129zM121 370H129V377H121zM160 370H167V377H160zM244 385H252V392H244zM136 408H144V415H136zM167 423H175V430H167z"/><path fill="#00bfff" d="M267 -1H275V7H267zM160 7H167V15H160zM214 7H221V15H214zM229 7H237V15H229zM206 15H214V23H206zM260 23H267V31H260zM221 31H229V38H221zM244 77H252V85H244zM314 77H321V85H314zM152 101H160V108H152zM160 108H167V116H160zM160 116H167V124H160zM337 124H352V132H337zM260 132H267V140H260zM321 132H329V140H321zM252 140H260V147H252zM283 155H298V163H283zM283 163H291V170H283zM344 163H352V170H344zM136 170H144V178H136zM291 170H298V178H291zM214 178H221V186H214zM275 178H283V186H275zM329 186H337V194H329zM306 194H321V201H306zM175 201H183V209H175zM306 201H314V209H306zM167 209H175V217H167zM283 217H298V224H283zM237 224H244V232H237zM306 224H314V232H306zM221 240H229V248H221zM237 240H244V248H237zM136 255H144V263H136zM113 263H121V271H113zM206 271H214V278H206zM160 278H167V286H160zM252 278H260V286H252zM136 301H144V309H136zM229 301H237V309H229zM98 309H106V316H98zM275 309H291V316H275zM221 316H229V324H221zM113 324H121V332H113zM298 324H306V332H298zM129 339H136V347H129zM113 347H121V355H113zM144 370H152V377H144zM206 370H214V377H206zM113 377H121V385H113zM136 377H152V385H136zM167 377H175V385H167zM221 377H229V385H221zM160 385H167V392H160zM214 408H221V415H214zM229 408H237V415H229zM121 415H136V423H121zM190 423H198V430H190z"/><path fill="#0030ff" d="M136 7H144V15H136zM260 15H267V23H260zM291 23H306V31H291zM183 31H198V38H183zM314 31H321V38H314zM136 38H144V46H136zM198 38H206V46H198zM221 38H229V46H221zM260 38H267V46H260zM321 38H329V46H321zM144 46H152V54H144zM260 46H267V54H260zM329 46H337V54H329zM206 54H214V62H206zM221 54H229V62H221zM291 54H298V62H291zM83 62H90V70H83zM206 62H214V70H206zM260 62H267V70H260zM344 62H352V70H344zM291 70H306V77H291zM83 77H90V85H83zM206 77H214V85H206zM321 77H329V85H321zM83 85H90V93H83zM229 85H237V93H229zM344 93H352V101H344zM129 101H136V108H129zM252 101H275V108H252zM291 101H298V108H291zM98 108H106V116H98zM214 108H221V116H214zM144 116H152V124H144zM183 116H190V124H183zM244 116H252V124H244zM275 116H283V124H275zM113 132H121V140H113zM306 132H314V140H306zM198 140H206V147H198zM136 155H144V163H136zM221 170H229V178H221zM152 178H160V186H152zM152 186H160V194H152zM175 186H183V194H175zM129 194H144V201H129zM152 194H167V201H152zM136 201H144V209H136zM214 217H221V224H214zM121 232H129V240H121zM329 232H344V240H329zM144 240H152V248H144zM337 248H352V255H337zM144 255H152V263H144zM344 255H352V263H344zM83 263H90V271H83zM306 263H314V271H306zM106 271H129V278H106zM136 271H144V278H136zM136 278H144V286H136zM113 286H121V293H113zM106 293H113V301H106zM314 309H321V316H314zM229 324H237V332H229zM106 355H113V362H106zM106 362H113V370H106zM206 362H214V370H206zM98 370H106V377H98zM83 377H90V385H83zM83 385H90V392H83z"/><path fill="#00cfff" d="M144 7H152V15H144zM221 7H229V15H221zM237 15H244V23H237zM214 23H221V31H214zM229 31H237V38H229zM237 46H244V54H237zM237 62H244V70H237zM306 85H314V93H306zM329 108H337V116H329zM321 116H337V124H321zM252 132H260V140H252zM275 163H283V170H275zM306 163H329V170H306zM298 170H314V178H298zM129 186H136V194H129zM314 186H329V194H314zM267 194H275V201H267zM283 194H291V201H283zM298 194H306V201H298zM291 201H298V209H291zM221 209H229V217H221zM237 209H244V217H237zM136 240H144V248H136zM214 240H221V248H214zM229 240H237V248H229zM221 248H229V255H221zM298 248H306V255H298zM167 263H175V271H167zM267 263H275V271H267zM167 271H175V278H167zM183 271H190V278H183zM190 278H198V286H190zM244 286H252V293H244zM152 293H160V301H152zM129 301H136V309H129zM291 309H306V316H291zM291 316H298V324H291zM113 332H129V339H113zM6 339H13V347H6zM113 339H121V347H113zM6 347H13V355H6zM121 355H129V362H121zM144 355H152V362H144zM198 370H206V377H198zM260 377H267V385H260zM121 385H129V392H121zM190 415H198V423H190z"/><path fill="#0020ff" d="M190 7H198V15H190zM283 15H291V23H283zM75 23H83V31H75zM190 23H198V31H190zM275 31H283V38H275zM321 31H337V38H321zM329 38H337V46H329zM152 46H160V54H152zM167 46H175V54H167zM337 46H344V54H337zM198 54H206V62H198zM337 54H344V62H337zM291 62H298V70H291zM206 70H214V77H206zM329 70H337V77H329zM98 77H106V85H98zM260 77H267V85H260zM152 85H160V93H152zM291 85H298V93H291zM98 93H106V101H98zM136 93H144V101H136zM291 93H298V101H291zM106 101H113V108H106zM298 108H306V116H298zM214 116H221V124H214zM136 124H144V132H136zM198 124H206V132H198zM121 132H129V140H121zM106 140H113V147H106zM160 140H167V147H160zM229 140H237V147H229zM129 147H136V155H129zM206 147H214V155H206zM237 147H244V155H237zM136 163H144V170H136zM229 163H237V170H229zM129 209H144V217H129zM344 217H352V224H344zM344 224H352V232H344zM129 232H136V240H129zM344 240H352V248H344zM314 248H321V255H314zM90 255H98V263H90zM337 255H344V263H337zM314 271H321V278H314zM129 278H136V286H129zM121 286H129V293H121zM136 286H144V293H136zM252 293H260V301H252zM90 301H98V309H90zM237 316H244V324H237zM237 324H244V332H237zM29 332H44V339H29zM44 347H60V355H44zM90 347H98V355H90zM160 355H175V362H160zM183 355H190V362H183zM21 362H29V370H21zM98 362H106V370H98zM60 385H67V392H60zM229 385H237V392H229zM60 392H67V400H60z"/><path fill="#008fff" d="M206 7H214V15H206zM214 15H221V23H214zM160 31H167V38H160zM144 38H160V46H144zM229 46H237V54H229zM306 54H314V62H306zM183 77H190V85H183zM237 77H244V85H237zM252 77H260V85H252zM337 85H344V93H337zM160 93H167V101H160zM314 93H321V101H314zM144 101H152V108H144zM306 101H314V108H306zM337 101H344V108H337zM152 108H160V116H152zM337 108H344V116H337zM267 132H275V140H267zM321 140H337V147H321zM298 155H306V163H298zM291 163H298V170H291zM144 170H152V178H144zM344 178H352V186H344zM291 186H298V194H291zM321 194H329V201H321zM129 217H136V224H129zM206 217H214V224H206zM321 217H329V224H321zM152 224H160V232H152zM152 232H160V240H152zM314 232H321V240H314zM152 240H160V248H152zM160 271H167V278H160zM275 271H283V278H275zM291 271H298V278H291zM214 278H221V286H214zM306 278H314V286H306zM113 293H121V301H113zM129 293H136V301H129zM229 293H237V301H229zM237 309H244V316H237zM260 309H267V316H260zM229 316H237V324H229zM260 316H267V324H260zM98 332H106V339H98zM160 332H167V339H160zM229 339H237V347H229zM267 347H275V355H267zM113 355H121V362H113zM152 355H160V362H152zM113 370H121V377H113zM175 370H190V377H175z"/><path fill="#0010ff" d="M267 7H283V15H267zM75 15H83V23H75zM90 15H98V23H90zM275 15H283V23H275zM175 31H183V38H175zM183 38H198V46H183zM83 46H90V54H83zM198 46H206V54H198zM106 54H113V62H106zM190 54H198V62H190zM90 62H98V70H90zM98 70H106V77H98zM152 70H160V77H152zM198 70H206V77H198zM283 70H291V77H283zM90 77H98V85H90zM167 77H175V85H167zM214 77H229V85H214zM267 77H275V85H267zM283 77H291V85H283zM113 85H121V93H113zM198 85H206V93H198zM275 85H283V93H275zM106 93H113V101H106zM121 93H129V101H121zM190 93H206V101H190zM237 93H244V101H237zM283 93H291V101H283zM98 101H106V108H98zM190 101H198V108H190zM229 101H237V108H229zM129 108H136V116H129zM183 108H190V116H183zM244 108H252V116H244zM267 108H275V116H267zM98 116H113V124H98zM113 124H121V132H113zM206 124H214V132H206zM129 132H144V140H129zM198 132H206V140H198zM283 132H291V140H283zM167 140H175V147H167zM306 140H314V147H306zM106 147H113V155H106zM121 147H129V155H121zM136 147H144V155H136zM198 147H206V155H198zM298 147H306V155H298zM337 147H352V155H337zM144 163H152V170H144zM152 170H160V178H152zM229 170H237V178H229zM160 186H167V194H160zM314 201H321V209H314zM121 217H129V224H121zM144 232H152V240H144zM329 240H344V248H329zM329 248H337V255H329zM329 255H337V263H329zM83 271H90V278H83zM337 271H352V278H337zM106 278H113V286H106zM121 278H129V286H121zM321 286H337V293H321zM98 293H106V301H98zM306 293H314V301H306zM321 293H329V301H321zM344 293H352V301H344zM329 301H337V309H329zM83 309H90V316H83zM60 316H67V324H60zM21 324H60V332H21zM67 324H83V332H67zM244 324H252V332H244zM67 332H75V339H67zM29 339H44V347H29zM60 339H75V347H60zM90 339H98V347H90zM29 347H44V355H29zM167 347H175V355H167zM52 355H67V362H52zM98 355H106V362H98zM175 355H183V362H175zM44 362H52V370H44zM198 362H206V370H198zM13 370H29V377H13zM67 377H83V385H67zM267 385H275V392H267z"/><path fill="#0000bf" d="M106 15H113V23H106zM121 23H129V31H121zM129 62H136V70H129zM144 70H152V77H144zM152 147H160V155H152zM152 155H160V163H152zM183 155H190V163H183zM167 163H175V170H167zM183 163H190V170H183zM321 263H329V271H321zM83 278H90V286H83zM83 286H98V293H83zM75 293H90V301H75zM83 301H90V309H83zM75 316H83V324H75zM21 385H29V392H21z"/><path fill="#10ffef" d="M144 15H152V23H144zM160 15H167V23H160zM160 23H167V31H160zM252 23H260V31H252zM237 38H244V46H237zM244 132H252V140H244zM252 147H260V155H252zM275 147H283V155H275zM260 155H267V163H260zM183 194H190V201H183zM275 194H283V201H275zM244 209H252V217H244zM252 224H260V232H252zM267 224H275V232H267zM214 248H221V255H214zM252 248H260V255H252zM244 263H252V271H244zM260 263H267V271H260zM283 263H291V271H283zM244 278H252V286H244zM237 286H244V293H237zM144 293H152V301H144zM206 293H214V301H206zM113 309H121V316H113zM214 309H221V316H214zM129 316H136V324H129zM291 332H298V339H291zM136 347H144V355H136zM136 362H144V370H136zM167 385H175V392H167zM221 392H229V400H221zM214 400H221V408H214z"/><path fill="#80ff80" d="M152 15H160V23H152zM244 31H252V38H244zM221 201H229V209H221zM298 232H306V240H298zM275 240H283V248H275zM214 255H221V263H214zM237 278H244V286H237zM275 278H283V286H275zM206 324H214V332H206zM206 332H214V339H206zM136 339H144V347H136zM198 377H206V385H198zM106 415H113V423H106zM106 423H113V430H106z"/><path fill="#20ffdf" d="M229 15H237V23H229zM237 23H244V31H237zM244 54H252V62H244zM129 170H136V178H129zM314 170H321V178H314zM260 224H267V232H260zM267 232H275V240H267zM160 255H175V263H160zM229 255H237V263H229zM244 255H252V263H244zM229 263H237V271H229zM221 271H229V278H221zM183 278H190V286H183zM190 293H198V301H190zM260 293H267V301H260zM206 301H214V309H206zM206 309H214V316H206zM98 316H106V324H98zM129 324H136V332H129zM283 332H291V339H283zM283 339H291V347H283zM190 377H198V385H190zM106 385H113V392H106zM113 408H121V415H113zM136 415H144V423H136z"/><path fill="#009fff" d="M244 15H252V23H244zM144 31H152V38H144zM260 31H267V38H260zM229 38H237V46H229zM244 38H252V46H244zM321 62H329V70H321zM252 70H260V77H252zM344 70H352V77H344zM306 77H314V85H306zM314 85H321V93H314zM314 101H321V108H314zM144 108H152V116H144zM175 116H183V124H175zM260 116H267V124H260zM344 116H352V124H344zM244 147H252V155H244zM329 155H337V163H329zM344 155H352V163H344zM121 170H129V178H121zM121 178H129V186H121zM144 178H152V186H144zM291 178H298V186H291zM337 178H344V186H337zM275 186H283V194H275zM337 194H344V201H337zM160 201H167V209H160zM298 209H306V217H298zM314 209H321V217H314zM298 217H306V224H298zM136 224H144V232H136zM221 224H229V232H221zM229 232H237V240H229zM260 232H267V240H260zM237 248H244V255H237zM298 255H306V263H298zM106 263H113V271H106zM160 263H167V271H160zM283 271H291V278H283zM121 293H129V301H121zM214 293H229V301H214zM221 301H229V309H221zM291 301H298V309H291zM267 309H275V316H267zM267 316H275V324H267zM98 324H106V332H98zM167 332H175V339H167zM13 339H21V347H13zM6 355H13V362H6zM190 355H198V362H190zM152 362H160V370H152zM129 370H136V377H129zM106 377H113V385H106zM129 377H136V385H129zM152 377H160V385H152zM113 385H121V392H113zM129 385H136V392H129zM221 400H237V408H221z"/><path fill="#0070ff" d="M252 15H260V23H252zM136 23H144V31H136zM167 23H175V31H167zM198 23H206V31H198zM167 31H175V38H167zM267 31H275V38H267zM306 31H314V38H306zM314 46H321V54H314zM229 54H237V62H229zM329 54H337V62H329zM167 62H183V70H167zM306 62H314V70H306zM329 62H337V70H329zM183 70H190V77H183zM306 70H314V77H306zM260 93H267V101H260zM298 93H306V101H298zM136 101H144V108H136zM344 108H352V116H344zM229 116H237V124H229zM252 116H260V124H252zM306 116H314V124H306zM160 124H167V132H160zM237 124H244V132H237zM252 124H260V132H252zM160 132H175V140H160zM229 132H237V140H229zM314 132H321V140H314zM283 140H291V147H283zM283 147H291V155H283zM306 155H314V163H306zM121 163H129V170H121zM329 194H337V201H329zM152 201H160V209H152zM298 201H306V209H298zM144 209H152V217H144zM306 209H314V217H306zM329 209H337V217H329zM221 217H229V224H221zM314 224H321V232H314zM337 224H344V232H337zM306 248H314V255H306zM152 255H160V263H152zM291 255H298V263H291zM298 263H306V271H298zM206 278H214V286H206zM129 286H136V293H129zM306 286H314V293H306zM237 293H244V301H237zM90 316H98V324H90zM306 316H314V324H306zM90 324H98V332H90zM252 324H260V332H252zM21 339H29V347H21zM113 362H121V370H113zM160 362H167V370H160zM98 377H106V385H98zM136 385H144V392H136z"/><path fill="#00ffff" d="M152 23H160V31H152zM237 31H244V38H237zM252 31H260V38H252zM244 46H252V54H244zM314 108H329V116H314zM314 116H321V124H314zM314 124H321V132H314zM329 124H337V132H329zM252 155H260V163H252zM267 155H275V163H267zM329 163H344V170H329zM321 178H329V186H321zM252 194H267V201H252zM229 201H237V209H229zM275 201H283V209H275zM229 209H237V217H229zM252 209H260V217H252zM160 217H167V224H160zM160 232H167V240H160zM237 232H244V240H237zM160 240H167V248H160zM260 240H267V248H260zM160 248H167V255H160zM252 271H267V278H252zM198 286H206V293H198zM160 293H167V301H160zM198 293H206V301H198zM260 301H267V309H260zM106 309H113V316H106zM129 309H136V316H129zM214 316H221V324H214zM283 316H291V324H283zM129 332H136V339H129zM221 339H229V347H221zM160 347H167V355H160zM252 347H260V355H252zM267 377H275V385H267zM198 408H206V415H198z"/><path fill="#50ffaf" d="M244 23H252V31H244zM260 147H267V155H260zM252 163H260V170H252zM267 201H275V209H267zM283 232H291V240H283zM267 240H275V248H267zM252 255H260V263H252zM229 271H237V278H229zM167 286H175V293H167zM267 286H275V293H267zM291 286H298V293H291zM267 324H275V332H267zM98 392H113V400H98zM175 408H183V415H175zM113 415H121V423H113zM167 415H175V423H167zM160 423H167V430H160z"/><path fill="#30ffcf" d="M244 70H252V77H244zM314 178H321V186H314zM267 186H275V194H267zM260 217H275V224H260zM275 224H283V232H275zM221 255H229V263H221zM183 263H190V271H183zM175 278H183V286H175zM298 278H306V286H298zM190 286H198V293H190zM283 301H291V309H283zM144 362H152V370H144zM183 377H190V385H183zM113 392H129V400H113zM106 400H113V408H106zM121 408H136V415H121zM175 415H183V423H175z"/><path fill="#efff10" d="M260 163H267V170H260zM167 240H175V248H167zM275 248H283V255H275zM275 286H291V293H275zM275 355H283V362H275zM283 362H291V370H283zM136 392H144V400H136zM144 408H152V415H144z"/><path fill="#afff50" d="M267 163H275V170H267zM283 293H291V301H283zM275 324H283V332H275zM237 347H244V355H237zM267 370H275V377H267zM129 392H136V400H129zM90 400H98V408H90zM183 400H190V408H183zM152 408H160V415H152z"/><path fill="#bfff40" d="M244 170H252V178H244zM298 240H306V248H298zM121 255H129V263H121zM175 286H183V293H175zM275 332H283V339H275zM160 339H167V347H160zM198 347H214V355H198zM214 385H221V392H214zM214 392H221V400H214zM129 400H136V408H129z"/><path fill="#ff9f00" d="M252 170H260V178H252zM221 194H229V201H221zM183 232H190V240H183zM183 240H190V248H183zM136 324H144V332H136zM167 400H175V408H167zM136 423H144V430H136z"/><path fill="#ffbf00" d="M260 170H267V178H260zM206 194H214V201H206zM283 240H291V248H283zM214 332H221V339H214zM244 355H252V362H244zM275 370H283V377H275zM98 400H106V408H98z"/><path fill="#8fff70" d="M221 178H229V186H221zM190 201H198V209H190zM190 209H198V217H190zM190 232H198V240H190zM291 248H298V255H291zM275 255H283V263H275zM198 263H206V271H198zM167 278H175V286H167zM291 278H298V286H291zM190 301H198V309H190zM198 309H206V316H198zM106 408H113V415H106z"/><path fill="#ff8000" d="M229 178H237V186H229zM244 178H252V186H244zM214 194H221V201H214zM206 201H214V209H206zM144 316H152V324H144zM237 339H244V347H237zM152 423H160V430H152z"/><path fill="#ff1000" d="M237 178H244V186H237zM175 316H183V324H175zM221 370H237V377H221zM144 400H152V408H144zM98 423H106V430H98z"/><path fill="#ef0000" d="M252 178H260V186H252zM198 339H206V347H198zM221 362H229V370H221zM98 408H106V415H98z"/><path fill="#70ff8f" d="M260 178H267V186H260zM190 194H198V201H190zM237 194H244V201H237zM214 201H221V209H214zM198 217H206V224H198zM129 248H136V255H129zM98 255H106V263H98zM190 263H198V271H190zM244 271H252V278H244zM167 324H175V332H167zM175 339H183V347H175zM229 347H237V355H229zM214 362H221V370H214zM90 408H98V415H90zM113 423H121V430H113z"/><path fill="#ffef00" d="M206 186H214V194H206zM121 240H129V248H121zM167 316H175V324H167zM244 339H252V347H244zM252 355H260V362H252zM190 408H198V415H190zM152 415H160V423H152z"/><path fill="#ff5000" d="M214 186H221V194H214zM183 224H190V232H183zM175 232H183V240H175zM106 255H113V263H106zM183 309H190V316H183zM144 324H152V332H144z"/><path fill="#ff3000" d="M221 186H229V194H221zM183 301H190V309H183zM152 316H160V324H152zM183 324H190V332H183zM198 332H206V339H198zM167 392H175V400H167zM190 392H198V400H190zM98 415H106V423H98z"/><path fill="#ff4000" d="M229 186H244V194H229zM175 224H183V232H175zM190 255H198V263H190zM167 309H183V316H167zM152 324H160V332H152zM152 392H160V400H152z"/><path fill="#40ffbf" d="M260 186H267V194H260zM252 201H260V209H252zM275 209H283V217H275zM167 217H175V224H167zM129 240H136V248H129zM129 255H136V263H129zM214 263H229V271H214zM237 263H244V271H237zM252 263H260V271H252zM152 309H160V316H152zM214 370H221V377H214zM175 385H183V392H175zM237 385H244V392H237zM90 392H98V400H90zM113 400H121V408H113z"/><path fill="#ffaf00" d="M198 194H206V201H198zM198 201H206V209H198zM175 248H183V255H175zM275 301H283V309H275zM190 309H198V316H190zM214 347H229V355H214zM252 362H260V370H252zM183 385H190V392H183zM152 400H160V408H152z"/><path fill="#00009f" d="M121 209H129V217H121z"/><path fill="#cfff30" d="M198 209H206V217H198zM175 217H190V224H175zM291 232H298V240H291zM190 240H198V248H190zM291 240H298V248H291zM260 248H275V255H260zM283 248H291V255H283zM206 255H214V263H206zM237 271H244V278H237zM183 293H190V301H183zM267 293H275V301H267zM175 324H183V332H175zM283 370H291V377H283z"/><path fill="#9fff60" d="M206 209H214V217H206zM175 255H183V263H175zM260 255H275V263H260zM183 286H190V293H183zM167 293H175V301H167zM136 332H144V339H136zM260 370H267V377H260zM136 400H144V408H136z"/><path fill="#ffcf00" d="M190 217H198V224H190zM275 293H283V301H275zM267 301H275V309H267zM136 309H152V316H136zM144 347H160V355H144zM214 355H221V362H214zM244 362H252V370H244zM275 362H283V370H275zM214 377H221V385H214zM198 392H206V400H198zM183 408H190V415H183z"/><path fill="#dfff20" d="M167 224H175V232H167zM206 263H214V271H206zM90 415H98V423H90zM160 415H167V423H160z"/><path fill="#ffff00" d="M190 224H198V232H190zM283 278H291V286H283zM198 316H206V324H198zM214 339H221V347H214zM183 347H190V355H183zM237 370H244V377H237z"/><path fill="#ffdf00" d="M167 232H175V240H167zM144 339H152V347H144zM190 347H198V355H190zM244 347H252V355H244zM237 377H260V385H237zM144 392H152V400H144zM129 423H136V430H129z"/><path fill="#ff6000" d="M175 240H183V248H175zM190 248H198V255H190zM183 255H190V263H183zM144 332H152V339H144zM160 400H167V408H160zM144 415H152V423H144zM144 423H152V430H144z"/><path fill="#ff7000" d="M121 248H129V255H121zM198 255H206V263H198zM167 301H175V309H167zM160 392H167V400H160z"/><path fill="#df0000" d="M183 248H190V255H183zM183 392H190V400H183z"/><path fill="#ff8f00" d="M113 255H121V263H113zM136 316H144V324H136zM152 339H160V347H152zM206 339H214V347H206z"/><path fill="#ff0000" d="M175 293H183V301H175zM198 400H206V408H198z"/><path fill="#ff2000" d="M175 301H183V309H175zM252 370H260V377H252z"/><path fill="#800000" d="M183 316H190V324H183zM190 324H198V332H190zM183 332H198V339H183zM183 339H190V347H183zM221 355H244V362H221zM229 362H244V370H229zM190 385H206V392H190zM175 392H183V400H175zM90 423H98V430H90z"/><path fill="#cf0000" d="M190 316H198V324H190zM190 400H198V408H190z"/><path fill="#bf0000" d="M198 324H206V332H198zM190 339H198V347H190z"/></g>
<use href="#coastl"/>
<path d="M250.2 174.4L255.9 171.3L263.6 166.8L266.4 174.4L263.6 177.5L261.3 182.1L255.9 187.3L248.2 185.9L245.0 189.8L240.4 194.6L232.7 194.5L228.6 197.5L225.1 201.6L217.3 201.7L213.7 205.2L209.7 210.3L201.9 211.1L198.0 205.2L198.4 197.5L201.9 195.4L208.9 189.8L209.7 189.1L217.3 186.8L225.1 184.4L228.1 182.1L232.8 180.3L240.4 178.6L248.2 176.0L250.2 174.4M194.2 229.3L190.8 236.0L192.5 243.7L194.2 244.9M125.0 243.1L126.3 243.7L129.3 251.4L125.0 257.3L123.0 259.0L117.2 261.4L109.5 261.9L104.8 259.0M283.5 243.7L286.7 241.2L292.1 243.7L286.7 249.4L283.5 243.7M277.9 251.4L279.0 251.0L280.2 251.4L279.0 251.7L277.9 251.4M208.3 259.0L201.9 264.1L194.2 263.8L186.6 262.6L181.4 259.0L178.9 255.3L175.9 251.4L171.2 243.7L171.2 243.6L169.8 236.0L171.2 229.9L171.6 228.3L178.8 221.6L186.6 221.4L188.7 220.6L194.2 217.7L196.7 220.6L195.1 227.5M285.4 282.0L286.7 281.5L288.1 282.0L286.9 289.7L286.7 290.3L282.6 297.3L281.7 305.0L279.0 306.9L271.2 306.3L269.5 305.0L271.2 299.2L273.3 297.3L278.8 289.7L279.0 289.5L285.4 282.0M138.7 312.6L140.3 311.2L148.1 311.0L150.3 312.6L155.8 316.0L159.3 320.2L159.0 327.8L155.8 332.3L152.3 335.5L155.8 339.4L161.3 343.1L157.5 350.7L155.8 352.0L148.1 352.0L146.4 350.7L145.6 343.1L142.6 335.5L140.3 332.5L137.6 327.8L137.5 320.2L138.7 312.6M213.4 354.4L212.3 350.7L209.7 348.4L201.9 349.5L198.0 350.7L194.2 351.7L186.6 351.1L186.0 350.7L180.3 343.1L181.2 335.5L179.7 327.8L178.8 327.1L171.2 322.0L170.2 320.2L166.6 312.6L168.3 305.0L171.2 299.9L173.0 297.3L178.8 290.8L185.6 297.3L186.6 298.4L192.0 305.0L194.2 308.6L198.1 312.6L201.9 319.3L202.6 320.2L207.7 327.8L207.3 335.5L209.7 338.9L213.9 335.5L217.3 333.6L219.0 335.5L218.0 343.1L225.1 348.5L228.4 350.7L232.8 352.1L240.5 351.4L244.5 350.7L240.4 348.4L238.2 343.1L240.4 341.4L248.2 342.6L248.9 343.1L249.6 350.7L255.8 357.3L256.5 357.7M279.0 358.4L286.7 365.4L286.8 365.9L286.7 367.8L284.7 373.5M260.0 370.0L261.6 373.5L257.1 381.1L255.8 382.0L248.2 382.4L240.4 383.0L239.3 381.1L232.8 376.9L225.1 377.0L220.5 373.5L219.8 365.9L217.3 360.7L216.5 359.2M216.1 379.8L217.3 379.1L218.6 381.1L217.3 385.7M276.9 375.5L274.4 373.5L274.7 370.1M201.9 407.9L195.3 411.4L194.2 412.3L186.6 414.0L184.1 411.4L186.6 407.1L187.7 403.8L186.6 402.7L178.8 402.4L174.6 403.8L171.2 405.6L163.4 406.5L155.8 408.4L148.1 411.4L142.2 403.8L140.3 396.7L139.8 396.3L140.3 396.2L148.1 395.3L155.8 393.2L163.4 393.7L171.2 392.4L178.8 390.5L183.7 388.7L186.6 386.0L194.2 383.0L201.9 382.2M94.2 419.1L94.6 419.0L96.5 411.4L97.4 403.8L101.8 401.2L104.2 403.8L107.7 411.4L106.9 419.0L107.2 426.5M131.6 426.5L132.7 425.4L140.3 423.7L144.4 419.0L148.1 411.4L155.8 416.2L162.4 419.0L159.5 426.5" fill="none" stroke="#000" stroke-width="0.9" stroke-linejoin="round"/><text transform="translate(190.0,230.0) rotate(-70)" font-size="13.5" text-anchor="middle" fill="#111">30</text><text transform="translate(120.0,270.0) rotate(10)" font-size="13.5" text-anchor="middle" fill="#111">30</text><text transform="translate(275.0,260.0) rotate(0)" font-size="13.5" text-anchor="middle" fill="#111">30</text><text transform="translate(280.0,305.0) rotate(-55)" font-size="13.5" text-anchor="middle" fill="#111">30</text><text transform="translate(155.0,355.0) rotate(-55)" font-size="13.5" text-anchor="middle" fill="#111">30</text><text transform="translate(235.0,345.0) rotate(-15)" font-size="13.5" text-anchor="middle" fill="#111">30</text><text transform="translate(282.0,335.0) rotate(-60)" font-size="13.5" text-anchor="middle" fill="#111">30</text><text transform="translate(108.0,418.0) rotate(-85)" font-size="13.5" text-anchor="middle" fill="#111">30</text>
</g>
<use href="#stars"/>
<use href="#frame"/>
<rect x="3.5" y="20.5" width="113.0" height="25.0" fill="url(#jetg)" stroke="#262626" stroke-width="1"/><text x="285.0" y="38.0" font-size="21">10 km</text><path d="M305.0 42.5h14" stroke="#000" stroke-width="3.4" stroke-linecap="round"/><text x="173" y="-11" text-anchor="middle" font-size="20.5" font-weight="bold">FitDif TotalErrors (30)</text><text x="36" y="-18.5" font-size="20" fill="#262626">cm/s</text><text x="-3" y="8" font-size="20" fill="#262626">0</text><text x="86" y="8" font-size="20" fill="#262626">50</text>
</g>
<text x="452.5" y="750.3" text-anchor="end" font-size="21">37°N</text>
<text x="452.5" y="894.4" text-anchor="end" font-size="21">36°N</text>
<text x="452.5" y="1036.7" text-anchor="end" font-size="21">35°N</text>
<text x="452.5" y="1177.3" text-anchor="end" font-size="21">34°N</text>
<text x="452.5" y="819.8" text-anchor="end" font-size="15.5">30'</text>
<text x="452.5" y="963.0" text-anchor="end" font-size="15.5">30'</text>
<text x="452.5" y="1104.4" text-anchor="end" font-size="15.5">30'</text>
<text x="519.0" y="1190.5" text-anchor="middle" font-size="21">76°W</text>
<text x="635.0" y="1190.5" text-anchor="middle" font-size="21">75°W</text>
<text x="751.0" y="1190.5" text-anchor="middle" font-size="21">74°W</text>
<text x="458.0" y="1186.5" text-anchor="middle" font-size="15.5">30'</text>
<text x="574.0" y="1186.5" text-anchor="middle" font-size="15.5">30'</text>
<text x="690.0" y="1186.5" text-anchor="middle" font-size="15.5">30'</text>
<text x="806.0" y="1186.5" text-anchor="middle" font-size="15.5">30'</text>
<g transform="translate(843,742)">
<g clip-path="url(#pc)">
<use href="#land"/>
<use href="#grid"/>
<g shape-rendering="crispEdges"><path fill="#0000af" d="M67 -1H90V7H67zM275 -1H352V7H275zM291 7H352V15H291zM291 15H352V23H291zM298 23H352V31H298zM337 31H352V38H337zM337 38H352V46H337zM98 124H106V132H98zM113 155H129V163H113zM113 163H121V170H113zM121 201H129V209H121z"/><path fill="#0050ff" d="M90 -1H152V7H90zM67 7H144V15H67zM75 15H144V23H75zM75 23H144V31H75zM75 31H144V38H75zM75 38H144V46H75zM75 46H136V54H75zM83 54H136V62H83zM83 62H136V70H83zM83 70H136V77H83zM83 77H144V85H83zM83 85H160V93H83zM90 93H160V101H90zM90 101H144V108H90zM98 108H129V116H98zM98 116H129V124H98zM106 124H129V132H106zM106 132H144V140H106zM106 140H136V147H106zM106 147H129V155H106z"/><path fill="#008fff" d="M152 -1H252V7H152zM144 7H260V15H144zM144 15H252V23H144zM144 23H260V31H144zM144 31H260V38H144zM144 38H252V46H144zM136 46H252V54H136zM136 54H252V62H136zM136 62H244V70H136zM136 70H244V77H136zM144 77H244V85H144zM160 85H244V93H160zM160 93H237V101H160zM144 101H237V108H144zM129 108H252V116H129zM129 116H267V124H129zM129 124H183V132H129zM190 124H267V132H190zM144 132H175V140H144zM190 132H267V140H190zM136 140H167V147H136zM183 140H237V147H183zM244 140H267V147H244zM129 147H229V155H129zM244 147H275V155H244zM152 155H221V163H152zM244 155H267V163H244zM160 163H221V170H160zM167 170H214V178H167zM190 178H206V186H190zM190 194H214V201H190zM190 201H221V209H190zM198 209H214V217H198z"/><path fill="#0000ef" d="M252 -1H275V7H252zM260 7H291V15H260zM252 15H291V23H252zM260 23H298V31H260zM260 31H337V38H260zM252 38H337V46H252zM252 46H352V54H252zM252 54H352V62H252zM244 62H352V70H244zM244 70H352V77H244zM244 77H352V85H244zM244 85H352V93H244zM237 93H352V101H237zM237 101H352V108H237zM252 108H352V116H252zM267 116H352V124H267zM183 124H190V132H183zM267 124H352V132H267zM175 132H190V140H175zM267 132H352V140H267zM167 140H183V147H167zM237 140H244V147H237zM267 140H352V147H267zM229 147H244V155H229zM275 147H352V155H275zM129 155H152V163H129zM221 155H244V163H221zM267 155H352V163H267zM121 163H160V170H121zM221 163H352V170H221zM121 170H167V178H121zM214 170H352V178H214zM121 178H190V186H121zM206 178H352V186H206zM121 186H352V194H121zM121 194H190V201H121zM214 194H352V201H214zM129 201H152V209H129zM175 201H190V209H175zM221 201H352V209H221zM121 209H152V217H121zM183 209H198V217H183zM214 209H352V217H214zM190 217H352V224H190zM190 224H352V232H190zM198 232H352V240H198zM198 240H352V248H198zM198 248H352V255H198zM206 255H352V263H206zM214 263H352V271H214zM229 271H352V278H229zM229 278H352V286H229zM229 286H352V293H229zM221 293H329V301H221zM337 293H352V301H337zM221 301H329V309H221zM337 301H352V309H337zM183 309H190V316H183zM221 309H321V316H221zM221 316H314V324H221zM183 324H190V332H183zM214 324H306V332H214zM221 332H298V339H221zM198 339H275V347H198zM198 347H260V355H198zM275 347H298V355H275zM198 355H260V362H198zM275 355H298V362H275zM167 362H175V370H167zM198 362H291V370H198zM190 370H244V377H190zM252 370H275V377H252zM160 377H167V385H160zM214 377H267V385H214zM214 385H260V392H214zM206 392H252V400H206zM198 400H237V408H198zM198 408H237V415H198zM198 415H237V423H198zM198 423H237V430H198z"/><path fill="#20ffdf" d="M152 201H175V209H152zM152 209H183V217H152zM152 217H190V224H152zM152 224H190V232H152zM144 232H190V240H144zM152 240H190V248H152zM152 248H190V255H152zM167 255H190V263H167zM198 255H206V263H198zM167 263H214V271H167zM175 271H229V278H175zM175 278H229V286H175zM175 286H229V293H175zM175 293H221V301H175zM167 301H221V309H167zM167 309H183V316H167zM190 309H221V316H190zM175 316H221V324H175zM175 324H183V332H175zM190 324H214V332H190zM183 332H221V339H183zM183 339H198V347H183zM183 347H198V355H183zM198 377H214V385H198zM206 385H214V392H206z"/><path fill="#ffbf00" d="M121 217H129V224H121z"/><path fill="#800000" d="M129 217H152V224H129zM129 224H152V232H129zM136 232H144V240H136zM136 240H152V248H136zM144 248H152V255H144zM160 263H167V271H160zM167 271H175V278H167zM167 278H175V286H167z"/><path fill="#af0000" d="M121 224H129V232H121zM121 232H136V240H121zM121 240H136V248H121zM129 248H144V255H129zM106 255H121V263H106zM129 255H144V263H129zM106 263H113V271H106zM152 263H160V271H152zM106 271H121V278H106zM152 271H167V278H152zM98 278H121V286H98zM152 278H167V286H152zM98 286H121V293H98zM129 286H144V293H129zM160 286H167V293H160zM98 293H144V301H98zM98 301H144V309H98zM98 309H152V316H98zM98 316H152V324H98zM98 324H152V332H98zM98 332H144V339H98zM98 339H129V347H98zM136 339H160V347H136zM98 347H129V355H98zM136 347H160V355H136zM98 355H160V362H98zM90 362H152V370H90zM90 370H144V377H90zM90 377H98V385H90zM113 377H136V385H113zM90 385H98V392H90z"/><path fill="#10ffef" d="M190 232H198V240H190zM190 240H198V248H190zM121 248H129V255H121zM190 248H198V255H190zM121 255H129V263H121zM144 255H167V263H144zM190 255H198V263H190zM113 263H152V271H113zM121 271H152V278H121zM121 278H152V286H121zM121 286H129V293H121zM144 286H160V293H144zM167 286H175V293H167zM144 293H175V301H144zM144 301H167V309H144zM152 309H167V316H152zM152 316H175V324H152zM152 324H175V332H152zM144 332H183V339H144zM129 339H136V347H129zM160 339H183V347H160zM129 347H136V355H129zM160 347H183V355H160zM160 355H198V362H160zM152 362H167V370H152zM175 362H198V370H175zM144 370H190V377H144zM98 377H113V385H98zM136 377H160V385H136zM167 377H198V385H167zM98 385H206V392H98zM90 392H206V400H90zM90 400H198V408H90zM90 408H198V415H90zM90 415H198V423H90zM90 423H198V430H90z"/><path fill="#ef0000" d="M90 255H106V263H90zM83 263H106V271H83zM67 271H106V278H67zM60 278H98V286H60zM52 286H98V293H52zM44 293H98V301H44zM36 301H98V309H36zM29 309H98V316H29zM21 316H98V324H21zM13 324H98V332H13zM6 332H98V339H6zM6 339H98V347H6zM6 347H98V355H6zM6 355H98V362H6zM6 362H90V370H6zM6 370H90V377H6zM6 377H90V385H6zM13 385H90V392H13zM36 392H90V400H36z"/><path fill="#0000cf" d="M329 293H337V301H329zM329 301H337V309H329zM321 309H352V316H321zM314 316H352V324H314zM306 324H352V332H306zM298 332H352V339H298zM275 339H352V347H275zM260 347H275V355H260zM298 347H329V355H298zM337 347H352V355H337zM260 355H275V362H260zM298 355H321V362H298zM329 355H352V362H329zM291 362H314V370H291zM321 362H352V370H321zM244 370H252V377H244zM275 370H314V377H275zM321 370H344V377H321zM267 377H306V385H267zM321 377H337V385H321zM260 385H329V392H260zM252 392H321V400H252zM237 400H314V408H237zM237 408H298V415H237zM237 415H244V423H237zM252 415H267V423H252zM275 415H291V423H275zM237 423H244V430H237zM252 423H267V430H252zM275 423H291V430H275z"/><path fill="#009fff" d="M13 316H21V324H13zM6 385H13V392H6zM6 392H36V400H6zM6 400H90V408H6zM6 408H90V415H6zM6 415H90V423H6zM6 423H90V430H6z"/><path fill="#00008f" d="M329 347H337V355H329zM321 355H329V362H321zM314 362H321V370H314zM314 370H321V377H314zM306 377H321V385H306zM344 385H352V392H344zM337 392H352V400H337zM329 400H352V408H329zM298 408H306V415H298zM329 408H352V415H329zM244 415H252V423H244zM267 415H275V423H267zM291 415H314V423H291zM321 415H352V423H321zM244 423H252V430H244zM267 423H275V430H267zM291 423H314V430H291zM321 423H352V430H321z"/><path fill="#0000bf" d="M344 370H352V377H344zM337 377H352V385H337zM329 385H344V392H329zM321 392H337V400H321zM314 400H329V408H314zM306 408H329V415H306zM314 415H321V423H314zM314 423H321V430H314z"/></g>
<use href="#coastl"/>
</g>
<use href="#stars"/>
<use href="#frame"/>
<rect x="3.5" y="20.5" width="113.0" height="25.0" fill="url(#jetg)" stroke="#262626" stroke-width="1"/><text x="285.0" y="38.0" font-size="21">10 km</text><path d="M305.0 42.5h14" stroke="#000" stroke-width="3.4" stroke-linecap="round"/><text x="174" y="-12.5" text-anchor="middle" font-size="25" font-weight="bold">Site Codes</text><text x="-3" y="8" font-size="20" fill="#262626">0</text><text x="96" y="8" font-size="20" fill="#262626">50</text>
</g>
<text x="836.5" y="750.3" text-anchor="end" font-size="21">37°N</text>
<text x="836.5" y="894.4" text-anchor="end" font-size="21">36°N</text>
<text x="836.5" y="1036.7" text-anchor="end" font-size="21">35°N</text>
<text x="836.5" y="1177.3" text-anchor="end" font-size="21">34°N</text>
<text x="836.5" y="819.8" text-anchor="end" font-size="15.5">30'</text>
<text x="836.5" y="963.0" text-anchor="end" font-size="15.5">30'</text>
<text x="836.5" y="1104.4" text-anchor="end" font-size="15.5">30'</text>
<text x="903.0" y="1190.5" text-anchor="middle" font-size="21">76°W</text>
<text x="1019.0" y="1190.5" text-anchor="middle" font-size="21">75°W</text>
<text x="1135.0" y="1190.5" text-anchor="middle" font-size="21">74°W</text>
<text x="842.0" y="1186.5" text-anchor="middle" font-size="15.5">30'</text>
<text x="958.0" y="1186.5" text-anchor="middle" font-size="15.5">30'</text>
<text x="1074.0" y="1186.5" text-anchor="middle" font-size="15.5">30'</text>
<text x="1190.0" y="1186.5" text-anchor="middle" font-size="15.5">30'</text>
</svg></body></html>
